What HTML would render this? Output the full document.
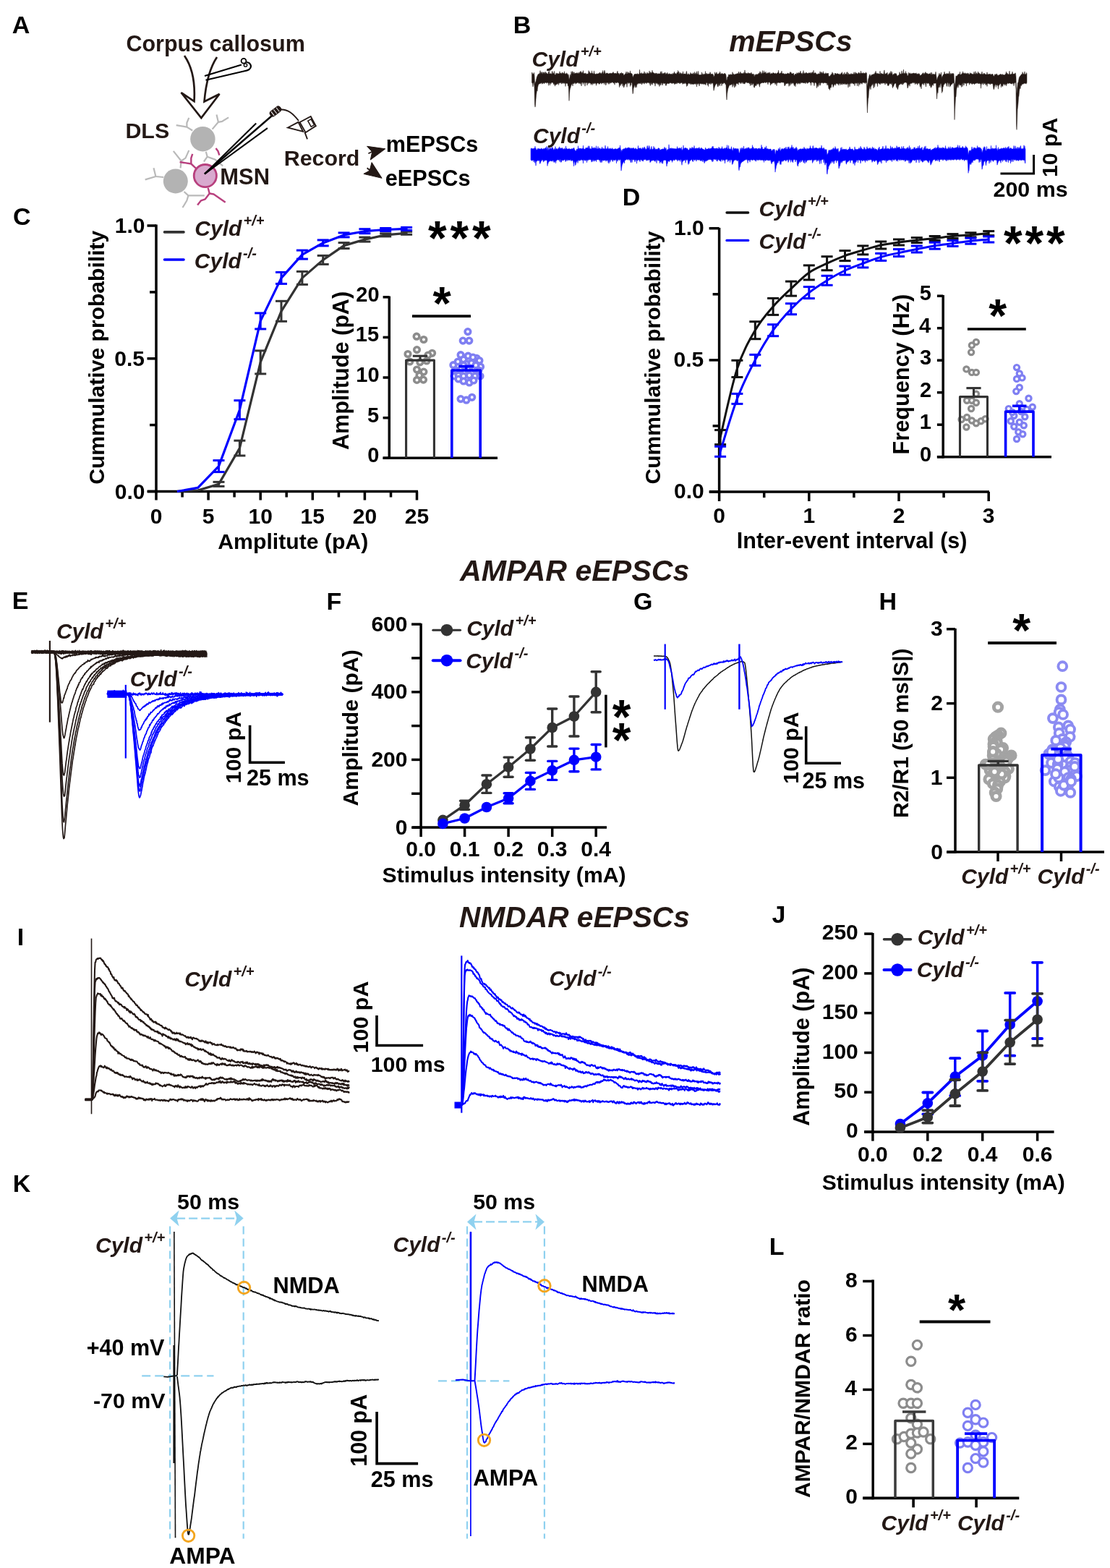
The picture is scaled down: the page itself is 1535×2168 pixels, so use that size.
<!DOCTYPE html>
<html><head><meta charset="utf-8"><title>Figure</title>
<style>html,body{margin:0;padding:0;background:#fff;}body{width:1535px;height:2168px;overflow:hidden;}svg{display:block;}</style>
</head><body>
<svg width="1535" height="2168" viewBox="0 0 1535 2168" font-family="'Liberation Sans', Arial, Helvetica, sans-serif">
<rect width="1535" height="2168" fill="#fff"/>
<text x="16.8" y="45.8" font-size="34" font-weight="bold" fill="#000" text-anchor="start">A</text>
<text x="174.4" y="70.8" font-size="30.5" font-weight="bold" fill="#231815" text-anchor="start">Corpus callosum</text>
<path d="M255,77 Q271,100 268.5,140 L250.5,128 L278.3,163 L303.5,130 L282.5,140.5 Q286,100 300,79" fill="#fff" stroke="#231815" stroke-width="2.7" stroke-linejoin="miter"/>
<path d="M283,105 L334,89.5" fill="none" stroke="#000" stroke-width="2.2"/>
<path d="M284.5,110.8 L337,98.5 Q347,97 347,91.5 Q346,86 340.5,86" fill="none" stroke="#000" stroke-width="2.2"/>
<circle cx="337" cy="84.3" r="3.4" fill="#fff" stroke="#000" stroke-width="1.8"/>
<circle cx="339.5" cy="90" r="2.2" fill="none" stroke="#000" stroke-width="1.3"/>
<polyline points="266.2,180.5 258.4,175.6 243.7,173.2" fill="none" stroke="#b9b9b9" stroke-width="2.2" stroke-linejoin="round"/>
<polyline points="258.4,175.6 258.4,169.8 261.3,162.9" fill="none" stroke="#b9b9b9" stroke-width="2.2" stroke-linejoin="round"/>
<polyline points="293.6,178.6 301.9,168.8 299.5,158.5" fill="none" stroke="#b9b9b9" stroke-width="2.2" stroke-linejoin="round"/>
<polyline points="301.9,168.8 307.3,167.8 316.1,162.4" fill="none" stroke="#b9b9b9" stroke-width="2.2" stroke-linejoin="round"/>
<polyline points="284.8,209.8 286.7,216.7 281.9,223.5" fill="none" stroke="#b9b9b9" stroke-width="2.2" stroke-linejoin="round"/>
<polyline points="286.7,216.7 297.5,220.6 308.2,229.4" fill="none" stroke="#b9b9b9" stroke-width="2.2" stroke-linejoin="round"/>
<polyline points="249.6,232.3 250.6,222.5 239.8,208.9" fill="none" stroke="#b9b9b9" stroke-width="2.2" stroke-linejoin="round"/>
<polyline points="250.6,222.5 256.5,218.6 261.3,207.9" fill="none" stroke="#b9b9b9" stroke-width="2.2" stroke-linejoin="round"/>
<polyline points="226.2,245 215.4,244 212.5,232.3" fill="none" stroke="#b9b9b9" stroke-width="2.2" stroke-linejoin="round"/>
<polyline points="215.4,244 200.7,248.4" fill="none" stroke="#b9b9b9" stroke-width="2.2" stroke-linejoin="round"/>
<polyline points="254.5,265 260.4,270.4 282.8,270.4" fill="none" stroke="#b9b9b9" stroke-width="2.2" stroke-linejoin="round"/>
<polyline points="260.4,270.4 258.4,277.3 252.5,287" fill="none" stroke="#b9b9b9" stroke-width="2.2" stroke-linejoin="round"/>
<circle cx="280.4" cy="192.2" r="17.2" fill="#b3b3b3" stroke="none" stroke-width="0"/>
<circle cx="242.8" cy="250.4" r="17" fill="#b3b3b3" stroke="none" stroke-width="0"/>
<polyline points="271.1,232.8 264.3,226.5 248.6,224" fill="none" stroke="#b8407e" stroke-width="2.4" stroke-linejoin="round"/>
<polyline points="264.3,226.5 264.3,218.6 266.2,212.8" fill="none" stroke="#b8407e" stroke-width="2.4" stroke-linejoin="round"/>
<polyline points="298.5,205 301.5,209 303.4,214.7" fill="none" stroke="#b8407e" stroke-width="2.4" stroke-linejoin="round"/>
<polyline points="287.7,259.7 289.7,267.5 283.8,275.3 278,277.3 273.1,283.6" fill="none" stroke="#b8407e" stroke-width="2.4" stroke-linejoin="round"/>
<polyline points="289.7,267.5 295.5,268.5 311.7,279.7" fill="none" stroke="#b8407e" stroke-width="2.4" stroke-linejoin="round"/>
<circle cx="283.8" cy="243.1" r="15.6" fill="#d8a9ce" stroke="#b8407e" stroke-width="2.8"/>
<line x1="283" y1="240.5" x2="354.2" y2="170.4" stroke="#000" stroke-width="2.1"/>
<line x1="283" y1="240.5" x2="369.9" y2="177.2" stroke="#000" stroke-width="2.1"/>
<line x1="283" y1="240.5" x2="375.5" y2="160.5" stroke="#000" stroke-width="2.4"/>
<g transform="rotate(-38 381 154)"><rect x="372" y="149.5" width="18" height="9" rx="4" fill="#231815"/><line x1="376" y1="150.5" x2="376" y2="157.5" stroke="#fff" stroke-width="1"/><line x1="380.5" y1="150.5" x2="380.5" y2="157.5" stroke="#fff" stroke-width="1"/><line x1="385" y1="150.5" x2="385" y2="157.5" stroke="#fff" stroke-width="1"/></g>
<path d="M388.5,151.5 C398,151 405,157 413,167" fill="none" stroke="#231815" stroke-width="1.9"/>
<path d="M414.5,169 L429.7,161 L436.8,174.1 L422.6,183.2 Z" fill="none" stroke="#231815" stroke-width="1.9" stroke-linejoin="miter"/>
<path d="M398,176.5 L412.5,168.8 L419,181.8 Z" fill="none" stroke="#231815" stroke-width="1.9" stroke-linejoin="miter"/>
<path d="M425.8,167.2 L430.2,164.8 L434.6,172.8 L430.2,175.2 Z" fill="none" stroke="#231815" stroke-width="1.5"/>
<path d="M421.5,183 L425,192.3" fill="none" stroke="#231815" stroke-width="1.9"/>
<text x="173.4" y="191.3" font-size="30.4" font-weight="bold" fill="#231815" text-anchor="start">DLS</text>
<text x="304.3" y="255.4" font-size="30.9" font-weight="bold" fill="#231815" text-anchor="start">MSN</text>
<text x="392.7" y="228.9" font-size="30.4" font-weight="bold" fill="#231815" text-anchor="start">Record</text>
<text x="533.8" y="210.3" font-size="30.6" font-weight="bold" fill="#000" text-anchor="start">mEPSCs</text>
<text x="532.8" y="256.8" font-size="30.7" font-weight="bold" fill="#000" text-anchor="start">eEPSCs</text>
<path d="M532.8,205.8 L507.6,202.3 L514.7,209.9 L512.3,221 Z" fill="#231815" stroke="#231815" stroke-width="1"/>
<path d="M528.1,246.3 L514.1,224.6 L511.1,236 L502.9,240.4 Z" fill="#231815" stroke="#231815" stroke-width="1"/>
<line x1="509.4" y1="212.2" x2="515" y2="209.5" stroke="#231815" stroke-width="1.8"/>
<line x1="507.6" y1="232.2" x2="511.5" y2="235.5" stroke="#231815" stroke-width="1.8"/>
<text x="709.7" y="45.8" font-size="34" font-weight="bold" fill="#000" text-anchor="start">B</text>
<text x="1008.2" y="70.6" font-size="40.9" font-weight="bold" fill="#231815" text-anchor="start" font-style="italic">mEPSCs</text>
<text x="735.5" y="92.1" font-size="30" font-weight="bold" font-style="italic" fill="#231815">Cyld<tspan font-size="20" dx="2.3" dy="-13.8">+/+</tspan></text>
<text x="737" y="197.8" font-size="30" font-weight="bold" font-style="italic" fill="#231815">Cyld<tspan font-size="20" dx="2.3" dy="-13.8">-/-</tspan></text>
<polygon points="735.5,100.5 736,100.2 736.5,102.2 737,102.8 737.5,102 738,101.8 738.5,100.3 739,103.9 739.5,114.7 740,115.7 740.5,113.3 741,113 741.5,110.1 742,108.3 742.5,105.8 743,105.7 743.5,103.8 744,103.1 744.5,102.4 745,102.3 745.5,102.6 746,101.2 746.5,101.7 747,97.5 747.5,102.7 748,99.4 748.5,100.8 749,102.3 749.5,100.6 750,99.4 750.5,102.1 751,102.4 751.5,99.8 752,100.6 752.5,101.5 753,99.5 753.5,101.5 754,102.5 754.5,99.3 755,101.8 755.5,100.6 756,101.3 756.5,101.7 757,102.1 757.5,102.2 758,102.3 758.5,98.9 759,102.4 759.5,98.2 760,101.7 760.5,102.2 761,101.7 761.5,101.4 762,102 762.5,102.4 763,101.9 763.5,98.7 764,98.6 764.5,102.2 765,101.6 765.5,101.2 766,101.5 766.5,98.4 767,102.7 767.5,103.9 768,102.8 768.5,103.4 769,100.8 769.5,102 770,102.6 770.5,101.6 771,101 771.5,102.7 772,101.7 772.5,102.1 773,101.8 773.5,102 774,98.7 774.5,101.7 775,101 775.5,101.9 776,100.8 776.5,102.3 777,101.9 777.5,100 778,102.6 778.5,100.6 779,101.8 779.5,101.3 780,102.4 780.5,98.7 781,101.7 781.5,101.8 782,102.4 782.5,102 783,102.4 783.5,100.7 784,101.9 784.5,101.8 785,103.3 785.5,104.6 786,102.6 786.5,105.5 787,110.6 787.5,108.3 788,107.1 788.5,102.9 789,105.2 789.5,103.9 790,98.8 790.5,102 791,102.1 791.5,98.5 792,102.4 792.5,99.5 793,102.2 793.5,101.9 794,99.6 794.5,102 795,101.7 795.5,101.3 796,101.3 796.5,101.1 797,101.6 797.5,100.5 798,101.5 798.5,101.5 799,102.1 799.5,100 800,101.8 800.5,102 801,101.1 801.5,100.1 802,99.4 802.5,98.7 803,101.1 803.5,98.4 804,102 804.5,100 805,101.4 805.5,101 806,99 806.5,97.6 807,101.6 807.5,101.8 808,101.4 808.5,101.3 809,102.3 809.5,101.4 810,100.8 810.5,102.4 811,102.5 811.5,102.2 812,101.9 812.5,102.2 813,102 813.5,102.2 814,97.6 814.5,98.7 815,101.7 815.5,99.5 816,100.9 816.5,102 817,101.2 817.5,100.9 818,102.1 818.5,97.8 819,102.2 819.5,100.9 820,102.1 820.5,102.6 821,101.4 821.5,97.9 822,101.4 822.5,102 823,102.5 823.5,102.4 824,102.7 824.5,102.6 825,101.6 825.5,102 826,102.2 826.5,102.3 827,101.8 827.5,101.7 828,101.6 828.5,101.6 829,101.5 829.5,99.8 830,100.7 830.5,101.4 831,101.8 831.5,101.4 832,102.4 832.5,99.9 833,102.5 833.5,97.5 834,99.6 834.5,101.7 835,102.3 835.5,98.5 836,97.2 836.5,99 837,101.2 837.5,102.2 838,101.9 838.5,101.1 839,101.1 839.5,101 840,100.9 840.5,101.6 841,101.9 841.5,102.2 842,101.5 842.5,101.4 843,101.8 843.5,101.5 844,102 844.5,101 845,101 845.5,101.9 846,101.6 846.5,101.3 847,100.8 847.5,100.6 848,99.4 848.5,100.9 849,101.3 849.5,101.8 850,101.2 850.5,101.6 851,101.3 851.5,101.3 852,101.5 852.5,101.9 853,101.5 853.5,99.5 854,98.2 854.5,101.8 855,101.6 855.5,101 856,102.2 856.5,103.9 857,102.1 857.5,101.1 858,102.4 858.5,101.2 859,101.5 859.5,100.2 860,101.7 860.5,101.5 861,102.1 861.5,101.2 862,102 862.5,104.2 863,103.7 863.5,103.4 864,103 864.5,102.1 865,101.5 865.5,101.3 866,99 866.5,102.2 867,102 867.5,101.9 868,99.2 868.5,101.1 869,101.5 869.5,100.5 870,101.7 870.5,100.8 871,101.4 871.5,97.9 872,102.2 872.5,101 873,101.3 873.5,101.9 874,101.8 874.5,103.6 875,106.6 875.5,107 876,104.4 876.5,104.5 877,102.8 877.5,102.7 878,102 878.5,102.5 879,103 879.5,102 880,102.3 880.5,102.5 881,102.7 881.5,101.5 882,103 882.5,102.4 883,102.6 883.5,102.4 884,102.6 884.5,96.3 885,101.7 885.5,101.9 886,100.9 886.5,102.2 887,101.9 887.5,100.4 888,102.2 888.5,102 889,102.1 889.5,101.4 890,102.3 890.5,101.5 891,98.8 891.5,101.9 892,101.9 892.5,100.6 893,101.9 893.5,102.4 894,102 894.5,101.3 895,100 895.5,101.8 896,102.2 896.5,101.3 897,101.5 897.5,102.2 898,97.9 898.5,100.9 899,101 899.5,99.5 900,101.9 900.5,101 901,100.1 901.5,100.7 902,97.2 902.5,100.6 903,99.8 903.5,100.5 904,101.5 904.5,101.1 905,101.3 905.5,102.4 906,101.3 906.5,102.1 907,100.8 907.5,102.4 908,102 908.5,101 909,102.8 909.5,102.6 910,101.8 910.5,101.7 911,102.1 911.5,102.2 912,101.8 912.5,101.7 913,102.2 913.5,98.9 914,101.3 914.5,102.6 915,98.6 915.5,102.6 916,101.1 916.5,102.8 917,102 917.5,101.7 918,101.1 918.5,102.6 919,100.3 919.5,102.1 920,100.3 920.5,103.1 921,102.5 921.5,101.6 922,102.4 922.5,101.4 923,100.3 923.5,102.5 924,102.4 924.5,102.8 925,102.2 925.5,101.5 926,102.3 926.5,102.4 927,102.7 927.5,102.2 928,102.5 928.5,102.2 929,102.2 929.5,103 930,102.9 930.5,101.1 931,102 931.5,102.6 932,101 932.5,99 933,101.6 933.5,101.5 934,101.6 934.5,101.9 935,102.2 935.5,102.5 936,100.7 936.5,100.1 937,101.2 937.5,97.4 938,102.2 938.5,98.8 939,99.4 939.5,102.7 940,101.8 940.5,101.6 941,100.2 941.5,102.8 942,101.4 942.5,102.7 943,101.4 943.5,102.8 944,101.6 944.5,98.8 945,102.7 945.5,102.5 946,102.3 946.5,101.8 947,102 947.5,103 948,102.1 948.5,102.6 949,99.6 949.5,98.4 950,102.7 950.5,103.1 951,103.3 951.5,101.9 952,101.6 952.5,103 953,103.2 953.5,103.3 954,102.7 954.5,101.6 955,100.3 955.5,103.1 956,102 956.5,101.7 957,102.5 957.5,102 958,102.9 958.5,100.6 959,101.3 959.5,102.2 960,102.9 960.5,99.4 961,102.2 961.5,102.4 962,100.7 962.5,103 963,101.9 963.5,98.7 964,102.1 964.5,103.2 965,102.1 965.5,98.3 966,102.4 966.5,103.5 967,103.3 967.5,103.8 968,103.5 968.5,103.2 969,103.8 969.5,103.2 970,103.8 970.5,99.8 971,103.2 971.5,103.5 972,101.7 972.5,103.4 973,102.7 973.5,103.6 974,102.1 974.5,102.5 975,103.1 975.5,98.5 976,103 976.5,102.5 977,101.1 977.5,102.3 978,102.2 978.5,102.6 979,102.9 979.5,101.7 980,102.6 980.5,102.3 981,101.8 981.5,102.1 982,99.6 982.5,101.1 983,102.9 983.5,102.7 984,102.1 984.5,102.7 985,101.8 985.5,102.9 986,102.7 986.5,103.8 987,106.8 987.5,105.1 988,105.5 988.5,99.7 989,102.6 989.5,101.7 990,102.6 990.5,100.7 991,99.7 991.5,102.3 992,102.4 992.5,101.9 993,102.4 993.5,102.1 994,102.3 994.5,101 995,102.8 995.5,99 996,100.5 996.5,102.1 997,102.7 997.5,102 998,101.9 998.5,101.1 999,102 999.5,102.3 1000,102.4 1000.5,102 1001,102.9 1001.5,101.5 1002,101.9 1002.5,101.3 1003,102 1003.5,102.5 1004,104 1004.5,110.1 1005,111.5 1005.5,109.4 1006,106.1 1006.5,106.6 1007,105.9 1007.5,102.9 1008,103.3 1008.5,104.1 1009,103 1009.5,103.4 1010,102.4 1010.5,103.3 1011,103.5 1011.5,103.3 1012,103.1 1012.5,102.5 1013,99.6 1013.5,103.3 1014,103.3 1014.5,101.8 1015,102.5 1015.5,103.8 1016,103.1 1016.5,102.7 1017,102.4 1017.5,102.2 1018,102.8 1018.5,101.9 1019,102 1019.5,101.8 1020,101.4 1020.5,102.3 1021,101.1 1021.5,99 1022,102.3 1022.5,101.8 1023,101.7 1023.5,100.1 1024,99.2 1024.5,102.1 1025,101.3 1025.5,101.7 1026,101.8 1026.5,101.3 1027,101.6 1027.5,102 1028,101.4 1028.5,100.2 1029,102 1029.5,101.2 1030,96.9 1030.5,102.1 1031,100.5 1031.5,101.9 1032,101.2 1032.5,101.5 1033,101.7 1033.5,101.7 1034,101.8 1034.5,100.3 1035,101.5 1035.5,101.3 1036,101.9 1036.5,101.2 1037,102 1037.5,100.9 1038,102.2 1038.5,102.3 1039,100.1 1039.5,101.6 1040,102.4 1040.5,102.5 1041,103.1 1041.5,102.7 1042,101.9 1042.5,103.3 1043,105.9 1043.5,105.3 1044,102.9 1044.5,104.3 1045,104.1 1045.5,102.4 1046,103.2 1046.5,103.2 1047,102.6 1047.5,103.3 1048,102.4 1048.5,102.9 1049,101.5 1049.5,100.8 1050,102.6 1050.5,101.2 1051,98.7 1051.5,102 1052,99.7 1052.5,102.1 1053,102.5 1053.5,101.4 1054,101.5 1054.5,97.6 1055,100.6 1055.5,100.9 1056,102 1056.5,97.8 1057,101 1057.5,100.6 1058,100.3 1058.5,101.4 1059,99.1 1059.5,102.1 1060,101.5 1060.5,101.5 1061,101.8 1061.5,101.3 1062,100.3 1062.5,100.9 1063,100.4 1063.5,101.7 1064,101.6 1064.5,99.7 1065,101.6 1065.5,102.7 1066,102.3 1066.5,101.3 1067,102 1067.5,101.8 1068,101.4 1068.5,101.8 1069,100.3 1069.5,100.9 1070,100.8 1070.5,101.6 1071,101.7 1071.5,101.7 1072,101.9 1072.5,100.8 1073,101.7 1073.5,102.2 1074,102.2 1074.5,101 1075,100.9 1075.5,100.8 1076,100.2 1076.5,97.2 1077,100.3 1077.5,101.6 1078,102 1078.5,101.9 1079,101.2 1079.5,100.8 1080,100.9 1080.5,100.6 1081,98 1081.5,101.4 1082,101.9 1082.5,101.7 1083,101.3 1083.5,101.9 1084,101.5 1084.5,102.7 1085,102.3 1085.5,102.2 1086,103 1086.5,101.7 1087,102.8 1087.5,102.3 1088,101.8 1088.5,102 1089,101.4 1089.5,101.1 1090,101.4 1090.5,102 1091,101.4 1091.5,102.4 1092,101.5 1092.5,100 1093,99.3 1093.5,101.1 1094,100.1 1094.5,101.7 1095,101.9 1095.5,102.1 1096,101.6 1096.5,101.9 1097,101.2 1097.5,101.3 1098,104 1098.5,104.2 1099,103.7 1099.5,102.3 1100,102.8 1100.5,102 1101,102.3 1101.5,102.9 1102,100.5 1102.5,101.8 1103,100.8 1103.5,102.5 1104,101.6 1104.5,100.1 1105,101.1 1105.5,101.4 1106,100.6 1106.5,100.3 1107,98.1 1107.5,101 1108,101.5 1108.5,101.4 1109,102.4 1109.5,102.4 1110,100.5 1110.5,101.4 1111,97.5 1111.5,101.9 1112,102 1112.5,101.5 1113,100.6 1113.5,101.2 1114,101.5 1114.5,101.2 1115,100.1 1115.5,100.5 1116,101.8 1116.5,101 1117,101.8 1117.5,101.7 1118,101.3 1118.5,100.5 1119,100.9 1119.5,101.1 1120,101.4 1120.5,100.3 1121,101.8 1121.5,101.9 1122,100.3 1122.5,102 1123,99.8 1123.5,99.7 1124,101.1 1124.5,101.9 1125,97.2 1125.5,101.3 1126,101.2 1126.5,101.2 1127,100.7 1127.5,100.6 1128,100.9 1128.5,101.5 1129,102.9 1129.5,102.4 1130,103 1130.5,102.8 1131,102.5 1131.5,101.6 1132,102.2 1132.5,102.2 1133,102.1 1133.5,101.9 1134,98.8 1134.5,99.5 1135,101.9 1135.5,101.5 1136,99.5 1136.5,100.1 1137,101.1 1137.5,102.1 1138,100.9 1138.5,98.7 1139,102.2 1139.5,101.4 1140,102.2 1140.5,102.2 1141,102.1 1141.5,101.3 1142,100.6 1142.5,102.3 1143,101.8 1143.5,101.3 1144,101.9 1144.5,101.3 1145,101.7 1145.5,101 1146,106.2 1146.5,105.3 1147,105.2 1147.5,105.8 1148,104.8 1148.5,103.7 1149,104.3 1149.5,102.4 1150,103.2 1150.5,101.8 1151,99.7 1151.5,102.2 1152,101.2 1152.5,103.3 1153,103.9 1153.5,103.9 1154,103.6 1154.5,101.1 1155,103.1 1155.5,101 1156,102.8 1156.5,102.6 1157,101.7 1157.5,101.7 1158,102.1 1158.5,101.8 1159,102 1159.5,102.9 1160,102.6 1160.5,101.8 1161,103.3 1161.5,103.3 1162,102.8 1162.5,101.9 1163,102.3 1163.5,100.8 1164,102.5 1164.5,99.6 1165,102.5 1165.5,103.2 1166,103.6 1166.5,101.7 1167,103.4 1167.5,103.1 1168,100 1168.5,103.4 1169,102.6 1169.5,102.1 1170,103.1 1170.5,102.8 1171,99.7 1171.5,103.2 1172,99.5 1172.5,103.4 1173,103.5 1173.5,101.2 1174,102.7 1174.5,102.8 1175,102.5 1175.5,102.9 1176,102.7 1176.5,102.2 1177,101.4 1177.5,102.7 1178,102.5 1178.5,102.8 1179,101.8 1179.5,102.7 1180,102.5 1180.5,102.5 1181,99.7 1181.5,102.2 1182,102.3 1182.5,102.5 1183,99.6 1183.5,102 1184,100.9 1184.5,101.1 1185,102.1 1185.5,102.3 1186,102.4 1186.5,101.2 1187,101.6 1187.5,99.9 1188,102.6 1188.5,100.7 1189,102.7 1189.5,101.3 1190,101.8 1190.5,98.1 1191,101.2 1191.5,101 1192,101.9 1192.5,101.2 1193,101.3 1193.5,101 1194,100.5 1194.5,101.7 1195,101.9 1195.5,101 1196,101.3 1196.5,101.5 1197,101 1197.5,99.7 1198,102.1 1198.5,101.2 1199,114.6 1199.5,120.2 1200,115.6 1200.5,111.4 1201,108.6 1201.5,107.5 1202,104.6 1202.5,103.7 1203,102.6 1203.5,104.7 1204,105.7 1204.5,104.4 1205,104.2 1205.5,103.1 1206,103.5 1206.5,103.3 1207,102.6 1207.5,103 1208,102.6 1208.5,102.2 1209,102.4 1209.5,102.3 1210,100.4 1210.5,101.6 1211,98.2 1211.5,100.9 1212,100.8 1212.5,102 1213,102.5 1213.5,101.5 1214,101.8 1214.5,101.4 1215,102.2 1215.5,102.6 1216,102.1 1216.5,102.6 1217,98.2 1217.5,102.7 1218,102.8 1218.5,101.3 1219,101.3 1219.5,102.2 1220,101.8 1220.5,102.1 1221,102.6 1221.5,102.9 1222,101.7 1222.5,98.7 1223,96.9 1223.5,102.7 1224,102.4 1224.5,102 1225,102 1225.5,102 1226,101 1226.5,101.8 1227,100.1 1227.5,104.1 1228,104.1 1228.5,103.3 1229,102.1 1229.5,101.7 1230,103 1230.5,100.4 1231,102.8 1231.5,100.4 1232,98.3 1232.5,101.7 1233,101.8 1233.5,99.4 1234,102.7 1234.5,104.9 1235,102.4 1235.5,102.7 1236,103 1236.5,102.6 1237,101.7 1237.5,101.1 1238,102 1238.5,102.3 1239,101.4 1239.5,102.1 1240,103.2 1240.5,104.9 1241,105.1 1241.5,105.4 1242,103.8 1242.5,104.1 1243,103.8 1243.5,103.2 1244,99.6 1244.5,102.1 1245,101.9 1245.5,102.7 1246,102.2 1246.5,102.3 1247,97.9 1247.5,101.3 1248,101.7 1248.5,102 1249,100.8 1249.5,96.1 1250,102.2 1250.5,102 1251,100.9 1251.5,101.9 1252,101.6 1252.5,98.5 1253,102.2 1253.5,101.8 1254,101.2 1254.5,103.7 1255,105 1255.5,105 1256,103.2 1256.5,100.2 1257,102.2 1257.5,101.5 1258,102.5 1258.5,100.7 1259,101.8 1259.5,102.4 1260,101.8 1260.5,102.3 1261,101.3 1261.5,102.4 1262,101.2 1262.5,101.7 1263,101.5 1263.5,101 1264,100.8 1264.5,101.9 1265,101.2 1265.5,102 1266,101.5 1266.5,101.5 1267,100.7 1267.5,102.5 1268,102.3 1268.5,102.3 1269,102.5 1269.5,102.4 1270,101.4 1270.5,102.3 1271,102.5 1271.5,101.8 1272,103.8 1272.5,104.8 1273,103.9 1273.5,104 1274,103.4 1274.5,103.2 1275,102.5 1275.5,101.6 1276,102.1 1276.5,100.5 1277,102.8 1277.5,102.4 1278,100.9 1278.5,102.6 1279,102 1279.5,100 1280,99.5 1280.5,101.9 1281,100.9 1281.5,102.6 1282,101.1 1282.5,101.8 1283,102.3 1283.5,102.7 1284,102.2 1284.5,101.9 1285,102.3 1285.5,102.1 1286,101.8 1286.5,102.8 1287,100.3 1287.5,102.8 1288,103.5 1288.5,100.2 1289,103.8 1289.5,102.5 1290,103.5 1290.5,102.6 1291,102 1291.5,103 1292,103.3 1292.5,102.9 1293,103 1293.5,101.9 1294,99.2 1294.5,103.2 1295,106.6 1295.5,111.2 1296,109.8 1296.5,107.4 1297,106.6 1297.5,105.2 1298,104.4 1298.5,102.6 1299,101.2 1299.5,103.7 1300,103.3 1300.5,102.6 1301,103.2 1301.5,100 1302,104.2 1302.5,108.7 1303,105.5 1303.5,105.8 1304,104.1 1304.5,103.1 1305,102.6 1305.5,103 1306,99.1 1306.5,101.4 1307,101.9 1307.5,102.7 1308,101.9 1308.5,102.7 1309,102.4 1309.5,101 1310,101.7 1310.5,102.5 1311,102.1 1311.5,101.5 1312,102.6 1312.5,102.4 1313,98.5 1313.5,103.4 1314,101.3 1314.5,103.9 1315,101.5 1315.5,103 1316,102.3 1316.5,101.3 1317,102.5 1317.5,101.5 1318,102.4 1318.5,101.4 1319,102.2 1319.5,110.8 1320,123.6 1320.5,116.9 1321,114.4 1321.5,109.3 1322,104.7 1322.5,106.1 1323,104.9 1323.5,105 1324,104.5 1324.5,103.2 1325,103.5 1325.5,102.3 1326,103.2 1326.5,102.4 1327,102.4 1327.5,99.2 1328,103.9 1328.5,103 1329,102.9 1329.5,103.1 1330,101.6 1330.5,101.8 1331,101.6 1331.5,98.8 1332,101.6 1332.5,100.8 1333,102.1 1333.5,101.8 1334,101.8 1334.5,100.6 1335,102.5 1335.5,101.8 1336,101.4 1336.5,102.2 1337,101.3 1337.5,102.2 1338,102.6 1338.5,100.9 1339,101.1 1339.5,102.6 1340,102.8 1340.5,103 1341,102.5 1341.5,100.5 1342,101.9 1342.5,101.5 1343,102.1 1343.5,101.5 1344,102.2 1344.5,102.8 1345,102.3 1345.5,102.4 1346,102.8 1346.5,102.3 1347,99.2 1347.5,102.8 1348,101.7 1348.5,102.8 1349,98.6 1349.5,102.8 1350,102.4 1350.5,100.7 1351,101.5 1351.5,102.8 1352,101.9 1352.5,98.9 1353,101.9 1353.5,100.8 1354,100.8 1354.5,102.8 1355,101.5 1355.5,102.7 1356,102.5 1356.5,102.7 1357,102.4 1357.5,101.4 1358,99.1 1358.5,103.1 1359,102.4 1359.5,102.7 1360,103 1360.5,101.1 1361,102.3 1361.5,101.5 1362,102.7 1362.5,102.4 1363,103.2 1363.5,103 1364,102.7 1364.5,102.9 1365,99.8 1365.5,102.4 1366,102.9 1366.5,102.8 1367,103.2 1367.5,102.5 1368,102 1368.5,102.9 1369,102.7 1369.5,101.9 1370,103.3 1370.5,103.2 1371,103.2 1371.5,102.4 1372,103 1372.5,102.1 1373,102.7 1373.5,104.5 1374,104.7 1374.5,105.7 1375,104.8 1375.5,102.7 1376,103.9 1376.5,102.6 1377,103.9 1377.5,103 1378,102 1378.5,102 1379,103.5 1379.5,103.8 1380,104.4 1380.5,103.9 1381,104.2 1381.5,103.8 1382,103.1 1382.5,103.4 1383,103.3 1383.5,102.1 1384,103.2 1384.5,103.1 1385,103 1385.5,104.5 1386,102.2 1386.5,104 1387,103.1 1387.5,103.6 1388,103.5 1388.5,103.7 1389,103.4 1389.5,103.6 1390,103.6 1390.5,102.1 1391,101.8 1391.5,99 1392,102.8 1392.5,101.1 1393,101.1 1393.5,102.4 1394,102.6 1394.5,102.7 1395,102.9 1395.5,102.5 1396,98.1 1396.5,103 1397,102.8 1397.5,102.9 1398,102.8 1398.5,102.3 1399,102.2 1399.5,102.1 1400,99.1 1400.5,101.7 1401,102.5 1401.5,102.6 1402,102.3 1402.5,102 1403,102.3 1403.5,102.3 1404,100.7 1404.5,101.6 1405,106.7 1405.5,124.3 1406,129.9 1406.5,123.5 1407,119.2 1407.5,114.5 1408,114.3 1408.5,112 1409,109.1 1409.5,106.7 1410,106.8 1410.5,105.3 1411,104.7 1411.5,104.3 1412,103.6 1412.5,102.8 1413,102.6 1413.5,103.3 1414,99.5 1414.5,101.8 1415,101.5 1415.5,102.8 1416,103 1416.5,102.1 1417,98.9 1417.5,102.8 1418,103.1 1418.5,102.6 1419,102.8 1419.5,100.5 1420,102 1420,114.7 1419.5,114.6 1419,116.2 1418.5,115 1418,115.4 1417.5,115.2 1417,115.3 1416.5,115.2 1416,115 1415.5,116.1 1415,115.8 1414.5,116.4 1414,115.9 1413.5,116.4 1413,116.9 1412.5,118.6 1412,118.2 1411.5,118.1 1411,122.7 1410.5,121.3 1410,123.2 1409.5,126.4 1409,132.6 1408.5,134.7 1408,142.5 1407.5,147.2 1407,151.7 1406.5,168.1 1406,179.4 1405.5,172.3 1405,123.7 1404.5,114.7 1404,114.1 1403.5,114.3 1403,114.8 1402.5,115.8 1402,118.7 1401.5,114.8 1401,115.6 1400.5,114.5 1400,115.3 1399.5,116.3 1399,115.9 1398.5,115.4 1398,115.9 1397.5,115.3 1397,115.5 1396.5,114.8 1396,115 1395.5,115 1395,115.2 1394.5,115.4 1394,115.6 1393.5,114.6 1393,114.9 1392.5,116.4 1392,116.1 1391.5,118.9 1391,115.5 1390.5,117 1390,115.6 1389.5,118.2 1389,116.6 1388.5,116.2 1388,115.8 1387.5,116.1 1387,118.4 1386.5,119.7 1386,118.5 1385.5,118.9 1385,115.9 1384.5,120.9 1384,116.2 1383.5,115.4 1383,116 1382.5,115.9 1382,117.7 1381.5,118.2 1381,117.1 1380.5,123.2 1380,119.1 1379.5,118.3 1379,116.2 1378.5,117.9 1378,116.3 1377.5,120.6 1377,116.3 1376.5,116.7 1376,117.9 1375.5,118.8 1375,121.5 1374.5,123.6 1374,123.5 1373.5,119.2 1373,116.3 1372.5,115.3 1372,116.1 1371.5,115.4 1371,115.7 1370.5,115.4 1370,116.5 1369.5,116.8 1369,114.7 1368.5,116.3 1368,114.7 1367.5,116.3 1367,114.8 1366.5,115.2 1366,115.8 1365.5,115.5 1365,119.5 1364.5,114.9 1364,116.5 1363.5,116.9 1363,117.6 1362.5,114.7 1362,115.1 1361.5,115.9 1361,114.6 1360.5,115.1 1360,117.3 1359.5,114.6 1359,115.2 1358.5,114.6 1358,116.6 1357.5,114.5 1357,116 1356.5,122.2 1356,115.2 1355.5,115.7 1355,116 1354.5,114.7 1354,115.3 1353.5,115.9 1353,114.6 1352.5,115.3 1352,115.5 1351.5,114.8 1351,114.6 1350.5,115.3 1350,114.8 1349.5,115.6 1349,115.2 1348.5,115.6 1348,115.5 1347.5,116.9 1347,116.2 1346.5,115 1346,115.8 1345.5,115.5 1345,115.7 1344.5,116.7 1344,114.3 1343.5,116.2 1343,115.7 1342.5,114.5 1342,114.7 1341.5,115.3 1341,115 1340.5,117.3 1340,114.4 1339.5,114.6 1339,114.1 1338.5,115.2 1338,114.7 1337.5,115.2 1337,114.4 1336.5,119.1 1336,114.4 1335.5,115.3 1335,115.4 1334.5,115.1 1334,114.8 1333.5,114 1333,118 1332.5,115.4 1332,114.2 1331.5,115.9 1331,119.8 1330.5,115.6 1330,116.2 1329.5,120.5 1329,118.1 1328.5,116.8 1328,118.1 1327.5,116.3 1327,118 1326.5,115.4 1326,116.2 1325.5,117.6 1325,121.3 1324.5,117.3 1324,119.1 1323.5,120.3 1323,122.1 1322.5,125.7 1322,133.9 1321.5,134.2 1321,143.2 1320.5,151.8 1320,165.6 1319.5,134.6 1319,115.6 1318.5,115.1 1318,114.3 1317.5,115 1317,115.7 1316.5,116.7 1316,116.2 1315.5,116.2 1315,117.9 1314.5,118.7 1314,119.1 1313.5,120.3 1313,115.5 1312.5,114.4 1312,116.3 1311.5,119.8 1311,114.7 1310.5,114.2 1310,114.4 1309.5,119.5 1309,118.9 1308.5,114.6 1308,115.4 1307.5,114.7 1307,114.7 1306.5,115.1 1306,116.9 1305.5,116.3 1305,117.4 1304.5,120 1304,119.9 1303.5,126.6 1303,124.6 1302.5,128.5 1302,119.7 1301.5,115.5 1301,115.4 1300.5,115.9 1300,121.1 1299.5,118.1 1299,117.4 1298.5,120.7 1298,121 1297.5,121.3 1297,128.6 1296.5,126 1296,130.5 1295.5,136.8 1295,125.3 1294.5,114.8 1294,115.2 1293.5,115.1 1293,115.1 1292.5,115.2 1292,115.5 1291.5,115 1291,115.2 1290.5,118.5 1290,117 1289.5,117 1289,117.2 1288.5,119.7 1288,119.4 1287.5,121.5 1287,120.2 1286.5,118.2 1286,115.6 1285.5,118.7 1285,116.3 1284.5,115.4 1284,114.4 1283.5,115 1283,115.3 1282.5,115.9 1282,114.4 1281.5,114.4 1281,115.2 1280.5,120.1 1280,117.8 1279.5,114.4 1279,114.5 1278.5,115 1278,115.4 1277.5,117.7 1277,114.7 1276.5,114.9 1276,116.5 1275.5,115.3 1275,115.9 1274.5,117.6 1274,122.9 1273.5,117.4 1273,119.3 1272.5,120.4 1272,117.9 1271.5,114.7 1271,114.4 1270.5,115.4 1270,115.1 1269.5,114.8 1269,116.2 1268.5,117.4 1268,115 1267.5,114.8 1267,115.9 1266.5,115.1 1266,114.6 1265.5,116.9 1265,114.1 1264.5,114.5 1264,113.5 1263.5,115.2 1263,114 1262.5,113.8 1262,114.5 1261.5,115.2 1261,114.3 1260.5,115.2 1260,115.7 1259.5,114.9 1259,115.7 1258.5,115.4 1258,119.3 1257.5,116.1 1257,117 1256.5,116.8 1256,119.2 1255.5,120.9 1255,122 1254.5,117.8 1254,113.9 1253.5,114.3 1253,114.5 1252.5,113.8 1252,114 1251.5,114 1251,113.7 1250.5,114.5 1250,114.7 1249.5,116.1 1249,113.8 1248.5,117.4 1248,114.7 1247.5,116.7 1247,114.5 1246.5,116.5 1246,115 1245.5,116.3 1245,115.2 1244.5,116.9 1244,116.8 1243.5,117.3 1243,117.9 1242.5,119 1242,121.3 1241.5,123.7 1241,123.1 1240.5,120.9 1240,117.7 1239.5,121.1 1239,114.7 1238.5,115.2 1238,115.3 1237.5,115.5 1237,116.1 1236.5,116.7 1236,118.4 1235.5,119.8 1235,119.1 1234.5,121.7 1234,120 1233.5,114.2 1233,114.8 1232.5,116.8 1232,115.3 1231.5,115.7 1231,115.8 1230.5,115 1230,115.8 1229.5,117 1229,118.1 1228.5,118.6 1228,118.7 1227.5,118.2 1227,115.9 1226.5,115 1226,114.9 1225.5,115.6 1225,114.3 1224.5,115.1 1224,117.3 1223.5,114.5 1223,115 1222.5,115.1 1222,114.8 1221.5,115 1221,114.6 1220.5,114.8 1220,115.5 1219.5,115.5 1219,115.2 1218.5,114.4 1218,114.7 1217.5,116.7 1217,115.3 1216.5,116.5 1216,114.9 1215.5,115.4 1215,114.8 1214.5,114.7 1214,114.9 1213.5,119.7 1213,116.3 1212.5,115.5 1212,114.3 1211.5,114.9 1211,115.4 1210.5,114.8 1210,116.8 1209.5,120.3 1209,114.6 1208.5,117.5 1208,121.9 1207.5,118 1207,115.2 1206.5,116.6 1206,117.6 1205.5,116.9 1205,119.4 1204.5,119.5 1204,123.8 1203.5,120.5 1203,118.8 1202.5,121.5 1202,123.3 1201.5,126.4 1201,134.8 1200.5,136.8 1200,144.4 1199.5,156 1199,144 1198.5,115.2 1198,114.3 1197.5,114 1197,114.3 1196.5,115.8 1196,114.1 1195.5,114.6 1195,113.9 1194.5,114.3 1194,114.4 1193.5,113.9 1193,114 1192.5,114.9 1192,116.4 1191.5,115.4 1191,114.7 1190.5,115.1 1190,114.6 1189.5,115.6 1189,117.1 1188.5,115 1188,114.3 1187.5,119.3 1187,114.5 1186.5,114.6 1186,114.6 1185.5,119 1185,114.3 1184.5,115.1 1184,115.3 1183.5,115.3 1183,114.4 1182.5,114.5 1182,118.7 1181.5,114.9 1181,115.6 1180.5,116.1 1180,116.3 1179.5,115.1 1179,115.4 1178.5,114.9 1178,114.6 1177.5,114.6 1177,116.1 1176.5,114.7 1176,114.8 1175.5,116.2 1175,119.9 1174.5,116.2 1174,115.7 1173.5,116.2 1173,121.1 1172.5,115.7 1172,115.5 1171.5,116.3 1171,115.6 1170.5,117.2 1170,115.9 1169.5,115.5 1169,117 1168.5,115 1168,115.1 1167.5,116.2 1167,116.5 1166.5,116 1166,115.7 1165.5,115.3 1165,117.3 1164.5,115.3 1164,115 1163.5,116.5 1163,116.1 1162.5,117.6 1162,115.1 1161.5,115.3 1161,115.4 1160.5,116.1 1160,118.2 1159.5,115.7 1159,115.7 1158.5,116.5 1158,115.7 1157.5,115.3 1157,115.6 1156.5,115.6 1156,116 1155.5,118.3 1155,116.1 1154.5,116.2 1154,116.8 1153.5,117.7 1153,118.6 1152.5,119.7 1152,120.7 1151.5,115.7 1151,116.8 1150.5,116 1150,116.8 1149.5,120.2 1149,121.4 1148.5,120.6 1148,121.8 1147.5,124.6 1147,121.2 1146.5,123 1146,123 1145.5,117.7 1145,117.6 1144.5,114 1144,118 1143.5,115.3 1143,115.1 1142.5,114.5 1142,115.2 1141.5,114.5 1141,114 1140.5,114.7 1140,114.3 1139.5,114.4 1139,114.5 1138.5,115.5 1138,114.4 1137.5,114.5 1137,114.1 1136.5,114.1 1136,115.1 1135.5,114.3 1135,114.9 1134.5,118.1 1134,114.2 1133.5,114.5 1133,118.3 1132.5,114.3 1132,115.2 1131.5,119.8 1131,116 1130.5,118.5 1130,120.1 1129.5,121.7 1129,115.8 1128.5,114.8 1128,114.4 1127.5,113.9 1127,114.3 1126.5,115.3 1126,118.7 1125.5,114.2 1125,114.7 1124.5,114.2 1124,113.6 1123.5,114.1 1123,113.7 1122.5,113.8 1122,113.7 1121.5,118.2 1121,114.3 1120.5,114.5 1120,114 1119.5,113.3 1119,113.3 1118.5,113.6 1118,114.4 1117.5,114.6 1117,114.5 1116.5,115.5 1116,114 1115.5,114.2 1115,113.4 1114.5,113.8 1114,115.8 1113.5,113.9 1113,114.7 1112.5,113.7 1112,115.2 1111.5,114.2 1111,114.7 1110.5,114.7 1110,113.8 1109.5,114.3 1109,114.3 1108.5,114.7 1108,113.8 1107.5,113.8 1107,115.3 1106.5,114.7 1106,116.4 1105.5,114.6 1105,115.1 1104.5,115.2 1104,114.3 1103.5,115.7 1103,116.5 1102.5,114.7 1102,114.5 1101.5,114.7 1101,115.6 1100.5,115.3 1100,119.8 1099.5,116.6 1099,117 1098.5,118.8 1098,117.3 1097.5,115.2 1097,115.3 1096.5,114.2 1096,114.6 1095.5,115.8 1095,115.1 1094.5,114 1094,116.7 1093.5,114.2 1093,114.3 1092.5,118.4 1092,115.8 1091.5,115 1091,119.4 1090.5,114.4 1090,115.8 1089.5,114 1089,115.5 1088.5,115.2 1088,114.9 1087.5,116.1 1087,115.2 1086.5,115.8 1086,117.8 1085.5,118.1 1085,118.9 1084.5,115.7 1084,113.7 1083.5,114 1083,114 1082.5,114.1 1082,113.6 1081.5,114.3 1081,113.5 1080.5,114.1 1080,113.1 1079.5,114.5 1079,114.6 1078.5,114.7 1078,114.1 1077.5,114.3 1077,114.5 1076.5,113.7 1076,114.5 1075.5,114.8 1075,113.7 1074.5,114.1 1074,118.6 1073.5,114.9 1073,115.2 1072.5,114.6 1072,116.9 1071.5,114 1071,115 1070.5,113.9 1070,113.7 1069.5,115 1069,114.7 1068.5,114.5 1068,114.7 1067.5,116.3 1067,115.1 1066.5,115.6 1066,116.7 1065.5,118.1 1065,115.1 1064.5,113.9 1064,113.5 1063.5,113.4 1063,113.8 1062.5,114.2 1062,116.8 1061.5,114.8 1061,113.6 1060.5,113.3 1060,113.7 1059.5,114.4 1059,113.6 1058.5,114.7 1058,113.6 1057.5,113.7 1057,113.6 1056.5,114.8 1056,114.2 1055.5,114.4 1055,114.7 1054.5,114.2 1054,114.1 1053.5,115.1 1053,114.5 1052.5,115.1 1052,114.9 1051.5,116.2 1051,114.7 1050.5,120.3 1050,118.4 1049.5,116.6 1049,116.3 1048.5,115.1 1048,115.8 1047.5,116.9 1047,115.4 1046.5,115.8 1046,118 1045.5,118.9 1045,117.1 1044.5,118.3 1044,118.5 1043.5,120.9 1043,121.2 1042.5,120.2 1042,114.8 1041.5,115.8 1041,115.3 1040.5,117.5 1040,115 1039.5,115.7 1039,117.9 1038.5,113.9 1038,115.2 1037.5,118.6 1037,114.5 1036.5,115.9 1036,114.2 1035.5,114 1035,115.1 1034.5,113.8 1034,114.8 1033.5,113.7 1033,114.7 1032.5,113.5 1032,113.3 1031.5,113.9 1031,114.4 1030.5,113.7 1030,116.1 1029.5,114.9 1029,116.2 1028.5,114.5 1028,115.8 1027.5,114.3 1027,113.5 1026.5,114.1 1026,115.5 1025.5,113.5 1025,113.8 1024.5,114.8 1024,115.8 1023.5,114.8 1023,114 1022.5,113.8 1022,113.9 1021.5,114.1 1021,117.3 1020.5,114 1020,116.1 1019.5,115.3 1019,115.4 1018.5,115.3 1018,116 1017.5,119.4 1017,116.6 1016.5,117.9 1016,121.1 1015.5,120.7 1015,116.1 1014.5,115 1014,118.5 1013.5,115.6 1013,120.5 1012.5,115.9 1012,116.2 1011.5,116.9 1011,116.7 1010.5,117.6 1010,117.9 1009.5,116.8 1009,117.5 1008.5,118.5 1008,119.3 1007.5,120.9 1007,121.8 1006.5,123.8 1006,127 1005.5,130 1005,138.1 1004.5,131.8 1004,118.2 1003.5,115.5 1003,116.6 1002.5,114.8 1002,114.9 1001.5,114.5 1001,114.6 1000.5,114.8 1000,116.2 999.5,116 999,115.1 998.5,115 998,118.8 997.5,115.1 997,114.5 996.5,115.8 996,114.9 995.5,119 995,114.9 994.5,117.7 994,114.5 993.5,119.2 993,119.6 992.5,120 992,117.7 991.5,115.3 991,115.4 990.5,116 990,116.5 989.5,117.2 989,118.2 988.5,119.5 988,121 987.5,123.3 987,125.3 986.5,118.7 986,115.3 985.5,114.9 985,114.3 984.5,115.5 984,115.1 983.5,114.6 983,116.8 982.5,115 982,114.4 981.5,116.2 981,115.2 980.5,115.3 980,114.5 979.5,119.6 979,115.7 978.5,117.9 978,114.6 977.5,114.4 977,114.6 976.5,114.7 976,117.8 975.5,116 975,116.8 974.5,115 974,116.4 973.5,116 973,116.7 972.5,115.6 972,115.4 971.5,116.2 971,116.1 970.5,115.6 970,116.5 969.5,115.4 969,115.6 968.5,115.3 968,116 967.5,116.4 967,119 966.5,115.2 966,115.3 965.5,115.7 965,116.6 964.5,116.1 964,115.1 963.5,120.1 963,116.1 962.5,116 962,114.8 961.5,116.7 961,115.6 960.5,115.9 960,116 959.5,115.7 959,116.9 958.5,116.3 958,116.8 957.5,115.9 957,116.1 956.5,116.3 956,115.1 955.5,117 955,115 954.5,114.9 954,116.4 953.5,115.2 953,115.1 952.5,114.8 952,115.2 951.5,116.2 951,116.9 950.5,118.9 950,115 949.5,119.6 949,114.7 948.5,116.1 948,114.6 947.5,114.6 947,114.8 946.5,115.9 946,114.6 945.5,115.7 945,114.6 944.5,115.6 944,116.5 943.5,114.7 943,114.4 942.5,114.3 942,114.3 941.5,115.1 941,114.2 940.5,115.2 940,116 939.5,114.5 939,114.6 938.5,115.1 938,114.5 937.5,114.4 937,114.4 936.5,114.2 936,116.2 935.5,114.3 935,114.8 934.5,115.7 934,115.9 933.5,114.6 933,116.9 932.5,115.5 932,115.2 931.5,114.8 931,115.3 930.5,114.2 930,115.3 929.5,115.7 929,114.8 928.5,115.1 928,114.8 927.5,114.7 927,114.6 926.5,114.5 926,114.6 925.5,115.5 925,114.9 924.5,115.8 924,115.7 923.5,114.8 923,115.4 922.5,116 922,115 921.5,118.3 921,114.8 920.5,118.4 920,115.6 919.5,114.9 919,115.2 918.5,115.5 918,115.7 917.5,114.6 917,114.8 916.5,116.5 916,118 915.5,115.3 915,114.8 914.5,114.1 914,116.9 913.5,118 913,115.6 912.5,115.2 912,119.6 911.5,118 911,117.1 910.5,116 910,114.8 909.5,116.7 909,115.2 908.5,115.1 908,114.2 907.5,115.7 907,114.1 906.5,114.9 906,119.2 905.5,114.7 905,114.8 904.5,115.5 904,114 903.5,114.5 903,114.7 902.5,114.9 902,117.4 901.5,114.7 901,116.4 900.5,114.4 900,113.8 899.5,118.4 899,118.1 898.5,113.9 898,115.5 897.5,114 897,114.3 896.5,114.6 896,114.1 895.5,114.3 895,114.2 894.5,114.4 894,115.7 893.5,114.4 893,114.6 892.5,114.4 892,114.1 891.5,114.9 891,116.3 890.5,114.7 890,114.6 889.5,113.9 889,115.5 888.5,114 888,115.6 887.5,117.2 887,114.2 886.5,114.3 886,115.8 885.5,114.5 885,115.9 884.5,114.7 884,115 883.5,115.1 883,115.4 882.5,114.9 882,116.6 881.5,115.2 881,116 880.5,118.9 880,121.1 879.5,118.8 879,118.4 878.5,121.2 878,117.6 877.5,117.6 877,119.5 876.5,120.8 876,122.6 875.5,128.4 875,129.7 874.5,120.5 874,114.2 873.5,114.4 873,113.7 872.5,118 872,114.1 871.5,119.6 871,113.8 870.5,114.2 870,115.1 869.5,113.9 869,115.8 868.5,114.1 868,114.2 867.5,114.4 867,120.5 866.5,115.6 866,115.8 865.5,115 865,116.3 864.5,115.7 864,117.5 863.5,118.3 863,120.7 862.5,120.9 862,116.4 861.5,115.4 861,119.3 860.5,115 860,115.2 859.5,115.9 859,116.6 858.5,115.3 858,118.6 857.5,117.3 857,118.6 856.5,120.7 856,115.3 855.5,114.2 855,114.7 854.5,114.1 854,113.6 853.5,114.1 853,114.5 852.5,115.1 852,114.2 851.5,114.3 851,113.9 850.5,113.4 850,117.3 849.5,114 849,115.3 848.5,114.2 848,114.8 847.5,114.1 847,113.4 846.5,113.4 846,114 845.5,114.8 845,113.5 844.5,114.6 844,113.9 843.5,115.5 843,114.2 842.5,113.8 842,116.6 841.5,113.8 841,115.7 840.5,113.9 840,113.9 839.5,114.4 839,114.2 838.5,114.5 838,117.8 837.5,117.4 837,114.1 836.5,114.2 836,114.2 835.5,116.7 835,114.3 834.5,114.2 834,115 833.5,114.4 833,114.7 832.5,114.8 832,116.3 831.5,114.2 831,115.1 830.5,114.4 830,114.3 829.5,115.9 829,114.9 828.5,116.6 828,115.7 827.5,115 827,114.7 826.5,114.7 826,115 825.5,115.2 825,116.1 824.5,118.3 824,115.1 823.5,115.4 823,114.6 822.5,114.6 822,115.6 821.5,116.2 821,115.3 820.5,115.2 820,114.2 819.5,117.6 819,114.7 818.5,115.9 818,115.2 817.5,117.5 817,115.8 816.5,115 816,114.9 815.5,114.5 815,114.2 814.5,114.5 814,115.7 813.5,114.7 813,114.2 812.5,114.9 812,118 811.5,114.2 811,114.1 810.5,114.4 810,114.3 809.5,115.1 809,119.2 808.5,114.3 808,113.9 807.5,114.4 807,114.7 806.5,116.7 806,113.5 805.5,114.3 805,113.7 804.5,115.1 804,119 803.5,114.8 803,114.2 802.5,116.3 802,115.2 801.5,114.1 801,115.5 800.5,115.4 800,114.1 799.5,114.6 799,114.1 798.5,113.9 798,114.9 797.5,115.2 797,115.6 796.5,114.3 796,115 795.5,116.3 795,114.3 794.5,114.3 794,114.4 793.5,116 793,115.2 792.5,114.9 792,119 791.5,115.3 791,116.3 790.5,116.2 790,118.3 789.5,118.6 789,121.3 788.5,121.9 788,124.7 787.5,130.2 787,139.4 786.5,124.2 786,117.7 785.5,119 785,116.3 784.5,115 784,115.1 783.5,115.1 783,115.5 782.5,114.4 782,119.5 781.5,114.5 781,115.4 780.5,114.1 780,115.5 779.5,114.9 779,114.3 778.5,114.8 778,115.6 777.5,114.7 777,114.3 776.5,116.2 776,114.3 775.5,113.9 775,114.8 774.5,114.9 774,114.6 773.5,114.6 773,114.8 772.5,117.6 772,114.6 771.5,115.6 771,116.2 770.5,116.6 770,115.1 769.5,116.8 769,116.9 768.5,116.9 768,117.5 767.5,119.2 767,117.4 766.5,116.5 766,114.5 765.5,116.7 765,114.3 764.5,114.6 764,114 763.5,113.9 763,114 762.5,114.6 762,115.8 761.5,114.4 761,114.8 760.5,118.1 760,115.6 759.5,114 759,115 758.5,118.3 758,114 757.5,114.6 757,113.9 756.5,114.1 756,114.8 755.5,115.2 755,114 754.5,114 754,114.4 753.5,114 753,114.9 752.5,115.9 752,114.9 751.5,114.5 751,114.2 750.5,115.7 750,114.3 749.5,116.3 749,114.8 748.5,114.2 748,114.9 747.5,115.3 747,115.9 746.5,115 746,115.8 745.5,116.2 745,116.5 744.5,116.9 744,119 743.5,121.1 743,126 742.5,124.2 742,128.2 741.5,131.7 741,137.7 740.5,145.7 740,148.1 739.5,144.6 739,119.2 738.5,114.6 738,114.3 737.5,115 737,120 736.5,115.7 736,114.8 735.5,114.3" fill="#231815" stroke="#231815" stroke-width="0.5" stroke-linejoin="round"/>
<polygon points="734,206.2 734.5,205 735,204.7 735.5,205.3 736,205.9 736.5,205.9 737,205 737.5,206.2 738,205.4 738.5,204.9 739,205 739.5,205.2 740,202.2 740.5,206.5 741,204.8 741.5,207.1 742,207.4 742.5,207.1 743,206.9 743.5,205.3 744,206.7 744.5,205.2 745,205.3 745.5,206.5 746,205.6 746.5,205.9 747,206.1 747.5,206.6 748,205.7 748.5,204.7 749,206.3 749.5,205.6 750,206.2 750.5,206.2 751,206.4 751.5,205.3 752,206 752.5,205.4 753,206.7 753.5,205.1 754,205 754.5,203.8 755,205.7 755.5,205.8 756,202.3 756.5,205.4 757,208.5 757.5,204.2 758,207.8 758.5,207.1 759,203.9 759.5,207.2 760,206.8 760.5,204.6 761,205.5 761.5,204.9 762,204.6 762.5,206.7 763,205.3 763.5,203.1 764,205.4 764.5,204.5 765,206.1 765.5,207.2 766,207.2 766.5,205.4 767,207.1 767.5,206.8 768,202.6 768.5,206.2 769,206.2 769.5,205.2 770,205.8 770.5,206.3 771,206.4 771.5,206.2 772,204.5 772.5,205.8 773,205.5 773.5,202.8 774,205.4 774.5,205.3 775,204.3 775.5,205.8 776,205.1 776.5,205 777,205.4 777.5,204 778,206.7 778.5,205.6 779,206.3 779.5,206.3 780,206.4 780.5,204.7 781,206.2 781.5,206.3 782,205.7 782.5,201.9 783,205.2 783.5,205.4 784,205.4 784.5,205.9 785,206.2 785.5,206 786,206.1 786.5,205.9 787,205.2 787.5,205.9 788,206.2 788.5,206.2 789,206 789.5,206.2 790,206 790.5,205.4 791,206.5 791.5,205.8 792,205.2 792.5,205.7 793,205.3 793.5,204.1 794,204.7 794.5,207.2 795,206.8 795.5,208.9 796,208.4 796.5,208.6 797,207.7 797.5,206 798,206.1 798.5,206.5 799,206.6 799.5,201.7 800,205.8 800.5,205.2 801,206.3 801.5,204.8 802,205.6 802.5,205 803,206.4 803.5,204.9 804,206.1 804.5,206.3 805,205.1 805.5,205.3 806,205.9 806.5,201.1 807,205.7 807.5,205.7 808,206 808.5,206.3 809,206.3 809.5,205.7 810,204.2 810.5,205.8 811,204.3 811.5,205.3 812,203.9 812.5,205.7 813,203.7 813.5,201.7 814,205.5 814.5,205.8 815,201.7 815.5,205.4 816,205.2 816.5,205.8 817,206 817.5,206.2 818,205.1 818.5,202.2 819,204.7 819.5,204.9 820,205.4 820.5,203.9 821,205.1 821.5,206.3 822,203.8 822.5,204.1 823,205.4 823.5,205.1 824,205.6 824.5,201.7 825,205.1 825.5,206.2 826,205.6 826.5,206.3 827,202.4 827.5,205.7 828,205.4 828.5,205.2 829,204.9 829.5,204.4 830,206.3 830.5,206.4 831,205.4 831.5,206.1 832,205.7 832.5,203 833,205 833.5,205.6 834,206.7 834.5,204.8 835,206.1 835.5,205.6 836,206.5 836.5,205.6 837,201 837.5,205.8 838,205.4 838.5,205.4 839,206.4 839.5,205.6 840,205 840.5,202.5 841,205.1 841.5,205.5 842,206.6 842.5,206.1 843,205.2 843.5,205.2 844,204.7 844.5,206.2 845,206 845.5,206 846,206.1 846.5,204.5 847,205.4 847.5,206.3 848,206.5 848.5,206.2 849,206 849.5,206.2 850,206.2 850.5,205.7 851,205.4 851.5,205.6 852,206.3 852.5,206.3 853,205.8 853.5,205.9 854,206.2 854.5,205.6 855,205.5 855.5,204.5 856,205 856.5,204.2 857,205.2 857.5,200.9 858,205.1 858.5,206.4 859,210.8 859.5,207.6 860,209.1 860.5,208.3 861,206 861.5,206.9 862,206.8 862.5,205.6 863,205.8 863.5,205.8 864,205.5 864.5,205.6 865,204.4 865.5,203.9 866,205.7 866.5,205.2 867,205.1 867.5,204.8 868,204.5 868.5,204.8 869,203.5 869.5,205.3 870,204.3 870.5,205.7 871,204.1 871.5,204.8 872,205.9 872.5,205.3 873,205.2 873.5,204.4 874,205.8 874.5,205 875,204.8 875.5,204.4 876,205.9 876.5,204.4 877,205.4 877.5,206.2 878,205.8 878.5,206 879,204.5 879.5,205.5 880,206.3 880.5,206.3 881,206.3 881.5,206.4 882,205.6 882.5,201.4 883,205.3 883.5,205.5 884,204.8 884.5,204.9 885,205.2 885.5,205.6 886,204.4 886.5,205.9 887,205.6 887.5,206.2 888,206.3 888.5,203.8 889,206.6 889.5,204.5 890,205.8 890.5,205.7 891,202.9 891.5,204 892,204.5 892.5,206.2 893,206.4 893.5,206 894,206.5 894.5,205 895,201.5 895.5,201.7 896,205.9 896.5,204.8 897,204.4 897.5,201.3 898,202.2 898.5,205.9 899,207.6 899.5,206.3 900,206.5 900.5,204 901,202.3 901.5,206.9 902,206.3 902.5,206.8 903,206 903.5,205 904,202.2 904.5,206.2 905,206 905.5,204 906,206.8 906.5,206.5 907,206.2 907.5,205.9 908,206.5 908.5,206.3 909,206.3 909.5,206.5 910,205.1 910.5,204.5 911,204.9 911.5,206.5 912,205 912.5,208.3 913,207 913.5,207 914,207.2 914.5,206.5 915,205.9 915.5,206.6 916,206.3 916.5,205.9 917,205.7 917.5,206.2 918,206.3 918.5,205.1 919,203.2 919.5,205.6 920,205.3 920.5,206.5 921,204.4 921.5,207.3 922,209.5 922.5,206.8 923,207.5 923.5,206.4 924,206.2 924.5,207.1 925,199.8 925.5,205.4 926,206.4 926.5,205.1 927,205.3 927.5,204.7 928,205.3 928.5,206.3 929,204.5 929.5,205.7 930,205.2 930.5,205.3 931,206.4 931.5,205 932,205.5 932.5,205.8 933,205.8 933.5,205.7 934,205.5 934.5,206.2 935,205.5 935.5,206.1 936,205.7 936.5,202.6 937,205.6 937.5,205.8 938,204.6 938.5,205.8 939,205.1 939.5,204.6 940,206 940.5,204.4 941,205.7 941.5,205.3 942,205.9 942.5,203.4 943,208.2 943.5,207.4 944,206.2 944.5,206.8 945,200.9 945.5,206.4 946,204.9 946.5,206.2 947,204.4 947.5,204.9 948,204.3 948.5,204.3 949,204.8 949.5,205.6 950,205.5 950.5,205.1 951,206.3 951.5,207.2 952,207.5 952.5,207.4 953,206.7 953.5,206.5 954,204.3 954.5,205.9 955,205.3 955.5,204.9 956,205.4 956.5,205.8 957,203.2 957.5,204.8 958,205.8 958.5,204.1 959,205.7 959.5,205.7 960,201.4 960.5,204.8 961,205.5 961.5,204.9 962,205.8 962.5,205.2 963,204.6 963.5,204.8 964,205.4 964.5,205.3 965,204.8 965.5,204.7 966,205.8 966.5,205.1 967,203.5 967.5,205.4 968,205.6 968.5,205.8 969,206.2 969.5,204.2 970,206.1 970.5,204.5 971,205.7 971.5,205.9 972,206 972.5,206.5 973,206.4 973.5,206.6 974,207.3 974.5,207.5 975,206.7 975.5,204.1 976,205.2 976.5,206.5 977,206.6 977.5,205.9 978,206.1 978.5,206.1 979,205.9 979.5,205.4 980,205.6 980.5,204.6 981,206.1 981.5,206 982,205.5 982.5,205.2 983,205 983.5,206 984,204.4 984.5,204.9 985,202.4 985.5,205 986,202 986.5,204.7 987,204.8 987.5,205.1 988,205.8 988.5,205 989,205.5 989.5,205 990,205.5 990.5,205.2 991,204.7 991.5,205.7 992,204.8 992.5,206 993,205.8 993.5,206.1 994,203.2 994.5,205.2 995,205.7 995.5,204.6 996,206.6 996.5,205.9 997,205.1 997.5,205.7 998,204.9 998.5,202.6 999,205 999.5,205.7 1000,206.2 1000.5,205.8 1001,205.9 1001.5,204.8 1002,204.6 1002.5,205.4 1003,206 1003.5,204.5 1004,205.5 1004.5,204.2 1005,204.6 1005.5,200.5 1006,205.7 1006.5,206.1 1007,205.3 1007.5,201.1 1008,206 1008.5,205.7 1009,206 1009.5,206.2 1010,206.3 1010.5,206.4 1011,204.8 1011.5,202.7 1012,206 1012.5,206.9 1013,208.4 1013.5,208 1014,204.4 1014.5,204 1015,206.4 1015.5,205.7 1016,205.6 1016.5,205.2 1017,205.5 1017.5,205.3 1018,206.1 1018.5,206.5 1019,205 1019.5,206.2 1020,206.3 1020.5,206.1 1021,205.4 1021.5,207.8 1022,211.4 1022.5,211.4 1023,210.3 1023.5,207.5 1024,204.6 1024.5,207.1 1025,206.8 1025.5,205.9 1026,204 1026.5,207.3 1027,204.6 1027.5,206.5 1028,206.3 1028.5,201.9 1029,206.6 1029.5,205.9 1030,205.9 1030.5,205.8 1031,205 1031.5,205.6 1032,205.7 1032.5,205.3 1033,204 1033.5,205.7 1034,206 1034.5,204 1035,205.5 1035.5,203.5 1036,205.7 1036.5,205.3 1037,205.4 1037.5,205.4 1038,206.7 1038.5,204.9 1039,205.7 1039.5,204.8 1040,205.5 1040.5,200.6 1041,206.4 1041.5,203 1042,204.6 1042.5,205.6 1043,205.2 1043.5,206.1 1044,205.2 1044.5,205.6 1045,204.7 1045.5,206.4 1046,205 1046.5,205 1047,205.9 1047.5,206.4 1048,205.6 1048.5,206.1 1049,205 1049.5,205.3 1050,204.6 1050.5,206.6 1051,205.5 1051.5,205.9 1052,205.6 1052.5,204.9 1053,200.2 1053.5,205.5 1054,203.1 1054.5,205.7 1055,206 1055.5,206.1 1056,206 1056.5,206 1057,205.9 1057.5,203.6 1058,206.2 1058.5,204 1059,206.1 1059.5,201.8 1060,205.3 1060.5,205.9 1061,205.6 1061.5,205.5 1062,206.2 1062.5,205.8 1063,206.4 1063.5,206.7 1064,205.9 1064.5,206.2 1065,206 1065.5,206.1 1066,206.1 1066.5,207.2 1067,209 1067.5,208.5 1068,208 1068.5,206.7 1069,207.2 1069.5,206.4 1070,206.9 1070.5,206.5 1071,206.2 1071.5,209.1 1072,213.4 1072.5,212.3 1073,208.5 1073.5,207.1 1074,208.3 1074.5,208.9 1075,208.7 1075.5,207.9 1076,207.3 1076.5,205.2 1077,206.9 1077.5,206.8 1078,205.9 1078.5,203.8 1079,209.3 1079.5,208.5 1080,206.9 1080.5,206.3 1081,206.5 1081.5,205 1082,206 1082.5,206.1 1083,206.4 1083.5,206.2 1084,205.3 1084.5,205.6 1085,204.6 1085.5,204.8 1086,206.2 1086.5,206.1 1087,203 1087.5,205.9 1088,206.3 1088.5,206.3 1089,205.5 1089.5,203 1090,206.1 1090.5,204.5 1091,202.8 1091.5,204.7 1092,205.9 1092.5,206 1093,205.3 1093.5,204.3 1094,203.5 1094.5,204.5 1095,200.4 1095.5,205.5 1096,204.8 1096.5,203.8 1097,203.3 1097.5,206 1098,206.1 1098.5,206.1 1099,205.3 1099.5,204.7 1100,205.2 1100.5,206.3 1101,203 1101.5,204.5 1102,205 1102.5,205.7 1103,209.4 1103.5,207.8 1104,207.1 1104.5,207 1105,206.4 1105.5,207.2 1106,205.7 1106.5,206 1107,206.1 1107.5,205.9 1108,205.6 1108.5,206.4 1109,206.3 1109.5,205.5 1110,206.1 1110.5,205.8 1111,205.9 1111.5,205.5 1112,203.2 1112.5,206 1113,205.4 1113.5,205.3 1114,205.6 1114.5,206.6 1115,206.8 1115.5,206.2 1116,204.6 1116.5,206.1 1117,205.8 1117.5,205.8 1118,206.1 1118.5,205.4 1119,205.4 1119.5,204.9 1120,205.1 1120.5,201.5 1121,205.6 1121.5,204.5 1122,205.2 1122.5,205.8 1123,205 1123.5,206.1 1124,201.8 1124.5,201.6 1125,205.8 1125.5,205.2 1126,204.6 1126.5,205.8 1127,204.6 1127.5,205.6 1128,204.1 1128.5,204.7 1129,204.5 1129.5,204.6 1130,205.1 1130.5,205 1131,205.7 1131.5,205.1 1132,206 1132.5,205.8 1133,204 1133.5,205.6 1134,204.9 1134.5,205.8 1135,204.3 1135.5,205.6 1136,200.9 1136.5,203.9 1137,205.3 1137.5,205.6 1138,205.2 1138.5,205.7 1139,204 1139.5,205 1140,206.2 1140.5,208.4 1141,205.9 1141.5,208.1 1142,206.9 1142.5,207.4 1143,206.4 1143.5,212.5 1144,214.5 1144.5,212.6 1145,212.2 1145.5,210.3 1146,207.6 1146.5,208.4 1147,207.2 1147.5,208.8 1148,207.4 1148.5,207.8 1149,207.8 1149.5,206.6 1150,207.3 1150.5,207 1151,206.7 1151.5,205.5 1152,207 1152.5,204.2 1153,206.8 1153.5,206.3 1154,205.1 1154.5,206.8 1155,202.5 1155.5,205.6 1156,204.9 1156.5,206.6 1157,206.5 1157.5,206.7 1158,205.6 1158.5,206.7 1159,205 1159.5,208.4 1160,211.3 1160.5,209.7 1161,209.4 1161.5,208.2 1162,208.5 1162.5,204.4 1163,207 1163.5,207.2 1164,203.4 1164.5,207 1165,207 1165.5,206.5 1166,207.1 1166.5,205.9 1167,206.3 1167.5,206.9 1168,206.1 1168.5,206.5 1169,205.9 1169.5,206.7 1170,207.7 1170.5,205.8 1171,208.1 1171.5,207 1172,207.6 1172.5,207.2 1173,206.4 1173.5,206.2 1174,205.9 1174.5,206.3 1175,202.9 1175.5,205 1176,206 1176.5,206.3 1177,206 1177.5,206.5 1178,206.3 1178.5,205.9 1179,205.7 1179.5,206.6 1180,208.1 1180.5,207.8 1181,208.1 1181.5,207.4 1182,202.9 1182.5,206.4 1183,205.9 1183.5,206.3 1184,206.9 1184.5,206.6 1185,206.5 1185.5,206.5 1186,206.4 1186.5,206.4 1187,206 1187.5,205.7 1188,204.3 1188.5,206.6 1189,205.6 1189.5,206.7 1190,202.2 1190.5,204.3 1191,205 1191.5,204.7 1192,206.5 1192.5,206.4 1193,205.9 1193.5,206 1194,206.7 1194.5,206.9 1195,203.2 1195.5,205.6 1196,204.7 1196.5,206.4 1197,206.6 1197.5,206.7 1198,206.2 1198.5,205.5 1199,202.7 1199.5,205.8 1200,205.2 1200.5,205.4 1201,205.7 1201.5,205.8 1202,204.9 1202.5,206 1203,204 1203.5,204.9 1204,206.1 1204.5,206 1205,206.4 1205.5,205.6 1206,204.5 1206.5,202.9 1207,206.1 1207.5,205.9 1208,204.7 1208.5,204 1209,205.9 1209.5,206.5 1210,206.7 1210.5,205.6 1211,205.8 1211.5,206.4 1212,206 1212.5,206.8 1213,207.6 1213.5,208.3 1214,207.3 1214.5,205.1 1215,207.6 1215.5,204.3 1216,203 1216.5,206.4 1217,206.4 1217.5,206.6 1218,206.3 1218.5,205.8 1219,206.3 1219.5,205.6 1220,205.7 1220.5,204.1 1221,202.1 1221.5,205.9 1222,206.6 1222.5,206.4 1223,204.8 1223.5,206.3 1224,206.1 1224.5,205.5 1225,201.2 1225.5,204.1 1226,206.1 1226.5,206.1 1227,206.3 1227.5,204.7 1228,205.4 1228.5,205.6 1229,205.4 1229.5,206.7 1230,205.7 1230.5,206.5 1231,205.8 1231.5,201.7 1232,204.3 1232.5,206 1233,205.3 1233.5,204.2 1234,202.9 1234.5,205.8 1235,205.3 1235.5,205 1236,205.2 1236.5,205.7 1237,205.3 1237.5,204 1238,205.3 1238.5,205.2 1239,205.2 1239.5,205.2 1240,201.6 1240.5,203.6 1241,204.7 1241.5,204.9 1242,203.2 1242.5,204.8 1243,203.4 1243.5,203.8 1244,203.1 1244.5,205.4 1245,205.6 1245.5,206 1246,205.8 1246.5,205.7 1247,202.4 1247.5,205.5 1248,206.1 1248.5,204.8 1249,205.6 1249.5,202.1 1250,205.6 1250.5,205.7 1251,205.8 1251.5,205 1252,205.8 1252.5,206.4 1253,206 1253.5,205.1 1254,204.5 1254.5,206.4 1255,203.6 1255.5,203.7 1256,205.5 1256.5,205.7 1257,205.2 1257.5,201.4 1258,205.3 1258.5,207.6 1259,203.8 1259.5,207.8 1260,206.4 1260.5,207 1261,206.8 1261.5,206.5 1262,205.5 1262.5,206.5 1263,206 1263.5,206.2 1264,203.7 1264.5,205.4 1265,203.5 1265.5,205.6 1266,205.9 1266.5,205.7 1267,205.2 1267.5,204.8 1268,205.1 1268.5,205 1269,205.7 1269.5,202.3 1270,204.6 1270.5,205.6 1271,204.8 1271.5,201 1272,205.5 1272.5,205.8 1273,204.9 1273.5,205.8 1274,204.5 1274.5,205.5 1275,203.2 1275.5,207 1276,207.8 1276.5,207.2 1277,206.6 1277.5,204.6 1278,206.2 1278.5,202.6 1279,206.1 1279.5,205.3 1280,201.8 1280.5,206.3 1281,206.1 1281.5,206.2 1282,205 1282.5,206.3 1283,205.4 1283.5,206.3 1284,206.2 1284.5,206.4 1285,206 1285.5,206.1 1286,206 1286.5,205.5 1287,207.3 1287.5,208 1288,207.4 1288.5,207.1 1289,206.8 1289.5,206.3 1290,206 1290.5,206.3 1291,205.6 1291.5,205.5 1292,204.6 1292.5,205.5 1293,204.8 1293.5,203.6 1294,205.8 1294.5,205.4 1295,205.2 1295.5,204.1 1296,204 1296.5,205 1297,200.4 1297.5,205.7 1298,203.2 1298.5,205.7 1299,204.8 1299.5,204.8 1300,204.6 1300.5,206 1301,204.3 1301.5,204.2 1302,205.3 1302.5,205.1 1303,205.6 1303.5,203.5 1304,204.6 1304.5,204.6 1305,204.3 1305.5,204.4 1306,205.6 1306.5,205.4 1307,205.6 1307.5,201.5 1308,205.4 1308.5,204.7 1309,206.2 1309.5,206 1310,205.7 1310.5,205.6 1311,205.2 1311.5,202.9 1312,206.2 1312.5,204.7 1313,206.1 1313.5,204.7 1314,202.7 1314.5,205.7 1315,205.3 1315.5,205.7 1316,204.8 1316.5,203.5 1317,203.8 1317.5,203.9 1318,205.2 1318.5,204.5 1319,205 1319.5,205.2 1320,204.3 1320.5,204.9 1321,204 1321.5,204.2 1322,204.9 1322.5,203.7 1323,204.6 1323.5,203.2 1324,205.3 1324.5,200.5 1325,202.8 1325.5,205.1 1326,204.5 1326.5,204.6 1327,201 1327.5,204.7 1328,204.2 1328.5,204.8 1329,204.2 1329.5,204.6 1330,204.3 1330.5,204.6 1331,202.2 1331.5,202.8 1332,204.7 1332.5,204.3 1333,205.7 1333.5,205.1 1334,203.9 1334.5,204.8 1335,205.1 1335.5,201.7 1336,204.7 1336.5,203.1 1337,205.3 1337.5,204.2 1338,205 1338.5,207.4 1339,214.2 1339.5,211.7 1340,210 1340.5,207.9 1341,208.6 1341.5,207.8 1342,208.2 1342.5,209.4 1343,207.3 1343.5,206.6 1344,202.9 1344.5,205 1345,206.4 1345.5,206.5 1346,206.1 1346.5,203.9 1347,205.6 1347.5,204 1348,204 1348.5,205.9 1349,204.5 1349.5,205.3 1350,205.5 1350.5,205.1 1351,205.3 1351.5,201.5 1352,203.4 1352.5,204.1 1353,205.1 1353.5,203.5 1354,203.9 1354.5,205.2 1355,203.5 1355.5,204.9 1356,204.8 1356.5,205.4 1357,205.6 1357.5,206.9 1358,211.1 1358.5,210.2 1359,207.9 1359.5,207.2 1360,204.2 1360.5,207.3 1361,202.6 1361.5,205.4 1362,202.9 1362.5,205.4 1363,207.8 1363.5,208.8 1364,208 1364.5,202.5 1365,206.5 1365.5,206.5 1366,206 1366.5,206.1 1367,206.2 1367.5,205.6 1368,205.7 1368.5,206.4 1369,206.6 1369.5,205.9 1370,206.4 1370.5,201.3 1371,205.9 1371.5,205.7 1372,206.4 1372.5,204.5 1373,206.3 1373.5,206.1 1374,205 1374.5,206.1 1375,206.2 1375.5,205.3 1376,206 1376.5,205.1 1377,206.3 1377.5,200.7 1378,206 1378.5,206.9 1379,205.4 1379.5,208.6 1380,207.8 1380.5,203.6 1381,206.7 1381.5,206.8 1382,205.7 1382.5,206.6 1383,205.8 1383.5,205.7 1384,206 1384.5,206 1385,204.6 1385.5,205.7 1386,204.9 1386.5,206.4 1387,205 1387.5,204.6 1388,205.8 1388.5,204.2 1389,205 1389.5,205.8 1390,205.1 1390.5,203.3 1391,205.8 1391.5,205.1 1392,205.9 1392.5,203.8 1393,205.4 1393.5,205.6 1394,202.9 1394.5,205.4 1395,202.3 1395.5,205.9 1396,205.6 1396.5,206.1 1397,204.6 1397.5,204.6 1398,205.5 1398.5,204.7 1399,205.9 1399.5,206 1400,205.9 1400.5,206 1401,205.5 1401.5,205.8 1402,201.4 1402.5,205.5 1403,206 1403.5,205.9 1404,201.7 1404.5,205 1405,205.5 1405.5,205.5 1406,206.3 1406.5,203.4 1407,205.6 1407.5,206.4 1408,203.4 1408.5,205.6 1409,205.8 1409.5,203.8 1410,206.1 1410.5,205.4 1411,202 1411.5,201.5 1412,205.2 1412.5,205.9 1413,205.4 1413.5,206.4 1414,205.3 1414.5,205.6 1415,206.2 1415.5,204.8 1416,200.7 1416.5,206.3 1417,201.8 1417.5,205.8 1418,205.6 1418,225.8 1417.5,225.5 1417,222.1 1416.5,220.9 1416,220.9 1415.5,222.1 1415,221 1414.5,220.9 1414,220.9 1413.5,220.8 1413,222.1 1412.5,221.1 1412,221.5 1411.5,221.8 1411,220.6 1410.5,221.4 1410,220.7 1409.5,220.9 1409,222 1408.5,222.4 1408,221.9 1407.5,220.8 1407,222.1 1406.5,220.6 1406,221.9 1405.5,222.3 1405,221.1 1404.5,220.5 1404,220.7 1403.5,222.1 1403,220.6 1402.5,221.1 1402,220.4 1401.5,221.1 1401,223.7 1400.5,220.8 1400,220.4 1399.5,221 1399,223.8 1398.5,220.6 1398,220.8 1397.5,226 1397,221 1396.5,221.6 1396,221.5 1395.5,221.6 1395,221.1 1394.5,224.8 1394,221.4 1393.5,220.4 1393,220.4 1392.5,221.7 1392,224.2 1391.5,221 1391,220.7 1390.5,223.4 1390,221.5 1389.5,220.7 1389,220.9 1388.5,220.8 1388,222 1387.5,220.5 1387,220.3 1386.5,223.6 1386,221.6 1385.5,220.8 1385,221.8 1384.5,221 1384,225.4 1383.5,222 1383,223.1 1382.5,221.3 1382,221.5 1381.5,222.2 1381,223 1380.5,223.6 1380,225.1 1379.5,226.5 1379,228.2 1378.5,222.8 1378,221.1 1377.5,221.5 1377,221.5 1376.5,221.3 1376,221.1 1375.5,221.1 1375,221.8 1374.5,221.3 1374,222.4 1373.5,223.7 1373,221.8 1372.5,221.5 1372,222.4 1371.5,220.8 1371,221.2 1370.5,220.7 1370,224.7 1369.5,221.8 1369,221.7 1368.5,222.4 1368,226.2 1367.5,223.1 1367,222.1 1366.5,221.4 1366,222 1365.5,222 1365,222.6 1364.5,223.5 1364,224.8 1363.5,228.9 1363,226.3 1362.5,221.6 1362,222.5 1361.5,223.1 1361,223.5 1360.5,224.1 1360,228.1 1359.5,229 1359,229 1358.5,232.3 1358,234.2 1357.5,225.1 1357,220.2 1356.5,220.3 1356,221.3 1355.5,224.1 1355,221 1354.5,221.3 1354,224.8 1353.5,220.6 1353,219.8 1352.5,220.5 1352,220 1351.5,220 1351,220 1350.5,219.8 1350,220.5 1349.5,220.6 1349,220.5 1348.5,220.6 1348,222.3 1347.5,221.6 1347,221.2 1346.5,222.1 1346,221.4 1345.5,222.3 1345,225.1 1344.5,223 1344,223.5 1343.5,225.2 1343,226.2 1342.5,227.8 1342,226.5 1341.5,225.7 1341,227.3 1340.5,229.3 1340,236.3 1339.5,235.4 1339,239.4 1338.5,227.1 1338,221.4 1337.5,221.1 1337,220.2 1336.5,221.5 1336,220.6 1335.5,220.9 1335,220.9 1334.5,221.1 1334,220.7 1333.5,222.7 1333,220.3 1332.5,220.7 1332,220.8 1331.5,220.7 1331,221.1 1330.5,221.3 1330,219.9 1329.5,219.6 1329,219.8 1328.5,219.8 1328,221.2 1327.5,219.7 1327,221.6 1326.5,219.9 1326,220.2 1325.5,219.9 1325,221.1 1324.5,220.1 1324,219.7 1323.5,220.9 1323,220 1322.5,221.7 1322,220.8 1321.5,220.2 1321,219.4 1320.5,220.7 1320,220.6 1319.5,219.5 1319,221.4 1318.5,220.7 1318,221.3 1317.5,220.9 1317,220.6 1316.5,220.2 1316,220.9 1315.5,220 1315,222 1314.5,220.2 1314,220.9 1313.5,220.6 1313,220.3 1312.5,221.1 1312,221.6 1311.5,220.4 1311,220.6 1310.5,220.4 1310,222.2 1309.5,220.6 1309,220.5 1308.5,222.8 1308,220.3 1307.5,221.2 1307,220.9 1306.5,220.8 1306,220.5 1305.5,220.2 1305,220.5 1304.5,221.1 1304,222.2 1303.5,220.8 1303,220.6 1302.5,220.3 1302,220.8 1301.5,220.7 1301,220.5 1300.5,220.4 1300,220.6 1299.5,221.6 1299,224 1298.5,220.9 1298,222 1297.5,220.1 1297,220 1296.5,220.9 1296,222.7 1295.5,219.8 1295,222.1 1294.5,221.2 1294,220.8 1293.5,223 1293,220 1292.5,220.8 1292,220.7 1291.5,220.2 1291,221.3 1290.5,221 1290,222.1 1289.5,222.3 1289,224.6 1288.5,223.6 1288,226.8 1287.5,226.6 1287,228.3 1286.5,225.3 1286,222.2 1285.5,221.1 1285,222.2 1284.5,222.8 1284,225.3 1283.5,223.9 1283,223.4 1282.5,222.2 1282,222.4 1281.5,221.5 1281,221.4 1280.5,221.7 1280,220.8 1279.5,221.7 1279,221.4 1278.5,222.6 1278,221.3 1277.5,221.6 1277,222.9 1276.5,223.9 1276,224.3 1275.5,224.2 1275,222.4 1274.5,221.5 1274,222.3 1273.5,223.2 1273,220 1272.5,220.4 1272,221.1 1271.5,220.3 1271,225.2 1270.5,220.3 1270,220.6 1269.5,221.4 1269,220.4 1268.5,220.8 1268,220.7 1267.5,221.2 1267,225 1266.5,220.6 1266,221.3 1265.5,220.9 1265,221.5 1264.5,222.2 1264,221.9 1263.5,221.1 1263,221 1262.5,221 1262,221 1261.5,222.3 1261,222.7 1260.5,224.6 1260,223.6 1259.5,224.2 1259,226 1258.5,225.3 1258,221.2 1257.5,221.3 1257,225.7 1256.5,221.3 1256,221.8 1255.5,220.4 1255,222.4 1254.5,220.7 1254,221.5 1253.5,221.3 1253,220.5 1252.5,222.9 1252,220.7 1251.5,223.5 1251,221.3 1250.5,221.2 1250,220.6 1249.5,221.8 1249,221 1248.5,221 1248,221.2 1247.5,220.7 1247,221.5 1246.5,221.5 1246,220.6 1245.5,220.6 1245,220.8 1244.5,222.3 1244,220.2 1243.5,220.8 1243,221.2 1242.5,220 1242,220.7 1241.5,223.3 1241,220.6 1240.5,221.8 1240,221.2 1239.5,222.9 1239,220.3 1238.5,220.3 1238,220.7 1237.5,220.2 1237,220.4 1236.5,222 1236,220.8 1235.5,220.5 1235,221.6 1234.5,219.9 1234,220.2 1233.5,223.8 1233,221.6 1232.5,220.6 1232,222 1231.5,221.7 1231,220.9 1230.5,220.7 1230,221.1 1229.5,221.7 1229,220.8 1228.5,220.8 1228,222 1227.5,222.4 1227,222 1226.5,222.5 1226,220.6 1225.5,225 1225,221 1224.5,220.8 1224,222.5 1223.5,221.3 1223,221.7 1222.5,221.7 1222,221.1 1221.5,221.1 1221,221.9 1220.5,221.5 1220,221.6 1219.5,221.3 1219,226.1 1218.5,221.4 1218,221.9 1217.5,224.3 1217,222.6 1216.5,221.8 1216,223.2 1215.5,224.2 1215,223.1 1214.5,225.6 1214,226.8 1213.5,227.7 1213,223.7 1212.5,222.5 1212,221.4 1211.5,221.3 1211,220.9 1210.5,222.7 1210,221.8 1209.5,223.9 1209,222.3 1208.5,221.1 1208,222.9 1207.5,220.5 1207,222.5 1206.5,223 1206,224.5 1205.5,221.8 1205,220.9 1204.5,220.8 1204,220.8 1203.5,221.3 1203,220.6 1202.5,220.9 1202,220.7 1201.5,221.8 1201,221.7 1200.5,220.6 1200,220.8 1199.5,222.4 1199,222.9 1198.5,221.6 1198,221.3 1197.5,221.4 1197,222.2 1196.5,224.6 1196,221 1195.5,222.4 1195,221.2 1194.5,221.5 1194,221.2 1193.5,222.7 1193,220.8 1192.5,223.1 1192,220.8 1191.5,221.4 1191,221.2 1190.5,222.9 1190,226 1189.5,221.2 1189,221 1188.5,221.7 1188,221.6 1187.5,221 1187,220.8 1186.5,225 1186,221 1185.5,221.5 1185,221.5 1184.5,221.8 1184,224.1 1183.5,221.9 1183,225.3 1182.5,222.9 1182,228.8 1181.5,223.6 1181,224.2 1180.5,225.2 1180,226.7 1179.5,222.9 1179,221.2 1178.5,221.7 1178,221.8 1177.5,221.7 1177,221.8 1176.5,221.7 1176,225.3 1175.5,221.1 1175,222.1 1174.5,221.3 1174,222 1173.5,223.3 1173,222.2 1172.5,223.7 1172,223.5 1171.5,224.4 1171,225.1 1170.5,227.2 1170,225.9 1169.5,221.4 1169,221.3 1168.5,221.7 1168,222.4 1167.5,222 1167,222.3 1166.5,221.7 1166,222.7 1165.5,222.1 1165,223.2 1164.5,224.1 1164,225.3 1163.5,222.8 1163,223.2 1162.5,224.9 1162,226.4 1161.5,229.3 1161,229 1160.5,231.8 1160,233.1 1159.5,227.6 1159,221.1 1158.5,222 1158,222.5 1157.5,221.9 1157,221.9 1156.5,225.2 1156,221.1 1155.5,221.2 1155,222.3 1154.5,222.5 1154,221.3 1153.5,225.7 1153,226.5 1152.5,221.8 1152,223.6 1151.5,221.9 1151,224.9 1150.5,222.4 1150,222.7 1149.5,223.4 1149,226.3 1148.5,223.8 1148,225.8 1147.5,228 1147,227.3 1146.5,229.9 1146,228.9 1145.5,233.6 1145,233.5 1144.5,236.3 1144,240.9 1143.5,239 1143,225.3 1142.5,224.9 1142,225.1 1141.5,226.6 1141,228.3 1140.5,225.9 1140,220.7 1139.5,220.6 1139,225.1 1138.5,220.2 1138,220.1 1137.5,220.6 1137,220.9 1136.5,221 1136,220.3 1135.5,226.3 1135,221.3 1134.5,221.5 1134,220.5 1133.5,226.8 1133,223.4 1132.5,220.5 1132,220.6 1131.5,222.3 1131,221.3 1130.5,221.1 1130,222.9 1129.5,223.4 1129,220.5 1128.5,221.2 1128,220.6 1127.5,221.2 1127,221.3 1126.5,221.5 1126,220.2 1125.5,221.6 1125,221.4 1124.5,223.6 1124,224.3 1123.5,225.5 1123,220.6 1122.5,220.7 1122,220.8 1121.5,221.5 1121,221.1 1120.5,221.4 1120,220.8 1119.5,221.5 1119,220.8 1118.5,221.2 1118,221.3 1117.5,221.6 1117,221.7 1116.5,221.5 1116,221.5 1115.5,223.4 1115,224.6 1114.5,224.1 1114,221.2 1113.5,220.9 1113,226.2 1112.5,221.4 1112,222.2 1111.5,224.9 1111,224.7 1110.5,221.8 1110,221 1109.5,221 1109,222.3 1108.5,223.3 1108,224.2 1107.5,221.2 1107,221.5 1106.5,225 1106,222.7 1105.5,222.9 1105,224.2 1104.5,226.4 1104,225.9 1103.5,230.1 1103,229.3 1102.5,227.9 1102,220.9 1101.5,220.9 1101,221.5 1100.5,220.8 1100,224 1099.5,221.1 1099,220.4 1098.5,220.9 1098,220.6 1097.5,220.5 1097,222.1 1096.5,224.9 1096,223 1095.5,223.6 1095,221.1 1094.5,221.1 1094,220.8 1093.5,224.4 1093,220.4 1092.5,220.2 1092,221.7 1091.5,220.1 1091,220.2 1090.5,223.5 1090,224.5 1089.5,221.4 1089,220.6 1088.5,221.2 1088,221.2 1087.5,221 1087,223.1 1086.5,222.4 1086,221.5 1085.5,221.1 1085,221.2 1084.5,221.6 1084,221.6 1083.5,222.4 1083,222.3 1082.5,223.5 1082,221.8 1081.5,222.5 1081,223.7 1080.5,223.4 1080,227.6 1079.5,225.6 1079,227.5 1078.5,225.7 1078,221.7 1077.5,222.3 1077,222.4 1076.5,222.8 1076,225.6 1075.5,223.8 1075,225.1 1074.5,225.9 1074,228.5 1073.5,229 1073,232.7 1072.5,234.5 1072,238.1 1071.5,227.3 1071,224.5 1070.5,222 1070,222.7 1069.5,223 1069,223.7 1068.5,223.5 1068,224.1 1067.5,225.6 1067,226.7 1066.5,225.1 1066,223 1065.5,221.5 1065,220.8 1064.5,220.9 1064,222.3 1063.5,220.9 1063,222.2 1062.5,221.4 1062,221.4 1061.5,221.8 1061,221.3 1060.5,220.6 1060,221.7 1059.5,221.1 1059,222.1 1058.5,222.2 1058,222.2 1057.5,221.1 1057,220.8 1056.5,224.5 1056,221 1055.5,221.6 1055,222.2 1054.5,221.3 1054,220.7 1053.5,221 1053,221.2 1052.5,222 1052,220.8 1051.5,220.7 1051,221.6 1050.5,220.7 1050,220.8 1049.5,221 1049,221.5 1048.5,221.6 1048,220.5 1047.5,221.5 1047,220.9 1046.5,220.7 1046,221.1 1045.5,223.1 1045,223.1 1044.5,221.4 1044,220.7 1043.5,221.4 1043,221.4 1042.5,220.8 1042,220.5 1041.5,221.1 1041,221.7 1040.5,221.6 1040,221.6 1039.5,220.6 1039,221.3 1038.5,220.7 1038,220.9 1037.5,221.8 1037,224.2 1036.5,221.3 1036,221.5 1035.5,221.2 1035,221.7 1034.5,220.9 1034,225.5 1033.5,220.3 1033,221.4 1032.5,220 1032,220.1 1031.5,221.2 1031,220.4 1030.5,221.2 1030,221.4 1029.5,221.8 1029,221.6 1028.5,222.7 1028,222 1027.5,223 1027,223.9 1026.5,223.7 1026,223 1025.5,224.9 1025,225.3 1024.5,225.8 1024,227.5 1023.5,230.8 1023,230.2 1022.5,232.8 1022,235.8 1021.5,233 1021,220.4 1020.5,221.9 1020,222.1 1019.5,222.7 1019,222.5 1018.5,220.6 1018,221.4 1017.5,221 1017,221.3 1016.5,220.8 1016,221.7 1015.5,221.6 1015,221.9 1014.5,223.3 1014,223.9 1013.5,226.2 1013,226.8 1012.5,227.5 1012,221.2 1011.5,221 1011,220.7 1010.5,220.8 1010,222.1 1009.5,224.7 1009,220.7 1008.5,221 1008,221.4 1007.5,222.4 1007,221.2 1006.5,224 1006,220.1 1005.5,220.6 1005,220.1 1004.5,220.5 1004,220.5 1003.5,220.8 1003,221.5 1002.5,226 1002,221.6 1001.5,221.7 1001,221 1000.5,220.7 1000,221 999.5,222.7 999,221.2 998.5,220.5 998,220.4 997.5,220.5 997,223.6 996.5,221.7 996,222.6 995.5,222.4 995,221.3 994.5,221.8 994,220.9 993.5,220.5 993,220.3 992.5,221.8 992,223.2 991.5,220.1 991,222.7 990.5,220 990,219.9 989.5,220.3 989,221.1 988.5,220.2 988,220.4 987.5,219.8 987,219.9 986.5,221.2 986,223.3 985.5,220.2 985,224 984.5,221.2 984,221.9 983.5,220.8 983,220.7 982.5,220.3 982,220.9 981.5,220.8 981,220.2 980.5,220.5 980,220.7 979.5,220.9 979,221.6 978.5,221.4 978,221.8 977.5,222.3 977,222.5 976.5,221.6 976,223.4 975.5,222 975,222.6 974.5,224.7 974,225.7 973.5,222.2 973,221.6 972.5,221 972,223.9 971.5,221.6 971,220.4 970.5,222.9 970,221 969.5,221.4 969,222.4 968.5,222.5 968,221.4 967.5,221.2 967,220.5 966.5,220.9 966,221.1 965.5,221.4 965,221.1 964.5,220.7 964,221 963.5,220.6 963,223.1 962.5,221.6 962,220.5 961.5,220.4 961,221.3 960.5,221.9 960,220.8 959.5,220.8 959,220 958.5,223.7 958,222.5 957.5,223.1 957,220.9 956.5,220.3 956,221.1 955.5,220.9 955,221.6 954.5,222.5 954,222.4 953.5,222.5 953,226.2 952.5,224.3 952,227.5 951.5,225.8 951,220.8 950.5,220.2 950,221.7 949.5,220.4 949,220.7 948.5,221.9 948,225.3 947.5,220.6 947,220.5 946.5,221.9 946,221.4 945.5,222 945,222 944.5,223.3 944,223.1 943.5,224 943,228.3 942.5,224.8 942,221.3 941.5,220.5 941,220.5 940.5,223.4 940,221.3 939.5,220.9 939,221.7 938.5,220.5 938,221.5 937.5,220.6 937,223.1 936.5,220.8 936,221.3 935.5,220.8 935,220.4 934.5,220.4 934,220.4 933.5,220.3 933,222 932.5,222 932,221 931.5,220.5 931,221.4 930.5,222.4 930,221.7 929.5,224.5 929,221.1 928.5,222.2 928,221.1 927.5,221.2 927,220.8 926.5,222 926,221.7 925.5,223.9 925,223 924.5,222.7 924,222.3 923.5,223.4 923,226.4 922.5,226.1 922,230.1 921.5,226.2 921,221.3 920.5,221.8 920,221 919.5,221.7 919,221.1 918.5,221.3 918,222.1 917.5,221.6 917,223.1 916.5,226.3 916,226.1 915.5,221.4 915,225.7 914.5,221.9 914,223.8 913.5,223.5 913,223.9 912.5,225.8 912,222.8 911.5,221.9 911,221.9 910.5,221.6 910,222.4 909.5,221.5 909,220.8 908.5,220.7 908,225.7 907.5,221.5 907,221.5 906.5,221.5 906,223.6 905.5,222.2 905,222.7 904.5,221.2 904,222.1 903.5,221.3 903,221.7 902.5,222.1 902,221.8 901.5,222 901,222.3 900.5,222.2 900,223.7 899.5,223.8 899,224.8 898.5,221.3 898,221.3 897.5,221 897,220.5 896.5,221.7 896,221.8 895.5,221.5 895,220.5 894.5,221.7 894,222.4 893.5,221.2 893,220.6 892.5,220.6 892,220.5 891.5,220.8 891,220.9 890.5,221 890,220.4 889.5,223.2 889,220.7 888.5,222.4 888,222.5 887.5,221.9 887,221.2 886.5,220.5 886,220.7 885.5,221.8 885,223.8 884.5,221.7 884,221.8 883.5,220.7 883,220.9 882.5,221.3 882,221.2 881.5,222.1 881,221.8 880.5,226.2 880,221 879.5,220.8 879,221.6 878.5,222 878,224 877.5,220.9 877,220.5 876.5,221.4 876,220.8 875.5,220.6 875,221.3 874.5,221.6 874,224.7 873.5,220 873,220.6 872.5,224.6 872,224.7 871.5,220.2 871,221.3 870.5,221.5 870,220.3 869.5,220 869,220.1 868.5,221.5 868,220.6 867.5,220.6 867,219.9 866.5,220.4 866,220.2 865.5,221.5 865,220.9 864.5,221.3 864,221.9 863.5,226 863,224.7 862.5,222.7 862,224 861.5,225 861,226.7 860.5,227 860,229.6 859.5,233 859,236.2 858.5,226.3 858,220 857.5,220.8 857,220 856.5,222.2 856,220 855.5,220.9 855,220.7 854.5,221 854,223.2 853.5,221.2 853,221.2 852.5,225.9 852,220.3 851.5,220.8 851,220.9 850.5,221.6 850,222.2 849.5,221.6 849,220.7 848.5,221.1 848,221.5 847.5,223.4 847,223.2 846.5,220.5 846,220.9 845.5,221.3 845,220.6 844.5,220.9 844,223.3 843.5,224.4 843,220.9 842.5,220.9 842,226.2 841.5,223 841,224.8 840.5,221 840,221 839.5,222.3 839,222 838.5,220.7 838,223.3 837.5,220.8 837,221.4 836.5,221.9 836,221.6 835.5,221.4 835,222.1 834.5,221.9 834,222.2 833.5,221.2 833,221.2 832.5,224.4 832,222.1 831.5,221.2 831,225 830.5,220.5 830,224.3 829.5,221.6 829,220.8 828.5,221.7 828,220.8 827.5,220.5 827,220.8 826.5,220.8 826,221 825.5,220.7 825,221.2 824.5,223.8 824,220.8 823.5,222.2 823,221.5 822.5,221.6 822,221.9 821.5,223.4 821,222.5 820.5,221.3 820,220.4 819.5,222.3 819,223.7 818.5,221.9 818,224.2 817.5,220.8 817,221.2 816.5,220.8 816,220.4 815.5,220.9 815,220.6 814.5,221 814,221 813.5,220.4 813,222.3 812.5,220.7 812,221.4 811.5,224.8 811,220.8 810.5,221.1 810,222.2 809.5,222.2 809,220.4 808.5,222.2 808,220.5 807.5,221.3 807,220.8 806.5,226 806,221 805.5,221.4 805,220.8 804.5,221.5 804,220.4 803.5,220.5 803,221.7 802.5,221.5 802,222.3 801.5,221.5 801,222.5 800.5,221.1 800,221.2 799.5,222.7 799,225.6 798.5,221.8 798,222.3 797.5,223.5 797,224.4 796.5,226 796,228.4 795.5,228.3 795,223 794.5,223.6 794,225.1 793.5,229.9 793,225.1 792.5,222.5 792,221.8 791.5,221.7 791,221.9 790.5,221.2 790,223 789.5,220.6 789,221.6 788.5,220.4 788,221.1 787.5,222.1 787,220.7 786.5,221.2 786,220.9 785.5,221 785,222.5 784.5,220.5 784,221.1 783.5,220.8 783,222.7 782.5,221.3 782,223.7 781.5,221 781,220.4 780.5,221 780,221.2 779.5,221.5 779,222.3 778.5,221.9 778,221 777.5,221.4 777,221.7 776.5,224.2 776,220.4 775.5,224.5 775,220.1 774.5,220.8 774,223.7 773.5,221 773,220.8 772.5,221.6 772,221.2 771.5,220.6 771,221 770.5,221.6 770,221.4 769.5,221.8 769,223 768.5,225.8 768,222.8 767.5,222.5 767,224 766.5,224.5 766,224.6 765.5,222.5 765,222.1 764.5,220.9 764,223.4 763.5,222.2 763,221.8 762.5,223.1 762,221.8 761.5,222.8 761,221.3 760.5,222.6 760,222.8 759.5,223.3 759,224 758.5,223.5 758,226.3 757.5,226 757,229.5 756.5,222.3 756,221.8 755.5,221.6 755,221 754.5,221.5 754,222.4 753.5,221.3 753,221.1 752.5,223.1 752,221.7 751.5,224.2 751,221.6 750.5,220.7 750,221.4 749.5,220.8 749,222.8 748.5,220.6 748,223.4 747.5,224.8 747,226.3 746.5,226.2 746,222 745.5,221.7 745,221.9 744.5,222.6 744,221.2 743.5,222 743,222.1 742.5,223.1 742,222.8 741.5,224.1 741,229.2 740.5,223.2 740,221.9 739.5,225.3 739,221.9 738.5,221.4 738,223.9 737.5,221.3 737,221.3 736.5,221.6 736,222.3 735.5,222.3 735,221.3 734.5,221.4 734,221.1" fill="#0000ff" stroke="#0000ff" stroke-width="0.5" stroke-linejoin="round"/>
<path d="M1385,240 L1429.6,240 L1429.6,215.5" fill="none" stroke="#000" stroke-width="3" stroke-linecap="square"/>
<text x="1462" y="245" font-size="30.3" font-weight="bold" fill="#000" text-anchor="start" transform="rotate(-90 1462 245)">10 pA</text>
<text x="1373.5" y="271.5" font-size="30.4" font-weight="bold" fill="#000" text-anchor="start">200 ms</text>
<text x="18" y="310.7" font-size="34" font-weight="bold" fill="#000" text-anchor="start">C</text>
<line x1="216" y1="681.2" x2="216" y2="310.5" stroke="#000" stroke-width="3.5" stroke-linecap="butt"/>
<line x1="203.5" y1="679.5" x2="216" y2="679.5" stroke="#000" stroke-width="3.5"/>
<text x="200.5" y="689.5" font-size="30" font-weight="bold" fill="#000" text-anchor="end">0.0</text>
<line x1="203.5" y1="495.8" x2="216" y2="495.8" stroke="#000" stroke-width="3.5"/>
<text x="200" y="505.8" font-size="30" font-weight="bold" fill="#000" text-anchor="end">0.5</text>
<line x1="203.5" y1="312" x2="216" y2="312" stroke="#000" stroke-width="3.5"/>
<text x="200.5" y="322" font-size="30" font-weight="bold" fill="#000" text-anchor="end">1.0</text>
<line x1="207" y1="587.6" x2="216" y2="587.6" stroke="#000" stroke-width="3.5"/>
<line x1="207" y1="403.9" x2="216" y2="403.9" stroke="#000" stroke-width="3.5"/>
<line x1="204" y1="679.5" x2="578" y2="679.5" stroke="#000" stroke-width="3.5"/>
<line x1="216" y1="679.5" x2="216" y2="691.5" stroke="#000" stroke-width="3.5"/>
<text x="216" y="724" font-size="30" font-weight="bold" fill="#000" text-anchor="middle">0</text>
<line x1="288.1" y1="679.5" x2="288.1" y2="691.5" stroke="#000" stroke-width="3.5"/>
<text x="288.1" y="724" font-size="30" font-weight="bold" fill="#000" text-anchor="middle">5</text>
<line x1="360.2" y1="679.5" x2="360.2" y2="691.5" stroke="#000" stroke-width="3.5"/>
<text x="360.2" y="724" font-size="30" font-weight="bold" fill="#000" text-anchor="middle">10</text>
<line x1="432.3" y1="679.5" x2="432.3" y2="691.5" stroke="#000" stroke-width="3.5"/>
<text x="432.3" y="724" font-size="30" font-weight="bold" fill="#000" text-anchor="middle">15</text>
<line x1="504.4" y1="679.5" x2="504.4" y2="691.5" stroke="#000" stroke-width="3.5"/>
<text x="504.4" y="724" font-size="30" font-weight="bold" fill="#000" text-anchor="middle">20</text>
<line x1="576.5" y1="679.5" x2="576.5" y2="691.5" stroke="#000" stroke-width="3.5"/>
<text x="576.5" y="724" font-size="30" font-weight="bold" fill="#000" text-anchor="middle">25</text>
<line x1="252.1" y1="679.5" x2="252.1" y2="687.5" stroke="#000" stroke-width="3.5"/>
<line x1="324.1" y1="679.5" x2="324.1" y2="687.5" stroke="#000" stroke-width="3.5"/>
<line x1="396.2" y1="679.5" x2="396.2" y2="687.5" stroke="#000" stroke-width="3.5"/>
<line x1="468.4" y1="679.5" x2="468.4" y2="687.5" stroke="#000" stroke-width="3.5"/>
<line x1="540.5" y1="679.5" x2="540.5" y2="687.5" stroke="#000" stroke-width="3.5"/>
<text x="144.2" y="669.8" font-size="30.1" font-weight="bold" fill="#000" text-anchor="start" transform="rotate(-90 144.2 669.8)">Cummulative probability</text>
<text x="301.3" y="759.3" font-size="30.2" font-weight="bold" fill="#000" text-anchor="start">Amplitute (pA)</text>
<polyline points="244.8,679.5 273.7,678 302.5,669.4 331.4,619.6 360.2,500.9 389,430.3 417.9,384.4 446.7,359.4 475.6,339.6 504.4,331.1 533.2,324.9 562.1,322.3" fill="none" stroke="#333333" stroke-width="3.2" stroke-linejoin="round"/>
<line x1="302.5" y1="666.4" x2="302.5" y2="672.4" stroke="#333333" stroke-width="3"/>
<line x1="294.5" y1="666.4" x2="310.5" y2="666.4" stroke="#333333" stroke-width="3"/>
<line x1="294.5" y1="672.4" x2="310.5" y2="672.4" stroke="#333333" stroke-width="3"/>
<line x1="331.4" y1="609.2" x2="331.4" y2="630" stroke="#333333" stroke-width="3"/>
<line x1="323.4" y1="609.2" x2="339.4" y2="609.2" stroke="#333333" stroke-width="3"/>
<line x1="323.4" y1="630" x2="339.4" y2="630" stroke="#333333" stroke-width="3"/>
<line x1="360.2" y1="484.9" x2="360.2" y2="516.9" stroke="#333333" stroke-width="3"/>
<line x1="352.2" y1="484.9" x2="368.2" y2="484.9" stroke="#333333" stroke-width="3"/>
<line x1="352.2" y1="516.9" x2="368.2" y2="516.9" stroke="#333333" stroke-width="3"/>
<line x1="389" y1="416.3" x2="389" y2="444.3" stroke="#333333" stroke-width="3"/>
<line x1="381" y1="416.3" x2="397" y2="416.3" stroke="#333333" stroke-width="3"/>
<line x1="381" y1="444.3" x2="397" y2="444.3" stroke="#333333" stroke-width="3"/>
<line x1="417.9" y1="375.4" x2="417.9" y2="393.4" stroke="#333333" stroke-width="3"/>
<line x1="409.9" y1="375.4" x2="425.9" y2="375.4" stroke="#333333" stroke-width="3"/>
<line x1="409.9" y1="393.4" x2="425.9" y2="393.4" stroke="#333333" stroke-width="3"/>
<line x1="446.7" y1="353.4" x2="446.7" y2="365.4" stroke="#333333" stroke-width="3"/>
<line x1="438.7" y1="353.4" x2="454.7" y2="353.4" stroke="#333333" stroke-width="3"/>
<line x1="438.7" y1="365.4" x2="454.7" y2="365.4" stroke="#333333" stroke-width="3"/>
<line x1="475.6" y1="335.6" x2="475.6" y2="343.6" stroke="#333333" stroke-width="3"/>
<line x1="467.6" y1="335.6" x2="483.6" y2="335.6" stroke="#333333" stroke-width="3"/>
<line x1="467.6" y1="343.6" x2="483.6" y2="343.6" stroke="#333333" stroke-width="3"/>
<line x1="504.4" y1="328.1" x2="504.4" y2="334.1" stroke="#333333" stroke-width="3"/>
<line x1="496.4" y1="328.1" x2="512.4" y2="328.1" stroke="#333333" stroke-width="3"/>
<line x1="496.4" y1="334.1" x2="512.4" y2="334.1" stroke="#333333" stroke-width="3"/>
<line x1="533.2" y1="322.9" x2="533.2" y2="326.9" stroke="#333333" stroke-width="3"/>
<line x1="525.2" y1="322.9" x2="541.2" y2="322.9" stroke="#333333" stroke-width="3"/>
<line x1="525.2" y1="326.9" x2="541.2" y2="326.9" stroke="#333333" stroke-width="3"/>
<line x1="562.1" y1="320.3" x2="562.1" y2="324.3" stroke="#333333" stroke-width="3"/>
<line x1="554.1" y1="320.3" x2="570.1" y2="320.3" stroke="#333333" stroke-width="3"/>
<line x1="554.1" y1="324.3" x2="570.1" y2="324.3" stroke="#333333" stroke-width="3"/>
<polyline points="244.8,679.5 273.7,674.4 302.5,644.6 331.4,566.7 360.2,443.9 389,384.4 417.9,352.1 446.7,335.9 475.6,324.9 504.4,319.7 533.2,317.5 562.1,316.4" fill="none" stroke="#0000ff" stroke-width="3.2" stroke-linejoin="round"/>
<line x1="302.5" y1="636.6" x2="302.5" y2="652.6" stroke="#0000ff" stroke-width="3"/>
<line x1="294.5" y1="636.6" x2="310.5" y2="636.6" stroke="#0000ff" stroke-width="3"/>
<line x1="294.5" y1="652.6" x2="310.5" y2="652.6" stroke="#0000ff" stroke-width="3"/>
<line x1="331.4" y1="553.7" x2="331.4" y2="579.7" stroke="#0000ff" stroke-width="3"/>
<line x1="323.4" y1="553.7" x2="339.4" y2="553.7" stroke="#0000ff" stroke-width="3"/>
<line x1="323.4" y1="579.7" x2="339.4" y2="579.7" stroke="#0000ff" stroke-width="3"/>
<line x1="360.2" y1="432.9" x2="360.2" y2="454.9" stroke="#0000ff" stroke-width="3"/>
<line x1="352.2" y1="432.9" x2="368.2" y2="432.9" stroke="#0000ff" stroke-width="3"/>
<line x1="352.2" y1="454.9" x2="368.2" y2="454.9" stroke="#0000ff" stroke-width="3"/>
<line x1="389" y1="376.4" x2="389" y2="392.4" stroke="#0000ff" stroke-width="3"/>
<line x1="381" y1="376.4" x2="397" y2="376.4" stroke="#0000ff" stroke-width="3"/>
<line x1="381" y1="392.4" x2="397" y2="392.4" stroke="#0000ff" stroke-width="3"/>
<line x1="417.9" y1="346.1" x2="417.9" y2="358.1" stroke="#0000ff" stroke-width="3"/>
<line x1="409.9" y1="346.1" x2="425.9" y2="346.1" stroke="#0000ff" stroke-width="3"/>
<line x1="409.9" y1="358.1" x2="425.9" y2="358.1" stroke="#0000ff" stroke-width="3"/>
<line x1="446.7" y1="331.9" x2="446.7" y2="339.9" stroke="#0000ff" stroke-width="3"/>
<line x1="438.7" y1="331.9" x2="454.7" y2="331.9" stroke="#0000ff" stroke-width="3"/>
<line x1="438.7" y1="339.9" x2="454.7" y2="339.9" stroke="#0000ff" stroke-width="3"/>
<line x1="475.6" y1="321.9" x2="475.6" y2="327.9" stroke="#0000ff" stroke-width="3"/>
<line x1="467.6" y1="321.9" x2="483.6" y2="321.9" stroke="#0000ff" stroke-width="3"/>
<line x1="467.6" y1="327.9" x2="483.6" y2="327.9" stroke="#0000ff" stroke-width="3"/>
<line x1="504.4" y1="316.7" x2="504.4" y2="322.7" stroke="#0000ff" stroke-width="3"/>
<line x1="496.4" y1="316.7" x2="512.4" y2="316.7" stroke="#0000ff" stroke-width="3"/>
<line x1="496.4" y1="322.7" x2="512.4" y2="322.7" stroke="#0000ff" stroke-width="3"/>
<line x1="533.2" y1="315.5" x2="533.2" y2="319.5" stroke="#0000ff" stroke-width="3"/>
<line x1="525.2" y1="315.5" x2="541.2" y2="315.5" stroke="#0000ff" stroke-width="3"/>
<line x1="525.2" y1="319.5" x2="541.2" y2="319.5" stroke="#0000ff" stroke-width="3"/>
<line x1="562.1" y1="314.4" x2="562.1" y2="318.4" stroke="#0000ff" stroke-width="3"/>
<line x1="554.1" y1="314.4" x2="570.1" y2="314.4" stroke="#0000ff" stroke-width="3"/>
<line x1="554.1" y1="318.4" x2="570.1" y2="318.4" stroke="#0000ff" stroke-width="3"/>
<line x1="227.5" y1="320.9" x2="254" y2="320.9" stroke="#333333" stroke-width="3.6" stroke-linecap="round"/>
<text x="269.3" y="325.8" font-size="30" font-weight="bold" font-style="italic" fill="#231815">Cyld<tspan font-size="20" dx="2.3" dy="-13.8">+/+</tspan></text>
<line x1="227.5" y1="359" x2="254" y2="359" stroke="#0000ff" stroke-width="3.6" stroke-linecap="round"/>
<text x="268.8" y="370.7" font-size="30" font-weight="bold" font-style="italic" fill="#231815">Cyld<tspan font-size="20" dx="2.3" dy="-13.8">-/-</tspan></text>
<text x="591.9" y="352" font-size="66" font-weight="bold" fill="#000" text-anchor="start">*</text>
<text x="622.4" y="352" font-size="66" font-weight="bold" fill="#000" text-anchor="start">*</text>
<text x="652.9" y="352" font-size="66" font-weight="bold" fill="#000" text-anchor="start">*</text>
<line x1="538.3" y1="635" x2="538.3" y2="409.5" stroke="#000" stroke-width="3.5" stroke-linecap="butt"/>
<line x1="529.6" y1="633.3" x2="538.3" y2="633.3" stroke="#000" stroke-width="3.5"/>
<text x="524.5" y="639.1" font-size="29" font-weight="bold" fill="#000" text-anchor="end">0</text>
<line x1="529.6" y1="577.7" x2="538.3" y2="577.7" stroke="#000" stroke-width="3.5"/>
<text x="524.1" y="583.5" font-size="29" font-weight="bold" fill="#000" text-anchor="end">5</text>
<line x1="529.6" y1="522" x2="538.3" y2="522" stroke="#000" stroke-width="3.5"/>
<text x="524.6" y="527.8" font-size="29" font-weight="bold" fill="#000" text-anchor="end">10</text>
<line x1="529.6" y1="466.4" x2="538.3" y2="466.4" stroke="#000" stroke-width="3.5"/>
<text x="524.1" y="472.2" font-size="29" font-weight="bold" fill="#000" text-anchor="end">15</text>
<line x1="529.6" y1="410.8" x2="538.3" y2="410.8" stroke="#000" stroke-width="3.5"/>
<text x="524.6" y="416.6" font-size="29" font-weight="bold" fill="#000" text-anchor="end">20</text>
<line x1="529.6" y1="633.3" x2="688" y2="633.3" stroke="#000" stroke-width="3.5"/>
<text x="481.7" y="622.1" font-size="30.6" font-weight="bold" fill="#000" text-anchor="start" transform="rotate(-90 481.7 622.1)">Amplitude (pA)</text>
<circle cx="576.1" cy="465.2" r="3.8" fill="#fff" stroke="#8c8c8c" stroke-width="3.6"/>
<circle cx="585.9" cy="469.5" r="3.8" fill="#fff" stroke="#8c8c8c" stroke-width="3.6"/>
<circle cx="576.5" cy="483.6" r="3.8" fill="#fff" stroke="#8c8c8c" stroke-width="3.6"/>
<circle cx="564" cy="489.5" r="3.8" fill="#fff" stroke="#8c8c8c" stroke-width="3.6"/>
<circle cx="597.6" cy="488.3" r="3.8" fill="#fff" stroke="#8c8c8c" stroke-width="3.6"/>
<circle cx="592" cy="491" r="3.8" fill="#fff" stroke="#8c8c8c" stroke-width="3.6"/>
<circle cx="566.7" cy="500" r="3.8" fill="#fff" stroke="#8c8c8c" stroke-width="3.6"/>
<circle cx="580.8" cy="500.8" r="3.8" fill="#fff" stroke="#8c8c8c" stroke-width="3.6"/>
<circle cx="590" cy="499" r="3.8" fill="#fff" stroke="#8c8c8c" stroke-width="3.6"/>
<circle cx="576.5" cy="511" r="3.8" fill="#fff" stroke="#8c8c8c" stroke-width="3.6"/>
<circle cx="585.9" cy="514.1" r="3.8" fill="#fff" stroke="#8c8c8c" stroke-width="3.6"/>
<circle cx="580" cy="519" r="3.8" fill="#fff" stroke="#8c8c8c" stroke-width="3.6"/>
<circle cx="576.5" cy="525.4" r="3.8" fill="#fff" stroke="#8c8c8c" stroke-width="3.6"/>
<circle cx="585.5" cy="525.1" r="3.8" fill="#fff" stroke="#8c8c8c" stroke-width="3.6"/>
<circle cx="646.9" cy="458.6" r="3.8" fill="#fff" stroke="#7f7ff2" stroke-width="3.6"/>
<circle cx="640.2" cy="471.1" r="3.8" fill="#fff" stroke="#7f7ff2" stroke-width="3.6"/>
<circle cx="648.8" cy="471.1" r="3.8" fill="#fff" stroke="#7f7ff2" stroke-width="3.6"/>
<circle cx="637.1" cy="490.7" r="3.8" fill="#fff" stroke="#7f7ff2" stroke-width="3.6"/>
<circle cx="647.3" cy="492.2" r="3.8" fill="#fff" stroke="#7f7ff2" stroke-width="3.6"/>
<circle cx="659" cy="495.3" r="3.8" fill="#fff" stroke="#7f7ff2" stroke-width="3.6"/>
<circle cx="662.9" cy="498.5" r="3.8" fill="#fff" stroke="#7f7ff2" stroke-width="3.6"/>
<circle cx="626.9" cy="504.7" r="3.8" fill="#fff" stroke="#7f7ff2" stroke-width="3.6"/>
<circle cx="633.2" cy="500" r="3.8" fill="#fff" stroke="#7f7ff2" stroke-width="3.6"/>
<circle cx="664.5" cy="507" r="3.8" fill="#fff" stroke="#7f7ff2" stroke-width="3.6"/>
<circle cx="641" cy="497" r="3.8" fill="#fff" stroke="#7f7ff2" stroke-width="3.6"/>
<circle cx="654" cy="494" r="3.8" fill="#fff" stroke="#7f7ff2" stroke-width="3.6"/>
<circle cx="628" cy="520" r="3.8" fill="#fff" stroke="#7f7ff2" stroke-width="3.6"/>
<circle cx="634" cy="519" r="3.8" fill="#fff" stroke="#7f7ff2" stroke-width="3.6"/>
<circle cx="641" cy="520" r="3.8" fill="#fff" stroke="#7f7ff2" stroke-width="3.6"/>
<circle cx="649" cy="519" r="3.8" fill="#fff" stroke="#7f7ff2" stroke-width="3.6"/>
<circle cx="657" cy="520" r="3.8" fill="#fff" stroke="#7f7ff2" stroke-width="3.6"/>
<circle cx="664" cy="520" r="3.8" fill="#fff" stroke="#7f7ff2" stroke-width="3.6"/>
<circle cx="630" cy="512" r="3.8" fill="#fff" stroke="#7f7ff2" stroke-width="3.6"/>
<circle cx="662" cy="512" r="3.8" fill="#fff" stroke="#7f7ff2" stroke-width="3.6"/>
<circle cx="641" cy="527" r="3.8" fill="#fff" stroke="#7f7ff2" stroke-width="3.6"/>
<circle cx="649" cy="529" r="3.8" fill="#fff" stroke="#7f7ff2" stroke-width="3.6"/>
<circle cx="637.1" cy="551.6" r="3.8" fill="#fff" stroke="#7f7ff2" stroke-width="3.6"/>
<circle cx="644.9" cy="553.2" r="3.8" fill="#fff" stroke="#7f7ff2" stroke-width="3.6"/>
<circle cx="652.7" cy="549.3" r="3.8" fill="#fff" stroke="#7f7ff2" stroke-width="3.6"/>
<circle cx="645" cy="503" r="3.8" fill="#fff" stroke="#7f7ff2" stroke-width="3.6"/>
<circle cx="652" cy="502" r="3.8" fill="#fff" stroke="#7f7ff2" stroke-width="3.6"/>
<circle cx="638" cy="510" r="3.8" fill="#fff" stroke="#7f7ff2" stroke-width="3.6"/>
<circle cx="656" cy="510" r="3.8" fill="#fff" stroke="#7f7ff2" stroke-width="3.6"/>
<circle cx="647" cy="511" r="3.8" fill="#fff" stroke="#7f7ff2" stroke-width="3.6"/>
<circle cx="641" cy="505" r="3.8" fill="#fff" stroke="#7f7ff2" stroke-width="3.6"/>
<circle cx="658" cy="505" r="3.8" fill="#fff" stroke="#7f7ff2" stroke-width="3.6"/>
<circle cx="634" cy="524" r="3.8" fill="#fff" stroke="#7f7ff2" stroke-width="3.6"/>
<circle cx="655" cy="526" r="3.8" fill="#fff" stroke="#7f7ff2" stroke-width="3.6"/>
<path d="M561.6,633.3 L561.6,498.1 L600.4,498.1 L600.4,633.3" fill="none" stroke="#333333" stroke-width="3.1" stroke-linejoin="round"/>
<path d="M624.8,633.3 L624.8,512 L664.2,512 L664.2,633.3" fill="none" stroke="#0000ff" stroke-width="3.6" stroke-linejoin="round"/>
<line x1="581" y1="498" x2="581" y2="492.2" stroke="#333333" stroke-width="3.1"/>
<line x1="570.8" y1="492.2" x2="591.2" y2="492.2" stroke="#333333" stroke-width="3.1"/>
<line x1="644.7" y1="512" x2="644.7" y2="506.5" stroke="#0000ff" stroke-width="3.6"/>
<line x1="634.4" y1="506.5" x2="655" y2="506.5" stroke="#0000ff" stroke-width="3.6"/>
<line x1="570" y1="437.2" x2="651" y2="437.2" stroke="#000" stroke-width="3.7"/>
<text x="598.6" y="441.9" font-size="65" font-weight="bold" fill="#000" text-anchor="start">*</text>
<text x="860.7" y="284.3" font-size="34" font-weight="bold" fill="#000" text-anchor="start">D</text>
<line x1="994.6" y1="681.8" x2="994.6" y2="315" stroke="#000" stroke-width="3.5" stroke-linecap="butt"/>
<line x1="980.6" y1="680" x2="994.6" y2="680" stroke="#000" stroke-width="3.5"/>
<text x="973.7" y="689.3" font-size="30" font-weight="bold" fill="#000" text-anchor="end">0.0</text>
<line x1="980.6" y1="497.9" x2="994.6" y2="497.9" stroke="#000" stroke-width="3.5"/>
<text x="973.2" y="507.2" font-size="30" font-weight="bold" fill="#000" text-anchor="end">0.5</text>
<line x1="980.6" y1="315.7" x2="994.6" y2="315.7" stroke="#000" stroke-width="3.5"/>
<text x="973.7" y="325" font-size="30" font-weight="bold" fill="#000" text-anchor="end">1.0</text>
<line x1="985.6" y1="588.9" x2="994.6" y2="588.9" stroke="#000" stroke-width="3.5"/>
<line x1="985.6" y1="406.8" x2="994.6" y2="406.8" stroke="#000" stroke-width="3.5"/>
<line x1="981" y1="680" x2="1368" y2="680" stroke="#000" stroke-width="3.5"/>
<line x1="994.6" y1="680" x2="994.6" y2="693" stroke="#000" stroke-width="3.5"/>
<text x="994.6" y="723" font-size="30" font-weight="bold" fill="#000" text-anchor="middle">0</text>
<line x1="1118.8" y1="680" x2="1118.8" y2="693" stroke="#000" stroke-width="3.5"/>
<text x="1118.8" y="723" font-size="30" font-weight="bold" fill="#000" text-anchor="middle">1</text>
<line x1="1243" y1="680" x2="1243" y2="693" stroke="#000" stroke-width="3.5"/>
<text x="1243" y="723" font-size="30" font-weight="bold" fill="#000" text-anchor="middle">2</text>
<line x1="1367.2" y1="680" x2="1367.2" y2="693" stroke="#000" stroke-width="3.5"/>
<text x="1367.2" y="723" font-size="30" font-weight="bold" fill="#000" text-anchor="middle">3</text>
<line x1="1056.7" y1="680" x2="1056.7" y2="688" stroke="#000" stroke-width="3.5"/>
<line x1="1180.9" y1="680" x2="1180.9" y2="688" stroke="#000" stroke-width="3.5"/>
<line x1="1305.1" y1="680" x2="1305.1" y2="688" stroke="#000" stroke-width="3.5"/>
<text x="913.2" y="669.5" font-size="30" font-weight="bold" fill="#000" text-anchor="start" transform="rotate(-90 913.2 669.5)">Cummulative probability</text>
<text x="1018.8" y="758" font-size="30.5" font-weight="bold" fill="#000" text-anchor="start">Inter-event interval (s)</text>
<path d="M996.1,604.6 C1000,588.8 1011.4,534.5 1019.4,509.9 C1027.5,485.2 1036,471 1044.3,456.7 C1052.6,442.4 1060.8,433.5 1069.1,423.9 C1077.4,414.3 1085.7,407 1094,399.1 C1102.2,391.3 1110.5,382.7 1118.8,376.9 C1127.1,371.1 1135.4,368 1143.6,364.2 C1151.9,360.3 1160.2,356.6 1168.5,353.6 C1176.8,350.6 1185,348.4 1193.3,345.9 C1201.6,343.5 1209.9,340.8 1218.2,339 C1226.4,337.2 1234.7,336.2 1243,335 C1251.3,333.9 1259.6,333 1267.8,332.1 C1276.1,331.2 1284.4,330.5 1292.7,329.5 C1301,328.6 1309.2,327.4 1317.5,326.6 C1325.8,325.8 1334.1,325.5 1342.4,324.8 C1350.6,324.1 1363.1,323 1367.2,322.6" fill="none" stroke="#111111" stroke-width="3"/>
<line x1="996.1" y1="594.6" x2="996.1" y2="614.6" stroke="#111111" stroke-width="3"/>
<line x1="988.1" y1="594.6" x2="1004.1" y2="594.6" stroke="#111111" stroke-width="3"/>
<line x1="988.1" y1="614.6" x2="1004.1" y2="614.6" stroke="#111111" stroke-width="3"/>
<line x1="1019.4" y1="498.3" x2="1019.4" y2="521.5" stroke="#111111" stroke-width="3"/>
<line x1="1011.4" y1="498.3" x2="1027.4" y2="498.3" stroke="#111111" stroke-width="3"/>
<line x1="1011.4" y1="521.5" x2="1027.4" y2="521.5" stroke="#111111" stroke-width="3"/>
<line x1="1044.3" y1="444.7" x2="1044.3" y2="468.7" stroke="#111111" stroke-width="3"/>
<line x1="1036.3" y1="444.7" x2="1052.3" y2="444.7" stroke="#111111" stroke-width="3"/>
<line x1="1036.3" y1="468.7" x2="1052.3" y2="468.7" stroke="#111111" stroke-width="3"/>
<line x1="1069.1" y1="412.4" x2="1069.1" y2="435.4" stroke="#111111" stroke-width="3"/>
<line x1="1061.1" y1="412.4" x2="1077.1" y2="412.4" stroke="#111111" stroke-width="3"/>
<line x1="1061.1" y1="435.4" x2="1077.1" y2="435.4" stroke="#111111" stroke-width="3"/>
<line x1="1094" y1="389.1" x2="1094" y2="409.1" stroke="#111111" stroke-width="3"/>
<line x1="1086" y1="389.1" x2="1102" y2="389.1" stroke="#111111" stroke-width="3"/>
<line x1="1086" y1="409.1" x2="1102" y2="409.1" stroke="#111111" stroke-width="3"/>
<line x1="1118.8" y1="366.9" x2="1118.8" y2="386.9" stroke="#111111" stroke-width="3"/>
<line x1="1110.8" y1="366.9" x2="1126.8" y2="366.9" stroke="#111111" stroke-width="3"/>
<line x1="1110.8" y1="386.9" x2="1126.8" y2="386.9" stroke="#111111" stroke-width="3"/>
<line x1="1143.6" y1="354.7" x2="1143.6" y2="373.7" stroke="#111111" stroke-width="3"/>
<line x1="1135.6" y1="354.7" x2="1151.6" y2="354.7" stroke="#111111" stroke-width="3"/>
<line x1="1135.6" y1="373.7" x2="1151.6" y2="373.7" stroke="#111111" stroke-width="3"/>
<line x1="1168.5" y1="346.6" x2="1168.5" y2="360.6" stroke="#111111" stroke-width="3"/>
<line x1="1160.5" y1="346.6" x2="1176.5" y2="346.6" stroke="#111111" stroke-width="3"/>
<line x1="1160.5" y1="360.6" x2="1176.5" y2="360.6" stroke="#111111" stroke-width="3"/>
<line x1="1193.3" y1="339.9" x2="1193.3" y2="351.9" stroke="#111111" stroke-width="3"/>
<line x1="1185.3" y1="339.9" x2="1201.3" y2="339.9" stroke="#111111" stroke-width="3"/>
<line x1="1185.3" y1="351.9" x2="1201.3" y2="351.9" stroke="#111111" stroke-width="3"/>
<line x1="1218.2" y1="334" x2="1218.2" y2="344" stroke="#111111" stroke-width="3"/>
<line x1="1210.2" y1="334" x2="1226.2" y2="334" stroke="#111111" stroke-width="3"/>
<line x1="1210.2" y1="344" x2="1226.2" y2="344" stroke="#111111" stroke-width="3"/>
<line x1="1243" y1="331" x2="1243" y2="339" stroke="#111111" stroke-width="3"/>
<line x1="1235" y1="331" x2="1251" y2="331" stroke="#111111" stroke-width="3"/>
<line x1="1235" y1="339" x2="1251" y2="339" stroke="#111111" stroke-width="3"/>
<line x1="1267.8" y1="328.6" x2="1267.8" y2="335.6" stroke="#111111" stroke-width="3"/>
<line x1="1259.8" y1="328.6" x2="1275.8" y2="328.6" stroke="#111111" stroke-width="3"/>
<line x1="1259.8" y1="335.6" x2="1275.8" y2="335.6" stroke="#111111" stroke-width="3"/>
<line x1="1292.7" y1="326.5" x2="1292.7" y2="332.5" stroke="#111111" stroke-width="3"/>
<line x1="1284.7" y1="326.5" x2="1300.7" y2="326.5" stroke="#111111" stroke-width="3"/>
<line x1="1284.7" y1="332.5" x2="1300.7" y2="332.5" stroke="#111111" stroke-width="3"/>
<line x1="1317.5" y1="323.6" x2="1317.5" y2="329.6" stroke="#111111" stroke-width="3"/>
<line x1="1309.5" y1="323.6" x2="1325.5" y2="323.6" stroke="#111111" stroke-width="3"/>
<line x1="1309.5" y1="329.6" x2="1325.5" y2="329.6" stroke="#111111" stroke-width="3"/>
<line x1="1342.4" y1="321.8" x2="1342.4" y2="327.8" stroke="#111111" stroke-width="3"/>
<line x1="1334.4" y1="321.8" x2="1350.4" y2="321.8" stroke="#111111" stroke-width="3"/>
<line x1="1334.4" y1="327.8" x2="1350.4" y2="327.8" stroke="#111111" stroke-width="3"/>
<line x1="1367.2" y1="319.6" x2="1367.2" y2="325.6" stroke="#111111" stroke-width="3"/>
<line x1="1359.2" y1="319.6" x2="1375.2" y2="319.6" stroke="#111111" stroke-width="3"/>
<line x1="1359.2" y1="325.6" x2="1375.2" y2="325.6" stroke="#111111" stroke-width="3"/>
<path d="M996.1,624.3 C1000,612.1 1011.4,572.5 1019.4,551.4 C1027.5,530.3 1036,513.6 1044.3,497.9 C1052.6,482.1 1060.8,468.5 1069.1,456.7 C1077.4,444.9 1085.7,435.9 1094,427.2 C1102.2,418.5 1110.5,411.1 1118.8,404.6 C1127.1,398 1135.4,392.9 1143.6,387.8 C1151.9,382.7 1160.2,377.9 1168.5,374 C1176.8,370 1185,367.2 1193.3,364.2 C1201.6,361.1 1209.9,357.8 1218.2,355.4 C1226.4,353 1234.7,351.4 1243,349.6 C1251.3,347.8 1259.6,346.1 1267.8,344.5 C1276.1,342.8 1284.4,341.1 1292.7,339.7 C1301,338.4 1309.2,337.6 1317.5,336.5 C1325.8,335.4 1334.1,334.1 1342.4,333.2 C1350.6,332.3 1363.1,331.4 1367.2,331" fill="none" stroke="#0000ff" stroke-width="3"/>
<line x1="996.1" y1="617.3" x2="996.1" y2="631.3" stroke="#0000ff" stroke-width="3"/>
<line x1="988.1" y1="617.3" x2="1004.1" y2="617.3" stroke="#0000ff" stroke-width="3"/>
<line x1="988.1" y1="631.3" x2="1004.1" y2="631.3" stroke="#0000ff" stroke-width="3"/>
<line x1="1019.4" y1="544.4" x2="1019.4" y2="558.4" stroke="#0000ff" stroke-width="3"/>
<line x1="1011.4" y1="544.4" x2="1027.4" y2="544.4" stroke="#0000ff" stroke-width="3"/>
<line x1="1011.4" y1="558.4" x2="1027.4" y2="558.4" stroke="#0000ff" stroke-width="3"/>
<line x1="1044.3" y1="490.4" x2="1044.3" y2="505.4" stroke="#0000ff" stroke-width="3"/>
<line x1="1036.3" y1="490.4" x2="1052.3" y2="490.4" stroke="#0000ff" stroke-width="3"/>
<line x1="1036.3" y1="505.4" x2="1052.3" y2="505.4" stroke="#0000ff" stroke-width="3"/>
<line x1="1069.1" y1="448.7" x2="1069.1" y2="464.7" stroke="#0000ff" stroke-width="3"/>
<line x1="1061.1" y1="448.7" x2="1077.1" y2="448.7" stroke="#0000ff" stroke-width="3"/>
<line x1="1061.1" y1="464.7" x2="1077.1" y2="464.7" stroke="#0000ff" stroke-width="3"/>
<line x1="1094" y1="419.7" x2="1094" y2="434.7" stroke="#0000ff" stroke-width="3"/>
<line x1="1086" y1="419.7" x2="1102" y2="419.7" stroke="#0000ff" stroke-width="3"/>
<line x1="1086" y1="434.7" x2="1102" y2="434.7" stroke="#0000ff" stroke-width="3"/>
<line x1="1118.8" y1="396.6" x2="1118.8" y2="412.6" stroke="#0000ff" stroke-width="3"/>
<line x1="1110.8" y1="396.6" x2="1126.8" y2="396.6" stroke="#0000ff" stroke-width="3"/>
<line x1="1110.8" y1="412.6" x2="1126.8" y2="412.6" stroke="#0000ff" stroke-width="3"/>
<line x1="1143.6" y1="381.3" x2="1143.6" y2="394.3" stroke="#0000ff" stroke-width="3"/>
<line x1="1135.6" y1="381.3" x2="1151.6" y2="381.3" stroke="#0000ff" stroke-width="3"/>
<line x1="1135.6" y1="394.3" x2="1151.6" y2="394.3" stroke="#0000ff" stroke-width="3"/>
<line x1="1168.5" y1="368" x2="1168.5" y2="380" stroke="#0000ff" stroke-width="3"/>
<line x1="1160.5" y1="368" x2="1176.5" y2="368" stroke="#0000ff" stroke-width="3"/>
<line x1="1160.5" y1="380" x2="1176.5" y2="380" stroke="#0000ff" stroke-width="3"/>
<line x1="1193.3" y1="358.5" x2="1193.3" y2="369.9" stroke="#0000ff" stroke-width="3"/>
<line x1="1185.3" y1="358.5" x2="1201.3" y2="358.5" stroke="#0000ff" stroke-width="3"/>
<line x1="1185.3" y1="369.9" x2="1201.3" y2="369.9" stroke="#0000ff" stroke-width="3"/>
<line x1="1218.2" y1="350.4" x2="1218.2" y2="360.4" stroke="#0000ff" stroke-width="3"/>
<line x1="1210.2" y1="350.4" x2="1226.2" y2="350.4" stroke="#0000ff" stroke-width="3"/>
<line x1="1210.2" y1="360.4" x2="1226.2" y2="360.4" stroke="#0000ff" stroke-width="3"/>
<line x1="1243" y1="344.6" x2="1243" y2="354.6" stroke="#0000ff" stroke-width="3"/>
<line x1="1235" y1="344.6" x2="1251" y2="344.6" stroke="#0000ff" stroke-width="3"/>
<line x1="1235" y1="354.6" x2="1251" y2="354.6" stroke="#0000ff" stroke-width="3"/>
<line x1="1267.8" y1="340" x2="1267.8" y2="349" stroke="#0000ff" stroke-width="3"/>
<line x1="1259.8" y1="340" x2="1275.8" y2="340" stroke="#0000ff" stroke-width="3"/>
<line x1="1259.8" y1="349" x2="1275.8" y2="349" stroke="#0000ff" stroke-width="3"/>
<line x1="1292.7" y1="335.2" x2="1292.7" y2="344.2" stroke="#0000ff" stroke-width="3"/>
<line x1="1284.7" y1="335.2" x2="1300.7" y2="335.2" stroke="#0000ff" stroke-width="3"/>
<line x1="1284.7" y1="344.2" x2="1300.7" y2="344.2" stroke="#0000ff" stroke-width="3"/>
<line x1="1317.5" y1="332.5" x2="1317.5" y2="340.5" stroke="#0000ff" stroke-width="3"/>
<line x1="1309.5" y1="332.5" x2="1325.5" y2="332.5" stroke="#0000ff" stroke-width="3"/>
<line x1="1309.5" y1="340.5" x2="1325.5" y2="340.5" stroke="#0000ff" stroke-width="3"/>
<line x1="1342.4" y1="329.2" x2="1342.4" y2="337.2" stroke="#0000ff" stroke-width="3"/>
<line x1="1334.4" y1="329.2" x2="1350.4" y2="329.2" stroke="#0000ff" stroke-width="3"/>
<line x1="1334.4" y1="337.2" x2="1350.4" y2="337.2" stroke="#0000ff" stroke-width="3"/>
<line x1="1367.2" y1="327" x2="1367.2" y2="335" stroke="#0000ff" stroke-width="3"/>
<line x1="1359.2" y1="327" x2="1375.2" y2="327" stroke="#0000ff" stroke-width="3"/>
<line x1="1359.2" y1="335" x2="1375.2" y2="335" stroke="#0000ff" stroke-width="3"/>
<line x1="1005" y1="294" x2="1034.7" y2="294" stroke="#111" stroke-width="3.3" stroke-linecap="round"/>
<text x="1049.5" y="298.5" font-size="30" font-weight="bold" font-style="italic" fill="#231815">Cyld<tspan font-size="20" dx="2.3" dy="-13.8">+/+</tspan></text>
<line x1="1005" y1="332.4" x2="1034.7" y2="332.4" stroke="#0000ff" stroke-width="3.3" stroke-linecap="round"/>
<text x="1049.5" y="343.8" font-size="30" font-weight="bold" font-style="italic" fill="#231815">Cyld<tspan font-size="20" dx="2.3" dy="-13.8">-/-</tspan></text>
<text x="1388.1" y="359.3" font-size="66" font-weight="bold" fill="#000" text-anchor="start">*</text>
<text x="1417.6" y="359.3" font-size="66" font-weight="bold" fill="#000" text-anchor="start">*</text>
<text x="1447.1" y="359.3" font-size="66" font-weight="bold" fill="#000" text-anchor="start">*</text>
<line x1="1304.2" y1="633.5" x2="1304.2" y2="408" stroke="#000" stroke-width="3.5" stroke-linecap="butt"/>
<line x1="1295.9" y1="631.7" x2="1304.2" y2="631.7" stroke="#000" stroke-width="3.5"/>
<text x="1288.2" y="637.7" font-size="29" font-weight="bold" fill="#000" text-anchor="end">0</text>
<line x1="1295.9" y1="587.2" x2="1304.2" y2="587.2" stroke="#000" stroke-width="3.5"/>
<text x="1287.8" y="593.2" font-size="29" font-weight="bold" fill="#000" text-anchor="end">1</text>
<line x1="1295.9" y1="542.7" x2="1304.2" y2="542.7" stroke="#000" stroke-width="3.5"/>
<text x="1288.2" y="548.7" font-size="29" font-weight="bold" fill="#000" text-anchor="end">2</text>
<line x1="1295.9" y1="498.2" x2="1304.2" y2="498.2" stroke="#000" stroke-width="3.5"/>
<text x="1288.1" y="504.2" font-size="29" font-weight="bold" fill="#000" text-anchor="end">3</text>
<line x1="1295.9" y1="453.7" x2="1304.2" y2="453.7" stroke="#000" stroke-width="3.5"/>
<text x="1287.2" y="459.7" font-size="29" font-weight="bold" fill="#000" text-anchor="end">4</text>
<line x1="1295.9" y1="409.2" x2="1304.2" y2="409.2" stroke="#000" stroke-width="3.5"/>
<text x="1287.8" y="415.2" font-size="29" font-weight="bold" fill="#000" text-anchor="end">5</text>
<line x1="1295.9" y1="631.7" x2="1454" y2="631.7" stroke="#000" stroke-width="3.5"/>
<text x="1257" y="628.5" font-size="30.7" font-weight="bold" fill="#000" text-anchor="start" transform="rotate(-90 1257 628.5)">Frequency (Hz)</text>
<circle cx="1349.9" cy="472.9" r="3.6" fill="#fff" stroke="#8c8c8c" stroke-width="3.2"/>
<circle cx="1343.9" cy="477.4" r="3.6" fill="#fff" stroke="#8c8c8c" stroke-width="3.2"/>
<circle cx="1343.1" cy="487.1" r="3.6" fill="#fff" stroke="#8c8c8c" stroke-width="3.2"/>
<circle cx="1336.4" cy="510.4" r="3.6" fill="#fff" stroke="#8c8c8c" stroke-width="3.2"/>
<circle cx="1343.9" cy="514.9" r="3.6" fill="#fff" stroke="#8c8c8c" stroke-width="3.2"/>
<circle cx="1349.9" cy="514.9" r="3.6" fill="#fff" stroke="#8c8c8c" stroke-width="3.2"/>
<circle cx="1349.9" cy="544.8" r="3.6" fill="#fff" stroke="#8c8c8c" stroke-width="3.2"/>
<circle cx="1337.1" cy="553.8" r="3.6" fill="#fff" stroke="#8c8c8c" stroke-width="3.2"/>
<circle cx="1343.9" cy="553.8" r="3.6" fill="#fff" stroke="#8c8c8c" stroke-width="3.2"/>
<circle cx="1349.9" cy="556.8" r="3.6" fill="#fff" stroke="#8c8c8c" stroke-width="3.2"/>
<circle cx="1343.1" cy="565" r="3.6" fill="#fff" stroke="#8c8c8c" stroke-width="3.2"/>
<circle cx="1329.6" cy="580" r="3.6" fill="#fff" stroke="#8c8c8c" stroke-width="3.2"/>
<circle cx="1337.1" cy="577" r="3.6" fill="#fff" stroke="#8c8c8c" stroke-width="3.2"/>
<circle cx="1343.9" cy="581.5" r="3.6" fill="#fff" stroke="#8c8c8c" stroke-width="3.2"/>
<circle cx="1349.9" cy="585.3" r="3.6" fill="#fff" stroke="#8c8c8c" stroke-width="3.2"/>
<circle cx="1356.6" cy="582.3" r="3.6" fill="#fff" stroke="#8c8c8c" stroke-width="3.2"/>
<circle cx="1362.6" cy="579.3" r="3.6" fill="#fff" stroke="#8c8c8c" stroke-width="3.2"/>
<circle cx="1336.4" cy="590.5" r="3.6" fill="#fff" stroke="#8c8c8c" stroke-width="3.2"/>
<circle cx="1406" cy="508.1" r="3.6" fill="#fff" stroke="#7f7ff2" stroke-width="3.2"/>
<circle cx="1409.8" cy="516.4" r="3.6" fill="#fff" stroke="#7f7ff2" stroke-width="3.2"/>
<circle cx="1406" cy="523.9" r="3.6" fill="#fff" stroke="#7f7ff2" stroke-width="3.2"/>
<circle cx="1413.5" cy="522.4" r="3.6" fill="#fff" stroke="#7f7ff2" stroke-width="3.2"/>
<circle cx="1409.8" cy="535.8" r="3.6" fill="#fff" stroke="#7f7ff2" stroke-width="3.2"/>
<circle cx="1405.3" cy="541.1" r="3.6" fill="#fff" stroke="#7f7ff2" stroke-width="3.2"/>
<circle cx="1422.5" cy="550.8" r="3.6" fill="#fff" stroke="#7f7ff2" stroke-width="3.2"/>
<circle cx="1409.8" cy="558.3" r="3.6" fill="#fff" stroke="#7f7ff2" stroke-width="3.2"/>
<circle cx="1394.8" cy="565.1" r="3.6" fill="#fff" stroke="#7f7ff2" stroke-width="3.2"/>
<circle cx="1427.8" cy="562.8" r="3.6" fill="#fff" stroke="#7f7ff2" stroke-width="3.2"/>
<circle cx="1402.3" cy="574.8" r="3.6" fill="#fff" stroke="#7f7ff2" stroke-width="3.2"/>
<circle cx="1417.3" cy="576.3" r="3.6" fill="#fff" stroke="#7f7ff2" stroke-width="3.2"/>
<circle cx="1397.8" cy="582.3" r="3.6" fill="#fff" stroke="#7f7ff2" stroke-width="3.2"/>
<circle cx="1409.8" cy="583.8" r="3.6" fill="#fff" stroke="#7f7ff2" stroke-width="3.2"/>
<circle cx="1415.8" cy="588.3" r="3.6" fill="#fff" stroke="#7f7ff2" stroke-width="3.2"/>
<circle cx="1402.3" cy="589.8" r="3.6" fill="#fff" stroke="#7f7ff2" stroke-width="3.2"/>
<circle cx="1408.3" cy="597.3" r="3.6" fill="#fff" stroke="#7f7ff2" stroke-width="3.2"/>
<circle cx="1414.3" cy="600.3" r="3.6" fill="#fff" stroke="#7f7ff2" stroke-width="3.2"/>
<circle cx="1406" cy="607" r="3.6" fill="#fff" stroke="#7f7ff2" stroke-width="3.2"/>
<circle cx="1400" cy="570" r="3.6" fill="#fff" stroke="#7f7ff2" stroke-width="3.2"/>
<circle cx="1412" cy="569" r="3.6" fill="#fff" stroke="#7f7ff2" stroke-width="3.2"/>
<circle cx="1420" cy="566" r="3.6" fill="#fff" stroke="#7f7ff2" stroke-width="3.2"/>
<path d="M1327.5,631.7 L1327.5,548.6 L1365.5,548.6 L1365.5,631.7" fill="none" stroke="#333333" stroke-width="3.1" stroke-linejoin="round"/>
<path d="M1390.6,631.7 L1390.6,569.1 L1429,569.1 L1429,631.7" fill="none" stroke="#0000ff" stroke-width="3.6" stroke-linejoin="round"/>
<line x1="1346.5" y1="548.5" x2="1346.5" y2="536.6" stroke="#333333" stroke-width="3.1"/>
<line x1="1336.4" y1="536.6" x2="1356.6" y2="536.6" stroke="#333333" stroke-width="3.1"/>
<line x1="1409.8" y1="568.5" x2="1409.8" y2="561.3" stroke="#0000ff" stroke-width="3.6"/>
<line x1="1400" y1="561.3" x2="1419.5" y2="561.3" stroke="#0000ff" stroke-width="3.6"/>
<line x1="1337.9" y1="455" x2="1418.8" y2="455" stroke="#000" stroke-width="3.7"/>
<text x="1367.3" y="458.7" font-size="64" font-weight="bold" fill="#000" text-anchor="start">*</text>
<text x="16.8" y="842.4" font-size="34" font-weight="bold" fill="#000" text-anchor="start">E</text>
<text x="77.9" y="882.6" font-size="30" font-weight="bold" font-style="italic" fill="#231815">Cyld<tspan font-size="20" dx="2.3" dy="-13.8">+/+</tspan></text>
<text x="179.8" y="948.8" font-size="30" font-weight="bold" font-style="italic" fill="#231815">Cyld<tspan font-size="20" dx="2.3" dy="-13.8">-/-</tspan></text>
<polyline points="43.5,900.5 44,901.2 44.5,901.1 45,900.3 45.5,900.4 46,900.3 46.5,900.8 47,900.5 47.5,900.9 48,899.6 48.5,901.4 49,900.5 49.5,900.9 50,900.5 50.5,900.4 51,900.8 51.5,901 52,900.5 52.5,900.5 53,901 53.5,900.2 54,899.9 54.5,900.8 55,900.3 55.5,899.7 56,900.2 56.5,900.4 57,900.1 57.5,899.9 58,900.7 58.5,901.1 59,900.6 59.5,900.3 60,900.9 60.5,901.1 61,900.6 61.5,901 62,901.2 62.5,900.6 63,900.3 63.5,900.9 64,900.9 64.5,901.3 65,900.1 65.5,900.4 66,900.3 66.5,899.9 67,900.8 67.5,901 68,900.4 68.5,901.5 69,901.2 69.5,901.1 70,901 70.5,901.3 71,900.1 71.5,901.1 72,901.1 72.5,899.9 73,901 73.5,900.7 74,901.3 74.5,900.7 75,901 75.5,901.2 76,900.7 76.5,901.6 77,901.4 77.5,901.8 78,901.5 78.5,902.5 79,902.4 79.5,902.2 80,902.8 80.5,903.3 81,903.7 81.5,902.2 82,903.6 82.5,903.5 83,903.3 83.5,902.9 84,904.1 84.5,902.8 85,903.7 85.5,904 86,902.5 86.5,903.1 87,902.5 87.5,903.2 88,903.8 88.5,904 89,902.1 89.5,902.6 90,903.2 90.5,903.6 91,903 91.5,902.4 92,902.8 92.5,902.6 93,902.5 93.5,902.2 94,902.7 94.5,902.7 95,902.4 95.5,902.3 96,901.8 96.5,902.1 97,903 97.5,902.2 98,901.6 98.5,902.9 99,902.5 99.5,903.3 100,902.2 100.5,902 101,901.4 101.5,902.8 102,903.4 102.5,901.7 103,901.8 103.5,902.4 104,901.6 104.5,901.9 105,901.8 105.5,902.1 106,902.5 106.5,902 107,902.4 107.5,901.7 108,902.1 108.5,900.9 109,901.2 109.5,902.3 110,901.6 110.5,902.2 111,902.1 111.5,902.5 112,902.3 112.5,902.3 113,901.8 113.5,901.5 114,901.4 114.5,901.6 115,901.2 115.5,901.5 116,901.7 116.5,901.9 117,901.6 117.5,900.8 118,901.7 118.5,901.9 119,902.3 119.5,902 120,901.4 120.5,901.4 121,902.7 121.5,902.1 122,902.6 122.5,902.8 123,901.3 123.5,901.9 124,901.9 124.5,902 125,902 125.5,901.8 126,901.8 126.5,901 127,901.6 127.5,901.3 128,901.8 128.5,901.5 129,902 129.5,902.1 130,901.9 130.5,901.9 131,901.7 131.5,901.5 132,901.6 132.5,901.5 133,901.9 133.5,901.7 134,902 134.5,901 135,902.1 135.5,901.3 136,901.3 136.5,901.6 137,901.4 137.5,901.8 138,901.4 138.5,901.2 139,901.3 139.5,902.4 140,901.7 140.5,901.1 141,901.7 141.5,900.9 142,902.6 142.5,901 143,902 143.5,902 144,901 144.5,901.9 145,902.2 145.5,902 146,901.9 146.5,902.2 147,901.8 147.5,901.9 148,901.7 148.5,902.1 149,901.3 149.5,902.1 150,901.5 150.5,901.2 151,901.9 151.5,902.6 152,902.2 152.5,901.5 153,902.1 153.5,901.5 154,901.7 154.5,901.8 155,900.6 155.5,901.9 156,901.3 156.5,901.4 157,901.1 157.5,901 158,901.3 158.5,902.2 159,902.6 159.5,901.8 160,902.4 160.5,901.7 161,900.9 161.5,901.9 162,902.1 162.5,901.6 163,902 163.5,902.1 164,901.4 164.5,901.1 165,901.7 165.5,901.8 166,901.7 166.5,902.4 167,902.7 167.5,901.7 168,902.2 168.5,902.4 169,902.2 169.5,902.4 170,901.7 170.5,902.3 171,902.9 171.5,902.3 172,901.6 172.5,902.2 173,902.6 173.5,902.1 174,901.6 174.5,902.7 175,901.3 175.5,902.2 176,901.9 176.5,901.4 177,902.6 177.5,902.1 178,901.4 178.5,902.3 179,901.8 179.5,901 180,901.6 180.5,902.1 181,902.3 181.5,902.1 182,902 182.5,902.2 183,901.9 183.5,902.6 184,902.1 184.5,902.2 185,902.3 185.5,901.5 186,901.7 186.5,902.8 187,902.2 187.5,901.9 188,902.2 188.5,901.8 189,902.2 189.5,901.7 190,902.2 190.5,901.3 191,902.7 191.5,901.8 192,901.3 192.5,902 193,901.9 193.5,902.2 194,901.5 194.5,902.3 195,903.9 195.5,901.5 196,902.3 196.5,902 197,902.2 197.5,901.2 198,901.6 198.5,902.4 199,902.1 199.5,903 200,901.8 200.5,902.3 201,903.6 201.5,901.8 202,901.7 202.5,902.2 203,902.2 203.5,902.6 204,902.3 204.5,901.8 205,902.3 205.5,903.5 206,902.9 206.5,900.8 207,902.2 207.5,901.8 208,902.6 208.5,902.2 209,903.2 209.5,902.7 210,902.7 210.5,902.4 211,902.2 211.5,902.4 212,902.9 212.5,902.5 213,902.1 213.5,902.9 214,902.4 214.5,902.3 215,901.9 215.5,902 216,902 216.5,900.9 217,902.8 217.5,902.6 218,902.2 218.5,902.9 219,902.6 219.5,902.5 220,901.1 220.5,902.2 221,902.6 221.5,903.2 222,903.3 222.5,903.1 223,901.8 223.5,901.3 224,902.7 224.5,902.4 225,902.9 225.5,902.3 226,902.5 226.5,901.7 227,902.6 227.5,902.2 228,902.6 228.5,902.7 229,902.4 229.5,902.6 230,902.4 230.5,902.8 231,902.7 231.5,902.2 232,902.2 232.5,903.4 233,902.4 233.5,903 234,902.7 234.5,902.2 235,902.1 235.5,902.6 236,902.6 236.5,902.8 237,901.9 237.5,902.2 238,902.5 238.5,903.3 239,901.4 239.5,902.8 240,902.3 240.5,902.8 241,902.3 241.5,902.8 242,903.4 242.5,902.8 243,902.8 243.5,902.8 244,902.2 244.5,902.9 245,902.5 245.5,902.2 246,902.6 246.5,902.5 247,903 247.5,902.6 248,902.4 248.5,903.4 249,903.1 249.5,903.3 250,903 250.5,902.6 251,902.5 251.5,902.5 252,903.1 252.5,902.7 253,901.9 253.5,902.7 254,902 254.5,902.8 255,902.1 255.5,902.1 256,902.8 256.5,902.7 257,901.9 257.5,903.1 258,903.8 258.5,902 259,903.7 259.5,902.4 260,902.5 260.5,902.7 261,902 261.5,903.4 262,903 262.5,902.4 263,902.6 263.5,902 264,902.6 264.5,903.3 265,902 265.5,902.6 266,902.9 266.5,903.3 267,903.5 267.5,902.6 268,902.5 268.5,903.1 269,902.7 269.5,902.7 270,903.4 270.5,903.7 271,903 271.5,902.8 272,903.2 272.5,901.9 273,902.9 273.5,902.4 274,904.1 274.5,903.3 275,903 275.5,902.8 276,901.7 276.5,903.3 277,903.7 277.5,902.6 278,903.3 278.5,903.3 279,902.2 279.5,903.4 280,903.6 280.5,903.1 281,902.9 281.5,903.4 282,902.2 282.5,903 283,903.5 283.5,902.4 284,903.5 284.5,902.8 285,902 285.5,903" fill="none" stroke="#231815" stroke-width="1.7" stroke-linejoin="round"/>
<polyline points="43.5,901.5 44,900.8 44.5,901.9 45,901 45.5,901.6 46,901.1 46.5,901.2 47,902 47.5,901.5 48,901.2 48.5,900.8 49,902 49.5,901.8 50,901.3 50.5,901.6 51,900.9 51.5,900.9 52,901 52.5,901.6 53,901.6 53.5,901.1 54,901.9 54.5,901.9 55,901.6 55.5,902 56,901.4 56.5,901.5 57,901.7 57.5,901.5 58,901.9 58.5,900.9 59,902.2 59.5,901.1 60,901.5 60.5,900.9 61,901.9 61.5,902.2 62,902.1 62.5,902 63,900.8 63.5,901.2 64,901.4 64.5,901.1 65,902.2 65.5,901.7 66,901.6 66.5,901.9 67,901.1 67.5,901.2 68,901.2 68.5,901.9 69,901.8 69.5,901.9 70,902.2 70.5,901 71,901.4 71.5,901.7 72,901 72.5,901.4 73,902.2 73.5,902.3 74,902.3 74.5,901.9 75,902 75.5,902.9 76,902.4 76.5,903.1 77,904 77.5,903.6 78,903.9 78.5,904.7 79,905.5 79.5,906 80,906.4 80.5,907.1 81,906.6 81.5,907.6 82,908.6 82.5,908.6 83,908.8 83.5,909.2 84,909.6 84.5,910.1 85,909.7 85.5,910.3 86,910.9 86.5,909.7 87,910.3 87.5,909.6 88,908.7 88.5,908.9 89,908.3 89.5,909 90,907.9 90.5,909 91,908.4 91.5,907 92,908.2 92.5,908.5 93,907.2 93.5,907.9 94,906.4 94.5,907.3 95,906.2 95.5,907.1 96,905.9 96.5,905.3 97,906.7 97.5,907.6 98,906 98.5,906.6 99,906.2 99.5,905.8 100,906.2 100.5,906.6 101,905.1 101.5,905.9 102,905.7 102.5,904.8 103,906.2 103.5,906.3 104,904.8 104.5,906 105,905.1 105.5,905 106,905.7 106.5,905 107,905 107.5,905.5 108,905.4 108.5,905.1 109,903.9 109.5,903.8 110,905.1 110.5,904 111,904.5 111.5,903.8 112,904.2 112.5,903.6 113,905 113.5,903.7 114,904.1 114.5,904 115,904.7 115.5,903.3 116,904 116.5,903.8 117,904.2 117.5,904.1 118,903.6 118.5,903.9 119,903.6 119.5,904 120,903.7 120.5,903.4 121,903.7 121.5,903.8 122,904.7 122.5,903.3 123,903.7 123.5,904.3 124,902.5 124.5,902.6 125,902.9 125.5,903.4 126,904.7 126.5,903.6 127,904 127.5,903.3 128,902.1 128.5,902.2 129,903.8 129.5,903.4 130,902.6 130.5,903.8 131,902.5 131.5,903.8 132,904 132.5,902.8 133,902.7 133.5,903.6 134,902.6 134.5,903.6 135,902.6 135.5,903.6 136,903.2 136.5,902.9 137,902.7 137.5,903.2 138,902.2 138.5,903 139,902.9 139.5,903.4 140,902.4 140.5,903.9 141,902.9 141.5,902.5 142,903.7 142.5,903.9 143,902.9 143.5,902.6 144,903 144.5,902.7 145,902.8 145.5,903.8 146,903.2 146.5,903.1 147,903.2 147.5,902.9 148,903.4 148.5,903.4 149,902.8 149.5,903 150,904.2 150.5,903.2 151,902.9 151.5,904 152,903 152.5,902.4 153,903.3 153.5,902.5 154,902.7 154.5,903.1 155,902.9 155.5,902.6 156,902.7 156.5,902.6 157,903.5 157.5,902.6 158,902.6 158.5,903.9 159,902.6 159.5,903.7 160,903.6 160.5,902.8 161,902.2 161.5,903.1 162,903.3 162.5,903.4 163,903 163.5,903.5 164,903.6 164.5,902.4 165,903.6 165.5,903 166,902.6 166.5,902.8 167,903.9 167.5,903.4 168,902 168.5,903 169,902.9 169.5,902.8 170,902.7 170.5,902.2 171,903.4 171.5,902.5 172,902.8 172.5,902.6 173,902.6 173.5,903.3 174,903.1 174.5,902.6 175,902.5 175.5,902.7 176,903.4 176.5,903 177,903.1 177.5,902.8 178,902.8 178.5,903.1 179,902 179.5,903.8 180,902.6 180.5,902.7 181,903.6 181.5,903.1 182,903 182.5,902.7 183,902.2 183.5,903.1 184,903.6 184.5,902.5 185,903.7 185.5,902.4 186,902.6 186.5,903.3 187,903 187.5,903.4 188,902.6 188.5,902.5 189,902.1 189.5,902.4 190,902.5 190.5,902.3 191,903.2 191.5,902.7 192,902 192.5,904.3 193,902.6 193.5,902.4 194,903.7 194.5,903.6 195,902.5 195.5,902.3 196,902.6 196.5,903.6 197,902.9 197.5,902.7 198,903.1 198.5,903.7 199,902.4 199.5,902.9 200,902.4 200.5,904.2 201,904 201.5,903.6 202,903 202.5,903.4 203,902.1 203.5,903.3 204,902.5 204.5,902.5 205,902.8 205.5,903 206,903.4 206.5,903.5 207,903.3 207.5,902.7 208,903.5 208.5,903.1 209,903.7 209.5,902.7 210,901.8 210.5,902.9 211,904.3 211.5,903.4 212,903.1 212.5,903.6 213,903.4 213.5,903.4 214,902.9 214.5,903.2 215,903.3 215.5,902.9 216,902.7 216.5,903.3 217,903.7 217.5,903.6 218,903.5 218.5,903.5 219,904.5 219.5,903.4 220,903.8 220.5,904.2 221,903.3 221.5,903.4 222,903.8 222.5,904.1 223,903.4 223.5,903.5 224,903.3 224.5,902.7 225,903.9 225.5,903.2 226,902.4 226.5,903.2 227,902.4 227.5,902.8 228,903.3 228.5,902.9 229,903.9 229.5,902.6 230,903.5 230.5,903.6 231,904.1 231.5,903.8 232,903.5 232.5,903.4 233,903.3 233.5,903.9 234,903.1 234.5,903.6 235,903.3 235.5,903.5 236,903.3 236.5,904.5 237,903.1 237.5,903.5 238,903.6 238.5,903.7 239,903.7 239.5,903.6 240,903.9 240.5,902.7 241,903.5 241.5,902.8 242,903.6 242.5,902.9 243,903 243.5,903.4 244,904.2 244.5,903.8 245,903.6 245.5,904.2 246,903 246.5,902.5 247,903.3 247.5,903.4 248,904.1 248.5,904.6 249,902.9 249.5,904.8 250,904.3 250.5,904 251,903.7 251.5,904.8 252,903.6 252.5,903.3 253,903.6 253.5,902.9 254,903.8 254.5,903.5 255,903.7 255.5,903.8 256,903.1 256.5,904.3 257,903.1 257.5,904.1 258,902.8 258.5,903.8 259,903.2 259.5,903.6 260,903.3 260.5,902.5 261,903.1 261.5,903.7 262,904 262.5,902.9 263,902.6 263.5,903.2 264,903.6 264.5,903.4 265,903.3 265.5,904.1 266,904.2 266.5,904.1 267,903.2 267.5,903.7 268,903.6 268.5,903 269,904.2 269.5,903.8 270,903.5 270.5,904.4 271,904.1 271.5,904.2 272,904.4 272.5,904.1 273,903.1 273.5,903.6 274,904.3 274.5,903.4 275,903.8 275.5,904 276,904.5 276.5,904.4 277,904.2 277.5,903.7 278,904.3 278.5,904.1 279,903.7 279.5,904.5 280,904.1 280.5,903.5 281,904.5 281.5,903.7 282,904.1 282.5,903.1 283,903.8 283.5,903.4 284,903.4 284.5,902.9 285,905 285.5,903.8" fill="none" stroke="#231815" stroke-width="1.7" stroke-linejoin="round"/>
<polyline points="43.5,900.9 44,900.3 44.5,900.7 45,899.7 45.5,900.5 46,900.2 46.5,900.7 47,900.5 47.5,899.7 48,899.5 48.5,899.9 49,900.8 49.5,900.7 50,900.7 50.5,899.5 51,899.1 51.5,900.2 52,900.3 52.5,900.2 53,900.7 53.5,900.4 54,899.9 54.5,900.1 55,900.6 55.5,900.6 56,900.5 56.5,901.7 57,900.4 57.5,900.6 58,900 58.5,900.4 59,900.8 59.5,900.8 60,900.5 60.5,900.8 61,900.6 61.5,899.6 62,898.9 62.5,901.7 63,901 63.5,900.6 64,899.7 64.5,900 65,901.3 65.5,899.2 66,900.5 66.5,901.1 67,900.7 67.5,901 68,900.6 68.5,901.8 69,900.1 69.5,900 70,900.8 70.5,901.4 71,900.6 71.5,901.2 72,900.4 72.5,900.1 73,901.4 73.5,901.5 74,901.5 74.5,900.5 75,900.4 75.5,901.1 76,902.8 76.5,904.8 77,906.9 77.5,908.5 78,912.5 78.5,916.1 79,920.4 79.5,924.9 80,929.5 80.5,934.8 81,939.6 81.5,944.8 82,949.6 82.5,955.5 83,960 83.5,963 84,967.4 84.5,969.4 85,971.6 85.5,971.8 86,971.8 86.5,971.1 87,969.4 87.5,967.4 88,964.9 88.5,965.1 89,961.7 89.5,960.7 90,959.7 90.5,958.1 91,956.7 91.5,955.4 92,954.2 92.5,952.4 93,952.4 93.5,949.2 94,948.6 94.5,947.1 95,945.8 95.5,945.1 96,944.6 96.5,942.5 97,941.4 97.5,941.1 98,940.1 98.5,939.8 99,938.4 99.5,937.1 100,936 100.5,935.4 101,934.4 101.5,933 102,932.9 102.5,932 103,931.2 103.5,930.4 104,930.8 104.5,929.6 105,929.1 105.5,927.6 106,926.8 106.5,926.6 107,926.2 107.5,925.3 108,924.9 108.5,924.9 109,924 109.5,922.9 110,922.6 110.5,922 111,922 111.5,920.8 112,920.9 112.5,920.9 113,920.1 113.5,919.2 114,918.9 114.5,918.9 115,918.7 115.5,918.5 116,917.6 116.5,916.7 117,917.7 117.5,916.8 118,916.5 118.5,916.2 119,915.2 119.5,915.2 120,915.2 120.5,915.3 121,914.5 121.5,912.7 122,913.8 122.5,913.9 123,914.1 123.5,913.5 124,914.2 124.5,913.4 125,913.2 125.5,912.7 126,911.3 126.5,912.2 127,911.9 127.5,911.1 128,911.5 128.5,911.2 129,910.6 129.5,910.6 130,910.3 130.5,910.4 131,909.9 131.5,910.2 132,908.8 132.5,909.5 133,908.6 133.5,909.1 134,909.4 134.5,909 135,908.8 135.5,908.7 136,909.4 136.5,907.9 137,908.8 137.5,907.4 138,907.8 138.5,908 139,907.4 139.5,907.8 140,908 140.5,906.9 141,907.3 141.5,907.1 142,906.2 142.5,907 143,906.6 143.5,907.5 144,906.3 144.5,907.5 145,906.3 145.5,907.5 146,906.7 146.5,906.6 147,906.7 147.5,906.6 148,906.8 148.5,906.9 149,905.8 149.5,905.3 150,904.5 150.5,905.5 151,906 151.5,905.8 152,905.6 152.5,905.3 153,905.1 153.5,905.2 154,905.5 154.5,904.3 155,905.5 155.5,904.4 156,905 156.5,904.7 157,904.8 157.5,904.4 158,904.3 158.5,904.7 159,904.2 159.5,905.9 160,904.4 160.5,904.3 161,904.3 161.5,904 162,903.3 162.5,904.3 163,904.6 163.5,903.6 164,904.3 164.5,903.7 165,904.2 165.5,904.4 166,904.4 166.5,904.3 167,903.7 167.5,904.5 168,903.8 168.5,904.2 169,904.3 169.5,903.8 170,903.3 170.5,904.2 171,903.3 171.5,903.4 172,903.2 172.5,904.2 173,903.7 173.5,902.6 174,904 174.5,904.7 175,904.5 175.5,903.3 176,903.6 176.5,903.8 177,904 177.5,903.5 178,902.9 178.5,903.8 179,903.8 179.5,902.8 180,903.2 180.5,903.5 181,903.4 181.5,903.6 182,903.7 182.5,903.6 183,903.2 183.5,902.6 184,903.6 184.5,903.9 185,904.2 185.5,903.2 186,903.2 186.5,903.9 187,903.9 187.5,903.3 188,903.5 188.5,902.7 189,903.4 189.5,902.7 190,903 190.5,903 191,902.8 191.5,902 192,902.6 192.5,903.2 193,903 193.5,902.8 194,903.2 194.5,903.3 195,903.4 195.5,902.6 196,903 196.5,902.8 197,902.5 197.5,902.2 198,902.9 198.5,902.5 199,904 199.5,902.8 200,902.8 200.5,902.7 201,903.8 201.5,902.4 202,902.8 202.5,902.5 203,902.8 203.5,902.8 204,903.4 204.5,902.1 205,902.8 205.5,903.6 206,902.5 206.5,902.7 207,902.3 207.5,901.5 208,902.7 208.5,903.4 209,902.5 209.5,901.8 210,902.9 210.5,902.8 211,903.3 211.5,903.2 212,902.6 212.5,902.9 213,901.8 213.5,903.3 214,902.8 214.5,903.3 215,903.3 215.5,902.6 216,902.6 216.5,902.3 217,901.7 217.5,902.6 218,902.8 218.5,902.2 219,903.1 219.5,902.8 220,902.9 220.5,902.3 221,901.8 221.5,903.1 222,903 222.5,902.6 223,902.5 223.5,902.6 224,902.6 224.5,902.4 225,901.7 225.5,903.1 226,901.9 226.5,902.5 227,902.5 227.5,902.8 228,901.9 228.5,903.3 229,903 229.5,903.1 230,903.3 230.5,902.3 231,901.1 231.5,902.8 232,903.3 232.5,903.3 233,902.4 233.5,902.6 234,902.8 234.5,901.8 235,902.4 235.5,902.4 236,903.5 236.5,902.4 237,903.5 237.5,902.7 238,901.9 238.5,903.8 239,902.2 239.5,903 240,903.6 240.5,902.4 241,902.1 241.5,903.2 242,902.7 242.5,902.1 243,902.2 243.5,902.5 244,903.2 244.5,902.6 245,903 245.5,903.5 246,903.4 246.5,903.4 247,903.3 247.5,901.9 248,903.3 248.5,902.9 249,902.7 249.5,902.2 250,901.9 250.5,902.2 251,902.7 251.5,902.2 252,902.3 252.5,902.4 253,903.1 253.5,902.6 254,902.7 254.5,903.4 255,902.6 255.5,903.1 256,902.2 256.5,902.9 257,902.8 257.5,902.9 258,902.5 258.5,902.3 259,902.6 259.5,902.5 260,903.3 260.5,903.2 261,902.2 261.5,903.1 262,902.6 262.5,903 263,902.6 263.5,902.1 264,903.3 264.5,903 265,902.2 265.5,901.9 266,902.6 266.5,902.2 267,902.6 267.5,903.1 268,903.6 268.5,902.7 269,903.5 269.5,903.4 270,902.6 270.5,902 271,903.3 271.5,903.2 272,904 272.5,903.6 273,903.3 273.5,903.7 274,902.4 274.5,903 275,902.7 275.5,903.8 276,903.2 276.5,901.4 277,903.6 277.5,902.5 278,903.3 278.5,902.7 279,903 279.5,903.2 280,903 280.5,902.5 281,903.6 281.5,903.1 282,902.9 282.5,903.3 283,902.7 283.5,903.9 284,903.1 284.5,903.1 285,903.1 285.5,902.5" fill="none" stroke="#231815" stroke-width="1.7" stroke-linejoin="round"/>
<polyline points="43.5,900.6 44,900.7 44.5,901.2 45,900.8 45.5,900 46,900.8 46.5,901 47,901.1 47.5,900.7 48,900 48.5,901.1 49,900.2 49.5,900.9 50,899.8 50.5,901 51,900.2 51.5,901.1 52,901.5 52.5,901.2 53,900 53.5,900.1 54,900.2 54.5,901 55,900.8 55.5,900.7 56,900.8 56.5,900.9 57,901 57.5,901.5 58,900.6 58.5,900.8 59,899.7 59.5,900 60,900.3 60.5,900.1 61,900.8 61.5,901.2 62,900.5 62.5,900.5 63,900.5 63.5,900.8 64,900.5 64.5,900.9 65,900.9 65.5,900.9 66,901.1 66.5,900.8 67,900.8 67.5,901.6 68,900.7 68.5,901.2 69,900.8 69.5,900.5 70,900.6 70.5,900.4 71,900.8 71.5,900.5 72,900.6 72.5,901.4 73,900.7 73.5,901.4 74,901 74.5,901.3 75,900.9 75.5,902.1 76,904.6 76.5,905.5 77,908 77.5,910.6 78,914.6 78.5,917.8 79,922.8 79.5,928.6 80,934.2 80.5,939.1 81,945 81.5,950.7 82,956.8 82.5,962.4 83,968.5 83.5,975.5 84,981.1 84.5,987.9 85,994.7 85.5,1001.1 86,1007.6 86.5,1012 87,1015.8 87.5,1017.9 88,1019.6 88.5,1020.6 89,1019.9 89.5,1017.8 90,1015.4 90.5,1012.4 91,1009.5 91.5,1007.5 92,1003.8 92.5,1001.6 93,999.1 93.5,996.3 94,993.4 94.5,992 95,989.5 95.5,987.2 96,985 96.5,982.9 97,980.5 97.5,979.1 98,976.1 98.5,975.1 99,972.6 99.5,971.4 100,970.2 100.5,968 101,966.3 101.5,965.2 102,963.3 102.5,961.7 103,960.2 103.5,959.8 104,958 104.5,956.5 105,954.4 105.5,954 106,951.8 106.5,951.5 107,949.5 107.5,949.9 108,947 108.5,947.3 109,946.1 109.5,943.8 110,943.5 110.5,943.4 111,942.3 111.5,940 112,939.6 112.5,938.4 113,937.6 113.5,937 114,937.4 114.5,935.8 115,934.8 115.5,934 116,933.8 116.5,933.1 117,931.6 117.5,932.1 118,930.2 118.5,930 119,929.7 119.5,929.7 120,928.1 120.5,927.8 121,927.8 121.5,926.9 122,926.6 122.5,926 123,925.1 123.5,924.8 124,924.5 124.5,923.5 125,923.9 125.5,921.6 126,921.7 126.5,922.5 127,921.5 127.5,920.6 128,920.7 128.5,920.7 129,919.5 129.5,919.8 130,919 130.5,918.6 131,918.3 131.5,918.5 132,917.1 132.5,917.2 133,917.4 133.5,916.1 134,915.6 134.5,916.4 135,915.9 135.5,915.5 136,915.4 136.5,914.5 137,916.2 137.5,914 138,914.1 138.5,913.3 139,913.6 139.5,914.3 140,913.4 140.5,913.4 141,912.7 141.5,913.6 142,912.6 142.5,911.7 143,912.5 143.5,911.7 144,912 144.5,911.6 145,911.5 145.5,911.2 146,910.5 146.5,910.1 147,911.2 147.5,910.4 148,910.5 148.5,910 149,909 149.5,909.3 150,910.4 150.5,909.2 151,909.3 151.5,908.6 152,908.9 152.5,908.9 153,908.8 153.5,908.8 154,908.4 154.5,908.3 155,908.5 155.5,908.5 156,908.2 156.5,909 157,908.1 157.5,908 158,907.5 158.5,908.2 159,907.1 159.5,906.7 160,906.9 160.5,907.6 161,906.7 161.5,907.8 162,907.1 162.5,906.2 163,906.8 163.5,907.7 164,906.3 164.5,906 165,906.8 165.5,907.2 166,906.9 166.5,906.2 167,906.4 167.5,906.4 168,906.7 168.5,907.2 169,906 169.5,906.6 170,905.7 170.5,906.1 171,905.3 171.5,905.3 172,905.9 172.5,905.2 173,906 173.5,905.2 174,905.5 174.5,905.3 175,905.2 175.5,905.4 176,905.8 176.5,906.7 177,904.5 177.5,905.2 178,905 178.5,904.5 179,905.1 179.5,904.5 180,904.8 180.5,905.5 181,903.8 181.5,904.9 182,904.9 182.5,904.2 183,904.9 183.5,904.8 184,904.4 184.5,905.1 185,903.8 185.5,904.8 186,904.3 186.5,903.9 187,904.3 187.5,904.2 188,904.7 188.5,903.5 189,904.1 189.5,904 190,905 190.5,903.6 191,904.7 191.5,903.2 192,904.2 192.5,904 193,904.2 193.5,903.6 194,903 194.5,903.2 195,904.6 195.5,904 196,903.4 196.5,904.3 197,903.5 197.5,903.4 198,903.2 198.5,904.4 199,904.7 199.5,903.2 200,903.9 200.5,904.2 201,904.7 201.5,902.5 202,903.7 202.5,903.9 203,902.9 203.5,903.8 204,903.7 204.5,903.9 205,903.2 205.5,903.7 206,903.2 206.5,903.8 207,903.6 207.5,903.3 208,902.7 208.5,904.3 209,904 209.5,903.8 210,903.1 210.5,903.2 211,904.2 211.5,903.7 212,902.9 212.5,903.4 213,903.4 213.5,903.2 214,902.8 214.5,903.9 215,903.6 215.5,903.2 216,902.5 216.5,903 217,903.2 217.5,903.7 218,903 218.5,903.8 219,903.3 219.5,902.8 220,901.8 220.5,902.6 221,902.4 221.5,903.1 222,903.3 222.5,903.9 223,903.1 223.5,902.6 224,904.3 224.5,903.3 225,903 225.5,903 226,902.4 226.5,903.4 227,903.3 227.5,903.9 228,903.6 228.5,903.5 229,903.7 229.5,902.9 230,902.9 230.5,903 231,902.4 231.5,903 232,902.9 232.5,903.4 233,903 233.5,902.1 234,903.1 234.5,903.8 235,902.1 235.5,902.7 236,903 236.5,902.4 237,902.8 237.5,903.1 238,902.4 238.5,903.2 239,903.2 239.5,902.4 240,903 240.5,903.6 241,902.9 241.5,903.2 242,903.3 242.5,902.9 243,903.5 243.5,903.2 244,902.5 244.5,903.3 245,903.4 245.5,903.4 246,902.7 246.5,903.2 247,903.7 247.5,903.1 248,903.6 248.5,903.7 249,903 249.5,903.3 250,902.9 250.5,903.5 251,903 251.5,902.7 252,903 252.5,903 253,903.2 253.5,903.2 254,902.4 254.5,902.7 255,903.2 255.5,903.3 256,903.1 256.5,904.3 257,903.6 257.5,903 258,903.4 258.5,903.7 259,903.2 259.5,902.2 260,903.1 260.5,903.1 261,904.1 261.5,902.1 262,903.8 262.5,903 263,903.5 263.5,902.9 264,903.1 264.5,903.6 265,903.1 265.5,903.6 266,903 266.5,902.8 267,902.9 267.5,902.8 268,903 268.5,903.7 269,902.5 269.5,902.2 270,903.1 270.5,903.9 271,903.6 271.5,903.7 272,903.7 272.5,902.7 273,903.1 273.5,901.8 274,902.8 274.5,903.4 275,902.3 275.5,902.1 276,902.5 276.5,903.2 277,903.7 277.5,904.4 278,903.8 278.5,902.4 279,902 279.5,903.2 280,903.7 280.5,902.3 281,902.9 281.5,902.9 282,903.2 282.5,903.1 283,903.4 283.5,903.7 284,903.2 284.5,903.5 285,904.2 285.5,902.7" fill="none" stroke="#231815" stroke-width="1.7" stroke-linejoin="round"/>
<polyline points="43.5,902.2 44,902.8 44.5,902 45,902.5 45.5,901.8 46,902.4 46.5,901.6 47,902.3 47.5,902.1 48,902.2 48.5,902.6 49,902.5 49.5,901.7 50,902.4 50.5,901.1 51,902.5 51.5,903.4 52,902.3 52.5,902.3 53,902 53.5,902.4 54,901.8 54.5,902.4 55,901.9 55.5,901.8 56,902.1 56.5,902 57,901.2 57.5,903.1 58,902.1 58.5,901.2 59,902.6 59.5,902.1 60,902.2 60.5,902.5 61,901.7 61.5,900.6 62,902.1 62.5,902.2 63,902.6 63.5,901.8 64,902 64.5,902.3 65,902 65.5,902 66,902.3 66.5,901.7 67,903 67.5,901.7 68,902.2 68.5,902 69,901.8 69.5,902.5 70,902.7 70.5,902.9 71,902.5 71.5,902 72,902.7 72.5,901.5 73,902.3 73.5,902.5 74,902.5 74.5,901.7 75,902 75.5,904.7 76,905.5 76.5,907.6 77,911.3 77.5,916.2 78,922 78.5,927.4 79,935 79.5,942 80,949.9 80.5,958.1 81,965.7 81.5,974.4 82,982.7 82.5,991.4 83,1000.9 83.5,1009.3 84,1018.9 84.5,1027.8 85,1037.7 85.5,1047 86,1055.9 86.5,1061.9 87,1066.8 87.5,1071.1 88,1070.7 88.5,1072 89,1070.1 89.5,1068.8 90,1064.8 90.5,1060.8 91,1056.7 91.5,1052.3 92,1049.8 92.5,1045.4 93,1041.6 93.5,1037.7 94,1035.1 94.5,1031.4 95,1028.3 95.5,1025.5 96,1022.5 96.5,1019 97,1017.2 97.5,1013.3 98,1010.6 98.5,1008.6 99,1006 99.5,1003.5 100,1000.8 100.5,998.7 101,996.1 101.5,993.3 102,992.3 102.5,989.3 103,987.6 103.5,986.1 104,983.8 104.5,983.2 105,979.3 105.5,977.8 106,976.5 106.5,975.4 107,972.9 107.5,970.7 108,970.4 108.5,967.8 109,966.7 109.5,965.8 110,963.5 110.5,962.3 111,961.4 111.5,959.7 112,958.7 112.5,956.8 113,956 113.5,954.3 114,952.9 114.5,953.4 115,951.7 115.5,950.8 116,948.8 116.5,948.3 117,947.2 117.5,945.6 118,945.7 118.5,944.1 119,943.5 119.5,941.9 120,942.3 120.5,941.4 121,940.4 121.5,938.9 122,938.3 122.5,938.4 123,937 123.5,936.5 124,935.7 124.5,934.4 125,935.1 125.5,932.7 126,933.1 126.5,932.4 127,931 127.5,931.4 128,930.9 128.5,930.1 129,929.1 129.5,929.2 130,929 130.5,928 131,928.3 131.5,927.4 132,926.8 132.5,926.7 133,925.2 133.5,924.8 134,924.9 134.5,924.5 135,924.6 135.5,924 136,923.1 136.5,922.7 137,922.1 137.5,921.7 138,921.3 138.5,921.6 139,920.6 139.5,920.3 140,920.2 140.5,919.6 141,919.4 141.5,918.1 142,919.1 142.5,918.4 143,918.4 143.5,918.2 144,916.8 144.5,918.7 145,917.3 145.5,917 146,915.8 146.5,916.8 147,916.4 147.5,915.8 148,915.9 148.5,916.2 149,915.2 149.5,914.7 150,915.6 150.5,914.8 151,914.4 151.5,915.5 152,914.2 152.5,913.8 153,913.9 153.5,913.3 154,913.5 154.5,913.3 155,912.7 155.5,912.7 156,912.8 156.5,912.7 157,912.7 157.5,912.6 158,912.2 158.5,912.2 159,911.6 159.5,911.5 160,912 160.5,910.3 161,911.4 161.5,912.6 162,910 162.5,911.6 163,909.8 163.5,910.7 164,911.2 164.5,911.1 165,909.7 165.5,909.4 166,909.3 166.5,910.2 167,909.6 167.5,909.7 168,909.7 168.5,909.7 169,909.6 169.5,909.3 170,908.4 170.5,909.8 171,907.6 171.5,909.5 172,908.5 172.5,908.6 173,908.4 173.5,908.4 174,908.5 174.5,908.2 175,907.8 175.5,908.7 176,907.9 176.5,908.8 177,907.9 177.5,907.6 178,908.1 178.5,908.3 179,907.3 179.5,907.5 180,908.3 180.5,907.1 181,907.1 181.5,907.5 182,906.8 182.5,906.1 183,906.4 183.5,907.4 184,907.5 184.5,907.4 185,907.2 185.5,906.4 186,907.3 186.5,907.5 187,906.5 187.5,907.3 188,906.6 188.5,906.8 189,906.8 189.5,905.9 190,907.3 190.5,906.1 191,906.4 191.5,906.2 192,906.6 192.5,906.6 193,906.3 193.5,907 194,906.4 194.5,906 195,904.7 195.5,906 196,906 196.5,905.6 197,905.6 197.5,906.3 198,906.5 198.5,906.9 199,906.5 199.5,905.5 200,906 200.5,905.1 201,906.1 201.5,905.9 202,905.4 202.5,905.6 203,905.5 203.5,905.3 204,906.3 204.5,907.1 205,906 205.5,906.1 206,905.6 206.5,905.3 207,906.6 207.5,905.3 208,905.6 208.5,905.3 209,905.7 209.5,905.3 210,905.6 210.5,904.7 211,905.3 211.5,906 212,904.7 212.5,904.9 213,905.9 213.5,905.4 214,905.7 214.5,904.1 215,905.2 215.5,904.5 216,904.4 216.5,905.3 217,905.7 217.5,904.3 218,904.5 218.5,904.8 219,905 219.5,904.4 220,906.1 220.5,905.3 221,904.8 221.5,904.7 222,906.1 222.5,906.1 223,904.7 223.5,905.1 224,905.5 224.5,904.3 225,904.6 225.5,905.5 226,904.5 226.5,904.6 227,904.2 227.5,904.4 228,905.2 228.5,904.4 229,904.1 229.5,904.5 230,905.7 230.5,904.9 231,904.5 231.5,904.8 232,905 232.5,904.8 233,903.8 233.5,904.9 234,904.6 234.5,905.1 235,904 235.5,905.2 236,904.4 236.5,903.8 237,905.3 237.5,904.4 238,904.8 238.5,904.6 239,905.2 239.5,905.2 240,905.2 240.5,905 241,903.8 241.5,903.8 242,904.7 242.5,904.1 243,904.8 243.5,904.7 244,903.9 244.5,904.1 245,904 245.5,904.1 246,904.5 246.5,904.9 247,905.2 247.5,904.1 248,904.3 248.5,905.3 249,905 249.5,904.7 250,903.4 250.5,904 251,904.6 251.5,904.2 252,905.5 252.5,904.6 253,904.7 253.5,904 254,904 254.5,904.2 255,904.2 255.5,904.4 256,904.7 256.5,904.6 257,905 257.5,903.8 258,904.6 258.5,904.6 259,905.3 259.5,904.4 260,904.7 260.5,904.1 261,904.7 261.5,904.7 262,904.2 262.5,904.3 263,904.5 263.5,904.8 264,903.9 264.5,905 265,904.3 265.5,905.5 266,905.3 266.5,904.3 267,904.2 267.5,905.8 268,904.8 268.5,904.8 269,904.3 269.5,904.5 270,904.9 270.5,904.8 271,904.1 271.5,905.1 272,904.7 272.5,904 273,905 273.5,904.4 274,904.9 274.5,904.2 275,904.7 275.5,903.7 276,904.7 276.5,903.8 277,904.6 277.5,903.3 278,904.5 278.5,904.9 279,904.8 279.5,905.1 280,904 280.5,905.3 281,905.4 281.5,903.9 282,904.1 282.5,904.3 283,904.5 283.5,904.7 284,903.3 284.5,904.9 285,904.4 285.5,904.1" fill="none" stroke="#231815" stroke-width="1.7" stroke-linejoin="round"/>
<polyline points="43.5,901.9 44,902.7 44.5,902.4 45,902 45.5,902.7 46,902.5 46.5,901.9 47,901.3 47.5,901.9 48,902.5 48.5,902 49,903.1 49.5,902.3 50,902.3 50.5,902.4 51,901.7 51.5,902.1 52,901.9 52.5,901 53,901.3 53.5,902.6 54,902 54.5,902.2 55,901.5 55.5,901.9 56,902.6 56.5,902.3 57,902 57.5,903 58,902.2 58.5,902.1 59,902.8 59.5,901.4 60,902.6 60.5,901.7 61,901.9 61.5,901.9 62,902.4 62.5,902.4 63,902.5 63.5,902.4 64,903 64.5,903.2 65,902.7 65.5,902.7 66,902.1 66.5,901.8 67,902.6 67.5,902.4 68,902.8 68.5,901.4 69,903.7 69.5,901.7 70,902.4 70.5,902.9 71,901.7 71.5,902.1 72,901.4 72.5,901.7 73,901.4 73.5,902.5 74,902.6 74.5,902.3 75,903.6 75.5,905 76,906.4 76.5,909.3 77,913.2 77.5,918 78,924.7 78.5,931.1 79,938.7 79.5,947.2 80,956.3 80.5,964.9 81,974.6 81.5,983.9 82,994.4 82.5,1004.2 83,1013 83.5,1023.9 84,1034.8 84.5,1044.8 85,1056.1 85.5,1066.7 86,1077.1 86.5,1085.2 87,1092.1 87.5,1097.2 88,1099.4 88.5,1101.1 89,1100.8 89.5,1100.1 90,1095.7 90.5,1090.9 91,1086.2 91.5,1081.4 92,1076.9 92.5,1073.4 93,1068.6 93.5,1065.5 94,1060.9 94.5,1057 95,1053.1 95.5,1049.6 96,1046.1 96.5,1043.4 97,1040.4 97.5,1035.4 98,1032.9 98.5,1030.1 99,1026.2 99.5,1023.4 100,1020.6 100.5,1016.9 101,1015.7 101.5,1012.7 102,1010.1 102.5,1007.7 103,1005.3 103.5,1003.9 104,1000.6 104.5,998.6 105,995.7 105.5,994 106,991.6 106.5,989.6 107,987.3 107.5,985.4 108,984.1 108.5,982.4 109,980.5 109.5,978.2 110,976.9 110.5,973.9 111,974 111.5,971.9 112,970.5 112.5,969.5 113,967.2 113.5,966.5 114,964.4 114.5,963.5 115,961.7 115.5,960.8 116,960.1 116.5,957.8 117,956.6 117.5,955.6 118,954.8 118.5,954.9 119,952.1 119.5,950.3 120,950 120.5,948.5 121,948.1 121.5,947.4 122,946 122.5,945.2 123,943.7 123.5,943.9 124,942.5 124.5,942.6 125,941.8 125.5,940 126,939.5 126.5,939 127,938.6 127.5,936.7 128,936.8 128.5,937 129,935.4 129.5,934.9 130,934.2 130.5,932.9 131,933.4 131.5,932.5 132,931.8 132.5,931.5 133,931 133.5,929.1 134,929.8 134.5,928.7 135,928.6 135.5,927.7 136,927.1 136.5,927.6 137,926.6 137.5,926 138,925.6 138.5,925.3 139,924.9 139.5,923.3 140,923.6 140.5,923.5 141,923.6 141.5,923.6 142,922.1 142.5,923.1 143,921.9 143.5,921.7 144,920.9 144.5,920.5 145,921.2 145.5,920.1 146,919.8 146.5,920.1 147,920.1 147.5,918.2 148,918.6 148.5,918.4 149,919.1 149.5,919.1 150,917.6 150.5,917.6 151,917.6 151.5,917.5 152,916.5 152.5,916.8 153,915.8 153.5,914.6 154,915 154.5,915.6 155,915.7 155.5,914 156,914 156.5,914.7 157,912.8 157.5,914.6 158,914.7 158.5,912.5 159,914.2 159.5,913.5 160,914.1 160.5,913.4 161,913 161.5,913 162,913.3 162.5,912.7 163,912.5 163.5,911.6 164,912.4 164.5,912.1 165,912.8 165.5,911.8 166,911.6 166.5,911.2 167,911.7 167.5,911.1 168,910.8 168.5,911.8 169,911.8 169.5,910.5 170,910.1 170.5,911.1 171,910 171.5,911.7 172,910.1 172.5,910.6 173,909.4 173.5,909.9 174,910.4 174.5,909.9 175,909.4 175.5,910.8 176,909.8 176.5,909.2 177,909 177.5,909 178,909.8 178.5,908.6 179,908.9 179.5,908.4 180,909.4 180.5,908.6 181,909.1 181.5,908.8 182,908.2 182.5,908.8 183,908.8 183.5,907.7 184,908.5 184.5,909.9 185,907.9 185.5,908.3 186,907.3 186.5,908.1 187,907.5 187.5,908.1 188,907.7 188.5,907 189,908.1 189.5,907.4 190,907 190.5,907.5 191,906.9 191.5,907.5 192,907.2 192.5,907 193,907.5 193.5,906.5 194,907.6 194.5,906 195,907.8 195.5,907 196,906.8 196.5,906.5 197,907.1 197.5,906.7 198,906.6 198.5,907.2 199,906.4 199.5,906.5 200,906.8 200.5,907.1 201,906.4 201.5,906.6 202,906.5 202.5,906.8 203,907.1 203.5,905.9 204,906.2 204.5,906.3 205,906.5 205.5,907 206,906.2 206.5,906.3 207,906.7 207.5,905.5 208,905.7 208.5,905.8 209,906 209.5,906.1 210,905.7 210.5,906.8 211,905.6 211.5,905.8 212,906.4 212.5,906.2 213,905.8 213.5,906 214,906.2 214.5,905.7 215,906.1 215.5,905.2 216,905.7 216.5,904.8 217,905.2 217.5,905.1 218,906.2 218.5,905.4 219,905.7 219.5,905.1 220,905.4 220.5,905.4 221,905.1 221.5,905.9 222,904.6 222.5,905.8 223,906.8 223.5,905 224,905.4 224.5,904.6 225,905.4 225.5,904.5 226,905.7 226.5,905.1 227,904.4 227.5,904.6 228,904.5 228.5,905.1 229,905.7 229.5,905 230,904.6 230.5,904.8 231,905.3 231.5,904 232,905.5 232.5,905.4 233,903.9 233.5,905.7 234,904.3 234.5,905 235,905.7 235.5,904.3 236,904.1 236.5,904.5 237,904.5 237.5,905 238,904.8 238.5,904.8 239,904.8 239.5,904.9 240,904.6 240.5,905.2 241,905 241.5,904.5 242,905.9 242.5,904.3 243,905.4 243.5,904.6 244,905.2 244.5,905.2 245,905.4 245.5,905.7 246,904.5 246.5,906.4 247,905.1 247.5,904.5 248,904.2 248.5,906.1 249,905.8 249.5,904.9 250,905.3 250.5,905.6 251,905 251.5,904.7 252,904.9 252.5,905.3 253,904.9 253.5,904.3 254,905.3 254.5,904 255,904.5 255.5,905.5 256,905 256.5,905 257,904.9 257.5,905.4 258,904.9 258.5,903.9 259,905 259.5,903.3 260,903.8 260.5,905.7 261,905.4 261.5,904.6 262,904.8 262.5,904.9 263,905.4 263.5,904.5 264,904.4 264.5,904.5 265,904.9 265.5,905 266,904.7 266.5,905.2 267,904.3 267.5,904.8 268,904.5 268.5,904.3 269,905.5 269.5,904.7 270,904.3 270.5,904.9 271,904.3 271.5,905.2 272,905.3 272.5,905.4 273,904.3 273.5,904.8 274,905.8 274.5,904.7 275,905.5 275.5,905.6 276,904.1 276.5,905.5 277,905.2 277.5,905.3 278,905.7 278.5,905.1 279,904.9 279.5,905.2 280,904.7 280.5,905.1 281,903.8 281.5,905.8 282,904.6 282.5,905.1 283,905 283.5,904.9 284,904.9 284.5,904.9 285,904 285.5,904.6" fill="none" stroke="#231815" stroke-width="1.7" stroke-linejoin="round"/>
<polyline points="43.5,900.7 44,900.6 44.5,902.3 45,901.8 45.5,902 46,901.2 46.5,901.3 47,901.6 47.5,901.5 48,901.2 48.5,900.5 49,900.9 49.5,900.5 50,902 50.5,901 51,901.2 51.5,901.4 52,901.3 52.5,901.5 53,901 53.5,900.5 54,902.2 54.5,900.9 55,901 55.5,900.9 56,901 56.5,901.3 57,901.7 57.5,900.8 58,901.5 58.5,901 59,901.9 59.5,900.7 60,901.4 60.5,901.7 61,900.7 61.5,901.4 62,901.4 62.5,901 63,901.3 63.5,901.9 64,901.5 64.5,901.2 65,901.3 65.5,901.6 66,902 66.5,901.8 67,901.8 67.5,902.2 68,900.6 68.5,900.7 69,900.3 69.5,901.8 70,900.3 70.5,901.4 71,901.8 71.5,900.7 72,901.1 72.5,901.3 73,901.8 73.5,900.7 74,901.6 74.5,901.8 75,902.2 75.5,903.8 76,907 76.5,910.1 77,914.7 77.5,920.5 78,928.1 78.5,936 79,946.1 79.5,956 80,967.2 80.5,977.2 81,989 81.5,1000.7 82,1012.6 82.5,1025 83,1036.9 83.5,1049.7 84,1062.9 84.5,1075.2 85,1087.2 85.5,1100.2 86,1112.3 86.5,1120.8 87,1128.1 87.5,1132.7 88,1136.2 88.5,1136.8 89,1134.2 89.5,1131.5 90,1125.6 90.5,1119.7 91,1115.4 91.5,1109.9 92,1105.2 92.5,1101.3 93,1096 93.5,1091.2 94,1086 94.5,1081.2 95,1078.1 95.5,1073.2 96,1069.3 96.5,1065.1 97,1061.5 97.5,1058.9 98,1053.9 98.5,1050.3 99,1047.1 99.5,1043.7 100,1039.7 100.5,1036.2 101,1033.6 101.5,1030.8 102,1027.5 102.5,1024.5 103,1021.7 103.5,1019.2 104,1016.7 104.5,1013.3 105,1011.3 105.5,1009.2 106,1006.5 106.5,1003.6 107,1001.7 107.5,999.7 108,997.9 108.5,994.5 109,993.6 109.5,991 110,989.3 110.5,987.6 111,984.9 111.5,983.1 112,981.7 112.5,980.3 113,978 113.5,975.9 114,974.6 114.5,973.6 115,972.4 115.5,970.1 116,968.7 116.5,967.3 117,965.9 117.5,964.1 118,963 118.5,962.1 119,960.7 119.5,959.4 120,957.7 120.5,956.8 121,955.5 121.5,955.3 122,954.4 122.5,952.7 123,952.3 123.5,950.3 124,949.3 124.5,947.8 125,947.7 125.5,946.4 126,945.7 126.5,945 127,943.8 127.5,942.5 128,942.2 128.5,941.4 129,940.7 129.5,940.2 130,939 130.5,938.2 131,938.5 131.5,937.5 132,936.2 132.5,935.1 133,934.7 133.5,934.5 134,934.1 134.5,934.2 135,932.3 135.5,931.9 136,931.1 136.5,930.7 137,930 137.5,929.1 138,929.6 138.5,928.6 139,928.7 139.5,927.3 140,927.2 140.5,927 141,925.2 141.5,925.1 142,925.6 142.5,924.9 143,923.5 143.5,923.6 144,923.1 144.5,923 145,923.6 145.5,922.2 146,923.1 146.5,921.6 147,921 147.5,921.8 148,921.1 148.5,921 149,921 149.5,920.2 150,920 150.5,918.2 151,918.4 151.5,918.7 152,918.3 152.5,918.3 153,917.4 153.5,917.9 154,918.1 154.5,917.2 155,917 155.5,916.6 156,916.6 156.5,916 157,915.4 157.5,915.5 158,915.3 158.5,914.2 159,914.9 159.5,914.6 160,914.5 160.5,913.9 161,914.2 161.5,914.1 162,913.2 162.5,913.6 163,913.6 163.5,913.4 164,912.4 164.5,912.2 165,912.5 165.5,911.8 166,913.4 166.5,911.6 167,911.5 167.5,912 168,911.3 168.5,910.2 169,911.2 169.5,910.6 170,910.7 170.5,910 171,910.3 171.5,910.5 172,910.4 172.5,909.8 173,909.8 173.5,909.6 174,910 174.5,909.7 175,909.1 175.5,909.9 176,909.1 176.5,909.6 177,908.8 177.5,909.3 178,909 178.5,909 179,909.1 179.5,909 180,908.7 180.5,908.7 181,907.9 181.5,908.4 182,907.2 182.5,907.1 183,908 183.5,907.9 184,908.7 184.5,908.2 185,908.4 185.5,907.6 186,907.9 186.5,908.2 187,907.8 187.5,907.6 188,907.4 188.5,906.9 189,906.8 189.5,906.5 190,907.3 190.5,906.9 191,906.7 191.5,907.1 192,906.6 192.5,907.3 193,907.7 193.5,906.9 194,906.3 194.5,905.8 195,907.5 195.5,906.7 196,905.8 196.5,906.9 197,905.5 197.5,906.1 198,906.1 198.5,906 199,905.6 199.5,907.3 200,905.8 200.5,906.2 201,906 201.5,905.1 202,905.6 202.5,905.9 203,906.2 203.5,905.6 204,905.9 204.5,905.5 205,905.9 205.5,904.4 206,905.9 206.5,905.2 207,905.2 207.5,904 208,904.9 208.5,905.7 209,906.5 209.5,905 210,905 210.5,905.5 211,905.4 211.5,904.9 212,905.1 212.5,905 213,905.4 213.5,905.5 214,905.9 214.5,905.5 215,905.3 215.5,905.1 216,905.4 216.5,904.4 217,906 217.5,905 218,905.6 218.5,904.4 219,905.3 219.5,905 220,904.7 220.5,904.4 221,904.3 221.5,905.6 222,905.3 222.5,904.7 223,904.8 223.5,904.3 224,903.7 224.5,903.7 225,904.3 225.5,904.5 226,904 226.5,904.9 227,904.8 227.5,904.6 228,903.6 228.5,904.4 229,904.4 229.5,903.8 230,903.3 230.5,905.4 231,904.7 231.5,904.2 232,905.2 232.5,904.9 233,904.6 233.5,904.4 234,904.7 234.5,905 235,904.3 235.5,904.2 236,904.6 236.5,902.9 237,904.3 237.5,904 238,904.2 238.5,904.1 239,904.4 239.5,904.2 240,904.2 240.5,904.1 241,904.4 241.5,903.9 242,904.6 242.5,903.3 243,904.2 243.5,904.4 244,903.5 244.5,903.9 245,904.8 245.5,904 246,903.6 246.5,902.6 247,904.2 247.5,904.1 248,904.4 248.5,905.1 249,904 249.5,904.1 250,903.7 250.5,904 251,904 251.5,904.4 252,904.3 252.5,903.6 253,903.8 253.5,904.7 254,903.5 254.5,904.4 255,904.8 255.5,904.3 256,904.1 256.5,904.7 257,904.1 257.5,904 258,903.9 258.5,904.5 259,904.3 259.5,904.7 260,903.8 260.5,903.8 261,903.7 261.5,904.1 262,903.6 262.5,904.4 263,904.1 263.5,903.4 264,902.5 264.5,903 265,904.6 265.5,903.9 266,904 266.5,903.7 267,904.1 267.5,903 268,902.9 268.5,903.1 269,903.9 269.5,904.3 270,904.2 270.5,903.8 271,903.3 271.5,904.3 272,903.8 272.5,903.9 273,903.9 273.5,903.7 274,903.5 274.5,903.6 275,903.3 275.5,904 276,903.8 276.5,904.4 277,903 277.5,904.5 278,903.9 278.5,903.8 279,903.5 279.5,903.5 280,903.2 280.5,904.4 281,903.8 281.5,904.3 282,904.3 282.5,903.7 283,903.8 283.5,903.7 284,904.4 284.5,904 285,904 285.5,904.3" fill="none" stroke="#231815" stroke-width="1.7" stroke-linejoin="round"/>
<polyline points="43.5,902.5 44,901 44.5,902.1 45,902.2 45.5,900.9 46,901.9 46.5,901.6 47,901.9 47.5,900.9 48,901.6 48.5,901 49,901.3 49.5,902.2 50,901.5 50.5,900.4 51,900.8 51.5,901 52,902.1 52.5,901.2 53,900.8 53.5,902.1 54,901.7 54.5,901.7 55,901.2 55.5,902.3 56,901.5 56.5,900.6 57,901 57.5,901.2 58,901.5 58.5,902 59,901.3 59.5,901.3 60,902.7 60.5,901.7 61,901.4 61.5,901.7 62,901 62.5,901.9 63,902.1 63.5,901.4 64,902.2 64.5,901.5 65,901.8 65.5,901.3 66,901.3 66.5,900.9 67,901.8 67.5,901.6 68,901.6 68.5,901.1 69,901.1 69.5,901.4 70,902 70.5,901.9 71,901.4 71.5,901.9 72,902.6 72.5,901.8 73,902.8 73.5,902 74,902.4 74.5,901.5 75,903.1 75.5,903.8 76,907.4 76.5,911.2 77,915.7 77.5,922.7 78,932 78.5,941.1 79,952.3 79.5,963.3 80,973.8 80.5,987.7 81,1000.1 81.5,1013.2 82,1026.6 82.5,1040 83,1053.8 83.5,1068.9 84,1082.8 84.5,1096.7 85,1111.5 85.5,1126.1 86,1137.3 86.5,1146.5 87,1152.7 87.5,1157.7 88,1159.6 88.5,1159.2 89,1158.3 89.5,1153.1 90,1147.1 90.5,1141 91,1136.2 91.5,1131.3 92,1125.2 92.5,1120.1 93,1113.9 93.5,1109.6 94,1104.8 94.5,1100.7 95,1095.3 95.5,1090.3 96,1086.4 96.5,1081.9 97,1078.7 97.5,1074.2 98,1070.1 98.5,1066.1 99,1062.7 99.5,1058.4 100,1054.6 100.5,1050.6 101,1048.7 101.5,1045 102,1041.9 102.5,1038.4 103,1036.1 103.5,1031.8 104,1030 104.5,1026.1 105,1023.5 105.5,1020.4 106,1018.4 106.5,1015.6 107,1013.4 107.5,1010.4 108,1007.6 108.5,1006.3 109,1004.3 109.5,1001.8 110,999.2 110.5,997.4 111,994.2 111.5,992.9 112,991.6 112.5,989.4 113,986.8 113.5,985.8 114,983.6 114.5,982.2 115,979.5 115.5,978.2 116,977 116.5,975.4 117,974 117.5,972.2 118,970.6 118.5,969.5 119,968.3 119.5,965.7 120,965 120.5,963.7 121,962.6 121.5,961.8 122,959.4 122.5,959.1 123,956.8 123.5,956.2 124,955.2 124.5,954.2 125,953 125.5,952 126,951.1 126.5,950.1 127,948.3 127.5,947.6 128,947.2 128.5,946.8 129,946.1 129.5,946.2 130,943.9 130.5,942.7 131,942.3 131.5,941.8 132,940.8 132.5,939.4 133,939.2 133.5,938.5 134,937.1 134.5,936.5 135,937 135.5,934.7 136,935.2 136.5,934.4 137,934.6 137.5,933.6 138,932.2 138.5,932.7 139,931.3 139.5,932 140,931.3 140.5,929.9 141,929.8 141.5,929 142,928 142.5,928.4 143,927.7 143.5,927.4 144,927.1 144.5,926.8 145,926.2 145.5,925.2 146,924.9 146.5,924.6 147,923.9 147.5,923.5 148,924.2 148.5,923.1 149,923.4 149.5,921.8 150,921.8 150.5,921.2 151,920.9 151.5,920.6 152,920.4 152.5,919.9 153,920.7 153.5,919.9 154,918.9 154.5,918.7 155,919 155.5,918.6 156,917.8 156.5,918.3 157,916.9 157.5,917.1 158,917.9 158.5,915.5 159,916.5 159.5,916.8 160,916 160.5,915.5 161,915.2 161.5,914.4 162,914.6 162.5,915 163,914.5 163.5,914.6 164,914.3 164.5,914.3 165,913.2 165.5,913.7 166,913.5 166.5,913.3 167,912.8 167.5,912 168,913.3 168.5,913.2 169,913.8 169.5,912.8 170,913.1 170.5,912.4 171,911.8 171.5,912.1 172,911.1 172.5,911.7 173,911.4 173.5,910.8 174,911.8 174.5,911.6 175,911.1 175.5,911.2 176,911.4 176.5,910.4 177,909.7 177.5,909.8 178,910.5 178.5,910.2 179,909.2 179.5,910.5 180,909.8 180.5,910.4 181,910.1 181.5,909.2 182,909.4 182.5,908.9 183,908.7 183.5,908.9 184,909.2 184.5,909.5 185,908.3 185.5,909 186,908.6 186.5,908.4 187,909 187.5,908.2 188,908.9 188.5,908 189,907.7 189.5,908.4 190,907.2 190.5,907.3 191,907.7 191.5,907.8 192,907.5 192.5,906.6 193,906.9 193.5,907.7 194,907.7 194.5,906.9 195,907.4 195.5,907.3 196,907.7 196.5,906.8 197,907.8 197.5,906.9 198,907.7 198.5,907.4 199,906.3 199.5,906.6 200,906.9 200.5,907.2 201,906 201.5,906.3 202,906.9 202.5,906.7 203,905.9 203.5,906 204,906.6 204.5,905.8 205,906.4 205.5,906.7 206,906.2 206.5,904.8 207,906.7 207.5,906.6 208,906.7 208.5,906.4 209,905.1 209.5,906.6 210,906.1 210.5,906.3 211,905.7 211.5,905.7 212,905.6 212.5,906.5 213,905.8 213.5,905.6 214,905 214.5,905.8 215,905.6 215.5,905.6 216,906 216.5,905.8 217,905.5 217.5,905.5 218,905.4 218.5,905.7 219,905.7 219.5,905.4 220,904.9 220.5,905.7 221,905.7 221.5,904.7 222,905.4 222.5,905 223,904.1 223.5,905.1 224,905.6 224.5,904.7 225,904.7 225.5,905.6 226,904.5 226.5,904.5 227,904.8 227.5,905.3 228,905.3 228.5,904.7 229,904.8 229.5,905 230,904.7 230.5,904.4 231,904.3 231.5,905.2 232,904.7 232.5,906.2 233,905.1 233.5,904.4 234,904.8 234.5,904.9 235,904.9 235.5,904.9 236,904.9 236.5,904.6 237,905 237.5,905.8 238,904.4 238.5,904.5 239,905 239.5,905.2 240,905 240.5,905.2 241,904.6 241.5,904.5 242,904.9 242.5,904.9 243,905.4 243.5,905.3 244,903.6 244.5,904.9 245,904.2 245.5,903.5 246,904.7 246.5,904.4 247,904.3 247.5,903.8 248,904 248.5,904.4 249,903.7 249.5,904.4 250,904.5 250.5,904.4 251,904.6 251.5,904.4 252,903.8 252.5,903.9 253,904.5 253.5,904.9 254,904.5 254.5,904.1 255,904.5 255.5,903.5 256,903.9 256.5,904.2 257,904.3 257.5,904.2 258,904.2 258.5,903.7 259,904 259.5,904.5 260,903.4 260.5,903.7 261,904.1 261.5,905.1 262,904.6 262.5,905.1 263,905 263.5,904.1 264,904.3 264.5,903.7 265,904.9 265.5,904.7 266,904.6 266.5,904.6 267,904.5 267.5,904.4 268,904.4 268.5,904.9 269,903.9 269.5,903.8 270,904.3 270.5,904.8 271,904.4 271.5,904.2 272,904.7 272.5,904.3 273,903.3 273.5,903.8 274,903.2 274.5,904.2 275,904 275.5,904.5 276,905.3 276.5,904 277,904.3 277.5,904.1 278,902.9 278.5,903.9 279,903.9 279.5,904.4 280,903.8 280.5,903.6 281,904.6 281.5,904.2 282,903.8 282.5,903.9 283,904.1 283.5,904.7 284,905 284.5,903.6 285,904.8 285.5,904.3" fill="none" stroke="#231815" stroke-width="1.7" stroke-linejoin="round"/>
<polyline points="43.5,901.9 43.9,900.7 44.3,901.8 44.7,900.5 45.1,901 45.5,900.8 45.9,902.3 46.3,902.3 46.7,901.8 47.1,901.6 47.5,901 47.9,902.4 48.3,902.2 48.7,901.9 49.1,901.3 49.5,901.1 49.9,901.3 50.3,902.2 50.7,900.8 51.1,901.4 51.5,902.4 51.9,901.9 52.3,902.5 52.7,901.6 53.1,901.6 53.5,902.2 53.9,901.8 54.3,901.6 54.7,901 55.1,900.4 55.5,902.3 55.9,901.1 56.3,900.9 56.7,901.9 57.1,900.8 57.5,900.5 57.9,901 58.3,901.4 58.7,901.6 59.1,901.7 59.5,902 59.9,901.3 60.3,901.7 60.7,901.3 61.1,901 61.5,901.7 61.9,901.7 62.3,902.7 62.7,901.8 63.1,901 63.5,901.8 63.9,901.3 64.3,902.5 64.7,900.3 65.1,901 65.5,901 65.9,901.5 66.3,901.4 66.7,900.4 67.1,900.2 67.5,901.6 67.9,902.5 68.3,902.5 68.7,901.2 69.1,901.8 69.5,900.9 69.9,900.5 70.3,902.3 70.7,901.9 71.1,901.2 71.5,901.2 71.9,902.1 72.3,901.7 72.7,901.2 73.1,901.7 73.5,901.5 73.9,901.2 74.3,901 74.7,902.1 75.1,901.2 75.5,900.7 75.9,902.8 76.3,902.4 76.7,901.9 77.1,901.5 77.5,901.6 77.9,900.5 78.3,901.5 78.7,901.7 79.1,901.4 79.5,901.8 79.9,901 80.3,901.7 80.7,900.4 81.1,901.5 81.5,901.1 81.9,900.6 82.3,901.2 82.7,901.5 83.1,901.1 83.5,902.2 83.9,901 84.3,902.2 84.7,902.1 85.1,901.1 85.5,902.6 85.9,900.5 86.3,901.9 86.7,901.6 87.1,902.1 87.5,900.4 87.9,900.7 88.3,900.9 88.7,901.6 89.1,901.6 89.5,901.6 89.9,901.4 90.3,901 90.7,900.5 91.1,901.2 91.5,902 91.9,902.3 92.3,901.2 92.7,902.4 93.1,900.5 93.5,902.2 93.9,900.7 94.3,901.8 94.7,900.8 95.1,900.8 95.5,901.1 95.9,902.7 96.3,901.1 96.7,902.1 97.1,901.7 97.5,901.8 97.9,901.8 98.3,902.1 98.7,900.6 99.1,901.6 99.5,901.9 99.9,901.1 100.3,901.9 100.7,900.8 101.1,902.2 101.5,901 101.9,901.4 102.3,902.2 102.7,902.5 103.1,901.1 103.5,901.1 103.9,902.4 104.3,899.3 104.7,902.7 105.1,902.7 105.5,900.8 105.9,902.6 106.3,901.9 106.7,902 107.1,899.7 107.5,901.2 107.9,901.5 108.3,901.3 108.7,901.3 109.1,901.4 109.5,899.3 109.9,901.5 110.3,901.1 110.7,901.6 111.1,901.2 111.5,901.6 111.9,901.9 112.3,903.1 112.7,901 113.1,903.1 113.5,901.4 113.9,900.9 114.3,900.4 114.7,902.4 115.1,900.4 115.5,902.4 115.9,902 116.3,901.2 116.7,901.1 117.1,902.1 117.5,901.8 117.9,902.3 118.3,901.7 118.7,901.2 119.1,902.1 119.5,900.6 119.9,902.4 120.3,901.7 120.7,900.7 121.1,900.8 121.5,901.4 121.9,900.1 122.3,902.9 122.7,902.5 123.1,900.7 123.5,901.6 123.9,903.2 124.3,902.1 124.7,900.8 125.1,899.8 125.5,900.2 125.9,902.8 126.3,902 126.7,900.5 127.1,902.3 127.5,901.4 127.9,901.1 128.3,901.2 128.7,901.3 129.1,903.2 129.5,900.9 129.9,901.4 130.3,902.9 130.7,903.1 131.1,900.8 131.5,903.6 131.9,902.7 132.3,900.4 132.7,903.4 133.1,900.4 133.5,902.4 133.9,900.7 134.3,900.1 134.7,902.5 135.1,902.1 135.5,901.7 135.9,901.9 136.3,901.7 136.7,901.5 137.1,900.8 137.5,902.3 137.9,901.8 138.3,901.5 138.7,901.2 139.1,901.5 139.5,900.3 139.9,901.5 140.3,900.8 140.7,903 141.1,900.9 141.5,901.4 141.9,901.8 142.3,902.6 142.7,902.2 143.1,901.8 143.5,903.9 143.9,901.8 144.3,902.1 144.7,904.4 145.1,900.9 145.5,902.7 145.9,902.2 146.3,900.5 146.7,901.2 147.1,902.6 147.5,900.4 147.9,901.6 148.3,902.7 148.7,901.6 149.1,902.1 149.5,901.2 149.9,901.2 150.3,901.2 150.7,901.5 151.1,902.5 151.5,901.9 151.9,903.8 152.3,902.4 152.7,902.1 153.1,904.1 153.5,901.7 153.9,901 154.3,902 154.7,900.8 155.1,902.4 155.5,903.2 155.9,902.5 156.3,901.4 156.7,901.7 157.1,902.4 157.5,903.1 157.9,901.5 158.3,901.4 158.7,903 159.1,902.1 159.5,902.2 159.9,902.4 160.3,901.1 160.7,901.7 161.1,903 161.5,901.7 161.9,901.7 162.3,902.2 162.7,902.3 163.1,904.5 163.5,901.1 163.9,902 164.3,904 164.7,901.9 165.1,902.3 165.5,900.4 165.9,902.9 166.3,902.8 166.7,902.8 167.1,901.7 167.5,902.3 167.9,901.9 168.3,902.8 168.7,901.9 169.1,902.8 169.5,900.5 169.9,901.6 170.3,898.9 170.7,901.8 171.1,902.8 171.5,901.7 171.9,904.5 172.3,900.9 172.7,901.6 173.1,901 173.5,901.4 173.9,901.4 174.3,900.4 174.7,900.9 175.1,904.2 175.5,901.7 175.9,903 176.3,900.6 176.7,901.8 177.1,902.6 177.5,901.8 177.9,901.4 178.3,901.8 178.7,902 179.1,902.9 179.5,903.3 179.9,900.5 180.3,899.7 180.7,901.8 181.1,902 181.5,902.8 181.9,903.2 182.3,901.3 182.7,904.3 183.1,902.3 183.5,900 183.9,903.1 184.3,902.3 184.7,902.3 185.1,900.2 185.5,901.7 185.9,902.2 186.3,901.8 186.7,902.8 187.1,903.4 187.5,903.7 187.9,903.4 188.3,901.9 188.7,904 189.1,902.3 189.5,903 189.9,901.8 190.3,900.4 190.7,899.4 191.1,902.2 191.5,901.3 191.9,902 192.3,903.1 192.7,900.3 193.1,900 193.5,902.3 193.9,902.5 194.3,901.7 194.7,901.4 195.1,900.2 195.5,902 195.9,901.2 196.3,902.6 196.7,903.2 197.1,901.4 197.5,902.6 197.9,902.3 198.3,902.9 198.7,903.9 199.1,902.8 199.5,902.9 199.9,903 200.3,901.6 200.7,902.1 201.1,902.5 201.5,903.5 201.9,903.6 202.3,904.8 202.7,900.8 203.1,902 203.5,900 203.9,901.5 204.3,900.1 204.7,903.5 205.1,903 205.5,900.8 205.9,902.5 206.3,903 206.7,904.2 207.1,903.1 207.5,902.3 207.9,902 208.3,902.9 208.7,902.5 209.1,901.5 209.5,900.7 209.9,903.4 210.3,901.3 210.7,901.8 211.1,903.1 211.5,902.1 211.9,903.5 212.3,900.8 212.7,903.1 213.1,900.5 213.5,900.3 213.9,900.9 214.3,902.3 214.7,901.3 215.1,900.5 215.5,903.6 215.9,901 216.3,902 216.7,902.5 217.1,901.6 217.5,902.6 217.9,902.9 218.3,902 218.7,903.5 219.1,901.4 219.5,900.9 219.9,902.4 220.3,901 220.7,902.7 221.1,902.1 221.5,901.6 221.9,902.9 222.3,902.9 222.7,898.5 223.1,901.8 223.5,902.4 223.9,902.8 224.3,901.5 224.7,900.7 225.1,902.4 225.5,903.1 225.9,899.6 226.3,900.3 226.7,901.5 227.1,898.9 227.5,901.4 227.9,903.3 228.3,900.9 228.7,902.4 229.1,901.1 229.5,902.8 229.9,903.1 230.3,903.9 230.7,902.3 231.1,903.6 231.5,902.7 231.9,901.6 232.3,904.1 232.7,901.5 233.1,902.5 233.5,905.4 233.9,903.4 234.3,901.2 234.7,902.6 235.1,901.5 235.5,902.1 235.9,900.3 236.3,902.5 236.7,900.2 237.1,902.7 237.5,902.7 237.9,903.4 238.3,905.2 238.7,900.1 239.1,900.7 239.5,900.9 239.9,901.5 240.3,903.4 240.7,901.8 241.1,901.5 241.5,900.8 241.9,901.4 242.3,901.7 242.7,902.1 243.1,900.4 243.5,902.2 243.9,903 244.3,902.8 244.7,900.6 245.1,903.4 245.5,903.4 245.9,902.7 246.3,900.6 246.7,900.3 247.1,902.4 247.5,900.9 247.9,900.5 248.3,903.5 248.7,903.6 249.1,903.2 249.5,904.1 249.9,903.5 250.3,900.7 250.7,903.9 251.1,902.5 251.5,902.9 251.9,904.5 252.3,902.9 252.7,904.5 253.1,902.4 253.5,901.8 253.9,901.4 254.3,902.2 254.7,900 255.1,902.3 255.5,902.2 255.9,901.6 256.3,899.3 256.7,899.4 257.1,903.3 257.5,901 257.9,904.3 258.3,901.4 258.7,902.9 259.1,900.3 259.5,901.5 259.9,902.1 260.3,903.2 260.7,904.7 261.1,903.7 261.5,900.3 261.9,902.4 262.3,902.1 262.7,901.5 263.1,903.2 263.5,904.6 263.9,901.7 264.3,904 264.7,904.4 265.1,900.9 265.5,904.9 265.9,904.8 266.3,902.8 266.7,904.8 267.1,902.8 267.5,904.1 267.9,903.3 268.3,901.2 268.7,902.8 269.1,902.2 269.5,901.7 269.9,900.8 270.3,901.3 270.7,900.6 271.1,904.1 271.5,899.6 271.9,902.5 272.3,901.5 272.7,900.6 273.1,903.5 273.5,901.3 273.9,904.2 274.3,902.2 274.7,902.9 275.1,902.3 275.5,903.4 275.9,903.8 276.3,901.8 276.7,902.4 277.1,905 277.5,901.6 277.9,905.1 278.3,901.9 278.7,901.6 279.1,900 279.5,901.2 279.9,899.9 280.3,901.6 280.7,903.5 281.1,902.4 281.5,901.6 281.9,901 282.3,901.5 282.7,900.3 283.1,900.6 283.5,905.4 283.9,902.8 284.3,901.1 284.7,903.5 285.1,904.7 285.5,901.5 285.9,902.3" fill="none" stroke="#231815" stroke-width="1.5" stroke-linejoin="round"/>
<polyline points="43.5,900.5 43.9,900.3 44.3,902.1 44.7,903.4 45.1,900.9 45.5,900.3 45.9,902.2 46.3,902 46.7,901.6 47.1,902.2 47.5,901.1 47.9,901.5 48.3,901.8 48.7,901.2 49.1,901.7 49.5,901.2 49.9,901.6 50.3,901.5 50.7,900.1 51.1,901.4 51.5,900.5 51.9,900.8 52.3,900.3 52.7,901.9 53.1,901.2 53.5,901.2 53.9,902.2 54.3,901.9 54.7,901.3 55.1,900.1 55.5,901.8 55.9,901.3 56.3,901.2 56.7,901.9 57.1,901 57.5,901.4 57.9,902 58.3,901.8 58.7,901.1 59.1,902.4 59.5,902.2 59.9,902.7 60.3,901.4 60.7,901.6 61.1,902.2 61.5,901.8 61.9,901.6 62.3,901.4 62.7,901.3 63.1,901.1 63.5,901.1 63.9,901.8 64.3,901.3 64.7,900.6 65.1,901.6 65.5,902.7 65.9,902.5 66.3,900.2 66.7,901 67.1,902.1 67.5,901.6 67.9,901.6 68.3,901.5 68.7,901.6 69.1,900.9 69.5,902.4 69.9,900.8 70.3,901.5 70.7,902.7 71.1,902.3 71.5,901.6 71.9,901.6 72.3,901.2 72.7,901.3 73.1,901.4 73.5,902.6 73.9,901.3 74.3,902 74.7,901.9 75.1,901.9 75.5,901.4 75.9,902.2 76.3,901.8 76.7,901.7 77.1,901.3 77.5,900.1 77.9,902.2 78.3,902.2 78.7,901.3 79.1,901.6 79.5,901.9 79.9,901 80.3,902.2 80.7,902.2 81.1,902.3 81.5,902.4 81.9,900.3 82.3,902.1 82.7,901.4 83.1,902.6 83.5,902.5 83.9,902.3 84.3,901.7 84.7,903.8 85.1,901.7 85.5,901 85.9,902.5 86.3,900.7 86.7,903.2 87.1,902.5 87.5,902.8 87.9,902.6 88.3,902.1 88.7,900.8 89.1,901.3 89.5,902.2 89.9,901.7 90.3,902.1 90.7,901.3 91.1,901.2 91.5,902.1 91.9,902.4 92.3,901.8 92.7,901.1 93.1,900.6 93.5,903.4 93.9,901 94.3,901.2 94.7,901.3 95.1,902.6 95.5,901.3 95.9,902.3 96.3,902.1 96.7,901 97.1,902 97.5,900.9 97.9,901.8 98.3,902.5 98.7,901.7 99.1,901.2 99.5,901.6 99.9,901.8 100.3,902.2 100.7,900.1 101.1,900.4 101.5,902.3 101.9,901.8 102.3,901.9 102.7,902.1 103.1,901.8 103.5,901.6 103.9,902 104.3,902.5 104.7,902.2 105.1,901.9 105.5,901.1 105.9,902.1 106.3,901 106.7,901.4 107.1,902.1 107.5,902.1 107.9,902.9 108.3,902.7 108.7,902.4 109.1,901.7 109.5,902 109.9,901.8 110.3,903.4 110.7,902.4 111.1,901.4 111.5,901.3 111.9,903 112.3,901.3 112.7,902.3 113.1,902.2 113.5,902.9 113.9,901.3 114.3,902.4 114.7,902.2 115.1,902.7 115.5,903.2 115.9,902.1 116.3,901.9 116.7,902.8 117.1,900.8 117.5,902.2 117.9,901.2 118.3,901 118.7,900.7 119.1,900.6 119.5,902.8 119.9,902.9 120.3,902.2 120.7,903 121.1,902.1 121.5,901.7 121.9,901.2 122.3,902.8 122.7,902.8 123.1,903.2 123.5,901.4 123.9,901.9 124.3,900.9 124.7,903.2 125.1,902.8 125.5,902.6 125.9,902.1 126.3,902 126.7,901.8 127.1,903.2 127.5,901.6 127.9,903 128.3,902.4 128.7,901.3 129.1,900.9 129.5,901.5 129.9,902.2 130.3,901 130.7,902.8 131.1,903.3 131.5,902.7 131.9,900.7 132.3,900.1 132.7,903 133.1,903.6 133.5,901.9 133.9,902.7 134.3,902 134.7,901.7 135.1,903.2 135.5,901.8 135.9,903.1 136.3,903.9 136.7,902.2 137.1,904 137.5,901.1 137.9,903.2 138.3,902.3 138.7,904.7 139.1,902.3 139.5,901.6 139.9,903.9 140.3,900.9 140.7,902.7 141.1,901.6 141.5,903.7 141.9,902.2 142.3,903.2 142.7,902.3 143.1,901.3 143.5,900.3 143.9,904.1 144.3,902.6 144.7,901.2 145.1,902.1 145.5,903.3 145.9,900.9 146.3,904.6 146.7,902.1 147.1,902 147.5,903.6 147.9,902.6 148.3,901.4 148.7,903.3 149.1,902.8 149.5,903.5 149.9,901.5 150.3,901.3 150.7,903 151.1,902 151.5,900.3 151.9,901.8 152.3,903.1 152.7,901.7 153.1,903.7 153.5,901.9 153.9,902.3 154.3,900.8 154.7,901.6 155.1,902.3 155.5,903 155.9,902.7 156.3,903.5 156.7,900.3 157.1,902.5 157.5,902.3 157.9,901.4 158.3,902.4 158.7,901.7 159.1,902.9 159.5,902.1 159.9,903 160.3,901.6 160.7,903.8 161.1,902.9 161.5,904.4 161.9,902.4 162.3,902 162.7,902.7 163.1,902 163.5,901.5 163.9,902.6 164.3,902.5 164.7,901.9 165.1,902.1 165.5,901.5 165.9,902.7 166.3,901.1 166.7,904.4 167.1,902.6 167.5,903.6 167.9,901.3 168.3,903 168.7,902.4 169.1,903.6 169.5,903.5 169.9,900.8 170.3,903.8 170.7,901 171.1,904.1 171.5,902.6 171.9,901.3 172.3,903.4 172.7,902.7 173.1,901.6 173.5,901.8 173.9,903.2 174.3,901.2 174.7,901.7 175.1,904.7 175.5,901.8 175.9,903.1 176.3,903.2 176.7,903.7 177.1,903.6 177.5,899.9 177.9,902.2 178.3,904 178.7,901.8 179.1,904.7 179.5,903 179.9,901.4 180.3,903.3 180.7,904.9 181.1,902 181.5,903.3 181.9,901.7 182.3,902.1 182.7,902.9 183.1,903.3 183.5,903.1 183.9,903 184.3,905.5 184.7,901.5 185.1,900.7 185.5,903.4 185.9,903 186.3,901.1 186.7,904.7 187.1,902 187.5,901.2 187.9,903.3 188.3,903.5 188.7,905.5 189.1,901 189.5,901.3 189.9,902.5 190.3,902.3 190.7,902.7 191.1,902 191.5,901 191.9,902.3 192.3,903.7 192.7,903.8 193.1,902.1 193.5,903.5 193.9,903.3 194.3,902.3 194.7,902.5 195.1,902.9 195.5,906.2 195.9,903.1 196.3,901.8 196.7,902.7 197.1,902.2 197.5,904.2 197.9,900.3 198.3,901.6 198.7,903.9 199.1,903.4 199.5,903 199.9,903.8 200.3,901.3 200.7,903.4 201.1,901.6 201.5,901.4 201.9,903.5 202.3,902 202.7,902.5 203.1,903.7 203.5,901.7 203.9,903.7 204.3,905.7 204.7,902.7 205.1,904.1 205.5,903.9 205.9,901.4 206.3,901.3 206.7,903 207.1,900.4 207.5,903.1 207.9,903.3 208.3,903.6 208.7,903.6 209.1,904.7 209.5,902.6 209.9,904.7 210.3,903.7 210.7,903.7 211.1,902.9 211.5,904.2 211.9,902.1 212.3,904 212.7,904.5 213.1,902.2 213.5,901.9 213.9,902.1 214.3,903 214.7,903.5 215.1,904.2 215.5,905.5 215.9,905.1 216.3,903.5 216.7,902.6 217.1,901.6 217.5,904.2 217.9,903.8 218.3,902.8 218.7,902.9 219.1,903 219.5,899.9 219.9,903.1 220.3,903.6 220.7,903 221.1,901.8 221.5,903.2 221.9,903.8 222.3,905.5 222.7,904.5 223.1,903.9 223.5,903.1 223.9,901.5 224.3,902.6 224.7,901.4 225.1,903.1 225.5,904.6 225.9,904.6 226.3,904.4 226.7,903.2 227.1,904.5 227.5,902.9 227.9,900.7 228.3,903.4 228.7,903.3 229.1,901 229.5,902.6 229.9,900.1 230.3,902.6 230.7,904.8 231.1,902.4 231.5,905 231.9,903.6 232.3,902.3 232.7,900.9 233.1,904.3 233.5,904.2 233.9,901.3 234.3,902.7 234.7,904.8 235.1,902.3 235.5,903.8 235.9,900.7 236.3,902.1 236.7,904.3 237.1,901.7 237.5,901.4 237.9,901.5 238.3,902.8 238.7,901.2 239.1,903.2 239.5,904.1 239.9,905.4 240.3,902.8 240.7,905.5 241.1,904.1 241.5,903.1 241.9,904.1 242.3,905.4 242.7,905.4 243.1,904.4 243.5,903.3 243.9,904.5 244.3,903.7 244.7,903.6 245.1,903.8 245.5,905.9 245.9,901.8 246.3,903.3 246.7,901.9 247.1,904.6 247.5,905 247.9,905.3 248.3,903 248.7,903.5 249.1,904.5 249.5,903.7 249.9,903.9 250.3,903.7 250.7,903.8 251.1,903.3 251.5,904.1 251.9,901.5 252.3,902.9 252.7,901.6 253.1,903.4 253.5,902.5 253.9,904.3 254.3,905.3 254.7,901.8 255.1,902.4 255.5,904 255.9,905.6 256.3,904.6 256.7,904.2 257.1,903.5 257.5,902.9 257.9,904.1 258.3,904.3 258.7,903.8 259.1,902.7 259.5,901.3 259.9,902.4 260.3,903 260.7,901.9 261.1,904 261.5,901.6 261.9,903.2 262.3,904.1 262.7,904.8 263.1,904 263.5,905.3 263.9,902.8 264.3,902.5 264.7,905.2 265.1,902.4 265.5,903.4 265.9,901.1 266.3,905.3 266.7,904.7 267.1,902.6 267.5,901.1 267.9,904 268.3,904 268.7,905.3 269.1,906.4 269.5,904 269.9,903.4 270.3,903.3 270.7,903.2 271.1,901.7 271.5,902.4 271.9,903.6 272.3,901.3 272.7,901.8 273.1,905.5 273.5,902.7 273.9,904.9 274.3,905.3 274.7,903.7 275.1,904.9 275.5,903.5 275.9,902.4 276.3,903.6 276.7,903.8 277.1,903.9 277.5,903.9 277.9,903.2 278.3,905.3 278.7,903.5 279.1,903.2 279.5,905.2 279.9,902.3 280.3,903.8 280.7,906 281.1,903.9 281.5,905.9 281.9,903.4 282.3,903 282.7,903.6 283.1,903 283.5,903.3 283.9,903.2 284.3,905 284.7,904.4 285.1,903.5 285.5,902.7 285.9,908.7" fill="none" stroke="#231815" stroke-width="1.5" stroke-linejoin="round"/>
<polyline points="43.5,901.2 43.9,902.2 44.3,900.6 44.7,900.9 45.1,902.1 45.5,900.7 45.9,900.7 46.3,901.3 46.7,900.9 47.1,901.2 47.5,901.5 47.9,901.9 48.3,901.5 48.7,901.6 49.1,902.2 49.5,902.3 49.9,901.2 50.3,900.3 50.7,900.8 51.1,902.1 51.5,901.1 51.9,901 52.3,901.2 52.7,902.5 53.1,901.5 53.5,901.2 53.9,901 54.3,900.8 54.7,903.3 55.1,901.5 55.5,901.6 55.9,901.3 56.3,902.2 56.7,900.9 57.1,900.3 57.5,901.2 57.9,901.8 58.3,903 58.7,901.5 59.1,901 59.5,901.4 59.9,901.1 60.3,901.1 60.7,901.7 61.1,901.8 61.5,901.2 61.9,902.4 62.3,901.6 62.7,901.7 63.1,901.3 63.5,901.9 63.9,901.9 64.3,902.1 64.7,901.1 65.1,902.1 65.5,901.3 65.9,901.8 66.3,902.2 66.7,902.7 67.1,901.4 67.5,900.9 67.9,901.8 68.3,902.6 68.7,901.5 69.1,903.4 69.5,900.4 69.9,902.8 70.3,902.6 70.7,902.5 71.1,901.2 71.5,902.7 71.9,902.6 72.3,902.7 72.7,901.6 73.1,901.6 73.5,902.7 73.9,902.1 74.3,901.6 74.7,901.2 75.1,902 75.5,900.9 75.9,902.3 76.3,902 76.7,900.7 77.1,902.2 77.5,902.8 77.9,902.1 78.3,900.9 78.7,901.4 79.1,902.5 79.5,900.9 79.9,901.6 80.3,902.8 80.7,901.7 81.1,901.5 81.5,902.5 81.9,903.1 82.3,902.2 82.7,901 83.1,900.7 83.5,901.8 83.9,900.6 84.3,901.9 84.7,902.7 85.1,900 85.5,901.9 85.9,902.3 86.3,901.6 86.7,902.3 87.1,902.4 87.5,902.8 87.9,904.1 88.3,902.3 88.7,901.4 89.1,901.3 89.5,901.1 89.9,902.6 90.3,902.3 90.7,902.4 91.1,902.2 91.5,903.3 91.9,903 92.3,902.9 92.7,901.6 93.1,901.9 93.5,901.1 93.9,901.6 94.3,902.2 94.7,901.2 95.1,901.6 95.5,903.8 95.9,902 96.3,901 96.7,901.2 97.1,902.1 97.5,902.9 97.9,902.1 98.3,902.9 98.7,902.5 99.1,901.3 99.5,903.1 99.9,901.9 100.3,903.8 100.7,901.8 101.1,902.1 101.5,901.8 101.9,902 102.3,902.6 102.7,902.1 103.1,903.3 103.5,902.6 103.9,903.6 104.3,902.4 104.7,903.4 105.1,903.3 105.5,902.2 105.9,904.5 106.3,903.6 106.7,902.8 107.1,902.2 107.5,902.3 107.9,902.2 108.3,902.6 108.7,901.4 109.1,902.4 109.5,901.9 109.9,903.8 110.3,903.1 110.7,903.8 111.1,904.5 111.5,902.8 111.9,904.2 112.3,902.8 112.7,903 113.1,901.6 113.5,902.5 113.9,903.7 114.3,902.9 114.7,902.2 115.1,902.5 115.5,901.9 115.9,901.9 116.3,901.2 116.7,903.5 117.1,903.5 117.5,902.4 117.9,901.4 118.3,902.3 118.7,904.3 119.1,901.4 119.5,902.1 119.9,902.1 120.3,903.3 120.7,901.4 121.1,902.8 121.5,901.9 121.9,902.3 122.3,901.5 122.7,903.1 123.1,902.2 123.5,902.1 123.9,903.6 124.3,903 124.7,904.8 125.1,903 125.5,902.7 125.9,902.8 126.3,905.2 126.7,903.8 127.1,902.4 127.5,903 127.9,902.2 128.3,903.3 128.7,902.3 129.1,902.2 129.5,903.1 129.9,904 130.3,903.5 130.7,903.4 131.1,902.8 131.5,900.5 131.9,902.6 132.3,902.6 132.7,903.3 133.1,904.4 133.5,903.5 133.9,901.2 134.3,902.8 134.7,902.6 135.1,903.5 135.5,902.8 135.9,901 136.3,902 136.7,902.5 137.1,900.9 137.5,902.7 137.9,902.6 138.3,903.9 138.7,902.7 139.1,902.3 139.5,902.7 139.9,902.9 140.3,903.8 140.7,902 141.1,900.7 141.5,905.6 141.9,903.6 142.3,902.9 142.7,905.3 143.1,901.8 143.5,902.1 143.9,902.5 144.3,903.4 144.7,902.5 145.1,903.7 145.5,902.6 145.9,904.2 146.3,903.4 146.7,901.3 147.1,902.9 147.5,901.8 147.9,902.8 148.3,903 148.7,905.2 149.1,902.8 149.5,901.4 149.9,903.1 150.3,901.8 150.7,904.9 151.1,903.7 151.5,904.6 151.9,902.6 152.3,902 152.7,903.3 153.1,901.6 153.5,902.1 153.9,902.3 154.3,902.9 154.7,901.5 155.1,901 155.5,904.6 155.9,902.5 156.3,902.9 156.7,903.7 157.1,903.6 157.5,902.4 157.9,902.7 158.3,904.8 158.7,904.5 159.1,903.9 159.5,904.9 159.9,901.2 160.3,903.3 160.7,902.9 161.1,901.2 161.5,903.6 161.9,903.9 162.3,903.5 162.7,901.3 163.1,903 163.5,903.5 163.9,903 164.3,903.5 164.7,903.8 165.1,904.8 165.5,903.5 165.9,906.1 166.3,903.5 166.7,903.6 167.1,904.1 167.5,903.2 167.9,903 168.3,904.7 168.7,901 169.1,901.4 169.5,905.6 169.9,904.2 170.3,904 170.7,903.7 171.1,903.7 171.5,902.3 171.9,903.1 172.3,902.3 172.7,904.7 173.1,904.1 173.5,903.7 173.9,903.9 174.3,903.3 174.7,902.2 175.1,905.3 175.5,904.2 175.9,903.3 176.3,904.1 176.7,904.9 177.1,904.8 177.5,904.2 177.9,904.4 178.3,903.2 178.7,905 179.1,904.6 179.5,904.6 179.9,902.1 180.3,904.3 180.7,904.3 181.1,904.5 181.5,900.6 181.9,901.4 182.3,903.9 182.7,902.5 183.1,904 183.5,903.5 183.9,904.6 184.3,902.9 184.7,902.4 185.1,904.2 185.5,903.3 185.9,902.2 186.3,901.3 186.7,907.2 187.1,903.2 187.5,903.3 187.9,901.3 188.3,902.4 188.7,903.4 189.1,904 189.5,904.6 189.9,902.8 190.3,904.2 190.7,905 191.1,903.1 191.5,903.6 191.9,901.5 192.3,902.7 192.7,902.1 193.1,904.5 193.5,903.5 193.9,905.6 194.3,903.9 194.7,904.7 195.1,904.3 195.5,904 195.9,902.5 196.3,905.7 196.7,903.6 197.1,901.5 197.5,903.1 197.9,902.4 198.3,905.2 198.7,905.1 199.1,905.6 199.5,906.5 199.9,903 200.3,901.5 200.7,902.7 201.1,904.3 201.5,900.5 201.9,903.1 202.3,904.9 202.7,902.8 203.1,903.7 203.5,902.7 203.9,906 204.3,906.3 204.7,902.6 205.1,902.8 205.5,904.1 205.9,904.8 206.3,904.5 206.7,904.8 207.1,905.2 207.5,905.5 207.9,906.4 208.3,904.3 208.7,903.5 209.1,904 209.5,906.9 209.9,905.2 210.3,905 210.7,905.8 211.1,905.7 211.5,907.1 211.9,903.1 212.3,904.4 212.7,905.1 213.1,905.2 213.5,903.7 213.9,902.1 214.3,903.8 214.7,903.3 215.1,904 215.5,905.6 215.9,905.1 216.3,902.7 216.7,903.2 217.1,904.5 217.5,905.7 217.9,904.1 218.3,904.5 218.7,902.2 219.1,903.6 219.5,903.2 219.9,904.5 220.3,903.9 220.7,903.1 221.1,902.8 221.5,904.5 221.9,903.4 222.3,905.7 222.7,904.4 223.1,903.9 223.5,905.4 223.9,902.6 224.3,905.4 224.7,903.3 225.1,905.2 225.5,903.3 225.9,903 226.3,901.8 226.7,904.3 227.1,904.9 227.5,902.4 227.9,906.6 228.3,904.2 228.7,902.8 229.1,906.9 229.5,903.7 229.9,906.2 230.3,900.5 230.7,907.2 231.1,904.5 231.5,904.3 231.9,904.7 232.3,902.8 232.7,905.6 233.1,904.9 233.5,904.8 233.9,903.6 234.3,902.8 234.7,904.8 235.1,905.5 235.5,904.5 235.9,904.1 236.3,903.7 236.7,905.3 237.1,906.4 237.5,904.2 237.9,903.2 238.3,907.8 238.7,902.3 239.1,904.8 239.5,904.3 239.9,906.2 240.3,904.2 240.7,902.1 241.1,902.9 241.5,904.6 241.9,904.4 242.3,903.5 242.7,903.7 243.1,902.3 243.5,902.4 243.9,903.6 244.3,903.5 244.7,904.3 245.1,902.9 245.5,906.7 245.9,902.1 246.3,905.7 246.7,905.3 247.1,906.8 247.5,906.5 247.9,902.7 248.3,905.1 248.7,905.7 249.1,905.9 249.5,905.3 249.9,903.8 250.3,906.4 250.7,904.5 251.1,903.9 251.5,904.9 251.9,904 252.3,903.7 252.7,904.8 253.1,908.4 253.5,905.1 253.9,904.8 254.3,904.1 254.7,905.2 255.1,903 255.5,905.4 255.9,905.1 256.3,904.9 256.7,905.4 257.1,904.5 257.5,905.7 257.9,905.5 258.3,905.6 258.7,904.8 259.1,906 259.5,904.5 259.9,906.6 260.3,904.6 260.7,906.6 261.1,905.2 261.5,904.8 261.9,903.4 262.3,905.7 262.7,905.4 263.1,904.9 263.5,905.4 263.9,905.1 264.3,903.5 264.7,903.2 265.1,905.8 265.5,905.2 265.9,907.1 266.3,907.8 266.7,906.1 267.1,905.9 267.5,905.8 267.9,905.1 268.3,904 268.7,901.1 269.1,906.1 269.5,905.8 269.9,905 270.3,905.2 270.7,906.4 271.1,906.3 271.5,905.3 271.9,904.6 272.3,905.9 272.7,906.2 273.1,908.3 273.5,903.7 273.9,905.8 274.3,903.7 274.7,904.4 275.1,908.6 275.5,904.4 275.9,904.9 276.3,904.2 276.7,906.4 277.1,904.4 277.5,902.6 277.9,905.3 278.3,906.3 278.7,905.1 279.1,905.3 279.5,904 279.9,903.7 280.3,905.1 280.7,903.4 281.1,904.5 281.5,903.6 281.9,904.8 282.3,906.3 282.7,905.1 283.1,906.9 283.5,905.7 283.9,905 284.3,903.8 284.7,905.3 285.1,903.4 285.5,906.3 285.9,903.1" fill="none" stroke="#231815" stroke-width="1.5" stroke-linejoin="round"/>
<polygon points="43.5,899.7 44.5,899.4 45.5,900.5 46.5,899 47.5,899.8 48.5,899.5 49.5,899.5 50.5,900 51.5,899 52.5,899.3 53.5,899.2 54.5,899.8 55.5,899.6 56.5,899.9 57.5,898.5 58.5,899.2 59.5,899.9 60.5,899 61.5,899.6 62.5,899.5 63.5,898.4 64.5,899.2 65.5,899.6 66.5,899.1 67.5,899 68.5,899.6 69.5,899.4 70.5,899.5 71.5,899.2 72.5,900.1 73.5,900.2 74.5,899.1 75.5,899.3 76.5,899.9 77.5,899.4 78.5,899.7 79.5,899.3 80.5,899.8 81.5,899.9 82.5,898.6 83.5,900 84.5,899.6 85.5,899.3 86.5,899 87.5,899.1 88.5,899.6 89.5,899.5 90.5,899.2 91.5,899.2 92.5,899.8 93.5,899.6 94.5,899.7 95.5,899.4 96.5,899.5 97.5,900.2 98.5,899.6 99.5,899.5 100.5,899.3 101.5,899.7 102.5,899.7 103.5,899.3 104.5,899.6 105.5,899.6 106.5,900.9 107.5,899.4 108.5,900 109.5,899.7 110.5,899.6 111.5,899.7 112.5,899.7 113.5,899.6 114.5,899.5 115.5,899.5 116.5,899.5 117.5,899.7 118.5,899.6 119.5,899.9 120.5,899.7 121.5,899.6 122.5,899.5 123.5,899.7 124.5,899.6 125.5,899.3 126.5,899.1 127.5,899.6 128.5,900.1 129.5,899.5 130.5,899.2 131.5,899.3 132.5,899.5 133.5,899.5 134.5,899.8 135.5,898.9 136.5,899.7 137.5,898.8 138.5,900 139.5,899.2 140.5,899.5 141.5,899.9 142.5,899.6 143.5,900 144.5,900.5 145.5,899.4 146.5,899.3 147.5,899.2 148.5,898.7 149.5,899.5 150.5,899 151.5,898.7 152.5,899.4 153.5,900.2 154.5,899.7 155.5,899.1 156.5,899.3 157.5,899.9 158.5,899.7 159.5,899.5 160.5,900 161.5,899.7 162.5,899.5 163.5,899.6 164.5,899.7 165.5,900 166.5,899.2 167.5,899.2 168.5,899.5 169.5,898.9 170.5,899.4 171.5,899 172.5,899.6 173.5,899.5 174.5,899.7 175.5,899.7 176.5,899 177.5,899.6 178.5,899.8 179.5,899.9 180.5,899.6 181.5,899.4 182.5,899.7 183.5,900.1 184.5,899.7 185.5,899 186.5,899.8 187.5,899.2 188.5,899.6 189.5,899.4 190.5,899.6 191.5,899.2 192.5,898.7 193.5,899.9 194.5,899.1 195.5,899.5 196.5,899.1 197.5,900.1 198.5,900 199.5,900.1 200.5,899.5 201.5,899.1 202.5,899.5 203.5,900 204.5,900 205.5,899.3 206.5,899.6 207.5,898.7 208.5,899.6 209.5,899.6 210.5,899.7 211.5,898.9 212.5,899.1 213.5,898.8 214.5,899.2 215.5,898.9 216.5,899.7 217.5,899.2 218.5,898.9 219.5,900.3 220.5,899.7 221.5,899.4 222.5,899.8 223.5,899.8 224.5,900 225.5,898.9 226.5,899.7 227.5,899.2 228.5,899.6 229.5,899.4 230.5,899.5 231.5,899.8 232.5,899 233.5,899.3 234.5,899.5 235.5,899.9 236.5,899.3 237.5,899.9 238.5,899.5 239.5,899.4 240.5,899.7 241.5,900.1 242.5,899.4 243.5,899.5 244.5,898.9 245.5,899.6 246.5,899.9 247.5,899.6 248.5,899.5 249.5,899.5 250.5,899.2 251.5,899.5 252.5,898.6 253.5,899.3 254.5,899.4 255.5,899.4 256.5,899.2 257.5,899.6 258.5,899.3 259.5,899.9 260.5,899.9 261.5,899.1 262.5,899.6 263.5,900.1 264.5,899.7 265.5,899.3 266.5,898.9 267.5,900.1 268.5,898.7 269.5,898.9 270.5,900 271.5,899.8 272.5,899.6 273.5,899.7 274.5,899.6 275.5,899.8 276.5,899.6 277.5,899.3 278.5,899.6 279.5,899.8 280.5,898.9 281.5,899.6 282.5,899 283.5,899.4 284.5,899.6 285.5,899.5 285.5,908.5 284.5,908.5 283.5,909.2 282.5,908.6 281.5,908.5 280.5,909 279.5,908.8 278.5,908.4 277.5,908.7 276.5,909.5 275.5,908.8 274.5,908.6 273.5,908.9 272.5,908.5 271.5,908.5 270.5,908.5 269.5,908.5 268.5,908.7 267.5,909.2 266.5,908.7 265.5,908.8 264.5,908.9 263.5,908.4 262.5,908.8 261.5,908.8 260.5,908.9 259.5,908.7 258.5,908.7 257.5,909.2 256.5,908.5 255.5,908.6 254.5,908.3 253.5,908.7 252.5,908.9 251.5,908.5 250.5,908.6 249.5,908.7 248.5,908.8 247.5,908.7 246.5,908.6 245.5,907.9 244.5,908.2 243.5,908.2 242.5,907.7 241.5,908.1 240.5,909.1 239.5,907.8 238.5,907.9 237.5,908.3 236.5,907.8 235.5,908.2 234.5,907.8 233.5,907.5 232.5,907.4 231.5,907.9 230.5,908.3 229.5,908.1 228.5,907.6 227.5,907.3 226.5,907.3 225.5,907.2 224.5,907.2 223.5,907.2 222.5,907 221.5,907.8 220.5,907.5 219.5,906.9 218.5,907 217.5,907.1 216.5,907 215.5,906.9 214.5,906.8 213.5,906.9 212.5,906.8 211.5,906.6 210.5,906.9 209.5,907.1 208.5,906.7 207.5,906.6 206.5,907.2 205.5,906.5 204.5,906.4 203.5,906.4 202.5,906.4 201.5,906.4 200.5,906.4 199.5,906.2 198.5,906.5 197.5,906.7 196.5,906.5 195.5,906.3 194.5,906.5 193.5,906.9 192.5,906.4 191.5,906 190.5,906.7 189.5,906.6 188.5,905.7 187.5,905.6 186.5,906 185.5,906.1 184.5,905.6 183.5,906.4 182.5,905.8 181.5,905.7 180.5,905.6 179.5,905.7 178.5,905.5 177.5,905.2 176.5,905.3 175.5,905.8 174.5,905.2 173.5,905.5 172.5,905.7 171.5,905.3 170.5,905.3 169.5,905.1 168.5,904.9 167.5,904.8 166.5,905.8 165.5,905.3 164.5,904.7 163.5,904.9 162.5,904.7 161.5,905 160.5,904.8 159.5,904.6 158.5,904.9 157.5,904.5 156.5,904.4 155.5,904.9 154.5,904.9 153.5,905.2 152.5,904.7 151.5,904.2 150.5,904.7 149.5,905.1 148.5,904.4 147.5,904.8 146.5,904.6 145.5,904.8 144.5,904.4 143.5,904.6 142.5,904 141.5,904 140.5,904.7 139.5,904.2 138.5,903.9 137.5,904.2 136.5,903.8 135.5,904.5 134.5,904.1 133.5,903.7 132.5,903.8 131.5,903.7 130.5,903.7 129.5,904 128.5,903.4 127.5,903.4 126.5,903.4 125.5,903.5 124.5,903.3 123.5,903.3 122.5,903.7 121.5,904 120.5,903.2 119.5,903.3 118.5,903.1 117.5,903.3 116.5,903.2 115.5,903.3 114.5,903.4 113.5,903.1 112.5,902.8 111.5,903.6 110.5,903 109.5,903.8 108.5,902.9 107.5,902.8 106.5,902.7 105.5,902.9 104.5,902.9 103.5,902.7 102.5,902.7 101.5,902.8 100.5,903.1 99.5,902.8 98.5,902.7 97.5,902.7 96.5,902.7 95.5,902.6 94.5,902.7 93.5,903 92.5,903.3 91.5,902.6 90.5,903 89.5,903.1 88.5,903.2 87.5,902.7 86.5,902.9 85.5,903.3 84.5,902.9 83.5,903.5 82.5,903.2 81.5,903 80.5,903.1 79.5,903.2 78.5,903.2 77.5,902.8 76.5,903.1 75.5,902.7 74.5,903.2 73.5,903.2 72.5,903.2 71.5,903.2 70.5,903.2 69.5,903.2 68.5,903.2 67.5,903.2 66.5,903.2 65.5,903.2 64.5,903.2 63.5,903.2 62.5,903.2 61.5,903.2 60.5,903.2 59.5,903.2 58.5,903.2 57.5,903.2 56.5,903.2 55.5,903.2 54.5,903.2 53.5,903.2 52.5,903.2 51.5,903.2 50.5,903.2 49.5,903.2 48.5,903.2 47.5,903.2 46.5,903.2 45.5,903.2 44.5,903.2 43.5,903.2" fill="#231815"/>
<line x1="68.9" y1="885.9" x2="68.9" y2="998.6" stroke="#231815" stroke-width="2.2"/>
<line x1="43.5" y1="901.3" x2="75" y2="901.3" stroke="#231815" stroke-width="4"/>
<polyline points="148.4,958.8 148.9,959.1 149.4,958.6 149.9,959.7 150.4,959.2 150.9,959.3 151.4,960 151.9,958.3 152.4,959.5 152.9,959.8 153.4,960.3 153.9,959.7 154.4,959.2 154.9,960.2 155.4,960.2 155.9,961 156.4,961 156.9,959.5 157.4,960.5 157.9,959.8 158.4,959 158.9,960.1 159.4,960.4 159.9,958.2 160.4,960.4 160.9,959.1 161.4,960.6 161.9,959.8 162.4,959.7 162.9,960.5 163.4,959.4 163.9,960.9 164.4,959 164.9,959.3 165.4,959 165.9,960 166.4,959.6 166.9,960.1 167.4,960.3 167.9,960.1 168.4,960.3 168.9,960.3 169.4,959.6 169.9,959.2 170.4,959 170.9,960.1 171.4,959.3 171.9,959 172.4,959.1 172.9,959.5 173.4,959.8 173.9,959.5 174.4,959 174.9,959.9 175.4,958.2 175.9,959.4 176.4,960.2 176.9,959.8 177.4,960.5 177.9,960 178.4,960.5 178.9,960.5 179.4,960.6 179.9,961.6 180.4,962.5 180.9,961.3 181.4,962.8 181.9,962.7 182.4,964.2 182.9,964.8 183.4,966.1 183.9,967 184.4,968.6 184.9,969.7 185.4,969.3 185.9,970.4 186.4,971.9 186.9,972.1 187.4,973.1 187.9,973.2 188.4,975.7 188.9,976.4 189.4,976.6 189.9,977.3 190.4,978.5 190.9,980.2 191.4,980.3 191.9,980.3 192.4,981.2 192.9,982.1 193.4,982.3 193.9,982.2 194.4,981.1 194.9,980.7 195.4,980.3 195.9,980 196.4,979.5 196.9,978.1 197.4,977.8 197.9,977.6 198.4,977.9 198.9,976.7 199.4,976.2 199.9,976.9 200.4,976.8 200.9,974.9 201.4,975.1 201.9,975.5 202.4,974.2 202.9,974.7 203.4,972.9 203.9,973.4 204.4,973.6 204.9,973.8 205.4,973.2 205.9,971.3 206.4,971.1 206.9,971.2 207.4,972 207.9,971.7 208.4,971.7 208.9,971.2 209.4,970.2 209.9,970 210.4,969.5 210.9,970.3 211.4,968.8 211.9,969.4 212.4,969.3 212.9,969.7 213.4,968.3 213.9,968.8 214.4,967.8 214.9,968.9 215.4,967.8 215.9,967.7 216.4,967.1 216.9,967.2 217.4,967 217.9,966.8 218.4,967.8 218.9,966.3 219.4,966.9 219.9,967.1 220.4,965.8 220.9,965 221.4,966.5 221.9,965.1 222.4,965.5 222.9,965.8 223.4,965.9 223.9,965.4 224.4,965 224.9,966 225.4,965.4 225.9,966.3 226.4,964.5 226.9,964.9 227.4,964.8 227.9,965 228.4,964.8 228.9,964.5 229.4,965.6 229.9,964.2 230.4,964.5 230.9,964.3 231.4,963.7 231.9,964.5 232.4,962.8 232.9,964.5 233.4,962.8 233.9,963.5 234.4,963.7 234.9,963.2 235.4,963.2 235.9,964.1 236.4,964.8 236.9,963.9 237.4,963.3 237.9,962.8 238.4,962.6 238.9,963.8 239.4,963.5 239.9,963.7 240.4,963.5 240.9,963.6 241.4,962.4 241.9,962.2 242.4,962 242.9,962.6 243.4,962.4 243.9,962.5 244.4,961.7 244.9,962.5 245.4,962.8 245.9,962.3 246.4,960.6 246.9,962.2 247.4,961.9 247.9,962.7 248.4,962 248.9,962.4 249.4,961.8 249.9,962.1 250.4,962.5 250.9,961.7 251.4,962 251.9,961.9 252.4,962.1 252.9,961.7 253.4,962 253.9,960.6 254.4,961.5 254.9,962.1 255.4,962 255.9,961 256.4,961 256.9,961.7 257.4,961.7 257.9,961.7 258.4,961.4 258.9,961.4 259.4,962 259.9,960.7 260.4,960.4 260.9,961.9 261.4,960.8 261.9,961.6 262.4,960.8 262.9,960.5 263.4,962.1 263.9,961.1 264.4,960.2 264.9,960.9 265.4,960.9 265.9,960.9 266.4,961.1 266.9,960.3 267.4,960.8 267.9,961.2 268.4,961.3 268.9,961 269.4,960.4 269.9,959.7 270.4,961.7 270.9,960.2 271.4,960.5 271.9,960.8 272.4,961 272.9,960.7 273.4,960.2 273.9,960.7 274.4,962 274.9,962.2 275.4,960.5 275.9,961.1 276.4,959.6 276.9,960.8 277.4,961.1 277.9,960.4 278.4,961.7 278.9,961.1 279.4,960.9 279.9,959 280.4,960.2 280.9,961 281.4,960.2 281.9,959.4 282.4,960.1 282.9,961.4 283.4,960.9 283.9,961 284.4,960.6 284.9,961.4 285.4,958.7 285.9,959.7 286.4,961.6 286.9,961 287.4,960.5 287.9,960.2 288.4,959.3 288.9,960.1 289.4,960.3 289.9,959.8 290.4,961.2 290.9,960.9 291.4,960.1 291.9,960.8 292.4,960.3 292.9,960.4 293.4,960 293.9,961.8 294.4,959.4 294.9,960.2 295.4,960.9 295.9,960.8 296.4,959.2 296.9,959.6 297.4,960.1 297.9,959.7 298.4,959.8 298.9,960 299.4,960.1 299.9,960.8 300.4,959.1 300.9,960.8 301.4,960 301.9,960.5 302.4,959.9 302.9,961.5 303.4,959 303.9,960.8 304.4,959.8 304.9,960 305.4,961 305.9,960 306.4,960.6 306.9,961 307.4,959.7 307.9,961.3 308.4,960.8 308.9,959.9 309.4,960.2 309.9,959.6 310.4,960.2 310.9,960.6 311.4,960.6 311.9,960.2 312.4,959.7 312.9,959.6 313.4,959.4 313.9,959.8 314.4,960.4 314.9,959.7 315.4,959.6 315.9,959.4 316.4,960.3 316.9,959.8 317.4,959 317.9,960.6 318.4,960.6 318.9,960 319.4,959.7 319.9,959.9 320.4,959.4 320.9,960.6 321.4,960.8 321.9,960.6 322.4,960.1 322.9,960.1 323.4,960.2 323.9,961 324.4,959.4 324.9,959.9 325.4,959.5 325.9,959.2 326.4,960.1 326.9,960.6 327.4,959.3 327.9,960.5 328.4,960.3 328.9,960.2 329.4,960.7 329.9,959.5 330.4,960.8 330.9,959.7 331.4,960.2 331.9,958.9 332.4,960.4 332.9,959.9 333.4,959.5 333.9,959.2 334.4,960 334.9,960.6 335.4,960.2 335.9,959.6 336.4,959.4 336.9,959.2 337.4,959.6 337.9,958.9 338.4,959.6 338.9,960.5 339.4,959.8 339.9,959.7 340.4,959.5 340.9,960.2 341.4,960.2 341.9,960.7 342.4,959.4 342.9,959.1 343.4,959.4 343.9,959.1 344.4,959.8 344.9,959.5 345.4,959.3 345.9,959.7 346.4,960.4 346.9,960.2 347.4,959.4 347.9,959.8 348.4,960 348.9,960.2 349.4,959.6 349.9,959 350.4,960 350.9,959.2 351.4,959.5 351.9,959.6 352.4,960.3 352.9,959.5 353.4,959.8 353.9,959.6 354.4,959.4 354.9,960.3 355.4,959.5 355.9,960 356.4,959.9 356.9,958.6 357.4,958.7 357.9,957.8 358.4,959.9 358.9,959.9 359.4,959.4 359.9,959.4 360.4,959.5 360.9,959.3 361.4,959.7 361.9,959.7 362.4,959.2 362.9,960.6 363.4,960.3 363.9,959.5 364.4,961 364.9,961.2 365.4,960.4 365.9,960.4 366.4,959.4 366.9,959.5 367.4,958.8 367.9,959.5 368.4,960.3 368.9,959.5 369.4,958.7 369.9,960.7 370.4,960.9 370.9,960.6 371.4,958.8 371.9,960.2 372.4,959.2 372.9,959.6 373.4,960.1 373.9,960.6 374.4,959.3 374.9,959.5 375.4,958.9 375.9,959.7 376.4,959.1 376.9,959.4 377.4,960.1 377.9,959.7 378.4,959.8 378.9,959.8 379.4,960.2 379.9,960.5 380.4,959 380.9,958.7 381.4,960 381.9,960.1 382.4,960.5 382.9,960.1 383.4,960.7 383.9,960 384.4,959.3 384.9,960.3 385.4,959.1 385.9,959.3 386.4,959.9 386.9,959.5 387.4,960.2 387.9,959.4 388.4,960.8 388.9,959 389.4,960.1 389.9,959.4 390.4,960.5 390.9,959.3" fill="none" stroke="#0000ff" stroke-width="1.7" stroke-linejoin="round"/>
<polyline points="148.4,960.1 148.9,957.7 149.4,959.1 149.9,960.6 150.4,959.7 150.9,959.6 151.4,960.1 151.9,961 152.4,958.9 152.9,959.5 153.4,959.3 153.9,960 154.4,959.2 154.9,958.7 155.4,958.7 155.9,960 156.4,959.7 156.9,960.1 157.4,958.6 157.9,959.1 158.4,959.3 158.9,960.1 159.4,959.9 159.9,959.5 160.4,959 160.9,959.7 161.4,959.3 161.9,960.1 162.4,960.7 162.9,959.7 163.4,958.9 163.9,961 164.4,960 164.9,959.9 165.4,959.7 165.9,959.7 166.4,959.7 166.9,959.8 167.4,958.7 167.9,959.2 168.4,959.5 168.9,959.7 169.4,959.7 169.9,959.9 170.4,958.5 170.9,959 171.4,959.2 171.9,959.7 172.4,959.5 172.9,960.8 173.4,959.4 173.9,959.5 174.4,958.7 174.9,960.7 175.4,959.7 175.9,959.5 176.4,959.2 176.9,959.7 177.4,959.7 177.9,961 178.4,960.3 178.9,961.3 179.4,962.1 179.9,963.9 180.4,965.1 180.9,966.9 181.4,968.3 181.9,970 182.4,971.4 182.9,973.7 183.4,975.3 183.9,977.1 184.4,977.9 184.9,980.5 185.4,982.4 185.9,983.7 186.4,987.6 186.9,989.8 187.4,991.7 187.9,993.5 188.4,996.2 188.9,996.4 189.4,1000.4 189.9,1000.6 190.4,1004.2 190.9,1006 191.4,1007.7 191.9,1008.9 192.4,1009.7 192.9,1009.2 193.4,1009.2 193.9,1008.7 194.4,1008.6 194.9,1007.2 195.4,1005.4 195.9,1005.8 196.4,1003.5 196.9,1002.9 197.4,1001.8 197.9,1000.9 198.4,1000.7 198.9,999.1 199.4,997.7 199.9,997.3 200.4,996.3 200.9,995.1 201.4,995.8 201.9,995.2 202.4,992.9 202.9,993.9 203.4,993.4 203.9,990.7 204.4,991.1 204.9,990 205.4,990 205.9,987.1 206.4,988.6 206.9,987.4 207.4,987.3 207.9,987 208.4,984.5 208.9,985.3 209.4,984.8 209.9,984.6 210.4,984.4 210.9,983.7 211.4,982.3 211.9,982.7 212.4,981.4 212.9,981.8 213.4,980.8 213.9,980.4 214.4,980.1 214.9,978.7 215.4,979 215.9,978.1 216.4,979 216.9,978.8 217.4,976.8 217.9,976 218.4,977.1 218.9,976.3 219.4,975.7 219.9,977.3 220.4,975.4 220.9,974.7 221.4,974.8 221.9,974.9 222.4,975.4 222.9,974.3 223.4,973.1 223.9,973.3 224.4,974.4 224.9,972 225.4,972.7 225.9,973.2 226.4,972.4 226.9,971.9 227.4,971.3 227.9,971.7 228.4,971.7 228.9,971.3 229.4,971.5 229.9,970.8 230.4,971.3 230.9,970.4 231.4,970.7 231.9,969.7 232.4,970.8 232.9,970.3 233.4,969.8 233.9,968.6 234.4,969.1 234.9,967.1 235.4,968.5 235.9,968.6 236.4,967.8 236.9,968.3 237.4,968.5 237.9,969 238.4,967.8 238.9,966.7 239.4,966.1 239.9,967.2 240.4,967.8 240.9,967.8 241.4,967 241.9,966.4 242.4,966.3 242.9,966.5 243.4,966.5 243.9,966.7 244.4,966.3 244.9,967.3 245.4,966.1 245.9,966.2 246.4,966.4 246.9,966.3 247.4,965.2 247.9,964.5 248.4,964.6 248.9,965.5 249.4,965.6 249.9,965.3 250.4,965.5 250.9,965.7 251.4,964.4 251.9,966.3 252.4,966.3 252.9,965.1 253.4,964.4 253.9,964.6 254.4,963.6 254.9,964.3 255.4,963.8 255.9,964.1 256.4,963.9 256.9,965.3 257.4,963.5 257.9,964.1 258.4,963.6 258.9,964.7 259.4,964.4 259.9,962.7 260.4,963 260.9,963.7 261.4,963.1 261.9,963.7 262.4,963.4 262.9,962.7 263.4,963.1 263.9,963.5 264.4,963.1 264.9,963.2 265.4,963.3 265.9,962.9 266.4,963.8 266.9,962.1 267.4,963.1 267.9,962.5 268.4,963 268.9,963.2 269.4,963 269.9,963 270.4,963 270.9,962.9 271.4,962.4 271.9,962.9 272.4,963 272.9,962.9 273.4,962.5 273.9,962.5 274.4,961.1 274.9,961.7 275.4,962.1 275.9,962.8 276.4,962.8 276.9,962.2 277.4,961.4 277.9,962.3 278.4,962.6 278.9,962.4 279.4,961.5 279.9,961.2 280.4,961.3 280.9,961.2 281.4,962.4 281.9,962 282.4,963 282.9,962.7 283.4,962.3 283.9,961.2 284.4,962 284.9,961.9 285.4,960.7 285.9,960.8 286.4,961.1 286.9,962.3 287.4,961.2 287.9,960.6 288.4,961.5 288.9,961.8 289.4,960.6 289.9,962.5 290.4,960.9 290.9,961.9 291.4,961.7 291.9,960.8 292.4,961.2 292.9,961.2 293.4,961 293.9,961.6 294.4,961.2 294.9,960.1 295.4,961.2 295.9,960.4 296.4,960.9 296.9,961.2 297.4,961 297.9,961.6 298.4,961 298.9,960.7 299.4,962 299.9,961.4 300.4,960.9 300.9,960.9 301.4,960.7 301.9,960.9 302.4,960.3 302.9,961.9 303.4,961.6 303.9,959.5 304.4,960.2 304.9,960.8 305.4,960.4 305.9,959.5 306.4,961.2 306.9,960 307.4,961.1 307.9,961 308.4,961.6 308.9,960.1 309.4,961.8 309.9,959.9 310.4,961.5 310.9,961.3 311.4,960.9 311.9,959.9 312.4,961.6 312.9,961.1 313.4,959.6 313.9,959 314.4,960.1 314.9,960 315.4,961 315.9,960.6 316.4,960.7 316.9,960.2 317.4,961.1 317.9,960.1 318.4,959.5 318.9,959 319.4,960.8 319.9,960.1 320.4,959.4 320.9,959.9 321.4,960.2 321.9,960.8 322.4,959.1 322.9,960.1 323.4,960.8 323.9,960.6 324.4,960.8 324.9,961.5 325.4,959.8 325.9,960 326.4,961 326.9,961.3 327.4,960.5 327.9,960.1 328.4,959.6 328.9,960.7 329.4,960.5 329.9,959.6 330.4,960 330.9,959.7 331.4,960.6 331.9,960.2 332.4,961 332.9,961.1 333.4,960.4 333.9,960.9 334.4,960.9 334.9,961.1 335.4,959.9 335.9,960.6 336.4,961.3 336.9,960.6 337.4,959.9 337.9,960.3 338.4,961.6 338.9,959.9 339.4,959.8 339.9,960.7 340.4,959.9 340.9,959.2 341.4,959.2 341.9,960.2 342.4,959.8 342.9,961 343.4,959.8 343.9,959.3 344.4,959.7 344.9,959.4 345.4,960.8 345.9,959.6 346.4,961 346.9,960.4 347.4,961.3 347.9,960 348.4,960.6 348.9,958.8 349.4,959.8 349.9,959.6 350.4,960.8 350.9,960 351.4,960.5 351.9,959.6 352.4,959.3 352.9,960 353.4,960.8 353.9,960 354.4,961 354.9,959.8 355.4,959.8 355.9,959.8 356.4,959.9 356.9,959.6 357.4,959.9 357.9,959.5 358.4,959.4 358.9,960.9 359.4,960.5 359.9,959.8 360.4,959.6 360.9,959 361.4,960.3 361.9,959.6 362.4,961.1 362.9,958.9 363.4,960.2 363.9,960.7 364.4,959.6 364.9,961.2 365.4,960.6 365.9,960.6 366.4,959.4 366.9,960.6 367.4,960.6 367.9,960 368.4,961 368.9,960.1 369.4,958.6 369.9,960.1 370.4,961 370.9,959.6 371.4,960.4 371.9,959.5 372.4,959.9 372.9,958.3 373.4,958.8 373.9,959.7 374.4,959.6 374.9,958.8 375.4,960.3 375.9,960.1 376.4,959.4 376.9,958.6 377.4,960.2 377.9,959.6 378.4,960.3 378.9,960.6 379.4,959.7 379.9,959.7 380.4,960.3 380.9,959.7 381.4,958.6 381.9,960.2 382.4,960 382.9,959.5 383.4,960.1 383.9,959.6 384.4,959.6 384.9,960.3 385.4,959 385.9,958.8 386.4,959.7 386.9,959 387.4,960.3 387.9,959.3 388.4,958.7 388.9,959.5 389.4,958.4 389.9,960.6 390.4,959.8 390.9,960.2" fill="none" stroke="#0000ff" stroke-width="1.7" stroke-linejoin="round"/>
<polyline points="148.4,959.9 148.9,959.7 149.4,959 149.9,960.1 150.4,959.4 150.9,959.1 151.4,958.4 151.9,960.4 152.4,959.5 152.9,959.4 153.4,958.4 153.9,960.2 154.4,959.5 154.9,960.2 155.4,959.6 155.9,959.1 156.4,960 156.9,958.7 157.4,958.7 157.9,959.6 158.4,960.1 158.9,960.3 159.4,959.6 159.9,959.5 160.4,959.7 160.9,959.5 161.4,959.3 161.9,959.9 162.4,959.3 162.9,959.5 163.4,960.3 163.9,959.7 164.4,959.3 164.9,960 165.4,959.5 165.9,960 166.4,959.1 166.9,959.1 167.4,958.7 167.9,960.3 168.4,960.5 168.9,960.3 169.4,959.8 169.9,959.7 170.4,959.5 170.9,960 171.4,959.5 171.9,959 172.4,960.2 172.9,960.1 173.4,959.9 173.9,959.6 174.4,959.4 174.9,959.7 175.4,959.7 175.9,958.9 176.4,959.3 176.9,959.1 177.4,960.7 177.9,959.8 178.4,960.8 178.9,962.1 179.4,964.1 179.9,965.1 180.4,968.7 180.9,970.4 181.4,971 181.9,975.2 182.4,978 182.9,979.8 183.4,983.3 183.9,986.3 184.4,988.8 184.9,992.2 185.4,995.5 185.9,998.1 186.4,1001.5 186.9,1004 187.4,1008.3 187.9,1010.8 188.4,1015.3 188.9,1019.1 189.4,1022.2 189.9,1024.4 190.4,1028.3 190.9,1030.8 191.4,1033.5 191.9,1034.4 192.4,1035.5 192.9,1036.6 193.4,1036.2 193.9,1036.9 194.4,1035.5 194.9,1033.6 195.4,1031.7 195.9,1030.1 196.4,1029.2 196.9,1027.2 197.4,1025.6 197.9,1025.3 198.4,1022.9 198.9,1021.3 199.4,1019.9 199.9,1019.5 200.4,1017.2 200.9,1016 201.4,1015.7 201.9,1014.5 202.4,1013.5 202.9,1011 203.4,1010.7 203.9,1009 204.4,1008.6 204.9,1006.3 205.4,1006.2 205.9,1005.9 206.4,1004.5 206.9,1001.9 207.4,1003.1 207.9,1001.8 208.4,1000.6 208.9,999.9 209.4,998.8 209.9,998.9 210.4,997.4 210.9,995.7 211.4,995.4 211.9,996.1 212.4,995.1 212.9,994.2 213.4,992.6 213.9,992.7 214.4,992.3 214.9,991.1 215.4,990.9 215.9,990.5 216.4,989.8 216.9,988.9 217.4,988.3 217.9,986.7 218.4,986.8 218.9,986.9 219.4,986.9 219.9,985.5 220.4,985.5 220.9,984.4 221.4,983.3 221.9,983.7 222.4,983.2 222.9,982 223.4,981.5 223.9,981.7 224.4,980.9 224.9,981.1 225.4,979.6 225.9,980.5 226.4,979.3 226.9,979.5 227.4,978 227.9,979.1 228.4,978.3 228.9,979.1 229.4,976.5 229.9,976.1 230.4,977.3 230.9,977.1 231.4,975.1 231.9,976.2 232.4,976.2 232.9,976.2 233.4,975.1 233.9,973.8 234.4,973.3 234.9,975.5 235.4,974.2 235.9,974.3 236.4,973.3 236.9,973.1 237.4,972.9 237.9,972.2 238.4,972.4 238.9,971.6 239.4,971.8 239.9,972.5 240.4,971.7 240.9,971 241.4,972.3 241.9,971.8 242.4,970.9 242.9,969.6 243.4,971.3 243.9,971.1 244.4,969.8 244.9,970.8 245.4,969.3 245.9,969.4 246.4,969.2 246.9,969.4 247.4,969 247.9,969.8 248.4,968.6 248.9,968.9 249.4,968.5 249.9,968.5 250.4,967.7 250.9,968.1 251.4,968.8 251.9,968.3 252.4,967 252.9,967.3 253.4,966.8 253.9,966.9 254.4,966.8 254.9,966.3 255.4,967.2 255.9,967.4 256.4,966.8 256.9,966.3 257.4,966.6 257.9,965.9 258.4,966.9 258.9,967.6 259.4,964.5 259.9,966.2 260.4,965.9 260.9,965.9 261.4,965.5 261.9,964.7 262.4,965.5 262.9,965.2 263.4,965.3 263.9,965.2 264.4,964.9 264.9,966.5 265.4,964.3 265.9,964.7 266.4,964.1 266.9,964.7 267.4,965.6 267.9,964.6 268.4,964 268.9,963.7 269.4,964.7 269.9,963.9 270.4,964.7 270.9,963.8 271.4,963.8 271.9,964 272.4,963 272.9,964.7 273.4,963.2 273.9,963.9 274.4,964 274.9,965.1 275.4,963.9 275.9,964.1 276.4,963.2 276.9,963.4 277.4,963.4 277.9,964 278.4,962.7 278.9,963.5 279.4,964.9 279.9,962.6 280.4,962 280.9,962.8 281.4,963 281.9,964 282.4,963.2 282.9,963.6 283.4,962.4 283.9,962.8 284.4,962.9 284.9,962.2 285.4,962.9 285.9,962.5 286.4,962.7 286.9,961.7 287.4,961.3 287.9,963.3 288.4,962.5 288.9,962.4 289.4,963.9 289.9,963 290.4,962.6 290.9,961.9 291.4,962.5 291.9,962.4 292.4,962 292.9,963 293.4,962.6 293.9,962.4 294.4,961.6 294.9,961.6 295.4,962.7 295.9,962.1 296.4,961.6 296.9,962.1 297.4,961.9 297.9,961.6 298.4,961.7 298.9,962.3 299.4,962 299.9,961.2 300.4,961.3 300.9,961.9 301.4,961 301.9,961.7 302.4,961.5 302.9,960.8 303.4,960.1 303.9,961 304.4,961.5 304.9,961.5 305.4,962.2 305.9,961.4 306.4,961.4 306.9,961.6 307.4,961.1 307.9,962.4 308.4,961 308.9,960.8 309.4,961 309.9,962 310.4,960.9 310.9,960.8 311.4,961.6 311.9,961.9 312.4,960.9 312.9,961.6 313.4,960.7 313.9,961.9 314.4,960.4 314.9,960.9 315.4,960.8 315.9,960.5 316.4,961 316.9,961.4 317.4,960.5 317.9,962.1 318.4,961.1 318.9,961.1 319.4,960.4 319.9,960.9 320.4,961.4 320.9,960.3 321.4,960.4 321.9,960.3 322.4,960 322.9,961.2 323.4,960.3 323.9,961.8 324.4,960 324.9,960.5 325.4,960.8 325.9,960.1 326.4,959.4 326.9,960.3 327.4,960.7 327.9,960.1 328.4,960.8 328.9,959.5 329.4,960.8 329.9,961.9 330.4,961.2 330.9,961.2 331.4,960.4 331.9,960.3 332.4,961.2 332.9,960.3 333.4,960.9 333.9,959.9 334.4,960.7 334.9,960.6 335.4,959.2 335.9,960.4 336.4,960.8 336.9,960.8 337.4,960.7 337.9,961.2 338.4,960.4 338.9,960 339.4,961 339.9,961.7 340.4,960.2 340.9,961.3 341.4,960.3 341.9,959.5 342.4,959.8 342.9,959.8 343.4,961 343.9,960.4 344.4,960 344.9,960.4 345.4,961.2 345.9,960.3 346.4,959.9 346.9,960.5 347.4,959.8 347.9,960.6 348.4,960.9 348.9,960.4 349.4,960 349.9,960.3 350.4,959.4 350.9,961.2 351.4,961.6 351.9,960.2 352.4,959 352.9,959.8 353.4,959.3 353.9,959.1 354.4,960.1 354.9,960.1 355.4,959.8 355.9,960.8 356.4,960.2 356.9,959.6 357.4,960.4 357.9,959.4 358.4,959.9 358.9,959.6 359.4,960.3 359.9,959.9 360.4,959.8 360.9,960.3 361.4,960.4 361.9,960.2 362.4,960.8 362.9,959.4 363.4,960.3 363.9,961.1 364.4,960.1 364.9,958.7 365.4,960.6 365.9,959.9 366.4,960.4 366.9,960.2 367.4,960.4 367.9,960.8 368.4,960.1 368.9,960.5 369.4,959.2 369.9,959.5 370.4,959.9 370.9,960.9 371.4,959.5 371.9,959.8 372.4,960.4 372.9,959.7 373.4,959.2 373.9,958.8 374.4,960.4 374.9,959.3 375.4,960.2 375.9,960.3 376.4,959.3 376.9,960.2 377.4,958.7 377.9,959.9 378.4,959.3 378.9,960.1 379.4,960 379.9,960 380.4,960.3 380.9,959.5 381.4,959 381.9,959.2 382.4,960.5 382.9,959.3 383.4,959.7 383.9,960.1 384.4,959.8 384.9,959.3 385.4,958.6 385.9,960.4 386.4,959.5 386.9,958.9 387.4,959.5 387.9,959.9 388.4,958.7 388.9,959.9 389.4,959.9 389.9,960.1 390.4,959.9 390.9,959.3" fill="none" stroke="#0000ff" stroke-width="1.7" stroke-linejoin="round"/>
<polyline points="148.4,958.6 148.9,959.5 149.4,959.3 149.9,960.5 150.4,959.4 150.9,959.8 151.4,959.6 151.9,958.5 152.4,960 152.9,959.3 153.4,958.7 153.9,959.8 154.4,960.3 154.9,959.5 155.4,959.4 155.9,959.2 156.4,959.3 156.9,960.3 157.4,959.6 157.9,959.8 158.4,959.9 158.9,957.8 159.4,959.7 159.9,959.9 160.4,959.7 160.9,958.7 161.4,959.1 161.9,960 162.4,959.8 162.9,959.9 163.4,958.9 163.9,959.7 164.4,960.5 164.9,959.6 165.4,960.4 165.9,960.1 166.4,960.1 166.9,959.2 167.4,959.2 167.9,959.2 168.4,960.3 168.9,960.3 169.4,959 169.9,958.8 170.4,959.7 170.9,960.4 171.4,959.7 171.9,960 172.4,959.9 172.9,959.9 173.4,959.5 173.9,959.9 174.4,960 174.9,959.5 175.4,960.6 175.9,958.9 176.4,959.4 176.9,959.3 177.4,960.9 177.9,961.6 178.4,961.7 178.9,963.7 179.4,965.2 179.9,966.9 180.4,969.9 180.9,973.7 181.4,977.2 181.9,979.9 182.4,983.9 182.9,988.1 183.4,992.2 183.9,995.5 184.4,998.8 184.9,1002.3 185.4,1007.4 185.9,1011.3 186.4,1015.4 186.9,1019.6 187.4,1024 187.9,1028.8 188.4,1033.5 188.9,1037.1 189.4,1043.2 189.9,1047.5 190.4,1051.1 190.9,1055.2 191.4,1059 191.9,1059.9 192.4,1061.6 192.9,1062.5 193.4,1062.3 193.9,1062.6 194.4,1060.6 194.9,1058.6 195.4,1056.5 195.9,1054.2 196.4,1053.2 196.9,1050.2 197.4,1047.9 197.9,1045.7 198.4,1044.2 198.9,1043 199.4,1041.2 199.9,1039.5 200.4,1037.4 200.9,1036.3 201.4,1034.7 201.9,1032.1 202.4,1031.5 202.9,1030 203.4,1028.2 203.9,1027.6 204.4,1025.5 204.9,1023.7 205.4,1023.4 205.9,1022.5 206.4,1019.5 206.9,1018.9 207.4,1018.3 207.9,1016.9 208.4,1016 208.9,1015 209.4,1012.1 209.9,1012.5 210.4,1010 210.9,1009.4 211.4,1008.3 211.9,1008.2 212.4,1006 212.9,1006.1 213.4,1004.2 213.9,1005.4 214.4,1003 214.9,1002.5 215.4,1000.9 215.9,1000.4 216.4,1000.8 216.9,999.3 217.4,997.7 217.9,997.4 218.4,996.8 218.9,997.2 219.4,995.4 219.9,995 220.4,994.7 220.9,994.9 221.4,993.2 221.9,991.5 222.4,991 222.9,992 223.4,990.6 223.9,988.6 224.4,988.9 224.9,988.4 225.4,987.9 225.9,987.9 226.4,987.4 226.9,987.3 227.4,984.9 227.9,985.7 228.4,984.9 228.9,984 229.4,984.6 229.9,982.9 230.4,982.4 230.9,983.8 231.4,982.6 231.9,982.5 232.4,982.4 232.9,980.4 233.4,981.6 233.9,980.5 234.4,980.4 234.9,980.2 235.4,979.7 235.9,978.8 236.4,978.6 236.9,978.4 237.4,978.6 237.9,976.3 238.4,978.2 238.9,976.5 239.4,978.1 239.9,976.7 240.4,977.2 240.9,975.7 241.4,976.6 241.9,975.6 242.4,975.3 242.9,975.1 243.4,973 243.9,973.4 244.4,973.1 244.9,973.9 245.4,973.4 245.9,973.8 246.4,973.3 246.9,973.6 247.4,972.2 247.9,972.7 248.4,971.9 248.9,971.3 249.4,970.8 249.9,971.6 250.4,970.9 250.9,970.9 251.4,970.5 251.9,970.2 252.4,972.4 252.9,970.5 253.4,969.5 253.9,970 254.4,970 254.9,968.9 255.4,970.3 255.9,968.9 256.4,969.7 256.9,968.9 257.4,968.6 257.9,970.8 258.4,968.4 258.9,967.7 259.4,968.2 259.9,967.7 260.4,968.9 260.9,968.3 261.4,967.2 261.9,968.9 262.4,967.5 262.9,966.8 263.4,968.1 263.9,967.7 264.4,966.6 264.9,966.4 265.4,966.9 265.9,966.5 266.4,967.1 266.9,966.8 267.4,965.8 267.9,965.8 268.4,966.2 268.9,967 269.4,965.8 269.9,966.4 270.4,965.6 270.9,966.1 271.4,965.4 271.9,965.9 272.4,965.1 272.9,965.1 273.4,966.6 273.9,965.9 274.4,964.5 274.9,965.9 275.4,965 275.9,965.8 276.4,964.1 276.9,964.8 277.4,964.5 277.9,964.3 278.4,963.9 278.9,965.8 279.4,964.5 279.9,964.2 280.4,963.4 280.9,965 281.4,964.9 281.9,964.1 282.4,963.3 282.9,964.4 283.4,964 283.9,963.1 284.4,965.1 284.9,964.3 285.4,963.2 285.9,963.2 286.4,964.1 286.9,964.3 287.4,963.9 287.9,963.8 288.4,963.2 288.9,964.7 289.4,963.2 289.9,963.4 290.4,963.5 290.9,963 291.4,963.6 291.9,964.1 292.4,961.7 292.9,962.9 293.4,963.8 293.9,963.8 294.4,962.6 294.9,963.3 295.4,962.9 295.9,962.9 296.4,962.4 296.9,963.3 297.4,963.4 297.9,963.6 298.4,962.7 298.9,962.6 299.4,963.2 299.9,964.5 300.4,962.3 300.9,962.4 301.4,963.4 301.9,961.6 302.4,960.8 302.9,962.9 303.4,963.1 303.9,963 304.4,962.8 304.9,962.8 305.4,961.7 305.9,962.7 306.4,961.4 306.9,961.1 307.4,961.9 307.9,961.2 308.4,961.3 308.9,961.5 309.4,961.6 309.9,961.9 310.4,961.2 310.9,961.4 311.4,961.7 311.9,961.8 312.4,962 312.9,962.1 313.4,961.8 313.9,961.9 314.4,962 314.9,961.6 315.4,961.7 315.9,961 316.4,961.6 316.9,962.1 317.4,961.1 317.9,962.2 318.4,961.1 318.9,962 319.4,962.4 319.9,961.5 320.4,961.1 320.9,961.6 321.4,961 321.9,960.7 322.4,961.9 322.9,960.1 323.4,961.8 323.9,960.7 324.4,961.7 324.9,960.8 325.4,962.2 325.9,960.8 326.4,959.7 326.9,962.9 327.4,961.1 327.9,961 328.4,961 328.9,960.8 329.4,961.2 329.9,960.5 330.4,962.3 330.9,960.5 331.4,961.3 331.9,961.7 332.4,960.8 332.9,961.4 333.4,960.5 333.9,960.2 334.4,960.3 334.9,961.5 335.4,961.4 335.9,960.2 336.4,961.4 336.9,960.2 337.4,960.9 337.9,961.2 338.4,959.5 338.9,961.1 339.4,960.5 339.9,959.8 340.4,961.1 340.9,960.8 341.4,960.9 341.9,960.5 342.4,960.2 342.9,959.8 343.4,960.5 343.9,959.9 344.4,960.3 344.9,960.8 345.4,961 345.9,960.8 346.4,960.7 346.9,960.3 347.4,961.1 347.9,961.2 348.4,960.2 348.9,960.2 349.4,959.9 349.9,960.3 350.4,960.2 350.9,961.6 351.4,961.2 351.9,959.6 352.4,960.9 352.9,960.2 353.4,959.3 353.9,960.5 354.4,959.9 354.9,960.5 355.4,960.7 355.9,959.9 356.4,961.2 356.9,960.4 357.4,959.8 357.9,959.3 358.4,961.6 358.9,959.8 359.4,960.3 359.9,960.4 360.4,960.8 360.9,959.4 361.4,958.8 361.9,960.3 362.4,959.3 362.9,960 363.4,961.5 363.9,959.8 364.4,960.6 364.9,959.5 365.4,962 365.9,959.9 366.4,960.4 366.9,960.1 367.4,959.8 367.9,960.8 368.4,960 368.9,959.6 369.4,959.8 369.9,959.9 370.4,960.2 370.9,960.2 371.4,959.6 371.9,959.8 372.4,961.3 372.9,959.9 373.4,960.9 373.9,959.8 374.4,960.3 374.9,959.7 375.4,958.8 375.9,959.7 376.4,960.5 376.9,960.8 377.4,960.7 377.9,959.7 378.4,959.8 378.9,959.3 379.4,960.1 379.9,960.5 380.4,960.1 380.9,959.5 381.4,960.2 381.9,960 382.4,960.2 382.9,959.8 383.4,960.1 383.9,959.5 384.4,959.4 384.9,958.4 385.4,960 385.9,960 386.4,959.3 386.9,960.8 387.4,960.7 387.9,961 388.4,959.8 388.9,959.7 389.4,960.1 389.9,960.5 390.4,960.8 390.9,959.3" fill="none" stroke="#0000ff" stroke-width="1.7" stroke-linejoin="round"/>
<polyline points="148.4,959.5 148.9,958.3 149.4,959.4 149.9,960.1 150.4,960 150.9,961 151.4,960 151.9,959.3 152.4,959.1 152.9,959.7 153.4,960.6 153.9,958.8 154.4,959 154.9,959.6 155.4,959.4 155.9,960.1 156.4,959.3 156.9,959.6 157.4,959.6 157.9,959.7 158.4,960.4 158.9,958.8 159.4,958.5 159.9,958.7 160.4,959.4 160.9,959.6 161.4,959.9 161.9,959.8 162.4,959.6 162.9,958.5 163.4,959.2 163.9,959.8 164.4,958.8 164.9,959.3 165.4,959.3 165.9,959.9 166.4,959 166.9,958.5 167.4,959.3 167.9,959.4 168.4,960.1 168.9,959.2 169.4,959.4 169.9,959.2 170.4,959.3 170.9,960.8 171.4,958 171.9,959.9 172.4,959.1 172.9,959.6 173.4,958.6 173.9,959.7 174.4,959.1 174.9,959.9 175.4,960.4 175.9,958.8 176.4,958.6 176.9,960.5 177.4,961.5 177.9,961.1 178.4,961.1 178.9,963.1 179.4,966.7 179.9,969.7 180.4,971.5 180.9,974.2 181.4,979.5 181.9,981.8 182.4,986.2 182.9,990.4 183.4,994.6 183.9,999.7 184.4,1003.1 184.9,1008.3 185.4,1013.5 185.9,1018.1 186.4,1022.9 186.9,1026.6 187.4,1030.6 187.9,1036.7 188.4,1041.6 188.9,1046.6 189.4,1051.2 189.9,1056.8 190.4,1061 190.9,1066.4 191.4,1070.4 191.9,1072 192.4,1073.8 192.9,1075.1 193.4,1075.1 193.9,1074.4 194.4,1072.6 194.9,1069.9 195.4,1068.7 195.9,1064.8 196.4,1063.9 196.9,1060.6 197.4,1059.2 197.9,1056.3 198.4,1053.9 198.9,1052.2 199.4,1050.3 199.9,1049.8 200.4,1046.8 200.9,1044.9 201.4,1043 201.9,1041.8 202.4,1040.1 202.9,1038.8 203.4,1036.5 203.9,1034.6 204.4,1033.7 204.9,1032.8 205.4,1031.2 205.9,1028.7 206.4,1027.6 206.9,1026.7 207.4,1024.8 207.9,1023 208.4,1022.7 208.9,1021.1 209.4,1020.3 209.9,1019.4 210.4,1017.4 210.9,1015.8 211.4,1014.9 211.9,1014.8 212.4,1013.3 212.9,1012.6 213.4,1010.9 213.9,1010.6 214.4,1008.8 214.9,1007.8 215.4,1007.2 215.9,1006.2 216.4,1005.2 216.9,1004.5 217.4,1004.2 217.9,1002.4 218.4,1000.9 218.9,1001.4 219.4,1001.5 219.9,1000.2 220.4,998.1 220.9,998.4 221.4,998 221.9,997.2 222.4,997 222.9,995.8 223.4,992.9 223.9,994.3 224.4,992.8 224.9,992.1 225.4,991 225.9,990.7 226.4,990.6 226.9,991 227.4,990.4 227.9,989.6 228.4,989.4 228.9,987.9 229.4,987.1 229.9,988.2 230.4,986.9 230.9,985.9 231.4,986.1 231.9,984.7 232.4,985.7 232.9,983.4 233.4,983.5 233.9,983.3 234.4,982.8 234.9,981.8 235.4,982.7 235.9,982.1 236.4,981.4 236.9,981.3 237.4,980.3 237.9,980.8 238.4,979.5 238.9,978.9 239.4,979.1 239.9,978.7 240.4,978.7 240.9,978.6 241.4,978.9 241.9,976.8 242.4,976.3 242.9,977.1 243.4,977.5 243.9,977 244.4,976.1 244.9,975.7 245.4,975.4 245.9,976.4 246.4,974.9 246.9,975 247.4,973.8 247.9,974.9 248.4,974 248.9,973.7 249.4,973.4 249.9,973.3 250.4,974.8 250.9,973.3 251.4,973.1 251.9,972 252.4,971.4 252.9,970.8 253.4,971.5 253.9,971.8 254.4,971.7 254.9,970.4 255.4,971.5 255.9,970.6 256.4,971.5 256.9,970.5 257.4,970.5 257.9,969.8 258.4,969.7 258.9,970 259.4,970.1 259.9,970.1 260.4,969 260.9,968.6 261.4,969.4 261.9,969.8 262.4,968.6 262.9,968.5 263.4,968.3 263.9,968.7 264.4,968.9 264.9,967.6 265.4,968.3 265.9,968.8 266.4,968.2 266.9,967.2 267.4,966.7 267.9,967.5 268.4,968.2 268.9,967.7 269.4,968 269.9,966.8 270.4,967 270.9,966.3 271.4,967 271.9,966.5 272.4,966 272.9,966.2 273.4,966.7 273.9,966.8 274.4,966.6 274.9,967.4 275.4,966.4 275.9,965.3 276.4,966.4 276.9,965.2 277.4,964.9 277.9,966 278.4,965.1 278.9,965.4 279.4,965 279.9,965.1 280.4,964.1 280.9,965.6 281.4,965.7 281.9,964.8 282.4,965.6 282.9,965.3 283.4,965.4 283.9,965.5 284.4,963.8 284.9,965 285.4,964.3 285.9,964.8 286.4,964.1 286.9,965.5 287.4,965.2 287.9,964.1 288.4,964.3 288.9,964.1 289.4,964.1 289.9,964.4 290.4,963.2 290.9,962.9 291.4,964.4 291.9,963.9 292.4,963.3 292.9,963.2 293.4,962.6 293.9,963.3 294.4,962.4 294.9,963.4 295.4,963.5 295.9,962.9 296.4,963.8 296.9,963.6 297.4,963.2 297.9,962.6 298.4,962.6 298.9,962.4 299.4,961.8 299.9,962.9 300.4,963.3 300.9,961.9 301.4,963 301.9,962.6 302.4,962.7 302.9,963.1 303.4,963.1 303.9,962.1 304.4,963 304.9,962.2 305.4,960.9 305.9,963.6 306.4,962.4 306.9,962.1 307.4,963.1 307.9,962.5 308.4,961.9 308.9,962.3 309.4,962.4 309.9,962 310.4,960.7 310.9,962.2 311.4,961.5 311.9,961.4 312.4,962 312.9,963.2 313.4,961.2 313.9,962.1 314.4,961 314.9,960.9 315.4,961.6 315.9,962.3 316.4,961.9 316.9,961.9 317.4,962.4 317.9,962 318.4,961.3 318.9,961 319.4,961.4 319.9,961.8 320.4,961.3 320.9,961.4 321.4,961.2 321.9,961 322.4,960.7 322.9,960.9 323.4,962.5 323.9,962 324.4,962.2 324.9,961.4 325.4,961.2 325.9,961.8 326.4,961.1 326.9,962 327.4,961.3 327.9,961.7 328.4,960.7 328.9,962.3 329.4,961.3 329.9,961.6 330.4,960.7 330.9,960.7 331.4,961.5 331.9,960.1 332.4,961.8 332.9,960.7 333.4,961.6 333.9,960.6 334.4,961 334.9,961 335.4,961.5 335.9,960.4 336.4,961.3 336.9,961.1 337.4,961.4 337.9,960.4 338.4,960.9 338.9,960.4 339.4,960.6 339.9,961.5 340.4,961.5 340.9,960.2 341.4,960.7 341.9,960.7 342.4,960.2 342.9,960.5 343.4,960.1 343.9,961 344.4,960.1 344.9,961.5 345.4,959.5 345.9,961 346.4,961 346.9,960.2 347.4,959.6 347.9,960.7 348.4,959.9 348.9,961.2 349.4,960.6 349.9,960.6 350.4,960.6 350.9,961 351.4,960.5 351.9,960.8 352.4,960.7 352.9,960.2 353.4,961.1 353.9,961.4 354.4,961.1 354.9,960.5 355.4,960.8 355.9,959.8 356.4,959.9 356.9,959.9 357.4,960.1 357.9,960.9 358.4,959.9 358.9,960 359.4,959.5 359.9,959.9 360.4,959.3 360.9,960.9 361.4,960.2 361.9,960.9 362.4,961.1 362.9,960.6 363.4,960.5 363.9,960.4 364.4,960 364.9,959 365.4,960.4 365.9,959.8 366.4,959.7 366.9,959.9 367.4,960.2 367.9,960.6 368.4,959.6 368.9,959.5 369.4,960.8 369.9,960.5 370.4,960.7 370.9,960 371.4,959.3 371.9,961 372.4,960.9 372.9,959.8 373.4,960.4 373.9,960.8 374.4,961.6 374.9,960.9 375.4,960.5 375.9,960 376.4,959.8 376.9,960.1 377.4,959.7 377.9,960.5 378.4,960.2 378.9,960 379.4,959.5 379.9,960.2 380.4,959.9 380.9,960.3 381.4,959.5 381.9,960.5 382.4,960 382.9,961.2 383.4,959.6 383.9,961.2 384.4,961.8 384.9,960 385.4,961.3 385.9,960.7 386.4,959.3 386.9,959.7 387.4,960.6 387.9,960.2 388.4,960.6 388.9,960.3 389.4,960.9 389.9,959.9 390.4,959.4 390.9,959.6" fill="none" stroke="#0000ff" stroke-width="1.7" stroke-linejoin="round"/>
<polyline points="148.4,959.6 148.9,959.1 149.4,959.6 149.9,959.5 150.4,959.5 150.9,959.6 151.4,959.4 151.9,960.2 152.4,959.7 152.9,960.1 153.4,958.8 153.9,959.7 154.4,959.4 154.9,958.5 155.4,960.9 155.9,958.9 156.4,960.1 156.9,960.1 157.4,960.3 157.9,959.4 158.4,958.1 158.9,960 159.4,959.6 159.9,960 160.4,959.6 160.9,960.4 161.4,960 161.9,959.4 162.4,961.1 162.9,959.3 163.4,958.3 163.9,959.7 164.4,959.9 164.9,960 165.4,959.3 165.9,959.6 166.4,959.2 166.9,959.4 167.4,960.1 167.9,959.3 168.4,960.1 168.9,959.5 169.4,959.7 169.9,959.5 170.4,960.3 170.9,959.7 171.4,959.2 171.9,959.7 172.4,960.4 172.9,959.8 173.4,959 173.9,959.2 174.4,959 174.9,960.5 175.4,959.8 175.9,960.2 176.4,960.1 176.9,959.7 177.4,961.1 177.9,961.3 178.4,962.9 178.9,963.3 179.4,966.8 179.9,969.3 180.4,972.4 180.9,976.7 181.4,979.9 181.9,984.7 182.4,987.7 182.9,993.6 183.4,998 183.9,1004.2 184.4,1008.1 184.9,1013.2 185.4,1016.1 185.9,1022.7 186.4,1027.4 186.9,1034 187.4,1039.1 187.9,1043.9 188.4,1049.3 188.9,1054.7 189.4,1060.1 189.9,1066.1 190.4,1071.7 190.9,1075.9 191.4,1079.3 191.9,1083.6 192.4,1084.3 192.9,1085.2 193.4,1087.2 193.9,1085.1 194.4,1083.3 194.9,1080 195.4,1077.7 195.9,1076.7 196.4,1073.3 196.9,1071.8 197.4,1068.2 197.9,1067.1 198.4,1064.5 198.9,1062 199.4,1059.1 199.9,1059 200.4,1056.2 200.9,1054.2 201.4,1052.8 201.9,1049.8 202.4,1049.4 202.9,1047.3 203.4,1045.4 203.9,1043.7 204.4,1041.3 204.9,1039.9 205.4,1038.7 205.9,1036.6 206.4,1036.1 206.9,1034.3 207.4,1033.2 207.9,1030 208.4,1030.4 208.9,1027.8 209.4,1026.3 209.9,1025.3 210.4,1025 210.9,1023.2 211.4,1021.9 211.9,1021.1 212.4,1019.9 212.9,1018.8 213.4,1017.6 213.9,1016.1 214.4,1015.1 214.9,1012.9 215.4,1012.6 215.9,1010.4 216.4,1010.7 216.9,1009.8 217.4,1008.3 217.9,1007.5 218.4,1007.6 218.9,1005.8 219.4,1005.2 219.9,1005.4 220.4,1003.7 220.9,1003.2 221.4,1002.1 221.9,1001.4 222.4,1001 222.9,999.4 223.4,999.2 223.9,997.8 224.4,997.1 224.9,997 225.4,995.6 225.9,993.8 226.4,994.5 226.9,994.8 227.4,992.8 227.9,993.1 228.4,992 228.9,990.7 229.4,990.8 229.9,989.1 230.4,990.6 230.9,989.1 231.4,989 231.9,988.3 232.4,986.9 232.9,987 233.4,987.5 233.9,986.8 234.4,985.6 234.9,984.9 235.4,984.9 235.9,983.7 236.4,984.2 236.9,982.7 237.4,982.8 237.9,983.3 238.4,982.4 238.9,981.6 239.4,981.7 239.9,981.1 240.4,981 240.9,981.2 241.4,980.1 241.9,978.8 242.4,979.7 242.9,978.7 243.4,979.5 243.9,979.1 244.4,978.2 244.9,978.1 245.4,976.7 245.9,976.2 246.4,976.8 246.9,976.9 247.4,977.2 247.9,975.7 248.4,975.3 248.9,975.1 249.4,974.9 249.9,975.2 250.4,974 250.9,975 251.4,973.6 251.9,975.4 252.4,973.8 252.9,973.7 253.4,972.4 253.9,973.4 254.4,971.9 254.9,973.3 255.4,972.2 255.9,972.5 256.4,972.5 256.9,972.5 257.4,972.6 257.9,972.2 258.4,971.8 258.9,970.8 259.4,970.4 259.9,971.3 260.4,970.9 260.9,970.2 261.4,970.3 261.9,970.7 262.4,970.6 262.9,969.5 263.4,968.9 263.9,968.4 264.4,969.1 264.9,969.1 265.4,968.3 265.9,969.6 266.4,969.9 266.9,968.2 267.4,969 267.9,968.4 268.4,968.6 268.9,968.3 269.4,968 269.9,968.5 270.4,968.2 270.9,967.4 271.4,967.8 271.9,967.1 272.4,967.3 272.9,967.6 273.4,967.4 273.9,966.1 274.4,967.2 274.9,966.1 275.4,966.8 275.9,967 276.4,965.6 276.9,965.8 277.4,966.8 277.9,966.4 278.4,964.9 278.9,966.6 279.4,965.6 279.9,965.1 280.4,965.9 280.9,965.3 281.4,965.6 281.9,965.6 282.4,966.8 282.9,965.9 283.4,965.4 283.9,965.2 284.4,965.3 284.9,965.3 285.4,964.6 285.9,965.2 286.4,964.4 286.9,964.4 287.4,964.6 287.9,965.2 288.4,965 288.9,962.7 289.4,965.1 289.9,964.4 290.4,964.3 290.9,965.1 291.4,963.7 291.9,963.5 292.4,962.8 292.9,963.3 293.4,964.4 293.9,963.4 294.4,963.2 294.9,964 295.4,963.1 295.9,963.2 296.4,963.1 296.9,963.7 297.4,963 297.9,963.1 298.4,963.2 298.9,962.2 299.4,963.1 299.9,962.1 300.4,962.4 300.9,962.8 301.4,963.1 301.9,962.9 302.4,963.6 302.9,963 303.4,963.2 303.9,962.6 304.4,962.4 304.9,963.7 305.4,961.7 305.9,963.4 306.4,962.2 306.9,963 307.4,961.8 307.9,962.8 308.4,962.7 308.9,961.2 309.4,962 309.9,962.8 310.4,962.9 310.9,962.5 311.4,961.9 311.9,962.2 312.4,961.4 312.9,961.6 313.4,962.3 313.9,962.1 314.4,962.5 314.9,962.1 315.4,962.4 315.9,961.9 316.4,962.3 316.9,963.4 317.4,961.3 317.9,962 318.4,961.6 318.9,962.1 319.4,962.1 319.9,961.3 320.4,961.8 320.9,961.8 321.4,961.6 321.9,961.9 322.4,962.5 322.9,962 323.4,961.4 323.9,961.7 324.4,962.7 324.9,961.2 325.4,962.2 325.9,961.1 326.4,960.5 326.9,961 327.4,961.6 327.9,961.3 328.4,961 328.9,960.9 329.4,960.8 329.9,960.7 330.4,960.9 330.9,959.8 331.4,961.5 331.9,961.4 332.4,961.3 332.9,961.7 333.4,960.8 333.9,961.1 334.4,959.6 334.9,961.2 335.4,960.9 335.9,961.4 336.4,961.6 336.9,960.9 337.4,960.3 337.9,961.2 338.4,961.5 338.9,961.5 339.4,960.6 339.9,960.4 340.4,960.8 340.9,960.3 341.4,959.6 341.9,961.1 342.4,961.1 342.9,961.2 343.4,960.3 343.9,960.8 344.4,960.1 344.9,959.9 345.4,961 345.9,959.7 346.4,960.5 346.9,962.1 347.4,961.4 347.9,961.1 348.4,961 348.9,960.5 349.4,960.3 349.9,961.8 350.4,960.5 350.9,960.3 351.4,961 351.9,960.6 352.4,961.4 352.9,960.2 353.4,960.1 353.9,960.3 354.4,961.5 354.9,961.1 355.4,960.7 355.9,960.6 356.4,960.7 356.9,959.9 357.4,960.8 357.9,960.2 358.4,960.6 358.9,960.5 359.4,960.6 359.9,960.2 360.4,961 360.9,960.6 361.4,960 361.9,960.7 362.4,960.2 362.9,960.6 363.4,960.9 363.9,960.1 364.4,960.3 364.9,960.4 365.4,960.4 365.9,961.5 366.4,960.5 366.9,959.6 367.4,960.4 367.9,960 368.4,961.7 368.9,959.9 369.4,959.6 369.9,960.7 370.4,960 370.9,960 371.4,960.1 371.9,959.8 372.4,960 372.9,958.9 373.4,960.2 373.9,960.6 374.4,961.3 374.9,960.2 375.4,960.7 375.9,959.8 376.4,961.1 376.9,961.5 377.4,960.4 377.9,960 378.4,960.2 378.9,961.1 379.4,959.4 379.9,960.9 380.4,959.6 380.9,959.7 381.4,960.3 381.9,960.5 382.4,960.7 382.9,961 383.4,959.4 383.9,960.2 384.4,960.6 384.9,960.3 385.4,960.8 385.9,960.1 386.4,959.9 386.9,958.8 387.4,959 387.9,960.5 388.4,959.4 388.9,960.2 389.4,960.4 389.9,960 390.4,960.6 390.9,959.7" fill="none" stroke="#0000ff" stroke-width="1.7" stroke-linejoin="round"/>
<polyline points="148.4,960 148.9,959.5 149.4,958.7 149.9,958.4 150.4,959.5 150.9,960.6 151.4,960.3 151.9,959.9 152.4,960.1 152.9,960.2 153.4,959.5 153.9,960.4 154.4,959.8 154.9,959.3 155.4,961.9 155.9,960 156.4,959.6 156.9,960.1 157.4,958.9 157.9,958.9 158.4,960.8 158.9,960 159.4,959 159.9,958.7 160.4,959.6 160.9,959 161.4,960.4 161.9,958.5 162.4,960.3 162.9,959 163.4,958.9 163.9,959.6 164.4,958.9 164.9,959.3 165.4,959.3 165.9,958.2 166.4,958.9 166.9,959.8 167.4,958.4 167.9,958.8 168.4,959 168.9,960.1 169.4,960.1 169.9,960.5 170.4,959 170.9,960.1 171.4,959.7 171.9,958.8 172.4,959.9 172.9,959.6 173.4,959.2 173.9,958.9 174.4,958.6 174.9,959.9 175.4,959.9 175.9,959.4 176.4,959.4 176.9,959.5 177.4,960.9 177.9,961.5 178.4,961.8 178.9,964.8 179.4,967.5 179.9,969.8 180.4,973.3 180.9,977.2 181.4,982.2 181.9,986.1 182.4,991 182.9,995.8 183.4,1001.6 183.9,1004.8 184.4,1012.2 184.9,1015.3 185.4,1021.2 185.9,1026.2 186.4,1032.2 186.9,1037.9 187.4,1044.6 187.9,1049.5 188.4,1054.1 188.9,1060.4 189.4,1066.2 189.9,1071.6 190.4,1078.3 190.9,1083.1 191.4,1086.6 191.9,1089.5 192.4,1092.5 192.9,1093.1 193.4,1094.1 193.9,1093.2 194.4,1090.2 194.9,1087 195.4,1085.7 195.9,1082.7 196.4,1080 196.9,1077.7 197.4,1076.6 197.9,1073.3 198.4,1072.3 198.9,1069.4 199.4,1065.7 199.9,1064.9 200.4,1063.4 200.9,1059.4 201.4,1057.7 201.9,1056.4 202.4,1054.2 202.9,1053.7 203.4,1050.3 203.9,1050.1 204.4,1046.4 204.9,1045.1 205.4,1044.1 205.9,1042.5 206.4,1040.7 206.9,1040 207.4,1038.6 207.9,1037.2 208.4,1034.4 208.9,1033.6 209.4,1031.5 209.9,1031.1 210.4,1027.5 210.9,1027.2 211.4,1026.1 211.9,1024.7 212.4,1024.7 212.9,1021.7 213.4,1020.8 213.9,1019.4 214.4,1018.9 214.9,1017.3 215.4,1017.3 215.9,1016.2 216.4,1013.3 216.9,1012.3 217.4,1013.1 217.9,1011.8 218.4,1009.6 218.9,1009.6 219.4,1008 219.9,1008.3 220.4,1006.1 220.9,1005.7 221.4,1005.5 221.9,1004.4 222.4,1004.2 222.9,1003 223.4,1001 223.9,1001.3 224.4,999.7 224.9,1000.5 225.4,999.9 225.9,998.9 226.4,998.8 226.9,997.3 227.4,997.1 227.9,996.1 228.4,995.4 228.9,994.8 229.4,993.8 229.9,994.1 230.4,991.8 230.9,990.9 231.4,990.8 231.9,991.7 232.4,990 232.9,989.1 233.4,988.6 233.9,988.9 234.4,988.1 234.9,988.3 235.4,986.9 235.9,987.2 236.4,985.6 236.9,986 237.4,987.1 237.9,984.7 238.4,984.3 238.9,984.5 239.4,983 239.9,982.9 240.4,982.4 240.9,982.5 241.4,981.1 241.9,982.5 242.4,981.3 242.9,981 243.4,980.4 243.9,980.1 244.4,978.4 244.9,980.2 245.4,978.6 245.9,979.3 246.4,978.4 246.9,978.1 247.4,978.2 247.9,978.6 248.4,977.2 248.9,976.7 249.4,977 249.9,975 250.4,975.7 250.9,975.3 251.4,975.4 251.9,974.6 252.4,975.6 252.9,974.7 253.4,974.7 253.9,974.4 254.4,974 254.9,973.5 255.4,974.5 255.9,974 256.4,974.2 256.9,973 257.4,973 257.9,972.9 258.4,972.2 258.9,972.2 259.4,971.1 259.9,971.1 260.4,971.1 260.9,970.8 261.4,971.6 261.9,971.3 262.4,971.2 262.9,970.6 263.4,971.2 263.9,971 264.4,970.6 264.9,969.9 265.4,970.9 265.9,969.1 266.4,968.7 266.9,968.7 267.4,970.1 267.9,969.3 268.4,968.7 268.9,967.5 269.4,968.6 269.9,968 270.4,967.2 270.9,969 271.4,968.3 271.9,969 272.4,968 272.9,968.2 273.4,967.3 273.9,968 274.4,967.3 274.9,967.8 275.4,967.4 275.9,966.5 276.4,967.1 276.9,967.1 277.4,966.4 277.9,966.7 278.4,967.2 278.9,967.3 279.4,966.5 279.9,965 280.4,966.7 280.9,967.3 281.4,965.9 281.9,965.5 282.4,966.1 282.9,965.9 283.4,966.3 283.9,965.3 284.4,966.6 284.9,966 285.4,964.8 285.9,965.9 286.4,965.2 286.9,965.6 287.4,965.3 287.9,965 288.4,965.1 288.9,964.6 289.4,964.4 289.9,964.6 290.4,964.5 290.9,964.8 291.4,964.6 291.9,963.5 292.4,964.9 292.9,964.3 293.4,964.8 293.9,964.6 294.4,964.3 294.9,964.4 295.4,963.2 295.9,964.9 296.4,965.1 296.9,964.2 297.4,963.5 297.9,964.2 298.4,963.5 298.9,964.6 299.4,963.3 299.9,962.8 300.4,963 300.9,963 301.4,963.8 301.9,963.3 302.4,963.4 302.9,963 303.4,964 303.9,963.1 304.4,963.2 304.9,964 305.4,963.2 305.9,962.6 306.4,962.8 306.9,963.6 307.4,963.1 307.9,962.3 308.4,963.5 308.9,961.8 309.4,961.4 309.9,962 310.4,961.5 310.9,962.4 311.4,962.5 311.9,962.3 312.4,962.1 312.9,961.8 313.4,962.9 313.9,961.2 314.4,962.7 314.9,962.4 315.4,962.2 315.9,962.5 316.4,961.2 316.9,962.7 317.4,962.4 317.9,962.7 318.4,960.8 318.9,962.2 319.4,961.9 319.9,960.6 320.4,961.7 320.9,961.9 321.4,961.4 321.9,962.1 322.4,962.2 322.9,961.5 323.4,961.6 323.9,962.2 324.4,961.1 324.9,962 325.4,962.5 325.9,961.6 326.4,961.8 326.9,961.6 327.4,962.1 327.9,960.6 328.4,960.5 328.9,961 329.4,961.1 329.9,962 330.4,962.2 330.9,961.7 331.4,962.1 331.9,961.1 332.4,961 332.9,960.4 333.4,962 333.9,961.6 334.4,961.2 334.9,960.4 335.4,960.6 335.9,961.5 336.4,961.2 336.9,961.8 337.4,961.2 337.9,960.7 338.4,960.4 338.9,961.1 339.4,962 339.9,962.2 340.4,960.6 340.9,961.3 341.4,960.6 341.9,961.1 342.4,959.3 342.9,960.6 343.4,959.8 343.9,961.8 344.4,960.7 344.9,961.2 345.4,960.9 345.9,960 346.4,961.2 346.9,961.5 347.4,960.9 347.9,961.1 348.4,961.4 348.9,961.1 349.4,960.7 349.9,959.8 350.4,960.2 350.9,960.3 351.4,961.2 351.9,961.5 352.4,960.7 352.9,961.3 353.4,959.2 353.9,960.8 354.4,959.9 354.9,961.2 355.4,961.4 355.9,961.3 356.4,961.1 356.9,961.3 357.4,961.7 357.9,960.3 358.4,961.5 358.9,960.4 359.4,959.7 359.9,960.9 360.4,961 360.9,960.7 361.4,960.1 361.9,960.9 362.4,960.4 362.9,962 363.4,960.7 363.9,960.7 364.4,960.1 364.9,960.8 365.4,961.4 365.9,960 366.4,960.2 366.9,959.3 367.4,960.4 367.9,961.4 368.4,959.7 368.9,960.1 369.4,959.9 369.9,960.2 370.4,959.9 370.9,960.1 371.4,959.6 371.9,960.4 372.4,960.9 372.9,960.7 373.4,959.2 373.9,961.1 374.4,960.7 374.9,960.9 375.4,959.7 375.9,959.9 376.4,960.6 376.9,961.3 377.4,959.7 377.9,960.4 378.4,960.5 378.9,960 379.4,960.4 379.9,959.9 380.4,961 380.9,959.2 381.4,960.4 381.9,959.9 382.4,960.1 382.9,959.6 383.4,958.4 383.9,961 384.4,960.6 384.9,960.4 385.4,960.1 385.9,960.3 386.4,959.9 386.9,960.2 387.4,960.9 387.9,959.7 388.4,959.6 388.9,961.2 389.4,959.8 389.9,960.2 390.4,960 390.9,960.4" fill="none" stroke="#0000ff" stroke-width="1.7" stroke-linejoin="round"/>
<polyline points="148.4,960 148.9,959.7 149.4,959.1 149.9,959.1 150.4,959.7 150.9,960.7 151.4,958.6 151.9,959.6 152.4,959.9 152.9,959.3 153.4,959.8 153.9,959.6 154.4,960.1 154.9,960.6 155.4,959.4 155.9,959.8 156.4,959.9 156.9,959.7 157.4,959.6 157.9,958.4 158.4,959.7 158.9,959 159.4,959.4 159.9,959.9 160.4,960 160.9,959.4 161.4,959.3 161.9,959.5 162.4,959 162.9,960.5 163.4,960.7 163.9,959.5 164.4,960.6 164.9,960.1 165.4,959 165.9,960.2 166.4,960 166.9,959.7 167.4,958.7 167.9,959.3 168.4,958.2 168.9,959.6 169.4,959.4 169.9,958.9 170.4,958.9 170.9,960.4 171.4,958.7 171.9,960 172.4,959.7 172.9,960.3 173.4,958.6 173.9,959.7 174.4,960.4 174.9,959.5 175.4,958.8 175.9,958.4 176.4,959.2 176.9,960.5 177.4,961.4 177.9,961.6 178.4,963.6 178.9,965.8 179.4,968.1 179.9,970.4 180.4,975 180.9,978.2 181.4,983.5 181.9,988.7 182.4,993.8 182.9,998.2 183.4,1004.2 183.9,1009.8 184.4,1014.9 184.9,1019.9 185.4,1025.7 185.9,1031.3 186.4,1037.1 186.9,1043.4 187.4,1049.6 187.9,1055 188.4,1061.5 188.9,1067.4 189.4,1073.5 189.9,1079.1 190.4,1086.3 190.9,1091.3 191.4,1095.9 191.9,1099.6 192.4,1101.7 192.9,1102.9 193.4,1102.4 193.9,1101 194.4,1099.9 194.9,1097.4 195.4,1094.8 195.9,1092.8 196.4,1089.5 196.9,1087.6 197.4,1084 197.9,1081.2 198.4,1079.9 198.9,1076.4 199.4,1073.8 199.9,1072.1 200.4,1070.5 200.9,1068.8 201.4,1066 201.9,1064.4 202.4,1061.9 202.9,1058.9 203.4,1057.3 203.9,1055.1 204.4,1054.1 204.9,1051.1 205.4,1049.7 205.9,1048.3 206.4,1047.6 206.9,1045.7 207.4,1043.5 207.9,1042.3 208.4,1040.4 208.9,1040.7 209.4,1036.5 209.9,1034.8 210.4,1033.5 210.9,1032.3 211.4,1031.6 211.9,1031 212.4,1028.9 212.9,1027.6 213.4,1026.4 213.9,1025.3 214.4,1023.5 214.9,1023.2 215.4,1021.6 215.9,1020.6 216.4,1019.7 216.9,1018.6 217.4,1017.6 217.9,1015.6 218.4,1015.3 218.9,1013.1 219.4,1011.8 219.9,1011.8 220.4,1011.3 220.9,1010.4 221.4,1009.4 221.9,1008.8 222.4,1006.4 222.9,1006.2 223.4,1005.6 223.9,1004.4 224.4,1004.2 224.9,1003.6 225.4,1002.7 225.9,1001.8 226.4,1002.3 226.9,1000.3 227.4,999.5 227.9,999.5 228.4,999.2 228.9,996.9 229.4,996.2 229.9,996.9 230.4,996.1 230.9,995.3 231.4,994.1 231.9,994 232.4,992.2 232.9,991.8 233.4,992.8 233.9,990.6 234.4,990.7 234.9,990.6 235.4,989.9 235.9,988.5 236.4,988.3 236.9,988.5 237.4,987.4 237.9,988.2 238.4,986.6 238.9,987.3 239.4,985.8 239.9,986.1 240.4,985.2 240.9,984.5 241.4,983.3 241.9,984 242.4,983.3 242.9,983.1 243.4,982.2 243.9,981.6 244.4,981.2 244.9,981.3 245.4,981.5 245.9,980.4 246.4,979.6 246.9,979.5 247.4,978.9 247.9,978.3 248.4,978.7 248.9,978.3 249.4,978.1 249.9,979.1 250.4,978.3 250.9,978.3 251.4,977.2 251.9,977 252.4,976.1 252.9,975.3 253.4,975.1 253.9,975.6 254.4,975.8 254.9,976.6 255.4,975 255.9,973.9 256.4,974.3 256.9,974.6 257.4,973.4 257.9,973.6 258.4,973.9 258.9,973.5 259.4,973.5 259.9,973 260.4,972.8 260.9,973.4 261.4,972.9 261.9,972.4 262.4,972.3 262.9,971.8 263.4,971.6 263.9,971.7 264.4,971.4 264.9,972.6 265.4,971.1 265.9,971 266.4,971.8 266.9,969.9 267.4,970.3 267.9,970.9 268.4,970.1 268.9,969.8 269.4,969.2 269.9,969.5 270.4,969 270.9,969.8 271.4,969.4 271.9,968.8 272.4,969.5 272.9,968.1 273.4,968 273.9,968.8 274.4,968.4 274.9,967.5 275.4,967.6 275.9,967.8 276.4,967.4 276.9,967.8 277.4,967.5 277.9,967.7 278.4,967.3 278.9,967.4 279.4,966.9 279.9,967.2 280.4,967.1 280.9,967.2 281.4,966.9 281.9,966.4 282.4,966.5 282.9,967.2 283.4,966.1 283.9,966.2 284.4,967 284.9,966.4 285.4,966.3 285.9,965.3 286.4,965.2 286.9,965.8 287.4,966.8 287.9,964.5 288.4,964.4 288.9,965.7 289.4,965.4 289.9,964.6 290.4,965.6 290.9,965.1 291.4,964.7 291.9,964.8 292.4,964.5 292.9,964.9 293.4,964.3 293.9,963.9 294.4,964.1 294.9,964.7 295.4,965.1 295.9,964 296.4,963.7 296.9,964.4 297.4,964.8 297.9,963.9 298.4,964.9 298.9,963.5 299.4,964.7 299.9,964.3 300.4,962.8 300.9,964 301.4,963.6 301.9,963.5 302.4,963.2 302.9,963.5 303.4,963.1 303.9,963.5 304.4,964 304.9,964.1 305.4,963.9 305.9,963.7 306.4,963.4 306.9,963 307.4,962.4 307.9,963.6 308.4,962.7 308.9,963.1 309.4,962.1 309.9,963.1 310.4,963.6 310.9,962.7 311.4,963.3 311.9,962.6 312.4,962.8 312.9,962.4 313.4,961 313.9,962.8 314.4,962.8 314.9,962.8 315.4,963.4 315.9,962.9 316.4,962.6 316.9,962 317.4,964 317.9,961.5 318.4,962 318.9,961.9 319.4,962.8 319.9,962.3 320.4,962.4 320.9,961.1 321.4,961.7 321.9,962.6 322.4,961.7 322.9,961.2 323.4,962 323.9,961.6 324.4,961.9 324.9,962.1 325.4,961.2 325.9,961.8 326.4,962.5 326.9,961.6 327.4,961.6 327.9,961.4 328.4,961.9 328.9,961.9 329.4,961.1 329.9,961.7 330.4,962.5 330.9,960.6 331.4,962.1 331.9,962 332.4,960.6 332.9,960.5 333.4,961.1 333.9,962.2 334.4,961 334.9,961.4 335.4,961.4 335.9,961.3 336.4,962.5 336.9,961.4 337.4,960.6 337.9,961.4 338.4,961.6 338.9,960.6 339.4,961.3 339.9,960.8 340.4,960.4 340.9,960.6 341.4,961.6 341.9,961 342.4,960.1 342.9,961.5 343.4,960.8 343.9,959.3 344.4,960.4 344.9,959.6 345.4,960.6 345.9,962.6 346.4,962.1 346.9,961.1 347.4,960.4 347.9,960.2 348.4,960.4 348.9,961 349.4,961.6 349.9,960.9 350.4,961.5 350.9,960.7 351.4,959.6 351.9,961 352.4,961.4 352.9,961.1 353.4,961.4 353.9,960.2 354.4,960.5 354.9,960.7 355.4,960.9 355.9,961 356.4,961.2 356.9,960.4 357.4,960 357.9,960.4 358.4,960.5 358.9,960.3 359.4,960 359.9,961.1 360.4,961.1 360.9,961.1 361.4,961 361.9,960.8 362.4,960.3 362.9,960.3 363.4,960.7 363.9,959.4 364.4,960.6 364.9,959.3 365.4,961.5 365.9,960.8 366.4,960.1 366.9,960.4 367.4,960.1 367.9,961.3 368.4,961.1 368.9,960.5 369.4,960.1 369.9,960.7 370.4,960.5 370.9,960.3 371.4,960.1 371.9,959.4 372.4,959.5 372.9,959.9 373.4,959.4 373.9,959.8 374.4,961.4 374.9,960.3 375.4,960.7 375.9,959.9 376.4,961.1 376.9,960.3 377.4,960.7 377.9,960.9 378.4,960.5 378.9,961.4 379.4,959.7 379.9,960 380.4,960.5 380.9,960.2 381.4,960.5 381.9,961.5 382.4,960 382.9,960.3 383.4,959.9 383.9,959.7 384.4,959 384.9,960.4 385.4,961 385.9,960.2 386.4,960.9 386.9,959.4 387.4,960 387.9,960 388.4,960.5 388.9,960.1 389.4,960.4 389.9,961 390.4,959.4 390.9,960" fill="none" stroke="#0000ff" stroke-width="1.7" stroke-linejoin="round"/>
<polyline points="148.4,960.4 148.8,958.3 149.2,960.4 149.6,956.1 150,957.6 150.4,959.1 150.8,955.9 151.2,964 151.6,963.4 152,962.2 152.4,961.3 152.8,961.5 153.2,959.1 153.6,959.2 154,955.5 154.4,961.5 154.8,959.2 155.2,955.6 155.6,957.9 156,960.6 156.4,956.3 156.8,958.5 157.2,955.2 157.6,958.6 158,959.4 158.4,954.7 158.8,958 159.2,960.5 159.6,958.8 160,962.6 160.4,961.3 160.8,961.9 161.2,957 161.6,957.6 162,960.2 162.4,960.6 162.8,958.5 163.2,959.1 163.6,957.6 164,958.6 164.4,960.4 164.8,962.5 165.2,960.7 165.6,961.4 166,959.7 166.4,960.6 166.8,961.6 167.2,957.7 167.6,961.6 168,960.8 168.4,961.7 168.8,960.5 169.2,958.2 169.6,958.7 170,959.7 170.4,954.4 170.8,957.9 171.2,958.3 171.6,958.5 172,957.5 172.4,957.4 172.8,959 173.2,958.3 173.6,962.2 174,959.5 174.4,959.4 174.8,961.2 175.2,959.4 175.6,959.5 176,960.8 176.4,960.6 176.8,959.4 177.2,958.2 177.6,959 178,960.1 178.4,957.9 178.8,959.3 179.2,959.5 179.6,958.1 180,960.8 180.4,959.3 180.8,958 181.2,958.6 181.6,960 182,961 182.4,959.9 182.8,959.8 183.2,959.4 183.6,961.2 184,960.9 184.4,958 184.8,959.6 185.2,960.2 185.6,959.4 186,960 186.4,960.3 186.8,958.7 187.2,960.9 187.6,959.7 188,960.7 188.4,959.9 188.8,959.5 189.2,961 189.6,960 190,961.2 190.4,960.2 190.8,961.8 191.2,958.8 191.6,959.7 192,958.8 192.4,958.5 192.8,959.8 193.2,958.1 193.6,959.5 194,960.9 194.4,960.1 194.8,959.1 195.2,959.3 195.6,960.3 196,961.2 196.4,959.3 196.8,959.7 197.2,960.1 197.6,959.4 198,960 198.4,959.9 198.8,960.9 199.2,959 199.6,959.7 200,959.9 200.4,958.9 200.8,959.3 201.2,959.6 201.6,958.1 202,959.1 202.4,958.5 202.8,959.1 203.2,958.9 203.6,959.1 204,960.3 204.4,960.8 204.8,960.4 205.2,958.8 205.6,959.9 206,958.3 206.4,960.2 206.8,960.3 207.2,959.2 207.6,959.6 208,960.4 208.4,960.3 208.8,959 209.2,958.8 209.6,957.9 210,959.2 210.4,959 210.8,959.6 211.2,960.1 211.6,958.2 212,958.8 212.4,959.2 212.8,958 213.2,959.4 213.6,959.1 214,959.9 214.4,960.2 214.8,960.3 215.2,959.3 215.6,959.8 216,959.8 216.4,960.6 216.8,957.7 217.2,959.3 217.6,958.8 218,959.7 218.4,960.6 218.8,959.8 219.2,959.7 219.6,958.9 220,959.9 220.4,959.8 220.8,958.6 221.2,960.2 221.6,959.1 222,957.4 222.4,959.4 222.8,960.1 223.2,960 223.6,959.7 224,959.5 224.4,960.2 224.8,960.1 225.2,957.7 225.6,958.8 226,959.6 226.4,959.5 226.8,960.4 227.2,960.6 227.6,959.7 228,959.2 228.4,961.3 228.8,958.7 229.2,959.5 229.6,961.6 230,960.2 230.4,960.2 230.8,959.6 231.2,960.8 231.6,962.5 232,959.9 232.4,959.3 232.8,960.7 233.2,961.5 233.6,959.9 234,958.8 234.4,959.9 234.8,958.8 235.2,960.5 235.6,959.4 236,960.1 236.4,959.7 236.8,960.4 237.2,957.6 237.6,959.9 238,959.8 238.4,959.9 238.8,958.1 239.2,960.9 239.6,958.9 240,960 240.4,959.1 240.8,959.4 241.2,959.1 241.6,958 242,958.9 242.4,960.9 242.8,958.4 243.2,959.7 243.6,957.8 244,960.7 244.4,958.2 244.8,958.4 245.2,959.4 245.6,960.1 246,958.3 246.4,959.5 246.8,960.1 247.2,959.6 247.6,958.8 248,960 248.4,960.7 248.8,961.9 249.2,960.9 249.6,957.9 250,960.9 250.4,960.6 250.8,959.9 251.2,960.3 251.6,960.7 252,959.3 252.4,958.4 252.8,959.3 253.2,960.3 253.6,959 254,959 254.4,958.3 254.8,960.1 255.2,958.5 255.6,959.4 256,958.9 256.4,960.9 256.8,960.6 257.2,961.9 257.6,958.9 258,958.6 258.4,959.9 258.8,958.2 259.2,959.1 259.6,960.3 260,959.7 260.4,960.5 260.8,958.9 261.2,959.1 261.6,959.5 262,960.5 262.4,960.7 262.8,960.8 263.2,959.7 263.6,958.9 264,959.2 264.4,959.6 264.8,958.1 265.2,958.7 265.6,957.9 266,959.9 266.4,959.8 266.8,958.7 267.2,960.6 267.6,959.7 268,959.5 268.4,960.3 268.8,960 269.2,958.5 269.6,958.9 270,958.2 270.4,960.2 270.8,959.5 271.2,960.5 271.6,958.9 272,958.4 272.4,960.7 272.8,960.5 273.2,958.1 273.6,960.7 274,958.9 274.4,961.1 274.8,960.1 275.2,959 275.6,959.4 276,959.4 276.4,956.6 276.8,960.3 277.2,959.3 277.6,960.4 278,956.8 278.4,960.3 278.8,959.6 279.2,958.5 279.6,961.6 280,960.4 280.4,958.7 280.8,958.8 281.2,960.2 281.6,961.4 282,960.1 282.4,959.2 282.8,961.4 283.2,959 283.6,961 284,960.3 284.4,959.5 284.8,959 285.2,959 285.6,959.6 286,961 286.4,959.6 286.8,958.7 287.2,961 287.6,960.7 288,959.7 288.4,960.9 288.8,959.8 289.2,961.5 289.6,959.5 290,958.9 290.4,959.2 290.8,959.8 291.2,959.8 291.6,959.1 292,959.1 292.4,958.3 292.8,959.1 293.2,961.3 293.6,959.4 294,958.6 294.4,958.9 294.8,958.8 295.2,959.5 295.6,958.8 296,960.8 296.4,958.8 296.8,959.3 297.2,961.1 297.6,959.6 298,960.9 298.4,959.4 298.8,960.4 299.2,961.8 299.6,958.7 300,960.1 300.4,958.5 300.8,959.6 301.2,958.9 301.6,959.7 302,958.4 302.4,957.5 302.8,960.2 303.2,959.7 303.6,960.9 304,959.8 304.4,959.7 304.8,958.7 305.2,958.2 305.6,959.7 306,958.4 306.4,961 306.8,961 307.2,960.1 307.6,960.8 308,959.5 308.4,959.1 308.8,962.1 309.2,959.4 309.6,960.9 310,958.8 310.4,960 310.8,960.5 311.2,957.9 311.6,958.1 312,958.9 312.4,959.2 312.8,959.7 313.2,958.8 313.6,958.8 314,958.5 314.4,958.5 314.8,960 315.2,959.1 315.6,958.5 316,958.4 316.4,958.8 316.8,957.9 317.2,959.8 317.6,960 318,958.2 318.4,959 318.8,959.2 319.2,960.4 319.6,958.8 320,959.2 320.4,958.5 320.8,958.6 321.2,958.9 321.6,962.9 322,960.7 322.4,960 322.8,959.9 323.2,958 323.6,958.6 324,960.4 324.4,959.6 324.8,960.7 325.2,959.6 325.6,960.2 326,959.7 326.4,960.1 326.8,960 327.2,960.7 327.6,959.1 328,959.4 328.4,958.9 328.8,959.6 329.2,960.1 329.6,959.7 330,957.6 330.4,958.9 330.8,959 331.2,959.3 331.6,958.9 332,959.2 332.4,960.5 332.8,960.2 333.2,961.1 333.6,957.9 334,958.5 334.4,958.3 334.8,960.6 335.2,960.3 335.6,959 336,959 336.4,959.9 336.8,960.9 337.2,961.2 337.6,958.9 338,960.5 338.4,959.4 338.8,961.2 339.2,962.3 339.6,960.2 340,960.2 340.4,957 340.8,960.2 341.2,957.8 341.6,959 342,960.5 342.4,958 342.8,962 343.2,959 343.6,960.4 344,959 344.4,960.3 344.8,959 345.2,959.5 345.6,957.2 346,960.6 346.4,960.3 346.8,959.2 347.2,959.3 347.6,958.5 348,958.8 348.4,959.8 348.8,959.9 349.2,960.4 349.6,960.8 350,960.6 350.4,960 350.8,960 351.2,959.4 351.6,960.9 352,958.8 352.4,958.8 352.8,960 353.2,958.1 353.6,959.3 354,958 354.4,958.7 354.8,963.2 355.2,957.9 355.6,960.6 356,959 356.4,958.4 356.8,958.1 357.2,960.2 357.6,959.2 358,959.6 358.4,961.3 358.8,958.2 359.2,957.4 359.6,959.7 360,961 360.4,959.8 360.8,961 361.2,960.8 361.6,960 362,958.8 362.4,959.8 362.8,960.8 363.2,960.1 363.6,959.6 364,960 364.4,959.6 364.8,960.5 365.2,959.4 365.6,961.3 366,960 366.4,959.8 366.8,957.8 367.2,957.4 367.6,959.4 368,959.2 368.4,961.6 368.8,958.9 369.2,958.6 369.6,960.4 370,957.5 370.4,959.7 370.8,958.3 371.2,956.7 371.6,957.7 372,959.4 372.4,959.6 372.8,959.3 373.2,958.6 373.6,959.6 374,959.9 374.4,959.6 374.8,961.3 375.2,960.6 375.6,958.6 376,958.9 376.4,958.6 376.8,959.7 377.2,960.6 377.6,961.2 378,959.7 378.4,958.9 378.8,958.5 379.2,957.9 379.6,961.4 380,959.2 380.4,959 380.8,961.5 381.2,958.9 381.6,959.5 382,960 382.4,957.7 382.8,958.2 383.2,962.9 383.6,960 384,957.6 384.4,959 384.8,959.5 385.2,960.2 385.6,959.5 386,958.4 386.4,959.6 386.8,960.7 387.2,959 387.6,958.4 388,958.5 388.4,957.2 388.8,960.9 389.2,959.9 389.6,959.5 390,959.8 390.4,960.9 390.8,959.2" fill="none" stroke="#0000ff" stroke-width="1.6" stroke-linejoin="round"/>
<rect x="148.4" y="954.6" width="27" height="10.2" fill="#0000ff" stroke="none" stroke-width="0"/>
<line x1="173.8" y1="946.9" x2="173.8" y2="1048.5" stroke="#0000ff" stroke-width="2.2"/>
<path d="M345.6,1002.8 L345.6,1054.3 L393.9,1054.3" fill="none" stroke="#000" stroke-width="3.6" stroke-linejoin="miter"/>
<text x="333.3" y="1083.2" font-size="30.3" font-weight="bold" fill="#000" text-anchor="start" transform="rotate(-90 333.3 1083.2)">100 pA</text>
<text x="340.9" y="1086.3" font-size="30.6" font-weight="bold" fill="#000" text-anchor="start">25 ms</text>
<text x="451.5" y="842.5" font-size="34" font-weight="bold" fill="#000" text-anchor="start">F</text>
<text x="636" y="803" font-size="41.2" font-weight="bold" fill="#231815" text-anchor="start" font-style="italic">AMPAR eEPSCs</text>
<line x1="582.1" y1="1145.8" x2="582.1" y2="862" stroke="#000" stroke-width="3.5" stroke-linecap="butt"/>
<line x1="569.1" y1="1144.1" x2="582.1" y2="1144.1" stroke="#000" stroke-width="3.5"/>
<text x="563.4" y="1153.7" font-size="30" font-weight="bold" fill="#000" text-anchor="end">0</text>
<line x1="569.1" y1="1050.4" x2="582.1" y2="1050.4" stroke="#000" stroke-width="3.5"/>
<text x="563.5" y="1060" font-size="30" font-weight="bold" fill="#000" text-anchor="end">200</text>
<line x1="569.1" y1="956.8" x2="582.1" y2="956.8" stroke="#000" stroke-width="3.5"/>
<text x="563.5" y="966.4" font-size="30" font-weight="bold" fill="#000" text-anchor="end">400</text>
<line x1="569.1" y1="863.1" x2="582.1" y2="863.1" stroke="#000" stroke-width="3.5"/>
<text x="563.5" y="872.7" font-size="30" font-weight="bold" fill="#000" text-anchor="end">600</text>
<line x1="569.1" y1="1097.3" x2="582.1" y2="1097.3" stroke="#000" stroke-width="3.5"/>
<line x1="569.1" y1="1003.6" x2="582.1" y2="1003.6" stroke="#000" stroke-width="3.5"/>
<line x1="569.1" y1="909.9" x2="582.1" y2="909.9" stroke="#000" stroke-width="3.5"/>
<line x1="570.4" y1="1144.1" x2="839" y2="1144.1" stroke="#000" stroke-width="3.5"/>
<line x1="582.1" y1="1144.1" x2="582.1" y2="1157.1" stroke="#000" stroke-width="3.5"/>
<text x="582.1" y="1183.9" font-size="30" font-weight="bold" fill="#000" text-anchor="middle">0.0</text>
<line x1="642.6" y1="1144.1" x2="642.6" y2="1157.1" stroke="#000" stroke-width="3.5"/>
<text x="642.6" y="1183.9" font-size="30" font-weight="bold" fill="#000" text-anchor="middle">0.1</text>
<line x1="703.1" y1="1144.1" x2="703.1" y2="1157.1" stroke="#000" stroke-width="3.5"/>
<text x="703.1" y="1183.9" font-size="30" font-weight="bold" fill="#000" text-anchor="middle">0.2</text>
<line x1="763.7" y1="1144.1" x2="763.7" y2="1157.1" stroke="#000" stroke-width="3.5"/>
<text x="763.7" y="1183.9" font-size="30" font-weight="bold" fill="#000" text-anchor="middle">0.3</text>
<line x1="824.2" y1="1144.1" x2="824.2" y2="1157.1" stroke="#000" stroke-width="3.5"/>
<text x="824.2" y="1183.9" font-size="30" font-weight="bold" fill="#000" text-anchor="middle">0.4</text>
<text x="494.5" y="1114.5" font-size="30.2" font-weight="bold" fill="#000" text-anchor="start" transform="rotate(-90 494.5 1114.5)">Amplitude (pA)</text>
<text x="528.5" y="1220.3" font-size="30.2" font-weight="bold" fill="#000" text-anchor="start">Stimulus intensity (mA)</text>
<polyline points="612.4,1133.8 642.6,1113.2 672.9,1084.2 703.1,1060.7 733.4,1035.5 763.7,1006 793.9,990.5 824.2,956.8" fill="none" stroke="#333" stroke-width="3.3" stroke-linejoin="round"/>
<circle cx="612.4" cy="1133.8" r="7.3" fill="#333" stroke="none" stroke-width="0"/>
<line x1="642.6" y1="1107.2" x2="642.6" y2="1119.2" stroke="#333" stroke-width="3.4"/>
<line x1="636.6" y1="1107.2" x2="648.6" y2="1107.2" stroke="#333" stroke-width="3.4" stroke-linecap="round"/>
<line x1="636.6" y1="1119.2" x2="648.6" y2="1119.2" stroke="#333" stroke-width="3.4" stroke-linecap="round"/>
<circle cx="642.6" cy="1113.2" r="7.3" fill="#333" stroke="none" stroke-width="0"/>
<line x1="672.9" y1="1072" x2="672.9" y2="1096.4" stroke="#333" stroke-width="3.4"/>
<line x1="666.9" y1="1072" x2="678.9" y2="1072" stroke="#333" stroke-width="3.4" stroke-linecap="round"/>
<line x1="666.9" y1="1096.4" x2="678.9" y2="1096.4" stroke="#333" stroke-width="3.4" stroke-linecap="round"/>
<circle cx="672.9" cy="1084.2" r="7.3" fill="#333" stroke="none" stroke-width="0"/>
<line x1="703.1" y1="1047.1" x2="703.1" y2="1074.3" stroke="#333" stroke-width="3.4"/>
<line x1="697.1" y1="1047.1" x2="709.1" y2="1047.1" stroke="#333" stroke-width="3.4" stroke-linecap="round"/>
<line x1="697.1" y1="1074.3" x2="709.1" y2="1074.3" stroke="#333" stroke-width="3.4" stroke-linecap="round"/>
<circle cx="703.1" cy="1060.7" r="7.3" fill="#333" stroke="none" stroke-width="0"/>
<line x1="733.4" y1="1019.8" x2="733.4" y2="1051.2" stroke="#333" stroke-width="3.4"/>
<line x1="727.4" y1="1019.8" x2="739.4" y2="1019.8" stroke="#333" stroke-width="3.4" stroke-linecap="round"/>
<line x1="727.4" y1="1051.2" x2="739.4" y2="1051.2" stroke="#333" stroke-width="3.4" stroke-linecap="round"/>
<circle cx="733.4" cy="1035.5" r="7.3" fill="#333" stroke="none" stroke-width="0"/>
<line x1="763.7" y1="980" x2="763.7" y2="1032" stroke="#333" stroke-width="3.4"/>
<line x1="757.7" y1="980" x2="769.7" y2="980" stroke="#333" stroke-width="3.4" stroke-linecap="round"/>
<line x1="757.7" y1="1032" x2="769.7" y2="1032" stroke="#333" stroke-width="3.4" stroke-linecap="round"/>
<circle cx="763.7" cy="1006" r="7.3" fill="#333" stroke="none" stroke-width="0"/>
<line x1="793.9" y1="963" x2="793.9" y2="1018" stroke="#333" stroke-width="3.4"/>
<line x1="787.9" y1="963" x2="799.9" y2="963" stroke="#333" stroke-width="3.4" stroke-linecap="round"/>
<line x1="787.9" y1="1018" x2="799.9" y2="1018" stroke="#333" stroke-width="3.4" stroke-linecap="round"/>
<circle cx="793.9" cy="990.5" r="7.3" fill="#333" stroke="none" stroke-width="0"/>
<line x1="824.2" y1="928.8" x2="824.2" y2="984.8" stroke="#333" stroke-width="3.4"/>
<line x1="818.2" y1="928.8" x2="830.2" y2="928.8" stroke="#333" stroke-width="3.4" stroke-linecap="round"/>
<line x1="818.2" y1="984.8" x2="830.2" y2="984.8" stroke="#333" stroke-width="3.4" stroke-linecap="round"/>
<circle cx="824.2" cy="956.8" r="7.3" fill="#333" stroke="none" stroke-width="0"/>
<polyline points="612.4,1138.9 642.6,1131.5 672.9,1116 703.1,1103.8 733.4,1079.9 763.7,1065.4 793.9,1050.9 824.2,1046.7" fill="none" stroke="#0000ff" stroke-width="3.3" stroke-linejoin="round"/>
<circle cx="612.4" cy="1138.9" r="7.3" fill="#0000ff" stroke="none" stroke-width="0"/>
<circle cx="642.6" cy="1131.5" r="7.3" fill="#0000ff" stroke="none" stroke-width="0"/>
<circle cx="672.9" cy="1116" r="7.3" fill="#0000ff" stroke="none" stroke-width="0"/>
<line x1="703.1" y1="1096.8" x2="703.1" y2="1110.8" stroke="#0000ff" stroke-width="3.4"/>
<line x1="697.1" y1="1096.8" x2="709.1" y2="1096.8" stroke="#0000ff" stroke-width="3.4" stroke-linecap="round"/>
<line x1="697.1" y1="1110.8" x2="709.1" y2="1110.8" stroke="#0000ff" stroke-width="3.4" stroke-linecap="round"/>
<circle cx="703.1" cy="1103.8" r="7.3" fill="#0000ff" stroke="none" stroke-width="0"/>
<line x1="733.4" y1="1068.4" x2="733.4" y2="1091.4" stroke="#0000ff" stroke-width="3.4"/>
<line x1="727.4" y1="1068.4" x2="739.4" y2="1068.4" stroke="#0000ff" stroke-width="3.4" stroke-linecap="round"/>
<line x1="727.4" y1="1091.4" x2="739.4" y2="1091.4" stroke="#0000ff" stroke-width="3.4" stroke-linecap="round"/>
<circle cx="733.4" cy="1079.9" r="7.3" fill="#0000ff" stroke="none" stroke-width="0"/>
<line x1="763.7" y1="1052.4" x2="763.7" y2="1078.4" stroke="#0000ff" stroke-width="3.4"/>
<line x1="757.7" y1="1052.4" x2="769.7" y2="1052.4" stroke="#0000ff" stroke-width="3.4" stroke-linecap="round"/>
<line x1="757.7" y1="1078.4" x2="769.7" y2="1078.4" stroke="#0000ff" stroke-width="3.4" stroke-linecap="round"/>
<circle cx="763.7" cy="1065.4" r="7.3" fill="#0000ff" stroke="none" stroke-width="0"/>
<line x1="793.9" y1="1035.1" x2="793.9" y2="1066.7" stroke="#0000ff" stroke-width="3.4"/>
<line x1="787.9" y1="1035.1" x2="799.9" y2="1035.1" stroke="#0000ff" stroke-width="3.4" stroke-linecap="round"/>
<line x1="787.9" y1="1066.7" x2="799.9" y2="1066.7" stroke="#0000ff" stroke-width="3.4" stroke-linecap="round"/>
<circle cx="793.9" cy="1050.9" r="7.3" fill="#0000ff" stroke="none" stroke-width="0"/>
<line x1="824.2" y1="1029.5" x2="824.2" y2="1063.9" stroke="#0000ff" stroke-width="3.4"/>
<line x1="818.2" y1="1029.5" x2="830.2" y2="1029.5" stroke="#0000ff" stroke-width="3.4" stroke-linecap="round"/>
<line x1="818.2" y1="1063.9" x2="830.2" y2="1063.9" stroke="#0000ff" stroke-width="3.4" stroke-linecap="round"/>
<circle cx="824.2" cy="1046.7" r="7.3" fill="#0000ff" stroke="none" stroke-width="0"/>
<line x1="598.8" y1="871.2" x2="636.5" y2="871.2" stroke="#333" stroke-width="3" stroke-linecap="round"/>
<circle cx="617.9" cy="871.2" r="8.3" fill="#333" stroke="none" stroke-width="0"/>
<text x="645.2" y="878.7" font-size="30" font-weight="bold" font-style="italic" fill="#231815">Cyld<tspan font-size="20" dx="2.3" dy="-13.8">+/+</tspan></text>
<line x1="598.8" y1="913.2" x2="636.5" y2="913.2" stroke="#0000ff" stroke-width="4" stroke-linecap="round"/>
<circle cx="617.9" cy="913.2" r="8.3" fill="#0000ff" stroke="none" stroke-width="0"/>
<text x="644.2" y="924.2" font-size="30" font-weight="bold" font-style="italic" fill="#231815">Cyld<tspan font-size="20" dx="2.3" dy="-13.8">-/-</tspan></text>
<line x1="837.9" y1="960.7" x2="837.9" y2="1033.4" stroke="#000" stroke-width="3.5"/>
<text x="846.7" y="1013.6" font-size="66" font-weight="bold" fill="#000" text-anchor="start">*</text>
<text x="846.7" y="1046.4" font-size="66" font-weight="bold" fill="#000" text-anchor="start">*</text>
<text x="876.1" y="843.3" font-size="34" font-weight="bold" fill="#000" text-anchor="start">G</text>
<polyline points="904,906.9 904.6,906.9 905.2,906.9 905.8,907.1 906.4,907.1 907,907 907.6,907.1 908.2,907.1 908.8,907 909.4,907 910,906.8 910.6,907.2 911.2,907.3 911.8,907 912.4,907.1 913,907.1 913.6,907.2 914.2,907.1 914.8,907.3 915.4,907.1 916,907.5 916.6,907.4 917.2,907.2 917.8,907.3 918.4,907.3 919,907.5 919.6,907.6 920.2,907.8 920.8,907.8 921.4,907.9 922,908.3 922.6,908.9 923.2,909.7 923.8,910.7 924.4,911.7 925,913.1 925.6,914.3 926.2,916.1 926.8,917.9 927.4,921.4 928,925.4 928.6,930.3 929.2,935.7 929.8,941.6 930.4,947.6 931,953.9 931.6,960.5 932.2,968.4 932.8,977.2 933.4,986 934,994.4 934.6,1001.9 935.2,1010.1 935.8,1018.7 936.4,1026.6 937,1033.4 937.6,1037.4 938.2,1038.2 938.8,1037.7 939.4,1036.8 940,1035.8 940.6,1034.2 941.2,1032.8 941.8,1031.2 942.4,1029.5 943,1028 943.6,1026.4 944.2,1024.8 944.8,1022.8 945.4,1020.7 946,1018.5 946.6,1016.6 947.2,1014.3 947.8,1011.9 948.4,1009.7 949,1007.7 949.6,1005.6 950.2,1003.8 950.8,1001.9 951.4,999.7 952,998 952.6,996 953.2,994.4 953.8,992.3 954.4,990.5 955,988.7 955.6,986.8 956.2,985 956.8,983.3 957.4,981.6 958,980.2 958.6,978.6 959.2,977.1 959.8,975.4 960.4,974.4 961,972.6 961.6,971.5 962.2,970.3 962.8,969 963.4,967.7 964,966.9 964.6,965.5 965.2,964.3 965.8,963.3 966.4,962.3 967,960.9 967.6,960 968.2,958.9 968.8,958.2 969.4,957.3 970,956.6 970.6,955.7 971.2,955.1 971.8,953.9 972.4,952.9 973,952.3 973.6,951.8 974.2,951 974.8,950.2 975.4,949.6 976,948.9 976.6,948.3 977.2,947.3 977.8,946.9 978.4,946.1 979,945.5 979.6,945.1 980.2,944.4 980.8,943.8 981.4,943.3 982,942.5 982.6,941.9 983.2,941.4 983.8,940.8 984.4,940.2 985,939.7 985.6,939.3 986.2,938.4 986.8,937.8 987.4,937.1 988,936.6 988.6,936.2 989.2,935.7 989.8,935.3 990.4,934.7 991,934.4 991.6,934 992.2,933.2 992.8,932.8 993.4,932.3 994,931.6 994.6,931 995.2,930.8 995.8,930.4 996.4,929.7 997,929.2 997.6,928.9 998.2,928.6 998.8,928.1 999.4,927.7 1000,927.1 1000.6,926.8 1001.2,926.4 1001.8,926.2 1002.4,925.9 1003,925.4 1003.6,924.9 1004.2,924.5 1004.8,924.1 1005.4,923.7 1006,923.2 1006.6,923 1007.2,922.6 1007.8,922.3 1008.4,921.6 1009,921.5 1009.6,921.1 1010.2,920.7 1010.8,920.4 1011.4,920 1012,919.8 1012.6,919.5 1013.2,919.2 1013.8,918.9 1014.4,918.5 1015,918.3 1015.6,918 1016.2,917.7 1016.8,917.5 1017.4,917.1 1018,916.9 1018.6,916.8 1019.2,916.4 1019.8,916.5 1020.4,916.3 1021,915.8 1021.6,915.9 1022.2,915.6 1022.8,915.4 1023.4,915.2 1024,915 1024.6,914.9 1025.2,914.7 1025.8,914.5 1026.4,914.8 1027,914.8 1027.6,914.9 1028.2,915.3 1028.8,915.5 1029.4,916 1030,916.9 1030.6,919.8 1031.2,923.9 1031.8,929.2 1032.4,934.9 1033,941.3 1033.6,947.8 1034.2,953.7 1034.8,960 1035.4,966.7 1036,973.9 1036.6,981.5 1037.2,989.2 1037.8,997.3 1038.4,1005.5 1039,1013.7 1039.6,1024.5 1040.2,1036.7 1040.8,1049.2 1041.4,1059.6 1042,1066.1 1042.6,1067.4 1043.2,1067.2 1043.8,1066.4 1044.4,1064.8 1045,1063.2 1045.6,1061.1 1046.2,1059.5 1046.8,1057.1 1047.4,1054.9 1048,1053 1048.6,1051.2 1049.2,1048.9 1049.8,1046.6 1050.4,1044.1 1051,1041.4 1051.6,1038.9 1052.2,1036.4 1052.8,1033.7 1053.4,1030.9 1054,1028.1 1054.6,1025.5 1055.2,1022.5 1055.8,1019.8 1056.4,1017.4 1057,1015 1057.6,1012.5 1058.2,1010.2 1058.8,1007.7 1059.4,1005.4 1060,1003.4 1060.6,1001 1061.2,998.7 1061.8,996.7 1062.4,994.4 1063,992.3 1063.6,990.3 1064.2,988.2 1064.8,985.9 1065.4,984 1066,982 1066.6,980 1067.2,978.4 1067.8,976.6 1068.4,974.9 1069,973.5 1069.6,971.9 1070.2,970.3 1070.8,969 1071.4,967.4 1072,966 1072.6,964.7 1073.2,963.2 1073.8,961.9 1074.4,960.7 1075,959.4 1075.6,958 1076.2,956.9 1076.8,956 1077.4,954.8 1078,953.7 1078.6,952.7 1079.2,951.7 1079.8,951.1 1080.4,950 1081,949.4 1081.6,948.6 1082.2,947.9 1082.8,947.2 1083.4,946.2 1084,945.8 1084.6,945.1 1085.2,944.5 1085.8,944 1086.4,943.5 1087,942.9 1087.6,942.4 1088.2,941.8 1088.8,941.1 1089.4,940.5 1090,940 1090.6,939.5 1091.2,939.2 1091.8,938.8 1092.4,938.1 1093,937.5 1093.6,936.9 1094.2,936.6 1094.8,935.9 1095.4,935.7 1096,935.4 1096.6,934.8 1097.2,934.4 1097.8,934 1098.4,933.8 1099,933.5 1099.6,933.3 1100.2,932.9 1100.8,932.3 1101.4,932.1 1102,931.9 1102.6,931.3 1103.2,931 1103.8,930.7 1104.4,930.3 1105,930.2 1105.6,929.6 1106.2,929.5 1106.8,929.2 1107.4,928.9 1108,928.8 1108.6,928.3 1109.2,927.9 1109.8,927.7 1110.4,927.1 1111,927.1 1111.6,926.7 1112.2,926.4 1112.8,926.3 1113.4,926 1114,925.8 1114.6,925.4 1115.2,925.2 1115.8,924.9 1116.4,924.7 1117,924.5 1117.6,924.5 1118.2,924.2 1118.8,923.9 1119.4,923.7 1120,923.3 1120.6,923.3 1121.2,923.1 1121.8,923.1 1122.4,922.6 1123,922.2 1123.6,922.2 1124.2,922.1 1124.8,921.7 1125.4,921.7 1126,921.5 1126.6,921.3 1127.2,921.3 1127.8,921.1 1128.4,921 1129,920.6 1129.6,920.7 1130.2,920.6 1130.8,920.4 1131.4,920.3 1132,920.2 1132.6,919.9 1133.2,920 1133.8,919.7 1134.4,919.7 1135,919.5 1135.6,919.4 1136.2,919.3 1136.8,919.2 1137.4,919.2 1138,918.8 1138.6,919.1 1139.2,918.9 1139.8,918.8 1140.4,918.7 1141,918.5 1141.6,918.3 1142.2,918.3 1142.8,918.2 1143.4,918.3 1144,918.3 1144.6,918.2 1145.2,918 1145.8,917.8 1146.4,917.8 1147,917.8 1147.6,917.5 1148.2,917.6 1148.8,917.4 1149.4,917.1 1150,917.1 1150.6,917 1151.2,917 1151.8,916.8 1152.4,917.1 1153,916.8 1153.6,917 1154.2,916.7 1154.8,916.5 1155.4,916.8 1156,916.4 1156.6,916.3 1157.2,916.3 1157.8,916.3 1158.4,916.1 1159,916.1 1159.6,916 1160.2,916 1160.8,915.9 1161.4,915.8 1162,915.8 1162.6,915.4 1163.2,915.5 1163.8,915.3 1164.4,915.2 1165,915" fill="none" stroke="#111" stroke-width="1.5" stroke-linejoin="round"/>
<polyline points="904,912.2 904.6,912.6 905.2,913.1 905.8,912.4 906.4,912 907,912.4 907.6,912.8 908.2,913.2 908.8,912.6 909.4,912.3 910,912.6 910.6,911.6 911.2,912.4 911.8,912 912.4,912.1 913,912.6 913.6,911.7 914.2,912.5 914.8,912.7 915.4,912.5 916,912.1 916.6,912.3 917.2,912.4 917.8,912.1 918.4,911.1 919,911.7 919.6,911 920.2,911.6 920.8,911.8 921.4,910.7 922,911.8 922.6,911.9 923.2,912.6 923.8,913.4 924.4,914.4 925,916.2 925.6,918.1 926.2,920.7 926.8,923.2 927.4,925 928,927.7 928.6,929.6 929.2,932.6 929.8,936.5 930.4,939.7 931,943.1 931.6,947.1 932.2,949.7 932.8,952.4 933.4,954.6 934,957.7 934.6,958.9 935.2,960.7 935.8,963.5 936.4,963.7 937,964.7 937.6,963.5 938.2,963.1 938.8,962.9 939.4,960.9 940,960.8 940.6,960.8 941.2,960.5 941.8,959.5 942.4,958.2 943,956.3 943.6,955.2 944.2,954.6 944.8,952.7 945.4,951 946,949.4 946.6,947.9 947.2,946.3 947.8,944.9 948.4,943.9 949,943.4 949.6,942.2 950.2,941.4 950.8,940.7 951.4,939.7 952,937.7 952.6,938.2 953.2,937.4 953.8,937.1 954.4,936.9 955,935.6 955.6,934.9 956.2,934 956.8,933.6 957.4,933.2 958,932.5 958.6,933.3 959.2,932.3 959.8,932.4 960.4,930.5 961,930.2 961.6,928.5 962.2,928.5 962.8,928.7 963.4,927.9 964,927.6 964.6,927.1 965.2,926.4 965.8,927 966.4,926.7 967,926.9 967.6,925.4 968.2,925.1 968.8,924.5 969.4,924.4 970,924.8 970.6,925.2 971.2,924 971.8,923.8 972.4,923.3 973,922.9 973.6,922.4 974.2,923.1 974.8,922.8 975.4,922.6 976,922.3 976.6,921.2 977.2,921.7 977.8,921.7 978.4,920.8 979,921.2 979.6,921.1 980.2,920.2 980.8,920.4 981.4,919.8 982,919.9 982.6,919.7 983.2,918.6 983.8,918.8 984.4,918.5 985,919 985.6,919.2 986.2,918.7 986.8,917.5 987.4,917.9 988,917.2 988.6,918.5 989.2,917.7 989.8,917.8 990.4,917.4 991,918.2 991.6,916.7 992.2,917.6 992.8,916.8 993.4,916.1 994,915.7 994.6,916.5 995.2,915.5 995.8,915.8 996.4,915.5 997,915.9 997.6,915.3 998.2,915.6 998.8,915.5 999.4,915.8 1000,915.3 1000.6,914 1001.2,915.7 1001.8,914.9 1002.4,914.3 1003,914 1003.6,914.8 1004.2,914.2 1004.8,914.2 1005.4,912.9 1006,914 1006.6,913.9 1007.2,914.7 1007.8,913.9 1008.4,913.6 1009,914.1 1009.6,914.2 1010.2,913.6 1010.8,913.2 1011.4,913.5 1012,912.4 1012.6,912.5 1013.2,913.6 1013.8,913.6 1014.4,913.2 1015,912.2 1015.6,912.5 1016.2,911.4 1016.8,913.9 1017.4,912.7 1018,912.8 1018.6,912.2 1019.2,911.5 1019.8,912.1 1020.4,911.5 1021,911.3 1021.6,909.9 1022.2,909.4 1022.8,909.8 1023.4,909.1 1024,908 1024.6,909.4 1025.2,910.4 1025.8,912.3 1026.4,914.7 1027,916 1027.6,918.5 1028.2,921.5 1028.8,924.2 1029.4,928.3 1030,930.7 1030.6,934.6 1031.2,938.3 1031.8,942.3 1032.4,947.5 1033,950.1 1033.6,954.4 1034.2,959.7 1034.8,963.7 1035.4,968.5 1036,973.3 1036.6,977.5 1037.2,983.5 1037.8,989.9 1038.4,995.8 1039,1000.2 1039.6,1004.6 1040.2,1003.6 1040.8,1003.3 1041.4,1002.2 1042,1000.7 1042.6,999.9 1043.2,997.5 1043.8,996.5 1044.4,994.4 1045,993.1 1045.6,990.9 1046.2,988.9 1046.8,987.5 1047.4,985.7 1048,983.5 1048.6,981.5 1049.2,979.9 1049.8,976.9 1050.4,975.1 1051,973.6 1051.6,971.8 1052.2,969.9 1052.8,968.5 1053.4,966.5 1054,965.3 1054.6,963.3 1055.2,961.3 1055.8,960.2 1056.4,959 1057,957.2 1057.6,955.9 1058.2,954.1 1058.8,952.1 1059.4,951.5 1060,950.7 1060.6,948.8 1061.2,946.9 1061.8,946.8 1062.4,945.7 1063,943.6 1063.6,943.3 1064.2,942.4 1064.8,942 1065.4,941.5 1066,941.1 1066.6,939.9 1067.2,939.8 1067.8,938.2 1068.4,937.5 1069,936.9 1069.6,936.5 1070.2,935.4 1070.8,935.4 1071.4,935.4 1072,934.2 1072.6,933.4 1073.2,932.6 1073.8,933.1 1074.4,931.8 1075,930.9 1075.6,931.2 1076.2,930.4 1076.8,930.8 1077.4,929.7 1078,929.7 1078.6,929.1 1079.2,929.2 1079.8,927.9 1080.4,928.9 1081,928.9 1081.6,927.6 1082.2,927.4 1082.8,926.1 1083.4,927 1084,925.7 1084.6,925.9 1085.2,925.9 1085.8,925 1086.4,924.5 1087,925.2 1087.6,925.3 1088.2,924.8 1088.8,924.9 1089.4,924.7 1090,923.7 1090.6,923.5 1091.2,924.1 1091.8,923.2 1092.4,922.9 1093,922.4 1093.6,922.5 1094.2,922.2 1094.8,922.4 1095.4,922.4 1096,922.9 1096.6,921.8 1097.2,921.6 1097.8,921.6 1098.4,921.7 1099,921.2 1099.6,920.9 1100.2,920.9 1100.8,920.5 1101.4,920.7 1102,920 1102.6,920.6 1103.2,919.9 1103.8,919.7 1104.4,919.5 1105,920.2 1105.6,919.8 1106.2,919 1106.8,918.8 1107.4,919.9 1108,919.2 1108.6,919.9 1109.2,920 1109.8,918.8 1110.4,918.3 1111,919.7 1111.6,917.8 1112.2,918 1112.8,918.6 1113.4,917.7 1114,916.6 1114.6,917.4 1115.2,917.5 1115.8,917.6 1116.4,917.6 1117,917.2 1117.6,916.8 1118.2,916.5 1118.8,917.9 1119.4,917.2 1120,917.4 1120.6,916.6 1121.2,916.5 1121.8,917.5 1122.4,916.3 1123,916.2 1123.6,916.6 1124.2,915.7 1124.8,915.7 1125.4,916.6 1126,916.8 1126.6,917.8 1127.2,916.4 1127.8,916.3 1128.4,916 1129,916.1 1129.6,915.9 1130.2,916.4 1130.8,916.8 1131.4,916 1132,917 1132.6,916.3 1133.2,916.1 1133.8,916.3 1134.4,915.7 1135,916.3 1135.6,915.3 1136.2,915.7 1136.8,916.6 1137.4,916.8 1138,916.7 1138.6,915.8 1139.2,916.3 1139.8,915.9 1140.4,916.3 1141,915.5 1141.6,915.9 1142.2,914.9 1142.8,915.1 1143.4,916 1144,916.7 1144.6,915.8 1145.2,915.2 1145.8,915.8 1146.4,914.6 1147,915.9 1147.6,916.1 1148.2,915.7 1148.8,915.4 1149.4,914.6 1150,916.2 1150.6,915.7 1151.2,915.8 1151.8,915.6 1152.4,915 1153,915.3 1153.6,915.1 1154.2,915.3 1154.8,914.8 1155.4,915.5 1156,916.2 1156.6,914.9 1157.2,914.4 1157.8,915.3 1158.4,915.3 1159,915.6 1159.6,914.1 1160.2,915 1160.8,914.8 1161.4,915.6 1162,914.9 1162.6,915.5 1163.2,915.2 1163.8,915.2 1164.4,915.3 1165,915.1" fill="none" stroke="#0000ff" stroke-width="1.8" stroke-linejoin="round"/>
<line x1="919.7" y1="890.5" x2="919.7" y2="980.8" stroke="#0000ff" stroke-width="2.2"/>
<line x1="1022.4" y1="890.5" x2="1022.4" y2="980.8" stroke="#0000ff" stroke-width="2.4"/>
<path d="M1114.7,1004.2 L1114.7,1055.2 L1163,1055.2" fill="none" stroke="#000" stroke-width="3.6" stroke-linejoin="miter"/>
<text x="1104.2" y="1083.7" font-size="30.3" font-weight="bold" fill="#000" text-anchor="start" transform="rotate(-90 1104.2 1083.7)">100 pA</text>
<text x="1109.5" y="1090.4" font-size="30.5" font-weight="bold" fill="#000" text-anchor="start">25 ms</text>
<text x="1215.5" y="843.3" font-size="34" font-weight="bold" fill="#000" text-anchor="start">H</text>
<line x1="1321" y1="1179.8" x2="1321" y2="869" stroke="#000" stroke-width="3.5" stroke-linecap="butt"/>
<line x1="1309" y1="1178.1" x2="1321" y2="1178.1" stroke="#000" stroke-width="3.5"/>
<text x="1304" y="1187.6" font-size="30" font-weight="bold" fill="#000" text-anchor="end">0</text>
<line x1="1309" y1="1075.3" x2="1321" y2="1075.3" stroke="#000" stroke-width="3.5"/>
<text x="1303.5" y="1084.8" font-size="30" font-weight="bold" fill="#000" text-anchor="end">1</text>
<line x1="1309" y1="972.6" x2="1321" y2="972.6" stroke="#000" stroke-width="3.5"/>
<text x="1304" y="982.1" font-size="30" font-weight="bold" fill="#000" text-anchor="end">2</text>
<line x1="1309" y1="869.8" x2="1321" y2="869.8" stroke="#000" stroke-width="3.5"/>
<text x="1303.8" y="879.3" font-size="30" font-weight="bold" fill="#000" text-anchor="end">3</text>
<line x1="1309.5" y1="1178.1" x2="1527" y2="1178.1" stroke="#000" stroke-width="3.5"/>
<line x1="1380" y1="1178" x2="1380" y2="1191" stroke="#000" stroke-width="3.5"/>
<line x1="1467.5" y1="1178" x2="1467.5" y2="1191" stroke="#000" stroke-width="3.5"/>
<text x="1256.1" y="1130.9" font-size="29.9" font-weight="bold" fill="#000" text-anchor="start" transform="rotate(-90 1256.1 1130.9)">R2/R1 (50 ms|S|)</text>
<text x="1329.3" y="1221.8" font-size="30" font-weight="bold" font-style="italic" fill="#231815">Cyld<tspan font-size="20" dx="2.3" dy="-13.8">+/+</tspan></text>
<text x="1434.5" y="1221.8" font-size="30" font-weight="bold" font-style="italic" fill="#231815">Cyld<tspan font-size="20" dx="2.3" dy="-13.8">-/-</tspan></text>
<circle cx="1380" cy="977.7" r="5.6" fill="#fff" stroke="#a3a3a3" stroke-width="5"/>
<circle cx="1384.3" cy="1013.7" r="5.6" fill="#fff" stroke="#a3a3a3" stroke-width="5"/>
<circle cx="1380.2" cy="1016.8" r="5.6" fill="#fff" stroke="#a3a3a3" stroke-width="5"/>
<circle cx="1377" cy="1018.8" r="5.6" fill="#fff" stroke="#a3a3a3" stroke-width="5"/>
<circle cx="1373.8" cy="1021.9" r="5.6" fill="#fff" stroke="#a3a3a3" stroke-width="5"/>
<circle cx="1378.4" cy="1023.9" r="5.6" fill="#fff" stroke="#a3a3a3" stroke-width="5"/>
<circle cx="1378.7" cy="1027" r="5.6" fill="#fff" stroke="#a3a3a3" stroke-width="5"/>
<circle cx="1373.6" cy="1029.1" r="5.6" fill="#fff" stroke="#a3a3a3" stroke-width="5"/>
<circle cx="1373.7" cy="1032.2" r="5.6" fill="#fff" stroke="#a3a3a3" stroke-width="5"/>
<circle cx="1387" cy="1034.2" r="5.6" fill="#fff" stroke="#a3a3a3" stroke-width="5"/>
<circle cx="1384" cy="1036.3" r="5.6" fill="#fff" stroke="#a3a3a3" stroke-width="5"/>
<circle cx="1373.1" cy="1039.4" r="5.6" fill="#fff" stroke="#a3a3a3" stroke-width="5"/>
<circle cx="1378.3" cy="1042.4" r="5.6" fill="#fff" stroke="#a3a3a3" stroke-width="5"/>
<circle cx="1398.5" cy="1044.5" r="5.6" fill="#fff" stroke="#a3a3a3" stroke-width="5"/>
<circle cx="1395.5" cy="1046.6" r="5.6" fill="#fff" stroke="#a3a3a3" stroke-width="5"/>
<circle cx="1393.4" cy="1049.6" r="5.6" fill="#fff" stroke="#a3a3a3" stroke-width="5"/>
<circle cx="1375.8" cy="1052.7" r="5.6" fill="#fff" stroke="#a3a3a3" stroke-width="5"/>
<circle cx="1379.7" cy="1054.8" r="5.6" fill="#fff" stroke="#a3a3a3" stroke-width="5"/>
<circle cx="1386.9" cy="1054.8" r="5.6" fill="#fff" stroke="#a3a3a3" stroke-width="5"/>
<circle cx="1362.9" cy="1056.8" r="5.6" fill="#fff" stroke="#a3a3a3" stroke-width="5"/>
<circle cx="1382.2" cy="1059.9" r="5.6" fill="#fff" stroke="#a3a3a3" stroke-width="5"/>
<circle cx="1371.1" cy="1059.9" r="5.6" fill="#fff" stroke="#a3a3a3" stroke-width="5"/>
<circle cx="1394.8" cy="1063" r="5.6" fill="#fff" stroke="#a3a3a3" stroke-width="5"/>
<circle cx="1368.7" cy="1065.1" r="5.6" fill="#fff" stroke="#a3a3a3" stroke-width="5"/>
<circle cx="1384.7" cy="1065.1" r="5.6" fill="#fff" stroke="#a3a3a3" stroke-width="5"/>
<circle cx="1389.6" cy="1067.1" r="5.6" fill="#fff" stroke="#a3a3a3" stroke-width="5"/>
<circle cx="1372.9" cy="1070.2" r="5.6" fill="#fff" stroke="#a3a3a3" stroke-width="5"/>
<circle cx="1390.3" cy="1073.3" r="5.6" fill="#fff" stroke="#a3a3a3" stroke-width="5"/>
<circle cx="1389.7" cy="1075.3" r="5.6" fill="#fff" stroke="#a3a3a3" stroke-width="5"/>
<circle cx="1367.5" cy="1077.4" r="5.6" fill="#fff" stroke="#a3a3a3" stroke-width="5"/>
<circle cx="1382.9" cy="1080.5" r="5.6" fill="#fff" stroke="#a3a3a3" stroke-width="5"/>
<circle cx="1373" cy="1083.6" r="5.6" fill="#fff" stroke="#a3a3a3" stroke-width="5"/>
<circle cx="1380" cy="1085.6" r="5.6" fill="#fff" stroke="#a3a3a3" stroke-width="5"/>
<circle cx="1379.1" cy="1090.7" r="5.6" fill="#fff" stroke="#a3a3a3" stroke-width="5"/>
<circle cx="1375.8" cy="1095.9" r="5.6" fill="#fff" stroke="#a3a3a3" stroke-width="5"/>
<circle cx="1377.5" cy="1101" r="5.6" fill="#fff" stroke="#a3a3a3" stroke-width="5"/>
<circle cx="1391.9" cy="1049.6" r="5.6" fill="#fff" stroke="#a3a3a3" stroke-width="5"/>
<circle cx="1372.8" cy="1044.5" r="5.6" fill="#fff" stroke="#a3a3a3" stroke-width="5"/>
<circle cx="1366.3" cy="1056.8" r="5.6" fill="#fff" stroke="#a3a3a3" stroke-width="5"/>
<circle cx="1385.2" cy="1070.2" r="5.6" fill="#fff" stroke="#a3a3a3" stroke-width="5"/>
<circle cx="1378" cy="1063" r="5.6" fill="#fff" stroke="#a3a3a3" stroke-width="5"/>
<circle cx="1391.7" cy="1052.7" r="5.6" fill="#fff" stroke="#a3a3a3" stroke-width="5"/>
<circle cx="1373.1" cy="1039.4" r="5.6" fill="#fff" stroke="#a3a3a3" stroke-width="5"/>
<circle cx="1375.3" cy="1067.1" r="5.6" fill="#fff" stroke="#a3a3a3" stroke-width="5"/>
<circle cx="1469.3" cy="921.2" r="5.9" fill="#fff" stroke="#8b8bf2" stroke-width="3.9"/>
<circle cx="1467.5" cy="950" r="5.9" fill="#fff" stroke="#8b8bf2" stroke-width="3.9"/>
<circle cx="1467.5" cy="967.4" r="5.9" fill="#fff" stroke="#8b8bf2" stroke-width="3.9"/>
<circle cx="1465.9" cy="980.8" r="5.9" fill="#fff" stroke="#8b8bf2" stroke-width="3.9"/>
<circle cx="1464.6" cy="984.9" r="5.9" fill="#fff" stroke="#8b8bf2" stroke-width="3.9"/>
<circle cx="1470.1" cy="988" r="5.9" fill="#fff" stroke="#8b8bf2" stroke-width="3.9"/>
<circle cx="1455.9" cy="993.1" r="5.9" fill="#fff" stroke="#8b8bf2" stroke-width="3.9"/>
<circle cx="1477.2" cy="1003.4" r="5.9" fill="#fff" stroke="#8b8bf2" stroke-width="3.9"/>
<circle cx="1463.8" cy="1005.4" r="5.9" fill="#fff" stroke="#8b8bf2" stroke-width="3.9"/>
<circle cx="1480.1" cy="1008.5" r="5.9" fill="#fff" stroke="#8b8bf2" stroke-width="3.9"/>
<circle cx="1464.7" cy="1013.7" r="5.9" fill="#fff" stroke="#8b8bf2" stroke-width="3.9"/>
<circle cx="1479.7" cy="1018.8" r="5.9" fill="#fff" stroke="#8b8bf2" stroke-width="3.9"/>
<circle cx="1469.1" cy="1021.9" r="5.9" fill="#fff" stroke="#8b8bf2" stroke-width="3.9"/>
<circle cx="1460.2" cy="1023.9" r="5.9" fill="#fff" stroke="#8b8bf2" stroke-width="3.9"/>
<circle cx="1474.3" cy="1026" r="5.9" fill="#fff" stroke="#8b8bf2" stroke-width="3.9"/>
<circle cx="1472.4" cy="1029.1" r="5.9" fill="#fff" stroke="#8b8bf2" stroke-width="3.9"/>
<circle cx="1472.7" cy="1032.2" r="5.9" fill="#fff" stroke="#8b8bf2" stroke-width="3.9"/>
<circle cx="1466.5" cy="1034.2" r="5.9" fill="#fff" stroke="#8b8bf2" stroke-width="3.9"/>
<circle cx="1455.3" cy="1036.3" r="5.9" fill="#fff" stroke="#8b8bf2" stroke-width="3.9"/>
<circle cx="1473.7" cy="1039.4" r="5.9" fill="#fff" stroke="#8b8bf2" stroke-width="3.9"/>
<circle cx="1450.2" cy="1042.4" r="5.9" fill="#fff" stroke="#8b8bf2" stroke-width="3.9"/>
<circle cx="1476" cy="1044.5" r="5.9" fill="#fff" stroke="#8b8bf2" stroke-width="3.9"/>
<circle cx="1473.5" cy="1046.6" r="5.9" fill="#fff" stroke="#8b8bf2" stroke-width="3.9"/>
<circle cx="1462.1" cy="1049.6" r="5.9" fill="#fff" stroke="#8b8bf2" stroke-width="3.9"/>
<circle cx="1480.6" cy="1052.7" r="5.9" fill="#fff" stroke="#8b8bf2" stroke-width="3.9"/>
<circle cx="1454" cy="1054.8" r="5.9" fill="#fff" stroke="#8b8bf2" stroke-width="3.9"/>
<circle cx="1462.7" cy="1056.8" r="5.9" fill="#fff" stroke="#8b8bf2" stroke-width="3.9"/>
<circle cx="1480.6" cy="1059.9" r="5.9" fill="#fff" stroke="#8b8bf2" stroke-width="3.9"/>
<circle cx="1462.2" cy="1063" r="5.9" fill="#fff" stroke="#8b8bf2" stroke-width="3.9"/>
<circle cx="1476.9" cy="1065.1" r="5.9" fill="#fff" stroke="#8b8bf2" stroke-width="3.9"/>
<circle cx="1472.5" cy="1067.1" r="5.9" fill="#fff" stroke="#8b8bf2" stroke-width="3.9"/>
<circle cx="1486.9" cy="1070.2" r="5.9" fill="#fff" stroke="#8b8bf2" stroke-width="3.9"/>
<circle cx="1489.1" cy="1073.3" r="5.9" fill="#fff" stroke="#8b8bf2" stroke-width="3.9"/>
<circle cx="1477.3" cy="1075.3" r="5.9" fill="#fff" stroke="#8b8bf2" stroke-width="3.9"/>
<circle cx="1481.1" cy="1077.4" r="5.9" fill="#fff" stroke="#8b8bf2" stroke-width="3.9"/>
<circle cx="1457.8" cy="1080.5" r="5.9" fill="#fff" stroke="#8b8bf2" stroke-width="3.9"/>
<circle cx="1473.5" cy="1083.6" r="5.9" fill="#fff" stroke="#8b8bf2" stroke-width="3.9"/>
<circle cx="1477.2" cy="1085.6" r="5.9" fill="#fff" stroke="#8b8bf2" stroke-width="3.9"/>
<circle cx="1464.7" cy="1087.7" r="5.9" fill="#fff" stroke="#8b8bf2" stroke-width="3.9"/>
<circle cx="1469" cy="1090.7" r="5.9" fill="#fff" stroke="#8b8bf2" stroke-width="3.9"/>
<circle cx="1466.9" cy="1093.8" r="5.9" fill="#fff" stroke="#8b8bf2" stroke-width="3.9"/>
<circle cx="1480.3" cy="1095.9" r="5.9" fill="#fff" stroke="#8b8bf2" stroke-width="3.9"/>
<circle cx="1459.5" cy="1044.5" r="5.9" fill="#fff" stroke="#8b8bf2" stroke-width="3.9"/>
<circle cx="1463.2" cy="1049.6" r="5.9" fill="#fff" stroke="#8b8bf2" stroke-width="3.9"/>
<circle cx="1445.5" cy="1065.1" r="5.9" fill="#fff" stroke="#8b8bf2" stroke-width="3.9"/>
<circle cx="1464" cy="1075.3" r="5.9" fill="#fff" stroke="#8b8bf2" stroke-width="3.9"/>
<circle cx="1471.2" cy="1085.6" r="5.9" fill="#fff" stroke="#8b8bf2" stroke-width="3.9"/>
<circle cx="1486.6" cy="1054.8" r="5.9" fill="#fff" stroke="#8b8bf2" stroke-width="3.9"/>
<circle cx="1486.1" cy="1059.9" r="5.9" fill="#fff" stroke="#8b8bf2" stroke-width="3.9"/>
<circle cx="1459.9" cy="1070.2" r="5.9" fill="#fff" stroke="#8b8bf2" stroke-width="3.9"/>
<circle cx="1481.2" cy="1080.5" r="5.9" fill="#fff" stroke="#8b8bf2" stroke-width="3.9"/>
<circle cx="1453.8" cy="1039.4" r="5.9" fill="#fff" stroke="#8b8bf2" stroke-width="3.9"/>
<path d="M1353.7,1178.1 L1353.7,1058 L1407.1,1058 L1407.1,1178.1" fill="none" stroke="#333" stroke-width="3.4" stroke-linejoin="round"/>
<path d="M1441.1,1178.1 L1441.1,1044.1 L1494.6,1044.1 L1494.6,1178.1" fill="none" stroke="#0000ff" stroke-width="4" stroke-linejoin="round"/>
<line x1="1380.2" y1="1058" x2="1380.2" y2="1052.4" stroke="#333" stroke-width="3.4"/>
<line x1="1365.7" y1="1052.4" x2="1394.8" y2="1052.4" stroke="#333" stroke-width="3.4"/>
<line x1="1467.6" y1="1044" x2="1467.6" y2="1035.6" stroke="#0000ff" stroke-width="3.9"/>
<line x1="1453.4" y1="1035.6" x2="1481.8" y2="1035.6" stroke="#0000ff" stroke-width="3.9"/>
<line x1="1366.2" y1="889" x2="1461" y2="889" stroke="#000" stroke-width="3.9"/>
<text x="1400.2" y="893.9" font-size="64" font-weight="bold" fill="#000" text-anchor="start">*</text>
<text x="23.8" y="1306.6" font-size="34" font-weight="bold" fill="#000" text-anchor="start">I</text>
<text x="635.1" y="1282.3" font-size="40.7" font-weight="bold" fill="#231815" text-anchor="start" font-style="italic">NMDAR eEPSCs</text>
<text x="255.3" y="1363.7" font-size="30" font-weight="bold" font-style="italic" fill="#231815">Cyld<tspan font-size="20" dx="2.3" dy="-13.8">+/+</tspan></text>
<text x="759.5" y="1363.4" font-size="30" font-weight="bold" font-style="italic" fill="#231815">Cyld<tspan font-size="20" dx="2.3" dy="-13.8">-/-</tspan></text>
<polyline points="117.6,1520.5 126.8,1520.5 128,1518.4 128.6,1483.2 129.2,1442.4 129.8,1403 130.4,1368.3 131,1341.1 131.6,1330.8 132.2,1330.2 132.8,1327.1 133.4,1326.3 134,1326.2 134.6,1325.2 135.2,1325.9 135.8,1325.7 136.4,1325 137,1324.7 137.6,1325 138.2,1324.9 138.8,1324.6 139.4,1325.1 140,1326.3 140.6,1327.2 141.2,1326.8 141.8,1328.8 142.4,1328.2 143,1329 143.6,1330.5 144.2,1332 144.8,1333.3 145.4,1333.1 146,1334.2 146.6,1335.8 147.2,1335.6 147.8,1337.1 148.4,1337.3 149,1337.1 149.6,1338.3 150.2,1340.4 150.8,1339.9 151.4,1342.6 152,1343 152.6,1343.6 153.2,1346.8 153.8,1346.5 154.4,1347.6 155,1349.5 155.6,1350.3 156.2,1351.5 156.8,1352.2 157.4,1351.2 158,1354.2 158.6,1355.2 159.2,1355.5 159.8,1355.7 160.4,1354.6 161,1356.3 161.6,1355.9 162.2,1356.7 162.8,1358.5 163.4,1359.7 164,1359.5 164.6,1359.9 165.2,1361.3 165.8,1362.7 166.4,1362.6 167,1363.8 167.6,1365 168.2,1366.5 168.8,1366.2 169.4,1365.7 170,1367.1 170.6,1368.8 171.2,1369.5 171.8,1370.3 172.4,1369.8 173,1370.2 173.6,1371.6 174.2,1372 174.8,1372.8 175.4,1373.5 176,1374.3 176.6,1374.4 177.2,1375.2 177.8,1377.7 178.4,1376.8 179,1378.5 179.6,1379 180.2,1380 180.8,1380.3 181.4,1381.9 182,1381.4 182.6,1382.5 183.2,1383.4 183.8,1383.8 184.4,1385 185,1385 185.6,1385.2 186.2,1386.8 186.8,1387.7 187.4,1387.7 188,1389.4 188.6,1389.9 189.2,1389.8 189.8,1389.7 190.4,1391.6 191,1392.3 191.6,1393.2 192.2,1392.6 192.8,1394.3 193.4,1394.4 194,1395.1 194.6,1397 195.2,1396.2 195.8,1396.8 196.4,1397.6 197,1398 197.6,1399.3 198.2,1399 198.8,1399.7 199.4,1399.8 200,1401.5 200.6,1401.4 201.2,1402.3 201.8,1402.2 202.4,1402.5 203,1402.4 203.6,1402.8 204.2,1404.8 204.8,1403 205.4,1406 206,1406.5 206.6,1407.1 207.2,1408.3 207.8,1409.8 208.4,1409.6 209,1408.7 209.6,1410.4 210.2,1411.6 210.8,1410.9 211.4,1412.6 212,1412.3 212.6,1413.6 213.2,1412.8 213.8,1413.1 214.4,1413.5 215,1412.7 215.6,1414.6 216.2,1413.7 216.8,1415.4 217.4,1415 218,1415.7 218.6,1416.1 219.2,1415.7 219.8,1416 220.4,1416.7 221,1417 221.6,1417.8 222.2,1417.8 222.8,1418.2 223.4,1417.9 224,1418.5 224.6,1420.4 225.2,1420 225.8,1420.7 226.4,1421 227,1421 227.6,1422.4 228.2,1421.6 228.8,1420.5 229.4,1422.2 230,1421.8 230.6,1421.9 231.2,1422.6 231.8,1423.4 232.4,1423.4 233,1424.2 233.6,1423.6 234.2,1423.1 234.8,1424 235.4,1424.6 236,1424.6 236.6,1426.4 237.2,1425.6 237.8,1426.9 238.4,1428.7 239,1427.5 239.6,1428.3 240.2,1428.7 240.8,1427.7 241.4,1428.3 242,1429.4 242.6,1428.8 243.2,1429.1 243.8,1428.9 244.4,1427.7 245,1429.1 245.6,1429 246.2,1428.8 246.8,1428.5 247.4,1428.6 248,1428.6 248.6,1430.2 249.2,1428.5 249.8,1430.4 250.4,1430.1 251,1430.8 251.6,1430.4 252.2,1430.2 252.8,1430.9 253.4,1431 254,1431.5 254.6,1432.1 255.2,1432.2 255.8,1432.7 256.4,1432.2 257,1433.7 257.6,1433.8 258.2,1434.7 258.8,1434.1 259.4,1433.8 260,1433.5 260.6,1435.3 261.2,1434.3 261.8,1434.6 262.4,1434.9 263,1435.1 263.6,1433.8 264.2,1434.1 264.8,1435.8 265.4,1436 266,1437.2 266.6,1435.1 267.2,1434.6 267.8,1434.7 268.4,1435.2 269,1435.8 269.6,1435.9 270.2,1435.9 270.8,1436.1 271.4,1435.8 272,1436.5 272.6,1436.4 273.2,1437.3 273.8,1437.2 274.4,1437.5 275,1438.9 275.6,1439.3 276.2,1439.6 276.8,1438.7 277.4,1439.6 278,1440 278.6,1439.2 279.2,1438.4 279.8,1439.1 280.4,1439.7 281,1439.2 281.6,1439.5 282.2,1440.2 282.8,1441 283.4,1441.4 284,1439.9 284.6,1439.4 285.2,1441.4 285.8,1442.1 286.4,1441.3 287,1440.7 287.6,1442.8 288.2,1441.3 288.8,1441.2 289.4,1441.5 290,1441.5 290.6,1440.9 291.2,1441.2 291.8,1442.5 292.4,1442.3 293,1442.1 293.6,1444.5 294.2,1443.6 294.8,1443.6 295.4,1443.7 296,1443.1 296.6,1444.1 297.2,1444.6 297.8,1444.6 298.4,1444.7 299,1444.9 299.6,1445.2 300.2,1444.6 300.8,1444 301.4,1445.4 302,1444.7 302.6,1444.5 303.2,1444.5 303.8,1444.5 304.4,1444.3 305,1444.5 305.6,1445.1 306.2,1443.6 306.8,1445 307.4,1445 308,1445.9 308.6,1445.3 309.2,1445.6 309.8,1446.7 310.4,1446.6 311,1447 311.6,1446.1 312.2,1446.9 312.8,1446.8 313.4,1448 314,1447.6 314.6,1447.4 315.2,1447.7 315.8,1447.5 316.4,1447.3 317,1447.6 317.6,1447.8 318.2,1448.7 318.8,1447.4 319.4,1448.2 320,1448.9 320.6,1448.7 321.2,1448.2 321.8,1448.6 322.4,1448.1 323,1448.1 323.6,1449.2 324.2,1449.2 324.8,1449.8 325.4,1449.9 326,1449.2 326.6,1450.5 327.2,1450.9 327.8,1452.2 328.4,1451.3 329,1452.4 329.6,1451.7 330.2,1451.7 330.8,1451.7 331.4,1452.3 332,1451.3 332.6,1452.3 333.2,1450.4 333.8,1450.6 334.4,1450.8 335,1451.6 335.6,1450.7 336.2,1452.9 336.8,1451.7 337.4,1453.8 338,1453.2 338.6,1453.5 339.2,1453.4 339.8,1453.7 340.4,1453 341,1452.9 341.6,1453.9 342.2,1454.4 342.8,1453.9 343.4,1453.7 344,1454.3 344.6,1454.2 345.2,1454.3 345.8,1453.5 346.4,1453.9 347,1454.5 347.6,1454 348.2,1455 348.8,1454 349.4,1454.5 350,1454.7 350.6,1455 351.2,1454 351.8,1453.5 352.4,1454.8 353,1454.7 353.6,1456.3 354.2,1455.4 354.8,1454.8 355.4,1454.4 356,1455.3 356.6,1455 357.2,1455.5 357.8,1455.4 358.4,1457.6 359,1455.5 359.6,1455.8 360.2,1456.3 360.8,1456.5 361.4,1456.1 362,1457 362.6,1456.3 363.2,1458.2 363.8,1456.6 364.4,1457.9 365,1457.9 365.6,1459 366.2,1458.7 366.8,1459.4 367.4,1458.9 368,1459.3 368.6,1459.5 369.2,1459.8 369.8,1459.1 370.4,1458.8 371,1458.9 371.6,1460.1 372.2,1460.4 372.8,1460.6 373.4,1461 374,1461.2 374.6,1461 375.2,1460.8 375.8,1461.8 376.4,1462.5 377,1462.5 377.6,1462.2 378.2,1461.1 378.8,1461.8 379.4,1461.5 380,1463.5 380.6,1462.8 381.2,1463.7 381.8,1463.6 382.4,1462.6 383,1463.3 383.6,1463.3 384.2,1462.9 384.8,1463.9 385.4,1464.3 386,1464.2 386.6,1464.8 387.2,1463.7 387.8,1463.9 388.4,1466.1 389,1466.6 389.6,1466.3 390.2,1465.9 390.8,1466.4 391.4,1467.1 392,1467.3 392.6,1466.8 393.2,1468.3 393.8,1467.7 394.4,1467.5 395,1468.1 395.6,1468.5 396.2,1468.9 396.8,1470.7 397.4,1469.4 398,1469.6 398.6,1470.3 399.2,1470.8 399.8,1471.1 400.4,1471.1 401,1470.3 401.6,1470.3 402.2,1471.9 402.8,1471.2 403.4,1470.1 404,1470.8 404.6,1470 405.2,1469.9 405.8,1469.3 406.4,1470 407,1469.9 407.6,1471.6 408.2,1470.6 408.8,1471.1 409.4,1471.1 410,1469.9 410.6,1472 411.2,1471.9 411.8,1471.2 412.4,1472.8 413,1472.3 413.6,1472.3 414.2,1472 414.8,1471.6 415.4,1472.2 416,1472.2 416.6,1473.4 417.2,1473 417.8,1473.4 418.4,1472.7 419,1473.3 419.6,1473.7 420.2,1473.5 420.8,1473.3 421.4,1474.3 422,1473.9 422.6,1473.7 423.2,1474.9 423.8,1473.8 424.4,1474.2 425,1474.4 425.6,1475.2 426.2,1475.2 426.8,1474.8 427.4,1475.3 428,1474.9 428.6,1474.1 429.2,1474.9 429.8,1475.6 430.4,1476.5 431,1476 431.6,1474.9 432.2,1475.3 432.8,1475.3 433.4,1475.3 434,1475.8 434.6,1476.2 435.2,1477.1 435.8,1476.4 436.4,1475.9 437,1475.5 437.6,1476.1 438.2,1477.1 438.8,1476.8 439.4,1477 440,1478.2 440.6,1478.5 441.2,1478 441.8,1476.8 442.4,1477.1 443,1477.4 443.6,1477.3 444.2,1478.2 444.8,1476.9 445.4,1478.7 446,1478.3 446.6,1477.7 447.2,1478.5 447.8,1478.1 448.4,1478.5 449,1478.7 449.6,1477.5 450.2,1478.3 450.8,1477.7 451.4,1477.7 452,1478 452.6,1478.1 453.2,1479 453.8,1477.6 454.4,1479.1 455,1478.5 455.6,1479.3 456.2,1479 456.8,1479.3 457.4,1479.1 458,1479.6 458.6,1478.9 459.2,1479.2 459.8,1478.9 460.4,1479.6 461,1478.6 461.6,1478.6 462.2,1478.8 462.8,1479.4 463.4,1478.6 464,1478.9 464.6,1479.6 465.2,1478.9 465.8,1479.3 466.4,1477.6 467,1478.4 467.6,1478.6 468.2,1480.4 468.8,1478.6 469.4,1479.6 470,1479.9 470.6,1480 471.2,1478.8 471.8,1477.8 472.4,1478.4 473,1480.4 473.6,1479.6 474.2,1479.7 474.8,1479.7 475.4,1479.2 476,1479.1 476.6,1479.5 477.2,1478.6 477.8,1479.4 478.4,1480.3 479,1480.4 479.6,1479.3 480.2,1479.8 480.8,1481.9 481.4,1481.6 482,1481.1 482.6,1481.1 483.2,1481.2" fill="none" stroke="#231815" stroke-width="2.1" stroke-linejoin="round"/>
<polyline points="117.6,1520.5 126.8,1520.5 128,1520 128.6,1489.1 129.2,1455.3 129.8,1420.3 130.4,1389.9 131,1367.5 131.6,1357.8 132.2,1356.6 132.8,1354 133.4,1353.1 134,1354.1 134.6,1352.5 135.2,1352.1 135.8,1352.8 136.4,1352.2 137,1351.9 137.6,1352.2 138.2,1352.9 138.8,1353.6 139.4,1354.1 140,1355.1 140.6,1356.1 141.2,1356.4 141.8,1357.8 142.4,1358.7 143,1358.3 143.6,1359.8 144.2,1359.9 144.8,1361 145.4,1360.9 146,1362.8 146.6,1363.7 147.2,1364 147.8,1365.8 148.4,1366 149,1366.9 149.6,1368 150.2,1369.4 150.8,1371.1 151.4,1371.2 152,1372.7 152.6,1373.7 153.2,1374.9 153.8,1375.8 154.4,1376.8 155,1378 155.6,1380.1 156.2,1379.5 156.8,1380.5 157.4,1380.7 158,1379.7 158.6,1382.2 159.2,1383.3 159.8,1384.4 160.4,1384.2 161,1384.3 161.6,1384.8 162.2,1385.8 162.8,1386.1 163.4,1387.2 164,1386.2 164.6,1388.1 165.2,1389.2 165.8,1388 166.4,1388.9 167,1388.6 167.6,1388.9 168.2,1389.9 168.8,1391.2 169.4,1391.6 170,1391.6 170.6,1392.3 171.2,1392.1 171.8,1393.7 172.4,1392.1 173,1393.2 173.6,1393.8 174.2,1393.9 174.8,1395 175.4,1396.8 176,1395 176.6,1395.7 177.2,1395.7 177.8,1397.6 178.4,1398.7 179,1399.3 179.6,1397.8 180.2,1400.5 180.8,1399.5 181.4,1398.7 182,1399.9 182.6,1400.5 183.2,1400.8 183.8,1402.2 184.4,1402.3 185,1402.6 185.6,1401.6 186.2,1402.8 186.8,1403.5 187.4,1405.5 188,1406.3 188.6,1405.9 189.2,1405.8 189.8,1407.4 190.4,1407 191,1408.2 191.6,1409.6 192.2,1409.9 192.8,1409.8 193.4,1410.1 194,1409.9 194.6,1412.1 195.2,1412.1 195.8,1411.1 196.4,1411.8 197,1412.3 197.6,1413.4 198.2,1413.1 198.8,1413.3 199.4,1414.8 200,1415.4 200.6,1415.2 201.2,1416.1 201.8,1416.5 202.4,1418 203,1417.4 203.6,1417.8 204.2,1419 204.8,1418.4 205.4,1419.8 206,1419.5 206.6,1419.6 207.2,1421.3 207.8,1421.9 208.4,1421.3 209,1423.5 209.6,1423.6 210.2,1422.9 210.8,1423.9 211.4,1424.2 212,1423.9 212.6,1423.9 213.2,1425.5 213.8,1425.6 214.4,1426.4 215,1425.8 215.6,1425.9 216.2,1426.2 216.8,1426.5 217.4,1427.3 218,1425.8 218.6,1427.2 219.2,1428.6 219.8,1427.3 220.4,1428.8 221,1428.2 221.6,1428.9 222.2,1428.7 222.8,1430.1 223.4,1430.4 224,1430.7 224.6,1432.6 225.2,1429.4 225.8,1430.3 226.4,1430 227,1431 227.6,1430.8 228.2,1431 228.8,1432 229.4,1431.6 230,1433 230.6,1432.6 231.2,1433.3 231.8,1433.8 232.4,1435 233,1433.1 233.6,1433.9 234.2,1435.2 234.8,1435.5 235.4,1434.5 236,1436.4 236.6,1436.2 237.2,1435.6 237.8,1436.3 238.4,1436.7 239,1436.6 239.6,1437.7 240.2,1437.2 240.8,1436.8 241.4,1436.4 242,1438.2 242.6,1437 243.2,1438.6 243.8,1437.6 244.4,1436.2 245,1438.5 245.6,1438.1 246.2,1437.2 246.8,1439.4 247.4,1438.7 248,1439.2 248.6,1440.3 249.2,1440.3 249.8,1439.7 250.4,1440.3 251,1440.5 251.6,1440.6 252.2,1440.7 252.8,1441.3 253.4,1441.9 254,1441.8 254.6,1442.2 255.2,1442.4 255.8,1442 256.4,1443.6 257,1444.2 257.6,1443.7 258.2,1442.7 258.8,1442.4 259.4,1442.1 260,1444.3 260.6,1443.6 261.2,1443.5 261.8,1443 262.4,1444.3 263,1444.8 263.6,1444.5 264.2,1443.6 264.8,1446.5 265.4,1445 266,1444.8 266.6,1446.1 267.2,1446.6 267.8,1447.4 268.4,1447.8 269,1447.3 269.6,1448.5 270.2,1448.3 270.8,1449.2 271.4,1448.9 272,1449.7 272.6,1449.4 273.2,1449.4 273.8,1451.5 274.4,1450.1 275,1450.3 275.6,1451 276.2,1451.2 276.8,1451.2 277.4,1450 278,1451.2 278.6,1451.9 279.2,1451.6 279.8,1451.5 280.4,1450.6 281,1450.7 281.6,1451.3 282.2,1452.1 282.8,1453.1 283.4,1453.7 284,1452.5 284.6,1453.8 285.2,1454.3 285.8,1454.1 286.4,1454.9 287,1455 287.6,1455.8 288.2,1455.2 288.8,1457.5 289.4,1456.8 290,1457.8 290.6,1456.4 291.2,1456.4 291.8,1459 292.4,1457.3 293,1457.6 293.6,1458.8 294.2,1458.8 294.8,1457.7 295.4,1458.7 296,1459.2 296.6,1459.9 297.2,1459.6 297.8,1460.4 298.4,1460.9 299,1460.6 299.6,1461.2 300.2,1462.6 300.8,1462.5 301.4,1462.3 302,1462.7 302.6,1462.7 303.2,1462 303.8,1462.4 304.4,1464 305,1464.1 305.6,1464.9 306.2,1464.7 306.8,1463.1 307.4,1462.8 308,1464.2 308.6,1464.5 309.2,1463.9 309.8,1464.4 310.4,1463.8 311,1464.1 311.6,1464.3 312.2,1464.2 312.8,1465 313.4,1465.6 314,1465.9 314.6,1466.4 315.2,1466.3 315.8,1466.2 316.4,1467.2 317,1465.7 317.6,1466 318.2,1467.1 318.8,1467.8 319.4,1467.1 320,1465.9 320.6,1465.2 321.2,1466.4 321.8,1466.6 322.4,1467.2 323,1466.9 323.6,1466.9 324.2,1467.8 324.8,1468.2 325.4,1468.6 326,1468.4 326.6,1468.8 327.2,1468.7 327.8,1469.1 328.4,1467.9 329,1468.6 329.6,1467.9 330.2,1468.6 330.8,1468.8 331.4,1468.7 332,1469.8 332.6,1468.5 333.2,1468.3 333.8,1468.1 334.4,1468.4 335,1469.1 335.6,1467.8 336.2,1470.1 336.8,1470.2 337.4,1469.9 338,1469.3 338.6,1469.6 339.2,1469.6 339.8,1470.5 340.4,1468.6 341,1469.1 341.6,1470.1 342.2,1468.5 342.8,1470.7 343.4,1470.3 344,1471.2 344.6,1470.7 345.2,1469.7 345.8,1470.8 346.4,1471.5 347,1470.9 347.6,1470.6 348.2,1470.7 348.8,1472.1 349.4,1470.3 350,1470.3 350.6,1470.7 351.2,1471.3 351.8,1471 352.4,1472 353,1472.1 353.6,1470.8 354.2,1472.3 354.8,1471.3 355.4,1471.3 356,1471.9 356.6,1470.9 357.2,1471.3 357.8,1472.3 358.4,1471.7 359,1474 359.6,1472.5 360.2,1473.6 360.8,1472.8 361.4,1475.1 362,1474.9 362.6,1473.2 363.2,1474.4 363.8,1474 364.4,1474.7 365,1472.2 365.6,1473.6 366.2,1473.9 366.8,1472.7 367.4,1472.6 368,1472.2 368.6,1472.9 369.2,1473 369.8,1472.3 370.4,1473 371,1472.6 371.6,1473.6 372.2,1474.1 372.8,1474.6 373.4,1474.8 374,1474.5 374.6,1474.5 375.2,1474.9 375.8,1475.9 376.4,1474.8 377,1476.7 377.6,1476 378.2,1476.2 378.8,1475.2 379.4,1476.4 380,1475.2 380.6,1476.6 381.2,1476 381.8,1476.2 382.4,1476.3 383,1475.2 383.6,1476.4 384.2,1474.9 384.8,1476.1 385.4,1476.6 386,1476.4 386.6,1475.9 387.2,1476 387.8,1476.9 388.4,1476.7 389,1476.8 389.6,1477.2 390.2,1477.7 390.8,1477.5 391.4,1477.9 392,1478.4 392.6,1479.4 393.2,1479.1 393.8,1478.8 394.4,1478.9 395,1479.5 395.6,1478.7 396.2,1479.7 396.8,1480.9 397.4,1480.3 398,1480.3 398.6,1479.5 399.2,1479.4 399.8,1479 400.4,1479.6 401,1479.4 401.6,1479.3 402.2,1480.3 402.8,1480.1 403.4,1481.8 404,1480.8 404.6,1481.7 405.2,1480.3 405.8,1480.9 406.4,1482.5 407,1481.7 407.6,1482.8 408.2,1482.2 408.8,1482.4 409.4,1481 410,1482.3 410.6,1481.6 411.2,1482.9 411.8,1482.3 412.4,1482.8 413,1482.5 413.6,1482.2 414.2,1483.4 414.8,1482.8 415.4,1483.5 416,1482.4 416.6,1482.4 417.2,1482.9 417.8,1483.3 418.4,1483.2 419,1483 419.6,1484.2 420.2,1483.3 420.8,1484.2 421.4,1485.5 422,1484 422.6,1483.7 423.2,1485.9 423.8,1485 424.4,1484.5 425,1484.4 425.6,1485.4 426.2,1484.6 426.8,1485 427.4,1486.4 428,1486.3 428.6,1486.8 429.2,1486.1 429.8,1486.4 430.4,1485.7 431,1486.2 431.6,1486.7 432.2,1487 432.8,1487.2 433.4,1487.1 434,1485.9 434.6,1486 435.2,1486.3 435.8,1486.7 436.4,1486.4 437,1486.2 437.6,1486.3 438.2,1486.7 438.8,1487.1 439.4,1486.2 440,1485.9 440.6,1486.9 441.2,1486.6 441.8,1487.2 442.4,1487 443,1487.6 443.6,1487.8 444.2,1489 444.8,1489.2 445.4,1488.7 446,1488.6 446.6,1489.8 447.2,1489 447.8,1488.9 448.4,1490.1 449,1489.6 449.6,1491.7 450.2,1491.2 450.8,1491.2 451.4,1490.2 452,1490.6 452.6,1490.5 453.2,1490.4 453.8,1490.2 454.4,1490.4 455,1490.1 455.6,1490.8 456.2,1491.2 456.8,1490.8 457.4,1489.9 458,1490.2 458.6,1489.7 459.2,1489.8 459.8,1489.9 460.4,1489.9 461,1491.5 461.6,1490.5 462.2,1491.2 462.8,1490.5 463.4,1489.9 464,1491.5 464.6,1491.9 465.2,1492.4 465.8,1491.9 466.4,1492.5 467,1491.9 467.6,1491.7 468.2,1492.7 468.8,1492.8 469.4,1493.4 470,1493.6 470.6,1493.7 471.2,1494.1 471.8,1494.4 472.4,1494.2 473,1493.5 473.6,1493 474.2,1494.1 474.8,1494.8 475.4,1494.2 476,1495.3 476.6,1495.1 477.2,1493.6 477.8,1495.4 478.4,1494.1 479,1494.9 479.6,1494.8 480.2,1494.9 480.8,1495.8 481.4,1495.7 482,1494.6 482.6,1495.5 483.2,1494.8" fill="none" stroke="#231815" stroke-width="2.1" stroke-linejoin="round"/>
<polyline points="117.6,1520.5 126.8,1520.5 128,1520 128.6,1500.5 129.2,1479.7 129.8,1457.6 130.4,1435.9 131,1416.2 131.6,1399.4 132.2,1386.6 132.8,1379.1 133.4,1377.6 134,1375.6 134.6,1374.8 135.2,1373.4 135.8,1373.9 136.4,1374 137,1374.3 137.6,1374.5 138.2,1374.3 138.8,1374 139.4,1376.7 140,1376.2 140.6,1375.6 141.2,1377.9 141.8,1377.3 142.4,1377.9 143,1378.2 143.6,1380.3 144.2,1381 144.8,1380.3 145.4,1382.1 146,1381.4 146.6,1382.6 147.2,1383.4 147.8,1384.7 148.4,1384.5 149,1386.9 149.6,1387.8 150.2,1388 150.8,1389.3 151.4,1389.2 152,1389 152.6,1390.8 153.2,1390.1 153.8,1391.8 154.4,1392.2 155,1393.5 155.6,1394 156.2,1394.5 156.8,1396.1 157.4,1395.4 158,1396.2 158.6,1397.7 159.2,1397.7 159.8,1399.6 160.4,1399.8 161,1401.5 161.6,1402.1 162.2,1401.9 162.8,1403.2 163.4,1404.7 164,1404.2 164.6,1405.2 165.2,1405.9 165.8,1407.7 166.4,1408.6 167,1408.8 167.6,1408.7 168.2,1407.9 168.8,1409.1 169.4,1409.6 170,1411 170.6,1411 171.2,1412.1 171.8,1411.1 172.4,1412 173,1412.9 173.6,1414 174.2,1414.6 174.8,1414.5 175.4,1415.4 176,1415.1 176.6,1416.7 177.2,1417.6 177.8,1418.1 178.4,1419.8 179,1419.3 179.6,1419 180.2,1420.1 180.8,1420.9 181.4,1421 182,1422 182.6,1421.1 183.2,1422 183.8,1422.6 184.4,1423.4 185,1422.7 185.6,1424.4 186.2,1424.6 186.8,1423.7 187.4,1424.2 188,1424.6 188.6,1423.9 189.2,1426.5 189.8,1426.2 190.4,1427.3 191,1426.6 191.6,1427.5 192.2,1427.6 192.8,1429.5 193.4,1428.8 194,1430.6 194.6,1430.4 195.2,1430.7 195.8,1429.9 196.4,1430.6 197,1430.7 197.6,1431.8 198.2,1431.1 198.8,1431.4 199.4,1432.4 200,1432 200.6,1431.6 201.2,1432.5 201.8,1432.9 202.4,1432.8 203,1433.4 203.6,1434.6 204.2,1433.8 204.8,1433 205.4,1435 206,1435.5 206.6,1435.7 207.2,1435.5 207.8,1434.1 208.4,1435.6 209,1436.9 209.6,1436.9 210.2,1437.3 210.8,1436.9 211.4,1437 212,1437.5 212.6,1438.6 213.2,1439.3 213.8,1437.8 214.4,1439.2 215,1438.4 215.6,1439.2 216.2,1439.5 216.8,1439.5 217.4,1439.7 218,1439.9 218.6,1440.2 219.2,1440.5 219.8,1442 220.4,1442.8 221,1442.5 221.6,1442.3 222.2,1443.4 222.8,1443 223.4,1443.6 224,1444 224.6,1444.5 225.2,1444.6 225.8,1445.2 226.4,1445.5 227,1446.3 227.6,1445.9 228.2,1447.2 228.8,1446.9 229.4,1449 230,1447.8 230.6,1447.4 231.2,1448.3 231.8,1447.8 232.4,1447.7 233,1450 233.6,1448.8 234.2,1449.6 234.8,1449 235.4,1450.3 236,1450.7 236.6,1450.7 237.2,1451.6 237.8,1453.1 238.4,1453.4 239,1453.6 239.6,1453.2 240.2,1454.2 240.8,1454.7 241.4,1454.3 242,1456 242.6,1455.8 243.2,1456.2 243.8,1456.7 244.4,1457.4 245,1456.5 245.6,1457.8 246.2,1458.5 246.8,1458.9 247.4,1458.6 248,1458.4 248.6,1459.8 249.2,1460.9 249.8,1460.3 250.4,1459.7 251,1459.8 251.6,1461.3 252.2,1461.2 252.8,1460.8 253.4,1461.6 254,1461.8 254.6,1461.5 255.2,1461.7 255.8,1460.9 256.4,1461.7 257,1463.6 257.6,1463.5 258.2,1463.3 258.8,1463.9 259.4,1464.6 260,1465.4 260.6,1464.2 261.2,1465 261.8,1465.9 262.4,1464.2 263,1464.9 263.6,1464.2 264.2,1465.8 264.8,1465 265.4,1465.8 266,1466.2 266.6,1465.9 267.2,1465.2 267.8,1465.4 268.4,1465.9 269,1466.6 269.6,1467.2 270.2,1466.3 270.8,1467.6 271.4,1467.1 272,1466.8 272.6,1466.3 273.2,1466 273.8,1465.3 274.4,1466.7 275,1467.1 275.6,1468.2 276.2,1467.6 276.8,1466.8 277.4,1468.3 278,1467.6 278.6,1469.5 279.2,1470.3 279.8,1469.5 280.4,1469.5 281,1470.9 281.6,1470.9 282.2,1471.2 282.8,1471.4 283.4,1470.6 284,1471.3 284.6,1471.9 285.2,1471.6 285.8,1471.2 286.4,1471.5 287,1471.9 287.6,1471.7 288.2,1471.1 288.8,1470.3 289.4,1470.9 290,1470.4 290.6,1470.5 291.2,1471.2 291.8,1471.3 292.4,1469.4 293,1469.5 293.6,1470.7 294.2,1469.5 294.8,1469.1 295.4,1470.1 296,1470.3 296.6,1470.8 297.2,1471.7 297.8,1471.9 298.4,1471.8 299,1472.2 299.6,1473.2 300.2,1471 300.8,1472.6 301.4,1471.6 302,1471.6 302.6,1472.7 303.2,1472.6 303.8,1472.1 304.4,1471.3 305,1471.3 305.6,1470.7 306.2,1471.2 306.8,1472.1 307.4,1470.1 308,1471.3 308.6,1471.1 309.2,1470.5 309.8,1471.7 310.4,1472.2 311,1470.5 311.6,1471 312.2,1472.7 312.8,1472.5 313.4,1473.2 314,1472.9 314.6,1473.3 315.2,1473 315.8,1472.3 316.4,1472.7 317,1472.1 317.6,1472.6 318.2,1471.4 318.8,1472.8 319.4,1472.8 320,1473.2 320.6,1472.7 321.2,1473.5 321.8,1472.5 322.4,1472.5 323,1473.6 323.6,1473.8 324.2,1473.3 324.8,1473 325.4,1473 326,1472.7 326.6,1472.5 327.2,1473.6 327.8,1472.9 328.4,1472.7 329,1472.1 329.6,1473 330.2,1472.4 330.8,1473.6 331.4,1473.2 332,1472.9 332.6,1472.5 333.2,1472.6 333.8,1472.7 334.4,1473.1 335,1473.2 335.6,1474.3 336.2,1474.5 336.8,1474.2 337.4,1474.9 338,1473.9 338.6,1473.1 339.2,1473.8 339.8,1473.9 340.4,1473.8 341,1474.8 341.6,1475 342.2,1475.6 342.8,1475.1 343.4,1475.3 344,1475.4 344.6,1475.2 345.2,1475.7 345.8,1476.3 346.4,1476.5 347,1476.8 347.6,1475.6 348.2,1476.3 348.8,1474.5 349.4,1476.8 350,1475.2 350.6,1476 351.2,1475.2 351.8,1475.5 352.4,1475.5 353,1474.8 353.6,1474.4 354.2,1474.9 354.8,1474.3 355.4,1476 356,1474.7 356.6,1476.1 357.2,1474.6 357.8,1474.3 358.4,1476.3 359,1475.5 359.6,1474.7 360.2,1474.5 360.8,1474.6 361.4,1475.9 362,1474.5 362.6,1475 363.2,1476.2 363.8,1477 364.4,1475.3 365,1475.6 365.6,1475.8 366.2,1476.6 366.8,1476.2 367.4,1476.3 368,1476.4 368.6,1476.6 369.2,1476.5 369.8,1475.7 370.4,1475.9 371,1475.7 371.6,1476.3 372.2,1476.9 372.8,1476.7 373.4,1475.6 374,1476.4 374.6,1476 375.2,1477.7 375.8,1477.3 376.4,1477.4 377,1478.4 377.6,1478.6 378.2,1479 378.8,1478.7 379.4,1479.4 380,1479.2 380.6,1477.8 381.2,1479.9 381.8,1480.8 382.4,1480.6 383,1478.8 383.6,1481.1 384.2,1481.3 384.8,1480.7 385.4,1480.9 386,1481.1 386.6,1481.1 387.2,1481.1 387.8,1480.8 388.4,1482.8 389,1482.5 389.6,1482.5 390.2,1482.4 390.8,1483.3 391.4,1483.1 392,1483.8 392.6,1483.5 393.2,1483.6 393.8,1484.4 394.4,1485 395,1483.7 395.6,1483.8 396.2,1484.8 396.8,1484.2 397.4,1485.1 398,1485.9 398.6,1485.5 399.2,1486.4 399.8,1486.5 400.4,1486.6 401,1486.6 401.6,1487.2 402.2,1486.6 402.8,1486.6 403.4,1487.8 404,1487.1 404.6,1487.7 405.2,1487.4 405.8,1489 406.4,1489.2 407,1489.6 407.6,1488.7 408.2,1488.4 408.8,1489.8 409.4,1490.8 410,1489.3 410.6,1489.2 411.2,1489.1 411.8,1490.8 412.4,1489.4 413,1490.1 413.6,1490.2 414.2,1489.9 414.8,1490 415.4,1489.9 416,1490 416.6,1491.1 417.2,1491.4 417.8,1489.6 418.4,1489.8 419,1490.1 419.6,1490.7 420.2,1491.1 420.8,1489.9 421.4,1491.8 422,1492.8 422.6,1492.9 423.2,1492.8 423.8,1491.9 424.4,1494.1 425,1493.6 425.6,1493.6 426.2,1493.3 426.8,1494.1 427.4,1494.7 428,1493.3 428.6,1492.5 429.2,1493.3 429.8,1492.2 430.4,1492.8 431,1492.5 431.6,1492.6 432.2,1493.8 432.8,1493 433.4,1494.1 434,1492.1 434.6,1493 435.2,1492.9 435.8,1493.5 436.4,1493.4 437,1494.5 437.6,1493.6 438.2,1494.8 438.8,1494.2 439.4,1493.7 440,1494.1 440.6,1495.1 441.2,1494.9 441.8,1494.8 442.4,1495 443,1495.5 443.6,1496.3 444.2,1495.9 444.8,1495.8 445.4,1495.5 446,1495 446.6,1495.5 447.2,1495 447.8,1495.1 448.4,1496 449,1495.9 449.6,1494.3 450.2,1493.8 450.8,1495.4 451.4,1494.8 452,1496.3 452.6,1495.5 453.2,1496.8 453.8,1497.1 454.4,1496.2 455,1497.9 455.6,1497 456.2,1497.4 456.8,1497.2 457.4,1497.1 458,1497.3 458.6,1497.2 459.2,1498 459.8,1497.1 460.4,1498 461,1498 461.6,1498.2 462.2,1497.6 462.8,1498.9 463.4,1497.7 464,1497.3 464.6,1496.9 465.2,1498.3 465.8,1497.9 466.4,1497 467,1497.5 467.6,1497.7 468.2,1499 468.8,1498.8 469.4,1498.8 470,1498.2 470.6,1499.1 471.2,1499 471.8,1499.5 472.4,1498.6 473,1497.8 473.6,1498.7 474.2,1499.5 474.8,1499.9 475.4,1497.8 476,1500.2 476.6,1500.2 477.2,1499.8 477.8,1499.8 478.4,1500.4 479,1500 479.6,1501 480.2,1499.9 480.8,1501.2 481.4,1500.2 482,1500.1 482.6,1500.7 483.2,1500.5" fill="none" stroke="#231815" stroke-width="2.1" stroke-linejoin="round"/>
<polyline points="117.6,1520.5 126.8,1520.5 128,1518.9 128.6,1510.4 129.2,1498.2 129.8,1488.3 130.4,1478.6 131,1468.4 131.6,1458.5 132.2,1449.9 132.8,1443.3 133.4,1436.7 134,1432.6 134.6,1430.9 135.2,1428.6 135.8,1428.6 136.4,1428.8 137,1427.3 137.6,1428.7 138.2,1428 138.8,1429.7 139.4,1429.4 140,1431.1 140.6,1429.7 141.2,1430 141.8,1430.1 142.4,1430.5 143,1431.7 143.6,1432.4 144.2,1432.9 144.8,1435 145.4,1435.1 146,1435.4 146.6,1436 147.2,1436.2 147.8,1436.4 148.4,1439 149,1439.6 149.6,1439.8 150.2,1440.8 150.8,1441.4 151.4,1441.1 152,1442.9 152.6,1443.9 153.2,1445.7 153.8,1445.9 154.4,1446.4 155,1447.3 155.6,1446.9 156.2,1448.2 156.8,1449.3 157.4,1448.4 158,1450.2 158.6,1451.6 159.2,1450.8 159.8,1450.7 160.4,1452.5 161,1453.1 161.6,1453.1 162.2,1453.8 162.8,1453.7 163.4,1456.7 164,1455 164.6,1455.2 165.2,1456.6 165.8,1457.1 166.4,1456.8 167,1457 167.6,1458 168.2,1458.7 168.8,1458.5 169.4,1459 170,1459.5 170.6,1459.9 171.2,1460.1 171.8,1460.1 172.4,1461.6 173,1462.1 173.6,1462.5 174.2,1461.5 174.8,1462.9 175.4,1463.6 176,1463.3 176.6,1463.2 177.2,1463.8 177.8,1463.7 178.4,1463.6 179,1464.4 179.6,1465 180.2,1464.8 180.8,1466 181.4,1465.8 182,1464.6 182.6,1465.6 183.2,1466.1 183.8,1465.3 184.4,1466.1 185,1467.2 185.6,1467.1 186.2,1467 186.8,1467 187.4,1467.6 188,1467.5 188.6,1467.5 189.2,1467.6 189.8,1468.4 190.4,1469.5 191,1470 191.6,1470.8 192.2,1470.5 192.8,1470.7 193.4,1472.7 194,1472.7 194.6,1472.5 195.2,1472.8 195.8,1472.7 196.4,1473.6 197,1472.7 197.6,1474.3 198.2,1475.3 198.8,1475.1 199.4,1476 200,1475.5 200.6,1474.6 201.2,1475 201.8,1474.2 202.4,1476.6 203,1476.2 203.6,1476.6 204.2,1475.2 204.8,1475.5 205.4,1476.5 206,1476.3 206.6,1476.7 207.2,1478.1 207.8,1477.8 208.4,1478.2 209,1477.9 209.6,1478.1 210.2,1478.8 210.8,1479.1 211.4,1480.5 212,1479.4 212.6,1478 213.2,1478.6 213.8,1478.9 214.4,1480.3 215,1479.9 215.6,1479.3 216.2,1479.6 216.8,1480.6 217.4,1480.6 218,1480.6 218.6,1481 219.2,1480.7 219.8,1481.9 220.4,1482.2 221,1482.1 221.6,1482.6 222.2,1482.4 222.8,1484.1 223.4,1483.1 224,1483 224.6,1482.6 225.2,1483.5 225.8,1484.1 226.4,1483.8 227,1482.8 227.6,1483.4 228.2,1482.8 228.8,1483.3 229.4,1483.3 230,1483.4 230.6,1483.2 231.2,1483.4 231.8,1483.8 232.4,1483.5 233,1482.9 233.6,1483.7 234.2,1483.8 234.8,1484.3 235.4,1484.4 236,1485.3 236.6,1484.2 237.2,1485.9 237.8,1485.1 238.4,1485.6 239,1485.8 239.6,1486.3 240.2,1485.2 240.8,1487.8 241.4,1486.5 242,1487.3 242.6,1486.4 243.2,1487.3 243.8,1486.9 244.4,1487.4 245,1487.2 245.6,1486.4 246.2,1485.9 246.8,1487.2 247.4,1486 248,1486.7 248.6,1486.5 249.2,1486.8 249.8,1485.4 250.4,1486 251,1486.3 251.6,1486.9 252.2,1488.4 252.8,1488.5 253.4,1489.2 254,1488.9 254.6,1489.7 255.2,1489.6 255.8,1489.5 256.4,1489.1 257,1490.2 257.6,1490 258.2,1488.6 258.8,1487.7 259.4,1488.6 260,1488.2 260.6,1488.2 261.2,1487.5 261.8,1488.6 262.4,1489.1 263,1488.7 263.6,1487.6 264.2,1487.6 264.8,1488.5 265.4,1488.2 266,1488 266.6,1487.6 267.2,1490 267.8,1490 268.4,1489 269,1489.4 269.6,1490.4 270.2,1490.7 270.8,1490.8 271.4,1490 272,1489.9 272.6,1490.5 273.2,1491.3 273.8,1490.6 274.4,1490.2 275,1490.1 275.6,1491.2 276.2,1489.6 276.8,1490.1 277.4,1490.1 278,1490.3 278.6,1490.6 279.2,1489 279.8,1488.5 280.4,1490.1 281,1490.5 281.6,1490.4 282.2,1490.4 282.8,1490.6 283.4,1490.3 284,1491.8 284.6,1490 285.2,1491.4 285.8,1490.5 286.4,1490.4 287,1490.4 287.6,1490.4 288.2,1490.4 288.8,1490.2 289.4,1490.1 290,1489.8 290.6,1491.3 291.2,1490.6 291.8,1491.4 292.4,1493 293,1493 293.6,1492.6 294.2,1493.4 294.8,1492.8 295.4,1492.9 296,1492.1 296.6,1493.4 297.2,1492.9 297.8,1492.1 298.4,1491.4 299,1491.8 299.6,1491.1 300.2,1491.3 300.8,1491.6 301.4,1491.2 302,1492.3 302.6,1492 303.2,1490.2 303.8,1491.3 304.4,1489.9 305,1489.4 305.6,1489.7 306.2,1490.5 306.8,1491 307.4,1489.7 308,1490.3 308.6,1490.3 309.2,1491.2 309.8,1491.4 310.4,1492.1 311,1492 311.6,1492.5 312.2,1492.4 312.8,1492.4 313.4,1491.8 314,1492.9 314.6,1492.1 315.2,1491.9 315.8,1491.7 316.4,1491.9 317,1491 317.6,1491.9 318.2,1491 318.8,1492.4 319.4,1490.4 320,1492.4 320.6,1491.8 321.2,1491.5 321.8,1492.3 322.4,1492.2 323,1492.5 323.6,1492.1 324.2,1492.6 324.8,1493.1 325.4,1493.2 326,1493.3 326.6,1494.2 327.2,1494.8 327.8,1494.6 328.4,1494.9 329,1494.9 329.6,1495.3 330.2,1495.6 330.8,1495 331.4,1495.1 332,1494.2 332.6,1495 333.2,1494.1 333.8,1493.7 334.4,1493.7 335,1493 335.6,1493.4 336.2,1491.8 336.8,1492.7 337.4,1493.1 338,1493.2 338.6,1492.3 339.2,1492 339.8,1492.4 340.4,1493.1 341,1493.1 341.6,1493.9 342.2,1493.8 342.8,1493.4 343.4,1493.2 344,1493.5 344.6,1493.2 345.2,1493.5 345.8,1493.6 346.4,1494.5 347,1493.8 347.6,1493.5 348.2,1494.5 348.8,1494 349.4,1494.4 350,1494.2 350.6,1494.1 351.2,1494.2 351.8,1493.7 352.4,1493.7 353,1493.6 353.6,1494.6 354.2,1494.8 354.8,1493.6 355.4,1494.7 356,1494.6 356.6,1493.7 357.2,1494.5 357.8,1494.5 358.4,1494.2 359,1493.7 359.6,1494.7 360.2,1494.1 360.8,1493.7 361.4,1492.9 362,1494.2 362.6,1492.1 363.2,1493.8 363.8,1492.4 364.4,1493.4 365,1493.7 365.6,1493.6 366.2,1493.8 366.8,1494.3 367.4,1493.5 368,1494.4 368.6,1494.6 369.2,1494.1 369.8,1495.1 370.4,1494.5 371,1495.6 371.6,1494.3 372.2,1495.6 372.8,1495.8 373.4,1494.7 374,1494.6 374.6,1495.2 375.2,1495.9 375.8,1493.5 376.4,1493.2 377,1492 377.6,1492 378.2,1493.8 378.8,1492.7 379.4,1493 380,1493.2 380.6,1494.5 381.2,1493.3 381.8,1494 382.4,1494.3 383,1494.2 383.6,1494.9 384.2,1495.5 384.8,1494.2 385.4,1494.6 386,1494.9 386.6,1494.4 387.2,1493.6 387.8,1494.5 388.4,1493.9 389,1494.2 389.6,1493.3 390.2,1494.6 390.8,1495.5 391.4,1493.9 392,1494.8 392.6,1495.9 393.2,1494.4 393.8,1495.4 394.4,1494.8 395,1494.5 395.6,1494.3 396.2,1495.5 396.8,1494.2 397.4,1495.5 398,1493.1 398.6,1494.9 399.2,1494.8 399.8,1494.9 400.4,1493.8 401,1495.1 401.6,1494.1 402.2,1495.2 402.8,1495.7 403.4,1495.8 404,1495.3 404.6,1495.9 405.2,1495.9 405.8,1494.8 406.4,1494.2 407,1494.9 407.6,1493.8 408.2,1495 408.8,1496.8 409.4,1496.2 410,1494.9 410.6,1495.7 411.2,1496.1 411.8,1495.3 412.4,1494.3 413,1494.3 413.6,1496.3 414.2,1495.9 414.8,1495.9 415.4,1495.6 416,1495.6 416.6,1495.9 417.2,1495.7 417.8,1496.3 418.4,1496.2 419,1495.4 419.6,1497.4 420.2,1496.9 420.8,1497.9 421.4,1496.9 422,1497.1 422.6,1497 423.2,1496.4 423.8,1496.5 424.4,1498.1 425,1497 425.6,1497.9 426.2,1497.2 426.8,1496.8 427.4,1495.6 428,1496.5 428.6,1495.9 429.2,1496.3 429.8,1495.7 430.4,1496 431,1496.7 431.6,1497.3 432.2,1496.4 432.8,1497.2 433.4,1497.9 434,1498.5 434.6,1498 435.2,1497.6 435.8,1497.9 436.4,1497.3 437,1498.5 437.6,1497.9 438.2,1498.6 438.8,1499.4 439.4,1499.2 440,1498.9 440.6,1498.8 441.2,1498.6 441.8,1498.7 442.4,1499.3 443,1500.2 443.6,1499.8 444.2,1499.1 444.8,1500.2 445.4,1499.4 446,1499.9 446.6,1500.5 447.2,1500.7 447.8,1501.6 448.4,1500.4 449,1501.5 449.6,1501.2 450.2,1500.8 450.8,1500.9 451.4,1500 452,1500.5 452.6,1499.8 453.2,1500.6 453.8,1499.7 454.4,1500.7 455,1500.4 455.6,1500.2 456.2,1500.5 456.8,1500.3 457.4,1501.5 458,1501.1 458.6,1500.8 459.2,1500.7 459.8,1500.9 460.4,1501.4 461,1501.1 461.6,1500.9 462.2,1500.8 462.8,1501 463.4,1502.4 464,1501.8 464.6,1502.4 465.2,1503.1 465.8,1502.5 466.4,1502.2 467,1502.2 467.6,1503.1 468.2,1501.7 468.8,1502.8 469.4,1504.1 470,1503.6 470.6,1502.9 471.2,1502.9 471.8,1502.8 472.4,1502.6 473,1504.1 473.6,1504.2 474.2,1503.4 474.8,1504.4 475.4,1504.6 476,1504.5 476.6,1505 477.2,1504.2 477.8,1504.2 478.4,1504.5 479,1505.1 479.6,1504.4 480.2,1505.4 480.8,1503.3 481.4,1503.8 482,1505 482.6,1503.4 483.2,1504.2" fill="none" stroke="#231815" stroke-width="2.1" stroke-linejoin="round"/>
<polyline points="117.6,1520.5 126.8,1520.5 128,1518.9 128.6,1516 129.2,1512.4 129.8,1508.8 130.4,1504.5 131,1499.7 131.6,1496.3 132.2,1492.6 132.8,1489 133.4,1487.4 134,1482.8 134.6,1481.6 135.2,1479 135.8,1477.5 136.4,1475.9 137,1474.6 137.6,1474.1 138.2,1474.3 138.8,1473.4 139.4,1474.9 140,1473.7 140.6,1475.1 141.2,1474.6 141.8,1475.4 142.4,1475.7 143,1476.1 143.6,1476.1 144.2,1475.1 144.8,1473.7 145.4,1475 146,1475 146.6,1476.7 147.2,1477.1 147.8,1475.5 148.4,1477.3 149,1476.6 149.6,1476.5 150.2,1477.5 150.8,1477 151.4,1478.3 152,1478.2 152.6,1479.4 153.2,1479 153.8,1478.4 154.4,1480.2 155,1480 155.6,1480.9 156.2,1480.5 156.8,1480.6 157.4,1481.2 158,1482.6 158.6,1483.3 159.2,1483.4 159.8,1482.8 160.4,1484 161,1483.3 161.6,1482.8 162.2,1484 162.8,1483.2 163.4,1485.2 164,1484.8 164.6,1485 165.2,1486 165.8,1485.3 166.4,1486.8 167,1485.7 167.6,1486.5 168.2,1486.5 168.8,1487.1 169.4,1485.9 170,1487 170.6,1487.5 171.2,1487.3 171.8,1488.4 172.4,1488.9 173,1488.4 173.6,1488.6 174.2,1488.7 174.8,1488.3 175.4,1488.9 176,1489 176.6,1489.3 177.2,1489 177.8,1488.6 178.4,1489.5 179,1488.7 179.6,1489.6 180.2,1487.9 180.8,1488.8 181.4,1489.5 182,1490.1 182.6,1490.8 183.2,1492.3 183.8,1490.7 184.4,1491.3 185,1490.6 185.6,1491 186.2,1491.7 186.8,1493.2 187.4,1492.5 188,1492.7 188.6,1492.2 189.2,1492.4 189.8,1494.1 190.4,1492.4 191,1492.7 191.6,1493.7 192.2,1493.1 192.8,1492.6 193.4,1492.2 194,1493.5 194.6,1493.6 195.2,1494 195.8,1494.8 196.4,1495.4 197,1495.3 197.6,1495.4 198.2,1494.2 198.8,1495.9 199.4,1495.5 200,1496 200.6,1497.4 201.2,1496.4 201.8,1497.1 202.4,1497.2 203,1496.9 203.6,1495.6 204.2,1497 204.8,1497.8 205.4,1497.7 206,1497.7 206.6,1497.2 207.2,1498.6 207.8,1497.6 208.4,1498.8 209,1498.2 209.6,1499.5 210.2,1500.1 210.8,1499.6 211.4,1498.4 212,1499.8 212.6,1499.3 213.2,1499.2 213.8,1499.1 214.4,1498.6 215,1499.1 215.6,1497.4 216.2,1498.2 216.8,1498 217.4,1497.9 218,1498.6 218.6,1498.2 219.2,1498.6 219.8,1499.7 220.4,1499.8 221,1500.9 221.6,1500.1 222.2,1501.2 222.8,1501.2 223.4,1501.3 224,1501.6 224.6,1502.4 225.2,1501.8 225.8,1501.3 226.4,1501.2 227,1501.2 227.6,1499.8 228.2,1501.7 228.8,1502 229.4,1501.5 230,1500.9 230.6,1499.5 231.2,1499.7 231.8,1500 232.4,1499.7 233,1499.3 233.6,1500 234.2,1499.3 234.8,1499.6 235.4,1500.7 236,1500.6 236.6,1500.3 237.2,1500.8 237.8,1501 238.4,1501.5 239,1501.6 239.6,1501.9 240.2,1501.8 240.8,1502 241.4,1503.4 242,1501.8 242.6,1501.2 243.2,1501.9 243.8,1501 244.4,1502.6 245,1502.9 245.6,1502.5 246.2,1500.2 246.8,1502.2 247.4,1502.6 248,1502.1 248.6,1503.8 249.2,1501.9 249.8,1502.7 250.4,1503.2 251,1503 251.6,1504 252.2,1504.1 252.8,1504.3 253.4,1503.6 254,1503.6 254.6,1503.6 255.2,1504.2 255.8,1504 256.4,1502.2 257,1503.9 257.6,1503.1 258.2,1502.5 258.8,1503.8 259.4,1502.1 260,1502.2 260.6,1502.5 261.2,1502.4 261.8,1503.2 262.4,1503.2 263,1503.2 263.6,1503.9 264.2,1504.1 264.8,1503.5 265.4,1502.2 266,1502.8 266.6,1503.4 267.2,1504.7 267.8,1503.7 268.4,1503.7 269,1503.1 269.6,1504 270.2,1504.8 270.8,1503.2 271.4,1503 272,1503.6 272.6,1503.9 273.2,1503 273.8,1502.7 274.4,1501.9 275,1502.2 275.6,1501.9 276.2,1501.5 276.8,1501.2 277.4,1503.2 278,1502.3 278.6,1502.5 279.2,1501.1 279.8,1501.9 280.4,1501.4 281,1502.3 281.6,1501.6 282.2,1501 282.8,1500.8 283.4,1500.1 284,1499.8 284.6,1498.5 285.2,1498 285.8,1499.6 286.4,1499.7 287,1499.3 287.6,1499.6 288.2,1498.5 288.8,1498 289.4,1498.1 290,1497.8 290.6,1497.8 291.2,1497.9 291.8,1497.5 292.4,1498.1 293,1497 293.6,1497.2 294.2,1497.3 294.8,1498.3 295.4,1498.1 296,1497 296.6,1498.2 297.2,1497.8 297.8,1497.7 298.4,1497.6 299,1496.5 299.6,1496.9 300.2,1496.6 300.8,1496.6 301.4,1496.8 302,1496.5 302.6,1495.3 303.2,1496.6 303.8,1495.7 304.4,1494.5 305,1496.9 305.6,1497.2 306.2,1497.2 306.8,1495.8 307.4,1495.3 308,1495.4 308.6,1496.7 309.2,1496.6 309.8,1497.2 310.4,1497.2 311,1496.4 311.6,1496.7 312.2,1496.7 312.8,1496.2 313.4,1497.6 314,1495.4 314.6,1496.6 315.2,1495.9 315.8,1496.5 316.4,1496.5 317,1496.5 317.6,1496.5 318.2,1496.2 318.8,1495.3 319.4,1496.5 320,1496.3 320.6,1495.5 321.2,1496.5 321.8,1496.2 322.4,1496.1 323,1495.7 323.6,1494.8 324.2,1496.2 324.8,1495.4 325.4,1497.8 326,1496.6 326.6,1497 327.2,1497.7 327.8,1497.1 328.4,1497.9 329,1498.8 329.6,1498.1 330.2,1498.1 330.8,1497.7 331.4,1498.2 332,1498 332.6,1498.7 333.2,1496.5 333.8,1497.7 334.4,1498.2 335,1497.5 335.6,1498.5 336.2,1498.3 336.8,1496.9 337.4,1498.6 338,1497.4 338.6,1497.5 339.2,1498 339.8,1498 340.4,1498.5 341,1498.6 341.6,1498.5 342.2,1499.1 342.8,1499.6 343.4,1499 344,1499.1 344.6,1499.3 345.2,1499.6 345.8,1499.5 346.4,1499 347,1499.6 347.6,1499.3 348.2,1499.4 348.8,1500.1 349.4,1500.2 350,1499.2 350.6,1499.3 351.2,1498.8 351.8,1498 352.4,1498.6 353,1499.4 353.6,1499.7 354.2,1499.4 354.8,1499.2 355.4,1499.4 356,1499.7 356.6,1500.4 357.2,1500.8 357.8,1500.3 358.4,1498.9 359,1501.3 359.6,1501.1 360.2,1501.2 360.8,1501.3 361.4,1501.6 362,1501.5 362.6,1500.6 363.2,1500.6 363.8,1500.7 364.4,1500.6 365,1501.1 365.6,1502 366.2,1501.2 366.8,1502.1 367.4,1502.1 368,1501.2 368.6,1500.8 369.2,1500.5 369.8,1500.3 370.4,1501.8 371,1501.8 371.6,1502.3 372.2,1501.9 372.8,1501.3 373.4,1502 374,1500.4 374.6,1501.2 375.2,1501.4 375.8,1501.6 376.4,1502.6 377,1502.5 377.6,1501.3 378.2,1501.2 378.8,1501.3 379.4,1501.4 380,1503 380.6,1501.4 381.2,1501.7 381.8,1502.1 382.4,1501 383,1501 383.6,1501.3 384.2,1501.6 384.8,1502 385.4,1501 386,1501.1 386.6,1499.9 387.2,1499.8 387.8,1500.4 388.4,1500.3 389,1500.9 389.6,1500.4 390.2,1499.4 390.8,1499.4 391.4,1500 392,1499.5 392.6,1500.5 393.2,1501.4 393.8,1499.7 394.4,1499.9 395,1500.3 395.6,1500.4 396.2,1500.1 396.8,1500.5 397.4,1500.1 398,1500.4 398.6,1500.6 399.2,1500.6 399.8,1499.5 400.4,1499.6 401,1500.8 401.6,1501.3 402.2,1502.2 402.8,1501.9 403.4,1502.1 404,1502 404.6,1503.5 405.2,1501.8 405.8,1501.4 406.4,1501.1 407,1502.2 407.6,1503.3 408.2,1502.5 408.8,1502 409.4,1502.1 410,1502.1 410.6,1501.9 411.2,1502.1 411.8,1502.1 412.4,1502 413,1502.9 413.6,1501.3 414.2,1501.2 414.8,1500.5 415.4,1500.7 416,1501 416.6,1501.5 417.2,1500.3 417.8,1500.5 418.4,1500.5 419,1499.9 419.6,1500 420.2,1499.3 420.8,1500.9 421.4,1500.9 422,1501.3 422.6,1501.2 423.2,1501 423.8,1501.5 424.4,1501.3 425,1501.1 425.6,1501.6 426.2,1501.8 426.8,1501.6 427.4,1500 428,1500.4 428.6,1500.9 429.2,1500.5 429.8,1500.9 430.4,1501 431,1500.8 431.6,1501.7 432.2,1502.4 432.8,1502.5 433.4,1502.5 434,1502.4 434.6,1499.7 435.2,1501.9 435.8,1501.8 436.4,1500.4 437,1500.8 437.6,1501 438.2,1500.7 438.8,1501.9 439.4,1501.9 440,1503.4 440.6,1503.9 441.2,1502.6 441.8,1503.6 442.4,1504.7 443,1504.4 443.6,1504.3 444.2,1504.5 444.8,1504.6 445.4,1504.7 446,1505.5 446.6,1505.5 447.2,1504.6 447.8,1504.4 448.4,1505.4 449,1505 449.6,1504 450.2,1505.3 450.8,1504.3 451.4,1505.4 452,1505.4 452.6,1505.8 453.2,1504.6 453.8,1506.1 454.4,1505 455,1505.8 455.6,1504.8 456.2,1505 456.8,1505.5 457.4,1507.3 458,1506.9 458.6,1506.3 459.2,1506.4 459.8,1506.2 460.4,1506.3 461,1507.1 461.6,1506.7 462.2,1507.2 462.8,1507.6 463.4,1506.7 464,1507 464.6,1507.5 465.2,1508.3 465.8,1507.3 466.4,1507.3 467,1507.7 467.6,1506.8 468.2,1507.1 468.8,1507.3 469.4,1506.7 470,1506.5 470.6,1506.8 471.2,1507.2 471.8,1507.4 472.4,1508.4 473,1508.5 473.6,1507.6 474.2,1508.2 474.8,1508.4 475.4,1509.7 476,1510 476.6,1509.3 477.2,1509.1 477.8,1509.4 478.4,1509.9 479,1510 479.6,1509.3 480.2,1509.4 480.8,1509.7 481.4,1510.5 482,1509.6 482.6,1510.6 483.2,1510.1" fill="none" stroke="#231815" stroke-width="2.1" stroke-linejoin="round"/>
<polyline points="117.6,1520.5 126.8,1520.5 128,1520.4 128.6,1517.7 129.2,1518.7 129.8,1518.2 130.4,1517.2 131,1516.9 131.6,1515.7 132.2,1513.1 132.8,1511.1 133.4,1510.2 134,1509.5 134.6,1509 135.2,1509 135.8,1509.3 136.4,1507.5 137,1507.5 137.6,1507.5 138.2,1507.6 138.8,1507.4 139.4,1507.6 140,1508.1 140.6,1507.8 141.2,1508.9 141.8,1509.3 142.4,1509.8 143,1510.2 143.6,1509.6 144.2,1511.3 144.8,1510.5 145.4,1510.9 146,1511.2 146.6,1511.2 147.2,1511.8 147.8,1512.5 148.4,1511.7 149,1512.7 149.6,1512.1 150.2,1512 150.8,1512.1 151.4,1512.4 152,1512.3 152.6,1513.3 153.2,1513 153.8,1513.3 154.4,1513.3 155,1513 155.6,1512.6 156.2,1513.3 156.8,1512.9 157.4,1514.6 158,1513.9 158.6,1515.2 159.2,1513.9 159.8,1514.9 160.4,1513.4 161,1514.9 161.6,1514.7 162.2,1515.3 162.8,1513.9 163.4,1515.6 164,1514.4 164.6,1514.6 165.2,1513.7 165.8,1514.3 166.4,1515.5 167,1516.4 167.6,1516.2 168.2,1515.9 168.8,1516.9 169.4,1516.1 170,1517.3 170.6,1516.9 171.2,1518.3 171.8,1517 172.4,1517.6 173,1517.9 173.6,1517.9 174.2,1516.4 174.8,1516.9 175.4,1515.4 176,1516.4 176.6,1515.9 177.2,1516.5 177.8,1516.3 178.4,1517.5 179,1516.2 179.6,1516.2 180.2,1517.2 180.8,1516.7 181.4,1516.1 182,1515.9 182.6,1516.9 183.2,1516.9 183.8,1516.7 184.4,1517.1 185,1517.6 185.6,1517.4 186.2,1517.9 186.8,1517.8 187.4,1517.8 188,1519.3 188.6,1519.6 189.2,1518.7 189.8,1518.7 190.4,1519.5 191,1518.8 191.6,1517.3 192.2,1517.6 192.8,1518.6 193.4,1517.8 194,1518.8 194.6,1518.3 195.2,1518.8 195.8,1518.6 196.4,1519.2 197,1519 197.6,1518.9 198.2,1519.4 198.8,1521.1 199.4,1520.1 200,1520.3 200.6,1521.6 201.2,1520.3 201.8,1521.1 202.4,1519.5 203,1520.2 203.6,1520.1 204.2,1520.2 204.8,1520.9 205.4,1519.5 206,1520.1 206.6,1519.5 207.2,1520.6 207.8,1519 208.4,1519.9 209,1519.9 209.6,1519 210.2,1522 210.8,1520.1 211.4,1519.9 212,1520 212.6,1520 213.2,1519.9 213.8,1518.8 214.4,1520.4 215,1520.8 215.6,1520.8 216.2,1520.8 216.8,1520.6 217.4,1520.5 218,1521 218.6,1521.5 219.2,1521.1 219.8,1521.4 220.4,1520.9 221,1521.6 221.6,1522 222.2,1521.6 222.8,1520.6 223.4,1521.3 224,1521.1 224.6,1521 225.2,1522.1 225.8,1521.7 226.4,1520.8 227,1520.6 227.6,1521.6 228.2,1521 228.8,1522.2 229.4,1521.9 230,1521.4 230.6,1521.7 231.2,1522 231.8,1522.2 232.4,1521.7 233,1522.9 233.6,1521.9 234.2,1521.6 234.8,1520.7 235.4,1519.6 236,1520.7 236.6,1520.2 237.2,1520.9 237.8,1520.7 238.4,1520 239,1520.1 239.6,1520.1 240.2,1519.9 240.8,1520.5 241.4,1521 242,1520.8 242.6,1521.4 243.2,1520.9 243.8,1521.5 244.4,1521.6 245,1521.4 245.6,1522.8 246.2,1520.6 246.8,1520.2 247.4,1520.8 248,1520 248.6,1520.1 249.2,1519.9 249.8,1520.3 250.4,1519.4 251,1519.4 251.6,1520.4 252.2,1519.7 252.8,1519.5 253.4,1520.6 254,1521.7 254.6,1521.2 255.2,1520.6 255.8,1521.4 256.4,1521.8 257,1521.5 257.6,1521.8 258.2,1521.4 258.8,1522.9 259.4,1522.7 260,1521.3 260.6,1521.5 261.2,1522.2 261.8,1521.9 262.4,1522 263,1521.2 263.6,1521.1 264.2,1520.6 264.8,1520.9 265.4,1521 266,1521.2 266.6,1523 267.2,1521.5 267.8,1521.2 268.4,1521.3 269,1522 269.6,1522.3 270.2,1521.6 270.8,1521.9 271.4,1522.4 272,1522.7 272.6,1522.5 273.2,1522.8 273.8,1522.6 274.4,1521.4 275,1520.8 275.6,1520.5 276.2,1520.5 276.8,1520.4 277.4,1520.8 278,1519.3 278.6,1520.7 279.2,1520.9 279.8,1519.2 280.4,1519.3 281,1521.3 281.6,1520.2 282.2,1520.7 282.8,1523.1 283.4,1521.3 284,1521 284.6,1519.8 285.2,1521.3 285.8,1521.4 286.4,1520.9 287,1522.5 287.6,1520.9 288.2,1522.4 288.8,1522.1 289.4,1521.4 290,1522.2 290.6,1522.7 291.2,1522.7 291.8,1521.1 292.4,1522.5 293,1521.7 293.6,1522.5 294.2,1522.3 294.8,1521.7 295.4,1522.2 296,1521.6 296.6,1522.5 297.2,1521.5 297.8,1521.6 298.4,1521.2 299,1520.5 299.6,1521 300.2,1519.3 300.8,1520.2 301.4,1519 302,1519 302.6,1519.2 303.2,1518.8 303.8,1519.3 304.4,1518.6 305,1517.6 305.6,1519.1 306.2,1518.9 306.8,1520.3 307.4,1520 308,1520.4 308.6,1519.7 309.2,1520.5 309.8,1520 310.4,1520 311,1519.9 311.6,1520.5 312.2,1521.6 312.8,1521 313.4,1521 314,1520.4 314.6,1520.2 315.2,1521.2 315.8,1520.8 316.4,1520.5 317,1520.9 317.6,1520 318.2,1519.9 318.8,1519.2 319.4,1520 320,1519.7 320.6,1520.3 321.2,1520.4 321.8,1519.7 322.4,1519.7 323,1520 323.6,1519.3 324.2,1519.8 324.8,1520.7 325.4,1519.5 326,1520.9 326.6,1520 327.2,1520.2 327.8,1519.4 328.4,1520.8 329,1521.3 329.6,1520.9 330.2,1520.4 330.8,1521 331.4,1519.2 332,1520.4 332.6,1520.4 333.2,1520.3 333.8,1520.5 334.4,1519.9 335,1520.4 335.6,1520.5 336.2,1520.3 336.8,1519.5 337.4,1520.2 338,1519.9 338.6,1520.2 339.2,1520 339.8,1520.4 340.4,1520.3 341,1520.5 341.6,1519.2 342.2,1519.7 342.8,1519.5 343.4,1521 344,1519.1 344.6,1518.2 345.2,1520.5 345.8,1519.1 346.4,1519.6 347,1520.1 347.6,1520.5 348.2,1521.9 348.8,1522.3 349.4,1521.9 350,1521.1 350.6,1521.4 351.2,1521.3 351.8,1521.1 352.4,1520.8 353,1520.3 353.6,1520.9 354.2,1520.6 354.8,1520 355.4,1520.2 356,1520.3 356.6,1519.6 357.2,1521.3 357.8,1519.1 358.4,1519.9 359,1520.2 359.6,1519.7 360.2,1520.4 360.8,1519.1 361.4,1519.3 362,1521.1 362.6,1520.2 363.2,1520.9 363.8,1521.1 364.4,1521.4 365,1520.9 365.6,1520.1 366.2,1521.3 366.8,1521.1 367.4,1521.7 368,1521.9 368.6,1520.7 369.2,1521.6 369.8,1521.3 370.4,1520.9 371,1520.4 371.6,1520.7 372.2,1521.1 372.8,1520.6 373.4,1521.1 374,1521 374.6,1521.4 375.2,1520 375.8,1520 376.4,1520.3 377,1521.2 377.6,1519.9 378.2,1521.3 378.8,1521.1 379.4,1520.4 380,1520 380.6,1520.7 381.2,1520.7 381.8,1520.6 382.4,1519.9 383,1520.3 383.6,1520.1 384.2,1520.4 384.8,1520.7 385.4,1520.4 386,1520.5 386.6,1521.6 387.2,1520.8 387.8,1521.2 388.4,1520.6 389,1519.8 389.6,1520.6 390.2,1520.5 390.8,1520.1 391.4,1520.5 392,1519.6 392.6,1519.7 393.2,1520.1 393.8,1518.5 394.4,1520.3 395,1519.7 395.6,1519.2 396.2,1520 396.8,1519.2 397.4,1520.1 398,1519.7 398.6,1519.8 399.2,1519.1 399.8,1519.1 400.4,1519 401,1518.1 401.6,1519.2 402.2,1519.7 402.8,1518.8 403.4,1520.2 404,1518.9 404.6,1519.4 405.2,1520.8 405.8,1520 406.4,1521 407,1520.7 407.6,1520.5 408.2,1520.2 408.8,1520.8 409.4,1520.8 410,1521.1 410.6,1519.7 411.2,1518.9 411.8,1519.9 412.4,1520 413,1520.4 413.6,1520.9 414.2,1520.1 414.8,1520.1 415.4,1520.1 416,1521.4 416.6,1521.2 417.2,1522.1 417.8,1521.2 418.4,1521 419,1520.8 419.6,1520.2 420.2,1519.9 420.8,1520.6 421.4,1520.4 422,1520 422.6,1520 423.2,1519.8 423.8,1519.5 424.4,1520.3 425,1520.2 425.6,1519.8 426.2,1521.7 426.8,1522.2 427.4,1520.6 428,1522.5 428.6,1522.5 429.2,1522 429.8,1521.7 430.4,1522.3 431,1521.9 431.6,1521.9 432.2,1522.1 432.8,1522.5 433.4,1521 434,1521.6 434.6,1521.6 435.2,1521.5 435.8,1522 436.4,1522.5 437,1522.4 437.6,1521.6 438.2,1523 438.8,1523.1 439.4,1522.5 440,1523.5 440.6,1522.3 441.2,1522.7 441.8,1522.3 442.4,1521.9 443,1523.7 443.6,1522.3 444.2,1522.5 444.8,1522.7 445.4,1522.3 446,1521.6 446.6,1522.2 447.2,1523.6 447.8,1522.9 448.4,1522.9 449,1522.5 449.6,1524.1 450.2,1524.4 450.8,1523.1 451.4,1523.3 452,1523.7 452.6,1523.9 453.2,1524.4 453.8,1523.8 454.4,1523.8 455,1523.2 455.6,1522.8 456.2,1523.1 456.8,1523.1 457.4,1522.1 458,1521.7 458.6,1522.4 459.2,1523.4 459.8,1522 460.4,1522.2 461,1521.4 461.6,1521.4 462.2,1522.6 462.8,1522 463.4,1521.8 464,1522.2 464.6,1522.1 465.2,1521.9 465.8,1521.5 466.4,1520.1 467,1521.1 467.6,1520.2 468.2,1520.4 468.8,1519.3 469.4,1519.2 470,1520.3 470.6,1520.3 471.2,1519.8 471.8,1520.8 472.4,1521 473,1522.3 473.6,1523.2 474.2,1522.7 474.8,1523 475.4,1523.2 476,1523.9 476.6,1523.2 477.2,1523.4 477.8,1524.4 478.4,1523.8 479,1523.6 479.6,1524.1 480.2,1523.1 480.8,1523.9 481.4,1523.7 482,1523.8 482.6,1523.1 483.2,1523.1" fill="none" stroke="#231815" stroke-width="2.1" stroke-linejoin="round"/>
<line x1="126.5" y1="1297.6" x2="126.5" y2="1540.3" stroke="#231815" stroke-width="1.6"/>
<line x1="117.6" y1="1520.3" x2="127" y2="1520.3" stroke="#231815" stroke-width="4"/>
<path d="M521,1404 L521,1445.5 L585.1,1445.5" fill="none" stroke="#000" stroke-width="3.6" stroke-linejoin="miter"/>
<text x="508.8" y="1456.3" font-size="30.4" font-weight="bold" fill="#000" text-anchor="start" transform="rotate(-90 508.8 1456.3)">100 pA</text>
<text x="512.7" y="1481.7" font-size="30.4" font-weight="bold" fill="#000" text-anchor="start">100 ms</text>
<polyline points="630.2,1528 638.5,1528 639.6,1525.5 640.2,1486 640.8,1441.8 641.4,1397.3 642,1360.9 642.6,1339.1 643.2,1333.2 643.8,1332.7 644.4,1330.4 645,1330.3 645.6,1329.4 646.2,1329.2 646.8,1328.1 647.4,1330.7 648,1330.7 648.6,1330.8 649.2,1332 649.8,1331.3 650.4,1332.3 651,1332 651.6,1333.5 652.2,1334.2 652.8,1336.8 653.4,1336.1 654,1336.9 654.6,1338.5 655.2,1337.6 655.8,1339.6 656.4,1339.5 657,1340.4 657.6,1340.4 658.2,1342.1 658.8,1342.9 659.4,1344.3 660,1343.9 660.6,1344.5 661.2,1345.5 661.8,1347 662.4,1347.6 663,1348.6 663.6,1351.8 664.2,1353.4 664.8,1352.7 665.4,1353.4 666,1355.6 666.6,1357.3 667.2,1358.4 667.8,1359.6 668.4,1359.8 669,1360.1 669.6,1360.9 670.2,1360 670.8,1361.7 671.4,1361.4 672,1361.6 672.6,1362.2 673.2,1363.6 673.8,1363.5 674.4,1364.6 675,1365 675.6,1365.8 676.2,1366.7 676.8,1365.7 677.4,1367.6 678,1369 678.6,1367.8 679.2,1369 679.8,1369.9 680.4,1371.2 681,1371.9 681.6,1371.7 682.2,1373.6 682.8,1373.4 683.4,1374 684,1374.9 684.6,1374.4 685.2,1376.6 685.8,1376.7 686.4,1377.5 687,1379.2 687.6,1378.3 688.2,1380 688.8,1378.9 689.4,1380.3 690,1382.1 690.6,1381.1 691.2,1381.5 691.8,1382.4 692.4,1381.9 693,1383.5 693.6,1383 694.2,1384.6 694.8,1385.9 695.4,1385.2 696,1385.5 696.6,1386 697.2,1387.1 697.8,1387.7 698.4,1387.3 699,1387.4 699.6,1388.9 700.2,1388.9 700.8,1389.1 701.4,1389.1 702,1390.5 702.6,1391.2 703.2,1391.7 703.8,1391.5 704.4,1391.1 705,1391.8 705.6,1392.2 706.2,1393.5 706.8,1393.8 707.4,1394.2 708,1394.7 708.6,1393.3 709.2,1394.5 709.8,1394.5 710.4,1395.6 711,1395.8 711.6,1397 712.2,1396.6 712.8,1396.9 713.4,1397.8 714,1398.7 714.6,1399.2 715.2,1400 715.8,1400.1 716.4,1399.6 717,1400.6 717.6,1399.6 718.2,1399.9 718.8,1401 719.4,1401.8 720,1402.6 720.6,1402.5 721.2,1402.5 721.8,1403.3 722.4,1403.1 723,1404.8 723.6,1404.9 724.2,1402.5 724.8,1404 725.4,1404.8 726,1405.5 726.6,1404.1 727.2,1406.1 727.8,1405.9 728.4,1407.3 729,1407.7 729.6,1407.5 730.2,1407.9 730.8,1408.2 731.4,1409.5 732,1409.4 732.6,1408.8 733.2,1411.4 733.8,1411.4 734.4,1410.9 735,1412.1 735.6,1412.3 736.2,1413.6 736.8,1414 737.4,1414.1 738,1413.7 738.6,1414.2 739.2,1414.5 739.8,1415.7 740.4,1414.6 741,1415 741.6,1415.6 742.2,1416.7 742.8,1415.3 743.4,1416.3 744,1417.4 744.6,1416.6 745.2,1416.7 745.8,1417.5 746.4,1418.2 747,1418.3 747.6,1418.9 748.2,1418.5 748.8,1418.5 749.4,1418.9 750,1419.7 750.6,1419.5 751.2,1420.8 751.8,1420.3 752.4,1421 753,1420.3 753.6,1422.6 754.2,1421.4 754.8,1423 755.4,1422.1 756,1423.1 756.6,1423.6 757.2,1424.3 757.8,1423.8 758.4,1424.4 759,1424.8 759.6,1424.6 760.2,1424.1 760.8,1424 761.4,1423.9 762,1424.6 762.6,1424.7 763.2,1424.9 763.8,1425 764.4,1425.8 765,1426.4 765.6,1426.7 766.2,1426.5 766.8,1426.2 767.4,1426.2 768,1427.1 768.6,1428.5 769.2,1428 769.8,1426.5 770.4,1427.7 771,1427.7 771.6,1427.7 772.2,1428.3 772.8,1428.7 773.4,1427.6 774,1429 774.6,1429.5 775.2,1428.3 775.8,1429.7 776.4,1430.3 777,1430.1 777.6,1429.3 778.2,1429.3 778.8,1429.3 779.4,1429.6 780,1429.9 780.6,1429.3 781.2,1430.6 781.8,1429.9 782.4,1430.4 783,1428.3 783.6,1430.1 784.2,1430.1 784.8,1431.1 785.4,1430.6 786,1430.5 786.6,1431.4 787.2,1430.6 787.8,1433.3 788.4,1432.2 789,1432.3 789.6,1433.2 790.2,1433.4 790.8,1433.5 791.4,1433 792,1432.6 792.6,1433.4 793.2,1433.5 793.8,1433.5 794.4,1434.1 795,1433.4 795.6,1433.8 796.2,1434 796.8,1433.8 797.4,1433.7 798,1433.5 798.6,1434.4 799.2,1435.5 799.8,1433.7 800.4,1435 801,1433.3 801.6,1434.3 802.2,1433.5 802.8,1433.8 803.4,1434.8 804,1435.1 804.6,1435.1 805.2,1435.7 805.8,1436.8 806.4,1435.9 807,1436.3 807.6,1437.9 808.2,1437.7 808.8,1438.9 809.4,1440 810,1437.3 810.6,1438.9 811.2,1438.9 811.8,1440.2 812.4,1439.3 813,1438.7 813.6,1439 814.2,1440.3 814.8,1439.3 815.4,1438.8 816,1438.9 816.6,1439.7 817.2,1439.1 817.8,1440.7 818.4,1441 819,1440.3 819.6,1441.6 820.2,1440.3 820.8,1441 821.4,1441.4 822,1441.8 822.6,1441.6 823.2,1441.7 823.8,1441.3 824.4,1441.6 825,1443 825.6,1441.5 826.2,1442.7 826.8,1442.4 827.4,1443.1 828,1443.8 828.6,1444.6 829.2,1443.4 829.8,1444.9 830.4,1445.2 831,1444.5 831.6,1446 832.2,1444.9 832.8,1445.4 833.4,1445.6 834,1445.3 834.6,1445.4 835.2,1446.8 835.8,1446.2 836.4,1446.3 837,1446.8 837.6,1446.3 838.2,1445.8 838.8,1448.1 839.4,1447.1 840,1447.9 840.6,1446.7 841.2,1446.3 841.8,1447 842.4,1448.3 843,1449 843.6,1447.9 844.2,1448.3 844.8,1448.5 845.4,1449.1 846,1447.3 846.6,1448.7 847.2,1449 847.8,1448.5 848.4,1448.5 849,1448.7 849.6,1449.5 850.2,1450.3 850.8,1450.2 851.4,1450.8 852,1451.1 852.6,1452 853.2,1451.8 853.8,1452.2 854.4,1452.6 855,1452.8 855.6,1452.8 856.2,1453.6 856.8,1452.9 857.4,1453.1 858,1453.6 858.6,1453.6 859.2,1453.3 859.8,1453.9 860.4,1454.4 861,1453.9 861.6,1454.4 862.2,1454.9 862.8,1455.7 863.4,1455.4 864,1455.2 864.6,1455.3 865.2,1455.5 865.8,1455.9 866.4,1456.6 867,1457.4 867.6,1457.9 868.2,1457.7 868.8,1457.5 869.4,1458.8 870,1458.4 870.6,1458.1 871.2,1458.7 871.8,1458.3 872.4,1458.2 873,1459.5 873.6,1458.8 874.2,1457 874.8,1456.7 875.4,1458.4 876,1458.2 876.6,1458 877.2,1459.2 877.8,1458.9 878.4,1459.2 879,1460.4 879.6,1460.7 880.2,1460.2 880.8,1461.6 881.4,1462.7 882,1461.2 882.6,1462.3 883.2,1462.9 883.8,1462.5 884.4,1462.6 885,1463.2 885.6,1462.6 886.2,1463.5 886.8,1463.5 887.4,1463.3 888,1463.6 888.6,1465 889.2,1464.6 889.8,1464.8 890.4,1463.6 891,1464.6 891.6,1464.5 892.2,1464.8 892.8,1464.4 893.4,1465.4 894,1465.1 894.6,1466.7 895.2,1465.2 895.8,1465.2 896.4,1466.2 897,1466.9 897.6,1467.6 898.2,1467.4 898.8,1467.1 899.4,1467.8 900,1467.5 900.6,1467.8 901.2,1469 901.8,1469.2 902.4,1468.5 903,1468.8 903.6,1468.9 904.2,1469.7 904.8,1469.9 905.4,1471 906,1470 906.6,1469.1 907.2,1469.7 907.8,1470.1 908.4,1469.5 909,1471.1 909.6,1470.3 910.2,1471 910.8,1471.3 911.4,1470.1 912,1471 912.6,1471.1 913.2,1470.6 913.8,1472.5 914.4,1471.4 915,1472.6 915.6,1470.8 916.2,1470.9 916.8,1470.2 917.4,1470.3 918,1471 918.6,1470.5 919.2,1470.3 919.8,1469.6 920.4,1470.4 921,1469.8 921.6,1470.3 922.2,1470.2 922.8,1471 923.4,1470.6 924,1471.4 924.6,1471.3 925.2,1471.4 925.8,1471.6 926.4,1471.2 927,1472.6 927.6,1470.5 928.2,1471.8 928.8,1472.3 929.4,1472.3 930,1472.4 930.6,1472.3 931.2,1473 931.8,1472.4 932.4,1472.9 933,1473 933.6,1473.7 934.2,1473.3 934.8,1473 935.4,1473.6 936,1473.3 936.6,1473.4 937.2,1473 937.8,1473.5 938.4,1472.6 939,1472.9 939.6,1474 940.2,1473.5 940.8,1472.9 941.4,1472.9 942,1473.2 942.6,1474.6 943.2,1475.8 943.8,1474 944.4,1474.6 945,1473.9 945.6,1473.4 946.2,1474.5 946.8,1473.5 947.4,1473.9 948,1473.7 948.6,1474.7 949.2,1474 949.8,1473.6 950.4,1474.1 951,1474.9 951.6,1475.6 952.2,1475.1 952.8,1477.3 953.4,1476.1 954,1475.7 954.6,1476.6 955.2,1475.9 955.8,1475.9 956.4,1476.7 957,1476.5 957.6,1475.3 958.2,1475.7 958.8,1475.3 959.4,1475.5 960,1477.3 960.6,1476.4 961.2,1476.9 961.8,1476.9 962.4,1478.1 963,1475.4 963.6,1477 964.2,1478.4 964.8,1478 965.4,1477.5 966,1478.6 966.6,1478.6 967.2,1477.8 967.8,1478.8 968.4,1478.8 969,1477.6 969.6,1478.7 970.2,1479.4 970.8,1479.9 971.4,1478.3 972,1479.7 972.6,1478.9 973.2,1477.3 973.8,1478.3 974.4,1479.1 975,1479.3 975.6,1480.9 976.2,1480.2 976.8,1479.8 977.4,1479.4 978,1480 978.6,1480 979.2,1479.5 979.8,1480.3 980.4,1480.9 981,1480.6 981.6,1480.9 982.2,1480.9 982.8,1482.5 983.4,1482.1 984,1483.6 984.6,1483.4 985.2,1483.3 985.8,1483.8 986.4,1484 987,1484.3 987.6,1484.9 988.2,1484 988.8,1484.2 989.4,1484.6 990,1483.6 990.6,1483.5 991.2,1482.8 991.8,1482.9 992.4,1483.9 993,1482.8 993.6,1482.7 994.2,1482.8 994.8,1482.6 995.4,1482.8 996,1483.8" fill="none" stroke="#0000ff" stroke-width="2.1" stroke-linejoin="round"/>
<polyline points="630.2,1528 638.5,1528 639.6,1526.3 640.2,1487.8 640.8,1446.2 641.4,1404.7 642,1371.2 642.6,1349.4 643.2,1345.6 643.8,1343.2 644.4,1341.7 645,1341 645.6,1341.8 646.2,1340.5 646.8,1340.6 647.4,1341.2 648,1341.8 648.6,1341.7 649.2,1341.7 649.8,1341.1 650.4,1341.5 651,1341.7 651.6,1341.9 652.2,1342.4 652.8,1342.5 653.4,1343.5 654,1344.2 654.6,1346.8 655.2,1346.1 655.8,1346.9 656.4,1347.8 657,1349.7 657.6,1349.4 658.2,1350.8 658.8,1351.1 659.4,1352.9 660,1352.6 660.6,1352.5 661.2,1354.1 661.8,1354.4 662.4,1354.5 663,1356.2 663.6,1356.5 664.2,1359.2 664.8,1359.6 665.4,1360 666,1360.7 666.6,1361.3 667.2,1361.4 667.8,1362.8 668.4,1364.1 669,1364 669.6,1364.7 670.2,1365.1 670.8,1364.9 671.4,1367.7 672,1367.5 672.6,1368.3 673.2,1368.5 673.8,1370.3 674.4,1370.8 675,1371.6 675.6,1372.5 676.2,1373 676.8,1373.6 677.4,1373.9 678,1374.6 678.6,1374.5 679.2,1374.9 679.8,1376.4 680.4,1377.3 681,1377.6 681.6,1378.2 682.2,1378.8 682.8,1379 683.4,1380.2 684,1380.9 684.6,1380.4 685.2,1380.8 685.8,1380.9 686.4,1382.2 687,1383.7 687.6,1384.2 688.2,1383.8 688.8,1383.8 689.4,1384.7 690,1386.4 690.6,1386.9 691.2,1388.2 691.8,1387.6 692.4,1388.6 693,1390.5 693.6,1389.9 694.2,1391.1 694.8,1391.5 695.4,1392.1 696,1392.5 696.6,1391.7 697.2,1392.1 697.8,1392.4 698.4,1393.7 699,1394.7 699.6,1394.5 700.2,1395.1 700.8,1395.4 701.4,1394.6 702,1395.9 702.6,1396.4 703.2,1397.2 703.8,1398.8 704.4,1398.5 705,1398.6 705.6,1399.9 706.2,1399.5 706.8,1400.2 707.4,1400.6 708,1401 708.6,1402.6 709.2,1402.8 709.8,1403.6 710.4,1405.2 711,1404.2 711.6,1404.9 712.2,1404.8 712.8,1406.1 713.4,1406 714,1405.9 714.6,1407.3 715.2,1408.8 715.8,1407.6 716.4,1408 717,1409.1 717.6,1408.6 718.2,1410.6 718.8,1409.7 719.4,1409.8 720,1410.6 720.6,1410.6 721.2,1409.1 721.8,1409.5 722.4,1410.5 723,1410.4 723.6,1411 724.2,1411.2 724.8,1412.9 725.4,1412.4 726,1412.4 726.6,1412.8 727.2,1414.1 727.8,1413.7 728.4,1414.1 729,1414.9 729.6,1416.7 730.2,1416 730.8,1416.9 731.4,1417.1 732,1418.4 732.6,1419.9 733.2,1420.1 733.8,1420.4 734.4,1420 735,1420 735.6,1420.8 736.2,1420.7 736.8,1421.8 737.4,1421.8 738,1420.7 738.6,1422 739.2,1421.3 739.8,1421.1 740.4,1421.8 741,1421.5 741.6,1422 742.2,1421.7 742.8,1422.3 743.4,1423 744,1424.7 744.6,1422.7 745.2,1423.6 745.8,1423.2 746.4,1423.8 747,1424.3 747.6,1423.9 748.2,1423.7 748.8,1424.1 749.4,1426 750,1425.1 750.6,1424.7 751.2,1424.8 751.8,1426.8 752.4,1427.3 753,1427.3 753.6,1427.1 754.2,1429 754.8,1427.9 755.4,1429.2 756,1427.9 756.6,1429.1 757.2,1430.2 757.8,1430.2 758.4,1429.4 759,1428.4 759.6,1429.3 760.2,1430.5 760.8,1430.5 761.4,1429.2 762,1429.6 762.6,1429.7 763.2,1429.9 763.8,1430.6 764.4,1430 765,1431.5 765.6,1432 766.2,1431 766.8,1431.7 767.4,1431.8 768,1431.7 768.6,1432.9 769.2,1432.4 769.8,1431.6 770.4,1432.5 771,1431.8 771.6,1432.8 772.2,1433 772.8,1433 773.4,1432.7 774,1431.4 774.6,1431.5 775.2,1432.3 775.8,1432.2 776.4,1433 777,1432.2 777.6,1433.5 778.2,1432.9 778.8,1432.5 779.4,1432.8 780,1433.7 780.6,1433.1 781.2,1433.6 781.8,1434.2 782.4,1433.5 783,1434.5 783.6,1434.6 784.2,1434.4 784.8,1434.4 785.4,1434.1 786,1436.9 786.6,1436.4 787.2,1434.9 787.8,1435.1 788.4,1435.3 789,1436.7 789.6,1434.5 790.2,1435.5 790.8,1434.3 791.4,1435.6 792,1436.2 792.6,1435.3 793.2,1436 793.8,1435.4 794.4,1437.2 795,1437.2 795.6,1436.1 796.2,1436.4 796.8,1436.7 797.4,1436.8 798,1439 798.6,1438.2 799.2,1439 799.8,1438 800.4,1437.5 801,1438.8 801.6,1438 802.2,1438.3 802.8,1439.1 803.4,1439.5 804,1440 804.6,1439.3 805.2,1440.2 805.8,1439.4 806.4,1439.3 807,1440.1 807.6,1439.3 808.2,1441.1 808.8,1441.3 809.4,1441.5 810,1441 810.6,1440.7 811.2,1441.8 811.8,1441.5 812.4,1442.4 813,1442.8 813.6,1442.7 814.2,1441.9 814.8,1442.4 815.4,1442.1 816,1443.1 816.6,1443.9 817.2,1443.3 817.8,1441.2 818.4,1443.7 819,1443.5 819.6,1443.6 820.2,1443.8 820.8,1444.4 821.4,1444.2 822,1444.7 822.6,1445 823.2,1443.1 823.8,1444.7 824.4,1445.1 825,1444.1 825.6,1445.4 826.2,1445.2 826.8,1443.9 827.4,1445.1 828,1444.5 828.6,1445.6 829.2,1445.1 829.8,1445.9 830.4,1445.8 831,1445.9 831.6,1446.2 832.2,1445.9 832.8,1446.9 833.4,1446.7 834,1447.3 834.6,1447.2 835.2,1446.3 835.8,1446.9 836.4,1446.8 837,1445.9 837.6,1447.6 838.2,1447.4 838.8,1448 839.4,1448.6 840,1447.8 840.6,1448.5 841.2,1448.6 841.8,1449.1 842.4,1449.6 843,1448.9 843.6,1449.3 844.2,1448.3 844.8,1449.4 845.4,1450.1 846,1449.2 846.6,1449.1 847.2,1449.4 847.8,1450.2 848.4,1450.4 849,1449.9 849.6,1450.9 850.2,1451.2 850.8,1451.4 851.4,1450.9 852,1450.6 852.6,1450.3 853.2,1451.5 853.8,1449.9 854.4,1451.9 855,1451.9 855.6,1450.5 856.2,1450.9 856.8,1451.1 857.4,1450.7 858,1453 858.6,1453.6 859.2,1453.1 859.8,1453.7 860.4,1453.7 861,1454.8 861.6,1453.8 862.2,1454.5 862.8,1454.6 863.4,1454.7 864,1455.1 864.6,1455.1 865.2,1454.6 865.8,1455.3 866.4,1455.1 867,1455.3 867.6,1456.8 868.2,1456.6 868.8,1456.4 869.4,1455.6 870,1455.7 870.6,1455.2 871.2,1455.9 871.8,1454.9 872.4,1456.5 873,1456.4 873.6,1457.8 874.2,1457.4 874.8,1458.4 875.4,1456.8 876,1458.1 876.6,1458.8 877.2,1459.1 877.8,1460.3 878.4,1460.2 879,1461.1 879.6,1461.3 880.2,1460.8 880.8,1461.3 881.4,1461.1 882,1459.8 882.6,1461.2 883.2,1459.9 883.8,1460.8 884.4,1460.7 885,1460.2 885.6,1460.5 886.2,1459.8 886.8,1460.2 887.4,1460.1 888,1461.7 888.6,1462 889.2,1461.6 889.8,1462.8 890.4,1462.7 891,1461.3 891.6,1463 892.2,1463.4 892.8,1462.6 893.4,1463.8 894,1464.3 894.6,1465.9 895.2,1465.3 895.8,1465.9 896.4,1465.6 897,1465.3 897.6,1465.9 898.2,1465 898.8,1464.3 899.4,1465 900,1465 900.6,1465.3 901.2,1466.4 901.8,1466.6 902.4,1467.2 903,1466.2 903.6,1466.2 904.2,1466.2 904.8,1466.4 905.4,1466.1 906,1467.1 906.6,1467 907.2,1465.2 907.8,1465.6 908.4,1466.6 909,1467 909.6,1467.8 910.2,1467.6 910.8,1467.6 911.4,1468.6 912,1467.7 912.6,1467.7 913.2,1466.8 913.8,1468.4 914.4,1467.9 915,1468.7 915.6,1467.9 916.2,1469 916.8,1468.4 917.4,1469.2 918,1468.5 918.6,1468.7 919.2,1469.2 919.8,1469 920.4,1469.9 921,1470 921.6,1471 922.2,1471.1 922.8,1471.6 923.4,1472.4 924,1471.8 924.6,1471.8 925.2,1472.2 925.8,1472 926.4,1471.7 927,1472.7 927.6,1471.8 928.2,1471.2 928.8,1472 929.4,1471.9 930,1472.1 930.6,1472.8 931.2,1473.5 931.8,1472.2 932.4,1472.8 933,1472 933.6,1472.6 934.2,1472.1 934.8,1472.8 935.4,1474 936,1473.3 936.6,1474.4 937.2,1473.5 937.8,1475 938.4,1476.8 939,1475 939.6,1475.7 940.2,1475.6 940.8,1476.6 941.4,1477.4 942,1476.6 942.6,1477 943.2,1476.6 943.8,1476.6 944.4,1476.4 945,1477 945.6,1476.4 946.2,1477.6 946.8,1477 947.4,1477.6 948,1477.8 948.6,1477.7 949.2,1477.9 949.8,1477.6 950.4,1478.6 951,1477.7 951.6,1478.2 952.2,1478.3 952.8,1479.1 953.4,1478.8 954,1478.6 954.6,1479.4 955.2,1480.3 955.8,1478.7 956.4,1480.2 957,1478.8 957.6,1479.2 958.2,1479.4 958.8,1480.1 959.4,1479.1 960,1478.6 960.6,1479.2 961.2,1478.4 961.8,1477.6 962.4,1479 963,1478.6 963.6,1480.5 964.2,1478.7 964.8,1479 965.4,1479.1 966,1479.9 966.6,1480.4 967.2,1479.5 967.8,1480.9 968.4,1480.2 969,1480.7 969.6,1480.7 970.2,1481.6 970.8,1481.6 971.4,1480.7 972,1482.1 972.6,1481.7 973.2,1482.2 973.8,1482.4 974.4,1482.1 975,1481.7 975.6,1482.5 976.2,1483.1 976.8,1482.3 977.4,1482.6 978,1482.9 978.6,1482.8 979.2,1482.5 979.8,1482.3 980.4,1482.8 981,1482.4 981.6,1481.7 982.2,1483.1 982.8,1481.4 983.4,1482.3 984,1483.7 984.6,1484.3 985.2,1483.3 985.8,1484.7 986.4,1484.7 987,1484.7 987.6,1484.9 988.2,1485.7 988.8,1484.7 989.4,1484.4 990,1483.8 990.6,1485.8 991.2,1485 991.8,1484.6 992.4,1484.1 993,1484.8 993.6,1484.8 994.2,1485.9 994.8,1485 995.4,1484.7 996,1486.3" fill="none" stroke="#0000ff" stroke-width="2.1" stroke-linejoin="round"/>
<polyline points="630.2,1528 638.5,1528 639.6,1525.9 640.2,1512.4 640.8,1498.7 641.4,1484.3 642,1467.4 642.6,1451.9 643.2,1436.7 643.8,1422.1 644.4,1409.8 645,1398.2 645.6,1390.4 646.2,1384.8 646.8,1382.8 647.4,1379 648,1378.1 648.6,1376.3 649.2,1376.8 649.8,1377.2 650.4,1376.8 651,1377.7 651.6,1378.1 652.2,1377.5 652.8,1377.4 653.4,1378 654,1378.7 654.6,1378.7 655.2,1379.5 655.8,1380.3 656.4,1380.3 657,1380.4 657.6,1381.8 658.2,1382.8 658.8,1382.8 659.4,1385.1 660,1385 660.6,1386.1 661.2,1386 661.8,1387.9 662.4,1387.6 663,1388.5 663.6,1390.7 664.2,1392.1 664.8,1391.8 665.4,1392.1 666,1393.4 666.6,1394.4 667.2,1393.9 667.8,1396.2 668.4,1395.6 669,1395.9 669.6,1398.1 670.2,1398.9 670.8,1399.8 671.4,1400.8 672,1402.1 672.6,1400.5 673.2,1401.3 673.8,1402 674.4,1402.1 675,1402.4 675.6,1402.6 676.2,1403.1 676.8,1403.3 677.4,1403.4 678,1402.7 678.6,1405.1 679.2,1405.7 679.8,1405.6 680.4,1406.9 681,1407.1 681.6,1408.4 682.2,1408.3 682.8,1408.5 683.4,1410.2 684,1410.2 684.6,1410.8 685.2,1412.1 685.8,1411.1 686.4,1412.1 687,1412.7 687.6,1414.8 688.2,1414.3 688.8,1415.3 689.4,1415.3 690,1415.1 690.6,1416 691.2,1417 691.8,1415.8 692.4,1417 693,1417.1 693.6,1417 694.2,1417.2 694.8,1416.8 695.4,1418.5 696,1418 696.6,1417.8 697.2,1418.8 697.8,1418.3 698.4,1420.5 699,1420.6 699.6,1421.1 700.2,1422.2 700.8,1421.9 701.4,1421.7 702,1423.6 702.6,1424.3 703.2,1424.5 703.8,1422.7 704.4,1424.2 705,1424.7 705.6,1424.8 706.2,1425.6 706.8,1426.4 707.4,1427 708,1427.8 708.6,1427.2 709.2,1428.5 709.8,1428.3 710.4,1429.5 711,1430.3 711.6,1430.1 712.2,1430 712.8,1430.4 713.4,1431.8 714,1431.9 714.6,1431.5 715.2,1432.1 715.8,1431.8 716.4,1432.3 717,1432.4 717.6,1433.4 718.2,1433.5 718.8,1433.2 719.4,1432.8 720,1433.4 720.6,1434.8 721.2,1435.5 721.8,1435.9 722.4,1435.5 723,1436.5 723.6,1436.7 724.2,1438.4 724.8,1439.5 725.4,1439.6 726,1439.5 726.6,1440.2 727.2,1440.1 727.8,1439.5 728.4,1441 729,1440.2 729.6,1440.9 730.2,1440.8 730.8,1441.4 731.4,1440.7 732,1440.9 732.6,1441.2 733.2,1439.8 733.8,1439.8 734.4,1441 735,1441.8 735.6,1442 736.2,1443 736.8,1441.6 737.4,1442.7 738,1443 738.6,1442.7 739.2,1443.4 739.8,1443.8 740.4,1446.1 741,1445.4 741.6,1444.5 742.2,1445 742.8,1446.3 743.4,1445 744,1447.2 744.6,1446.3 745.2,1447.8 745.8,1447.3 746.4,1447.9 747,1447.1 747.6,1447.3 748.2,1448.1 748.8,1449.2 749.4,1448.5 750,1449.7 750.6,1449.3 751.2,1449.3 751.8,1449.2 752.4,1449.4 753,1448.5 753.6,1449.3 754.2,1448.5 754.8,1450 755.4,1449.7 756,1450.4 756.6,1451.6 757.2,1450.9 757.8,1452.6 758.4,1452.1 759,1453.2 759.6,1453.5 760.2,1453 760.8,1453.6 761.4,1454.7 762,1454.7 762.6,1455.5 763.2,1456.6 763.8,1455.8 764.4,1454.9 765,1456.1 765.6,1456.3 766.2,1456.2 766.8,1456 767.4,1456.2 768,1455.8 768.6,1456.6 769.2,1456.5 769.8,1456.4 770.4,1456.3 771,1456.4 771.6,1455.7 772.2,1457.3 772.8,1458 773.4,1456.5 774,1457.7 774.6,1459.1 775.2,1458.2 775.8,1458.2 776.4,1458.8 777,1459.3 777.6,1458.1 778.2,1459.6 778.8,1461 779.4,1462.5 780,1462.1 780.6,1462 781.2,1460.3 781.8,1461.7 782.4,1462.6 783,1464.1 783.6,1463.4 784.2,1463.5 784.8,1463.4 785.4,1463.8 786,1462.8 786.6,1463.5 787.2,1463.3 787.8,1463.9 788.4,1464.2 789,1463 789.6,1462.1 790.2,1463.2 790.8,1462.8 791.4,1462.8 792,1464.3 792.6,1465 793.2,1463.4 793.8,1463.9 794.4,1465.5 795,1463.9 795.6,1464.9 796.2,1465.9 796.8,1464.3 797.4,1465.7 798,1467.2 798.6,1466.9 799.2,1466.8 799.8,1467.6 800.4,1468.8 801,1468.6 801.6,1469.1 802.2,1469.6 802.8,1468.7 803.4,1469.4 804,1468.5 804.6,1467.8 805.2,1468.8 805.8,1468.2 806.4,1469.2 807,1468.8 807.6,1469.2 808.2,1470.4 808.8,1469.3 809.4,1470.7 810,1471.4 810.6,1472.2 811.2,1472.5 811.8,1473.1 812.4,1472.4 813,1472.8 813.6,1472.9 814.2,1473.5 814.8,1473.4 815.4,1472.8 816,1474.4 816.6,1472.9 817.2,1473.2 817.8,1472.2 818.4,1472.1 819,1472.8 819.6,1472.9 820.2,1473.8 820.8,1473.9 821.4,1473.8 822,1473.8 822.6,1472.9 823.2,1474.2 823.8,1475.1 824.4,1476.4 825,1476.9 825.6,1476.4 826.2,1477.3 826.8,1475.3 827.4,1477 828,1476.7 828.6,1475.9 829.2,1476 829.8,1475.5 830.4,1475 831,1475.5 831.6,1476.3 832.2,1475.9 832.8,1477.3 833.4,1476.3 834,1477.6 834.6,1476.9 835.2,1476.3 835.8,1477 836.4,1478.1 837,1478.2 837.6,1477.4 838.2,1478.3 838.8,1479 839.4,1479.4 840,1479.4 840.6,1478.7 841.2,1480 841.8,1480.7 842.4,1480.1 843,1479 843.6,1480 844.2,1480.1 844.8,1480.1 845.4,1479.5 846,1479.6 846.6,1480.5 847.2,1480.3 847.8,1479.2 848.4,1479.6 849,1478.7 849.6,1479.3 850.2,1479.6 850.8,1479.7 851.4,1480 852,1479.1 852.6,1478.5 853.2,1479.5 853.8,1480.2 854.4,1478.3 855,1478.7 855.6,1478.7 856.2,1478.1 856.8,1479.2 857.4,1478.8 858,1479.2 858.6,1479.9 859.2,1479.8 859.8,1479 860.4,1480.1 861,1479 861.6,1480.1 862.2,1480 862.8,1479.9 863.4,1479.3 864,1480.9 864.6,1480.9 865.2,1480.8 865.8,1480.8 866.4,1481.8 867,1480.4 867.6,1481.7 868.2,1480.9 868.8,1481.9 869.4,1482.1 870,1482.6 870.6,1482.2 871.2,1483.3 871.8,1482.2 872.4,1482.4 873,1482 873.6,1481.8 874.2,1482.1 874.8,1482 875.4,1482.4 876,1482.6 876.6,1481.7 877.2,1482.9 877.8,1482.4 878.4,1483.2 879,1484.4 879.6,1484.3 880.2,1485.2 880.8,1484.2 881.4,1484.4 882,1485.2 882.6,1484.4 883.2,1485.6 883.8,1484 884.4,1484.8 885,1484.3 885.6,1483.6 886.2,1484.4 886.8,1484 887.4,1483.2 888,1483.6 888.6,1484.4 889.2,1483.7 889.8,1483.8 890.4,1485.2 891,1486.3 891.6,1485 892.2,1485.7 892.8,1486.3 893.4,1485.6 894,1487.1 894.6,1486.3 895.2,1486.4 895.8,1486.8 896.4,1486.8 897,1486.1 897.6,1485.4 898.2,1485.2 898.8,1484.8 899.4,1485.1 900,1484.9 900.6,1484.8 901.2,1485.7 901.8,1485.5 902.4,1485.9 903,1485.8 903.6,1485.6 904.2,1487.1 904.8,1486.9 905.4,1488.3 906,1487.6 906.6,1488.2 907.2,1488.9 907.8,1487.8 908.4,1487.2 909,1487 909.6,1487.7 910.2,1487.5 910.8,1486.1 911.4,1486.6 912,1485.8 912.6,1486.8 913.2,1486.4 913.8,1487.4 914.4,1487.1 915,1488.8 915.6,1488.3 916.2,1490.3 916.8,1489.1 917.4,1489.4 918,1489.2 918.6,1488.8 919.2,1489.1 919.8,1489.4 920.4,1489.7 921,1488.6 921.6,1489.7 922.2,1489.3 922.8,1489 923.4,1489.3 924,1488.9 924.6,1489.6 925.2,1488.7 925.8,1489.5 926.4,1490.7 927,1490.8 927.6,1490.8 928.2,1491.5 928.8,1491.9 929.4,1491.1 930,1491.4 930.6,1492 931.2,1492.5 931.8,1491.6 932.4,1492.4 933,1492.3 933.6,1491.4 934.2,1492.6 934.8,1491.8 935.4,1492 936,1492.8 936.6,1492.8 937.2,1492.4 937.8,1491.5 938.4,1492 939,1491.9 939.6,1492.3 940.2,1493 940.8,1492.5 941.4,1493.3 942,1493.6 942.6,1493.8 943.2,1493.8 943.8,1492.8 944.4,1493.5 945,1494.4 945.6,1493.2 946.2,1493.5 946.8,1494.1 947.4,1493.1 948,1493.5 948.6,1492.6 949.2,1493.8 949.8,1494 950.4,1494.8 951,1494.2 951.6,1494.9 952.2,1493 952.8,1494.7 953.4,1494.6 954,1494.3 954.6,1495.6 955.2,1494.8 955.8,1495.3 956.4,1495.6 957,1495.2 957.6,1495.2 958.2,1493.5 958.8,1494.5 959.4,1495.1 960,1494.3 960.6,1495.4 961.2,1494.8 961.8,1495.3 962.4,1495.2 963,1495.6 963.6,1494.8 964.2,1495.6 964.8,1496.6 965.4,1495.1 966,1496.8 966.6,1495.9 967.2,1495.8 967.8,1495.5 968.4,1496.1 969,1496.2 969.6,1494.7 970.2,1496 970.8,1495.4 971.4,1495.4 972,1494.7 972.6,1496 973.2,1497.1 973.8,1496.7 974.4,1497 975,1496.5 975.6,1497.3 976.2,1496.8 976.8,1497.4 977.4,1497.9 978,1497.3 978.6,1497.8 979.2,1496.4 979.8,1495.4 980.4,1497.1 981,1496.3 981.6,1495.8 982.2,1496.9 982.8,1497.1 983.4,1496.3 984,1496.9 984.6,1497.3 985.2,1498.4 985.8,1497.2 986.4,1498.4 987,1498 987.6,1497.6 988.2,1496.9 988.8,1497.7 989.4,1497.7 990,1497.8 990.6,1497.1 991.2,1497.8 991.8,1497.9 992.4,1498.4 993,1496.7 993.6,1496.9 994.2,1497.5 994.8,1498.1 995.4,1498.8 996,1496.9" fill="none" stroke="#0000ff" stroke-width="2.1" stroke-linejoin="round"/>
<polyline points="630.2,1528 638.5,1528 639.6,1527.2 640.2,1515.7 640.8,1504.1 641.4,1491.7 642,1479.4 642.6,1465.6 643.2,1452.7 643.8,1441.1 644.4,1431 645,1421.3 645.6,1416.2 646.2,1410.7 646.8,1407.1 647.4,1404.9 648,1403.8 648.6,1403.8 649.2,1404.7 649.8,1402.8 650.4,1403.6 651,1403.7 651.6,1405 652.2,1405.1 652.8,1404.1 653.4,1405.2 654,1406.1 654.6,1406.5 655.2,1406.9 655.8,1407.3 656.4,1407.6 657,1409.4 657.6,1409.9 658.2,1411.6 658.8,1411.7 659.4,1413.9 660,1414.5 660.6,1415 661.2,1416.1 661.8,1416.6 662.4,1417.6 663,1420.8 663.6,1421.2 664.2,1421.5 664.8,1422.1 665.4,1423.2 666,1423.2 666.6,1424.7 667.2,1425.2 667.8,1426.8 668.4,1426.9 669,1428.1 669.6,1427.6 670.2,1427.8 670.8,1428.6 671.4,1428.5 672,1429.7 672.6,1430.5 673.2,1430.9 673.8,1430.9 674.4,1432.4 675,1432.3 675.6,1433.2 676.2,1433.5 676.8,1433.4 677.4,1435.7 678,1435.1 678.6,1435.4 679.2,1436.4 679.8,1436.8 680.4,1437 681,1436.4 681.6,1438.7 682.2,1438.7 682.8,1439 683.4,1439.5 684,1440.2 684.6,1439.7 685.2,1438.7 685.8,1438.9 686.4,1440.1 687,1440.4 687.6,1441.1 688.2,1441.1 688.8,1441.5 689.4,1440 690,1441.4 690.6,1443.3 691.2,1445.2 691.8,1444.9 692.4,1445 693,1444.5 693.6,1445.9 694.2,1446.2 694.8,1446.9 695.4,1447.9 696,1449.8 696.6,1448 697.2,1448 697.8,1448.2 698.4,1447.6 699,1448.6 699.6,1449.5 700.2,1449.7 700.8,1449.8 701.4,1449.8 702,1449.6 702.6,1450.2 703.2,1451.2 703.8,1450.8 704.4,1451.9 705,1451.9 705.6,1453.6 706.2,1452.5 706.8,1453.2 707.4,1453.3 708,1454 708.6,1453.8 709.2,1453.9 709.8,1455 710.4,1453.7 711,1454.8 711.6,1455.1 712.2,1455.4 712.8,1454.9 713.4,1456 714,1453.6 714.6,1454.9 715.2,1455.2 715.8,1455 716.4,1456.7 717,1457.1 717.6,1455.8 718.2,1456.7 718.8,1457.4 719.4,1457.1 720,1457.3 720.6,1457 721.2,1458.8 721.8,1456.6 722.4,1457 723,1458.5 723.6,1458.2 724.2,1458 724.8,1459.2 725.4,1459.1 726,1459.5 726.6,1460.3 727.2,1459.4 727.8,1459 728.4,1460.2 729,1461 729.6,1462 730.2,1462.3 730.8,1462 731.4,1462.6 732,1462.9 732.6,1463.4 733.2,1464.2 733.8,1464.5 734.4,1463.9 735,1463.9 735.6,1463.7 736.2,1464.1 736.8,1463.3 737.4,1465.1 738,1464.5 738.6,1464 739.2,1464 739.8,1464.4 740.4,1464.8 741,1464.3 741.6,1466.1 742.2,1464.5 742.8,1464 743.4,1464.7 744,1464.7 744.6,1465.6 745.2,1465.3 745.8,1465.9 746.4,1466.4 747,1466.4 747.6,1466.8 748.2,1467.1 748.8,1466.8 749.4,1467.2 750,1468 750.6,1467 751.2,1467.5 751.8,1467.7 752.4,1467.5 753,1466.9 753.6,1467.6 754.2,1467.7 754.8,1468.5 755.4,1468.3 756,1468.7 756.6,1469.1 757.2,1469.3 757.8,1469.5 758.4,1469.9 759,1470.8 759.6,1470.7 760.2,1469.8 760.8,1469.4 761.4,1470.4 762,1470.6 762.6,1468.5 763.2,1470.5 763.8,1469.5 764.4,1471.2 765,1471.3 765.6,1471.5 766.2,1472 766.8,1471 767.4,1471.3 768,1472.1 768.6,1472 769.2,1472.5 769.8,1471.6 770.4,1470.6 771,1470.4 771.6,1471.9 772.2,1471.5 772.8,1471.1 773.4,1470.6 774,1470.9 774.6,1471.8 775.2,1471.3 775.8,1472.6 776.4,1472.3 777,1473 777.6,1473.1 778.2,1473.3 778.8,1472.7 779.4,1473.7 780,1473.3 780.6,1473.8 781.2,1473.9 781.8,1476.9 782.4,1474.2 783,1475.5 783.6,1475 784.2,1475.7 784.8,1476.8 785.4,1476.8 786,1476.8 786.6,1477.7 787.2,1478.4 787.8,1476.9 788.4,1476.5 789,1477.7 789.6,1477.9 790.2,1477.8 790.8,1478.2 791.4,1478.1 792,1479.3 792.6,1478.2 793.2,1478.8 793.8,1477.1 794.4,1478.2 795,1477.7 795.6,1478.9 796.2,1480.7 796.8,1480.5 797.4,1479.3 798,1480.1 798.6,1481.3 799.2,1480.7 799.8,1481 800.4,1482.4 801,1482 801.6,1481.9 802.2,1481.2 802.8,1482.7 803.4,1482.1 804,1483.2 804.6,1483 805.2,1482.1 805.8,1481.6 806.4,1483.2 807,1484.1 807.6,1483.5 808.2,1483.5 808.8,1483.7 809.4,1482.4 810,1483.1 810.6,1481.9 811.2,1482.3 811.8,1483.2 812.4,1483.2 813,1483.4 813.6,1482.1 814.2,1483.4 814.8,1482.7 815.4,1483.1 816,1484.3 816.6,1484.1 817.2,1485.1 817.8,1484.3 818.4,1484 819,1484.7 819.6,1484 820.2,1484.7 820.8,1485 821.4,1486.2 822,1485.9 822.6,1485.7 823.2,1485 823.8,1485.3 824.4,1486.1 825,1485.5 825.6,1485.2 826.2,1485.4 826.8,1485.1 827.4,1485.9 828,1484.7 828.6,1485.1 829.2,1485.3 829.8,1486.5 830.4,1486 831,1486.5 831.6,1487.2 832.2,1487.3 832.8,1487.1 833.4,1486.3 834,1487.4 834.6,1487.5 835.2,1489.3 835.8,1489.1 836.4,1488 837,1489.5 837.6,1488.6 838.2,1488.9 838.8,1489.1 839.4,1487.9 840,1489 840.6,1490.1 841.2,1488.8 841.8,1489 842.4,1489 843,1489 843.6,1489.4 844.2,1489.2 844.8,1489.5 845.4,1489.4 846,1488.9 846.6,1489.5 847.2,1489.7 847.8,1489 848.4,1490.4 849,1489.2 849.6,1488.9 850.2,1489.7 850.8,1489.9 851.4,1489 852,1489.1 852.6,1489.8 853.2,1490.2 853.8,1489.9 854.4,1491.3 855,1490.4 855.6,1489.3 856.2,1488.2 856.8,1489.5 857.4,1489.6 858,1488.4 858.6,1488.9 859.2,1489.8 859.8,1489.2 860.4,1490.3 861,1490.8 861.6,1490.5 862.2,1491 862.8,1492.2 863.4,1491.4 864,1490.6 864.6,1491.5 865.2,1490 865.8,1491.9 866.4,1491.5 867,1492.5 867.6,1492.3 868.2,1491.7 868.8,1491.3 869.4,1492.3 870,1492.5 870.6,1492.2 871.2,1492.6 871.8,1492 872.4,1492.1 873,1491.2 873.6,1492.9 874.2,1492.1 874.8,1491.8 875.4,1492.5 876,1493.2 876.6,1493.2 877.2,1493.5 877.8,1494.3 878.4,1494.4 879,1493.6 879.6,1493.6 880.2,1493.7 880.8,1493.5 881.4,1494.5 882,1494.3 882.6,1495.2 883.2,1496.5 883.8,1496 884.4,1494 885,1494.9 885.6,1494.8 886.2,1495.5 886.8,1496.3 887.4,1495.4 888,1495.6 888.6,1493.9 889.2,1494.9 889.8,1494.9 890.4,1494.3 891,1494.5 891.6,1495.1 892.2,1496 892.8,1495.5 893.4,1495.1 894,1496.3 894.6,1495.9 895.2,1494.3 895.8,1494.7 896.4,1494.4 897,1495.5 897.6,1495.8 898.2,1495.6 898.8,1495.3 899.4,1496.5 900,1495.6 900.6,1496.6 901.2,1497.9 901.8,1497.8 902.4,1497.4 903,1498.3 903.6,1498.2 904.2,1498.4 904.8,1497.7 905.4,1497.2 906,1497.9 906.6,1498 907.2,1497.6 907.8,1496.3 908.4,1497.1 909,1497.9 909.6,1497.6 910.2,1497.9 910.8,1497.7 911.4,1497.9 912,1498.8 912.6,1499.9 913.2,1500.2 913.8,1498.9 914.4,1500.6 915,1500.1 915.6,1498.2 916.2,1499.9 916.8,1500 917.4,1500.6 918,1501.7 918.6,1501.4 919.2,1499.9 919.8,1500.4 920.4,1499.9 921,1499.7 921.6,1501.7 922.2,1501 922.8,1501.6 923.4,1500.9 924,1501.5 924.6,1501.5 925.2,1501.4 925.8,1501.2 926.4,1501.3 927,1500.6 927.6,1501.6 928.2,1502 928.8,1500.6 929.4,1500.6 930,1501.6 930.6,1500.6 931.2,1501.8 931.8,1501 932.4,1502.9 933,1502.1 933.6,1502 934.2,1501.5 934.8,1502 935.4,1503.2 936,1503.6 936.6,1503.2 937.2,1502.9 937.8,1502.8 938.4,1503.7 939,1504 939.6,1504 940.2,1503.3 940.8,1502.3 941.4,1503.5 942,1501.7 942.6,1502.4 943.2,1503.4 943.8,1504.3 944.4,1502.9 945,1502.5 945.6,1502.4 946.2,1502.3 946.8,1503.1 947.4,1503.3 948,1502.8 948.6,1503 949.2,1503.3 949.8,1502.1 950.4,1502.6 951,1502.8 951.6,1503.5 952.2,1503.7 952.8,1504.1 953.4,1504.1 954,1505 954.6,1503.7 955.2,1503.6 955.8,1505.1 956.4,1505.2 957,1504 957.6,1504.1 958.2,1505.1 958.8,1504.8 959.4,1505.3 960,1503.8 960.6,1504.7 961.2,1505.1 961.8,1505.1 962.4,1505.9 963,1504.2 963.6,1504.5 964.2,1506 964.8,1504.1 965.4,1505 966,1505.5 966.6,1505.4 967.2,1505.6 967.8,1506.2 968.4,1504.6 969,1506.4 969.6,1506.6 970.2,1506.2 970.8,1506.4 971.4,1507.3 972,1507.2 972.6,1506.4 973.2,1507.3 973.8,1507.4 974.4,1506.2 975,1506.6 975.6,1506.6 976.2,1506.9 976.8,1507.1 977.4,1507.8 978,1507.5 978.6,1506.7 979.2,1507.9 979.8,1507.5 980.4,1508.2 981,1506.5 981.6,1506.8 982.2,1507 982.8,1506.1 983.4,1507.7 984,1506.8 984.6,1507.1 985.2,1508 985.8,1506.8 986.4,1506.3 987,1507.6 987.6,1507.2 988.2,1507 988.8,1507.1 989.4,1507.5 990,1508.3 990.6,1508.7 991.2,1508.2 991.8,1508 992.4,1508.6 993,1508 993.6,1509.6 994.2,1509.7 994.8,1509.8 995.4,1509 996,1509.3" fill="none" stroke="#0000ff" stroke-width="2.1" stroke-linejoin="round"/>
<polyline points="630.2,1528 638.5,1528 639.6,1526.1 640.2,1521.5 640.8,1516.2 641.4,1509.7 642,1505.1 642.6,1498.4 643.2,1492.2 643.8,1485.4 644.4,1480.2 645,1475.8 645.6,1471.6 646.2,1466.4 646.8,1463.5 647.4,1460.9 648,1458.9 648.6,1457.3 649.2,1455.9 649.8,1455.5 650.4,1454.9 651,1453.6 651.6,1455.1 652.2,1454.3 652.8,1454.9 653.4,1455 654,1455 654.6,1455.8 655.2,1456.9 655.8,1457.4 656.4,1456.7 657,1457.2 657.6,1458.4 658.2,1457 658.8,1458.1 659.4,1458.3 660,1459.5 660.6,1459.7 661.2,1460.5 661.8,1462.2 662.4,1462.3 663,1463.3 663.6,1465.5 664.2,1465.6 664.8,1466.7 665.4,1467.3 666,1468.6 666.6,1469.1 667.2,1469.2 667.8,1469.8 668.4,1471.1 669,1471.7 669.6,1471.8 670.2,1472.5 670.8,1472.9 671.4,1472.8 672,1474.5 672.6,1475.4 673.2,1475.5 673.8,1475.5 674.4,1476.1 675,1475.7 675.6,1476 676.2,1476.6 676.8,1477.7 677.4,1477.5 678,1476.4 678.6,1477.5 679.2,1478.1 679.8,1479 680.4,1478.7 681,1479.4 681.6,1478.7 682.2,1478.7 682.8,1480.6 683.4,1479.9 684,1480.7 684.6,1481 685.2,1481.3 685.8,1481.5 686.4,1481.4 687,1481.8 687.6,1482.1 688.2,1482.8 688.8,1482 689.4,1483.3 690,1484.3 690.6,1484.9 691.2,1484.6 691.8,1483.9 692.4,1485.2 693,1485.3 693.6,1484.7 694.2,1485.6 694.8,1484.8 695.4,1485.9 696,1485.4 696.6,1486.1 697.2,1486.7 697.8,1486.9 698.4,1487 699,1486.1 699.6,1485.8 700.2,1487.2 700.8,1487.6 701.4,1487.3 702,1487.9 702.6,1488.3 703.2,1487.8 703.8,1488.2 704.4,1488.6 705,1488.3 705.6,1488.2 706.2,1488.9 706.8,1489.3 707.4,1489.7 708,1489.5 708.6,1490.8 709.2,1490.4 709.8,1491.1 710.4,1490.8 711,1491.1 711.6,1490.4 712.2,1490.5 712.8,1491 713.4,1490.6 714,1490.7 714.6,1490.5 715.2,1490.3 715.8,1491.3 716.4,1492.2 717,1491.1 717.6,1491.5 718.2,1491.5 718.8,1492.2 719.4,1493.6 720,1492.8 720.6,1492.1 721.2,1493.2 721.8,1492.8 722.4,1492.4 723,1493.5 723.6,1492.7 724.2,1491.1 724.8,1492.5 725.4,1493 726,1491.7 726.6,1491.6 727.2,1490.9 727.8,1492.8 728.4,1492.9 729,1492.5 729.6,1493.4 730.2,1492.3 730.8,1493.4 731.4,1494 732,1494.6 732.6,1494.6 733.2,1494.5 733.8,1494 734.4,1495 735,1496 735.6,1495.8 736.2,1495.9 736.8,1496.2 737.4,1495.6 738,1496.9 738.6,1496.9 739.2,1496.2 739.8,1496.6 740.4,1496.3 741,1496 741.6,1495.6 742.2,1496 742.8,1496.4 743.4,1496.9 744,1496.7 744.6,1496.5 745.2,1497.7 745.8,1497.8 746.4,1496.9 747,1497.1 747.6,1498.2 748.2,1497.5 748.8,1498.1 749.4,1498.9 750,1498.7 750.6,1498.9 751.2,1500.3 751.8,1500 752.4,1500.5 753,1499.8 753.6,1499.7 754.2,1499.8 754.8,1499.9 755.4,1500.8 756,1499.6 756.6,1499.4 757.2,1499.2 757.8,1498.8 758.4,1498.7 759,1499 759.6,1499.5 760.2,1499.8 760.8,1498.7 761.4,1497.8 762,1500 762.6,1499 763.2,1499.8 763.8,1500.7 764.4,1500.7 765,1500.5 765.6,1500.8 766.2,1501.3 766.8,1501.3 767.4,1501.5 768,1501.9 768.6,1500.6 769.2,1502.3 769.8,1501.2 770.4,1501.3 771,1500.7 771.6,1500.4 772.2,1500.6 772.8,1500.3 773.4,1500.1 774,1500.5 774.6,1501 775.2,1500.9 775.8,1499.6 776.4,1500.7 777,1501.3 777.6,1503.4 778.2,1502.2 778.8,1502.1 779.4,1501.7 780,1501.8 780.6,1501.1 781.2,1502.8 781.8,1502.7 782.4,1503.1 783,1502.2 783.6,1503 784.2,1502.7 784.8,1503.1 785.4,1503.8 786,1504.1 786.6,1504 787.2,1504.8 787.8,1503 788.4,1503.4 789,1503.7 789.6,1503.7 790.2,1503.2 790.8,1502.2 791.4,1503.2 792,1503.2 792.6,1503.6 793.2,1504.3 793.8,1502.8 794.4,1502.8 795,1503.4 795.6,1503.3 796.2,1503.5 796.8,1502.6 797.4,1502.5 798,1502.8 798.6,1502.7 799.2,1501.8 799.8,1501.9 800.4,1503 801,1501.8 801.6,1502.9 802.2,1502.4 802.8,1502.1 803.4,1503.8 804,1503.9 804.6,1503.3 805.2,1503.5 805.8,1503 806.4,1503.6 807,1502.3 807.6,1502.6 808.2,1502.5 808.8,1501.7 809.4,1501.4 810,1502.1 810.6,1501.7 811.2,1502.4 811.8,1501.9 812.4,1500.5 813,1501 813.6,1500.8 814.2,1500.8 814.8,1500.5 815.4,1499.8 816,1499.9 816.6,1500 817.2,1499.7 817.8,1499.7 818.4,1499.9 819,1499.7 819.6,1499.5 820.2,1498.4 820.8,1498.8 821.4,1498.5 822,1498.6 822.6,1499 823.2,1497.4 823.8,1497.3 824.4,1496.3 825,1496.9 825.6,1495.8 826.2,1495.8 826.8,1497.2 827.4,1496.2 828,1496 828.6,1496.1 829.2,1497.2 829.8,1495.8 830.4,1495.1 831,1496.2 831.6,1494.5 832.2,1495.1 832.8,1494.5 833.4,1494.9 834,1493.8 834.6,1493.4 835.2,1492.4 835.8,1493.1 836.4,1493.8 837,1493 837.6,1493.4 838.2,1493.8 838.8,1494.3 839.4,1493.9 840,1494 840.6,1493 841.2,1493.1 841.8,1494.4 842.4,1493.7 843,1493.8 843.6,1493.4 844.2,1492.9 844.8,1492.9 845.4,1493.9 846,1494.2 846.6,1494.1 847.2,1494 847.8,1494.9 848.4,1495.4 849,1495.9 849.6,1496.8 850.2,1496 850.8,1496.8 851.4,1496.6 852,1497.3 852.6,1498 853.2,1498.4 853.8,1498.9 854.4,1498.8 855,1500.1 855.6,1501.2 856.2,1500.9 856.8,1501.2 857.4,1501.3 858,1502.6 858.6,1503.2 859.2,1503.8 859.8,1503.9 860.4,1503.3 861,1503.9 861.6,1502 862.2,1501.5 862.8,1501 863.4,1502.1 864,1502.7 864.6,1502.5 865.2,1502 865.8,1503 866.4,1502.5 867,1503.2 867.6,1502.9 868.2,1503.9 868.8,1502.9 869.4,1503.7 870,1503.8 870.6,1503.4 871.2,1503.1 871.8,1502.6 872.4,1502.3 873,1503.2 873.6,1502.8 874.2,1503.7 874.8,1505 875.4,1503.7 876,1504.6 876.6,1504 877.2,1504.6 877.8,1504.4 878.4,1504.4 879,1504.8 879.6,1505.1 880.2,1505.1 880.8,1504.5 881.4,1504.5 882,1506.7 882.6,1505.7 883.2,1505.5 883.8,1504.7 884.4,1505.5 885,1505.2 885.6,1505.4 886.2,1506.3 886.8,1505.6 887.4,1505.4 888,1504.9 888.6,1503.8 889.2,1505.3 889.8,1504.3 890.4,1505.4 891,1504.5 891.6,1504.9 892.2,1505.3 892.8,1504.9 893.4,1504.9 894,1503.9 894.6,1505 895.2,1505.1 895.8,1504.7 896.4,1505 897,1505.7 897.6,1506.1 898.2,1505.3 898.8,1506.5 899.4,1505 900,1506 900.6,1505.5 901.2,1505.8 901.8,1505.2 902.4,1505.7 903,1504.9 903.6,1505.8 904.2,1505.7 904.8,1505.2 905.4,1506.1 906,1505.7 906.6,1505 907.2,1504.1 907.8,1505.3 908.4,1504.9 909,1506.2 909.6,1505.2 910.2,1503.6 910.8,1504.8 911.4,1504.2 912,1504.5 912.6,1504.5 913.2,1504 913.8,1505.2 914.4,1504 915,1504.8 915.6,1505 916.2,1505.5 916.8,1505.9 917.4,1504.7 918,1504.6 918.6,1505 919.2,1505.1 919.8,1505.1 920.4,1505.8 921,1505.7 921.6,1505.1 922.2,1505.4 922.8,1505.8 923.4,1505.5 924,1505.7 924.6,1507.2 925.2,1507.5 925.8,1504.9 926.4,1505.5 927,1506 927.6,1505.9 928.2,1504.6 928.8,1506.5 929.4,1505.9 930,1505.5 930.6,1505 931.2,1505.3 931.8,1505.4 932.4,1505.6 933,1504.9 933.6,1504.6 934.2,1505.4 934.8,1505.5 935.4,1504.9 936,1505.2 936.6,1505.4 937.2,1505.7 937.8,1507.7 938.4,1507.2 939,1506.3 939.6,1506.4 940.2,1506.9 940.8,1506.4 941.4,1506 942,1506.1 942.6,1506.7 943.2,1506.3 943.8,1506 944.4,1505.4 945,1506.2 945.6,1505.7 946.2,1506.7 946.8,1507.8 947.4,1505.6 948,1505.2 948.6,1505.7 949.2,1505.6 949.8,1506.2 950.4,1507.1 951,1506.9 951.6,1507.8 952.2,1505.9 952.8,1508 953.4,1506.2 954,1506.3 954.6,1507.1 955.2,1506.3 955.8,1506.5 956.4,1506.3 957,1505.8 957.6,1505.8 958.2,1507.2 958.8,1506.8 959.4,1506.5 960,1507.4 960.6,1508.9 961.2,1508.4 961.8,1508.7 962.4,1508.4 963,1508.2 963.6,1507.8 964.2,1507.3 964.8,1507.3 965.4,1507.2 966,1507.3 966.6,1505.3 967.2,1506.2 967.8,1506.2 968.4,1506.4 969,1505.7 969.6,1506.8 970.2,1507.1 970.8,1506.4 971.4,1506.4 972,1506.1 972.6,1507.6 973.2,1507.3 973.8,1507.6 974.4,1506.9 975,1507.1 975.6,1507 976.2,1506.7 976.8,1506.8 977.4,1506.8 978,1506.7 978.6,1505.4 979.2,1506.5 979.8,1506.7 980.4,1506 981,1505.9 981.6,1505.6 982.2,1506.2 982.8,1507.3 983.4,1505.8 984,1506.1 984.6,1506.8 985.2,1505.5 985.8,1507 986.4,1507.4 987,1506.9 987.6,1506.8 988.2,1506.4 988.8,1507.4 989.4,1507.9 990,1507 990.6,1507.9 991.2,1506.8 991.8,1507.5 992.4,1506.4 993,1506.8 993.6,1505.7 994.2,1505.9 994.8,1506.7 995.4,1506 996,1506.3" fill="none" stroke="#0000ff" stroke-width="2.1" stroke-linejoin="round"/>
<polyline points="630.2,1528 638.5,1528 639.6,1526.9 640.2,1526.1 640.8,1525.9 641.4,1526.5 642,1525.6 642.6,1525.3 643.2,1525.4 643.8,1523.6 644.4,1522.9 645,1522.2 645.6,1521.8 646.2,1522.2 646.8,1521.8 647.4,1519.6 648,1518.3 648.6,1516.7 649.2,1515.4 649.8,1513.6 650.4,1514.1 651,1513 651.6,1512 652.2,1511 652.8,1512.3 653.4,1512.7 654,1512.2 654.6,1512.4 655.2,1511.2 655.8,1512.2 656.4,1511.9 657,1511.2 657.6,1511.9 658.2,1512.6 658.8,1512.5 659.4,1512.8 660,1513.5 660.6,1513.3 661.2,1512.7 661.8,1514.1 662.4,1513.3 663,1513.7 663.6,1512.7 664.2,1515 664.8,1514.4 665.4,1512.8 666,1514.2 666.6,1514 667.2,1513.5 667.8,1513.5 668.4,1513.3 669,1515.1 669.6,1513.6 670.2,1514.7 670.8,1515.2 671.4,1514.9 672,1515 672.6,1514.9 673.2,1515.2 673.8,1514.6 674.4,1515.9 675,1515.5 675.6,1515.5 676.2,1515.4 676.8,1516.5 677.4,1515.9 678,1515.9 678.6,1515.4 679.2,1515.6 679.8,1516.6 680.4,1515.5 681,1514.8 681.6,1515.5 682.2,1515.9 682.8,1515.8 683.4,1515.8 684,1515.4 684.6,1515.2 685.2,1514.7 685.8,1516.1 686.4,1515.9 687,1516.1 687.6,1516.2 688.2,1516.9 688.8,1517.7 689.4,1516.5 690,1517.2 690.6,1516.5 691.2,1515.9 691.8,1517.3 692.4,1516.4 693,1515.6 693.6,1517 694.2,1516.9 694.8,1516.7 695.4,1516.7 696,1514.9 696.6,1517.1 697.2,1517.8 697.8,1518.1 698.4,1516.3 699,1518.1 699.6,1518 700.2,1518.9 700.8,1519.2 701.4,1519.9 702,1519.4 702.6,1519 703.2,1518.7 703.8,1518.4 704.4,1518.9 705,1518.8 705.6,1518.2 706.2,1517.1 706.8,1518.6 707.4,1518.6 708,1517.2 708.6,1518 709.2,1517.3 709.8,1517.7 710.4,1518.1 711,1517.9 711.6,1518.3 712.2,1518.1 712.8,1517.8 713.4,1517.4 714,1517.1 714.6,1517.8 715.2,1517.2 715.8,1517.6 716.4,1516.7 717,1518.9 717.6,1517.6 718.2,1517.9 718.8,1517.6 719.4,1519.1 720,1519.1 720.6,1518.3 721.2,1519.4 721.8,1519.7 722.4,1518.3 723,1518.9 723.6,1519.8 724.2,1516.7 724.8,1518 725.4,1516.8 726,1517.5 726.6,1518.7 727.2,1518.2 727.8,1518 728.4,1518.1 729,1518.6 729.6,1518.2 730.2,1518.5 730.8,1518.8 731.4,1519.1 732,1519.2 732.6,1519 733.2,1519.3 733.8,1518.2 734.4,1518.5 735,1518.6 735.6,1519.7 736.2,1519.7 736.8,1519.3 737.4,1518.5 738,1519.7 738.6,1520 739.2,1520.9 739.8,1519.9 740.4,1519.5 741,1520 741.6,1520.2 742.2,1519.8 742.8,1520.8 743.4,1519.5 744,1520.5 744.6,1519.9 745.2,1519.5 745.8,1520.5 746.4,1520.3 747,1520.2 747.6,1520.5 748.2,1520 748.8,1520.4 749.4,1520.7 750,1520.6 750.6,1520.2 751.2,1520.9 751.8,1522 752.4,1521.6 753,1522.2 753.6,1521.4 754.2,1521.1 754.8,1522.3 755.4,1520.9 756,1521.6 756.6,1522.9 757.2,1522.6 757.8,1520.5 758.4,1520.6 759,1521.1 759.6,1521.8 760.2,1520.8 760.8,1521.1 761.4,1521.2 762,1520.5 762.6,1520.4 763.2,1520.7 763.8,1520.3 764.4,1519.7 765,1519 765.6,1519.9 766.2,1519.9 766.8,1521.3 767.4,1520.4 768,1521.3 768.6,1521 769.2,1520.5 769.8,1521.6 770.4,1522.1 771,1522.3 771.6,1521.7 772.2,1521.7 772.8,1521.2 773.4,1521.2 774,1522.5 774.6,1522.7 775.2,1521.6 775.8,1522.2 776.4,1522.3 777,1522 777.6,1521.7 778.2,1522.4 778.8,1522.5 779.4,1522.1 780,1521.8 780.6,1523.3 781.2,1521.9 781.8,1522.9 782.4,1522 783,1523.3 783.6,1522.8 784.2,1524.1 784.8,1522.7 785.4,1523.6 786,1522.1 786.6,1522.5 787.2,1522.1 787.8,1521.1 788.4,1522 789,1521.6 789.6,1521.7 790.2,1521.2 790.8,1521.7 791.4,1520.6 792,1520.7 792.6,1521.2 793.2,1521.7 793.8,1519.8 794.4,1520.1 795,1521.8 795.6,1521.5 796.2,1520.4 796.8,1520.3 797.4,1521.3 798,1521.6 798.6,1520.7 799.2,1520.9 799.8,1521.7 800.4,1521.5 801,1521.4 801.6,1522.4 802.2,1521.7 802.8,1522.4 803.4,1522.1 804,1523.6 804.6,1522.4 805.2,1522.7 805.8,1522.3 806.4,1521.7 807,1523.4 807.6,1523.5 808.2,1522.7 808.8,1521.6 809.4,1521.8 810,1523 810.6,1522.5 811.2,1523.2 811.8,1523.4 812.4,1523.3 813,1523.3 813.6,1523.1 814.2,1523.2 814.8,1522 815.4,1524.1 816,1523.1 816.6,1522.9 817.2,1522.7 817.8,1521.8 818.4,1521.9 819,1522 819.6,1520.9 820.2,1524.1 820.8,1522.2 821.4,1522.1 822,1521.9 822.6,1521.3 823.2,1521.4 823.8,1522.7 824.4,1523.1 825,1522.4 825.6,1522.3 826.2,1523 826.8,1523.8 827.4,1521.9 828,1523 828.6,1523.5 829.2,1522.3 829.8,1524.5 830.4,1523.6 831,1523.5 831.6,1522.8 832.2,1523.4 832.8,1523 833.4,1522.1 834,1522.5 834.6,1523.3 835.2,1523.3 835.8,1523.4 836.4,1523.4 837,1523.3 837.6,1522.8 838.2,1523.1 838.8,1522.7 839.4,1523.5 840,1522.9 840.6,1523.3 841.2,1524 841.8,1523.8 842.4,1523.5 843,1522.8 843.6,1523.3 844.2,1522.6 844.8,1522.8 845.4,1522.5 846,1522.6 846.6,1523.7 847.2,1524.4 847.8,1523.3 848.4,1522.4 849,1522.5 849.6,1524 850.2,1524.7 850.8,1524.7 851.4,1524.5 852,1525.9 852.6,1524.9 853.2,1523.5 853.8,1524.3 854.4,1523.4 855,1525.3 855.6,1525.5 856.2,1525.6 856.8,1523.4 857.4,1523.7 858,1524.4 858.6,1524.9 859.2,1524.5 859.8,1523.2 860.4,1524.3 861,1524.6 861.6,1524.1 862.2,1523.8 862.8,1525.1 863.4,1524.6 864,1526 864.6,1525.4 865.2,1525.7 865.8,1525.8 866.4,1526.7 867,1526 867.6,1525.7 868.2,1526.5 868.8,1525.5 869.4,1526.5 870,1526.2 870.6,1526.5 871.2,1526.6 871.8,1525.2 872.4,1526.2 873,1524.3 873.6,1525.3 874.2,1525.4 874.8,1525.6 875.4,1526 876,1523.7 876.6,1524.4 877.2,1523.5 877.8,1524.8 878.4,1524.5 879,1524.9 879.6,1526.1 880.2,1525.4 880.8,1524.7 881.4,1524.2 882,1523.9 882.6,1524.7 883.2,1524.8 883.8,1523.7 884.4,1525.4 885,1525.3 885.6,1524.4 886.2,1523.5 886.8,1523.5 887.4,1525.6 888,1525.2 888.6,1526.2 889.2,1525.7 889.8,1526.3 890.4,1526.8 891,1524.7 891.6,1526.1 892.2,1526.1 892.8,1525.6 893.4,1525 894,1525.3 894.6,1525.4 895.2,1525.6 895.8,1524.5 896.4,1523.5 897,1523.9 897.6,1524.3 898.2,1522.8 898.8,1525 899.4,1524.6 900,1524.4 900.6,1525.1 901.2,1524.8 901.8,1524.8 902.4,1524.4 903,1524.4 903.6,1524.4 904.2,1524.2 904.8,1524.3 905.4,1525.1 906,1524.8 906.6,1523.6 907.2,1523.6 907.8,1523.7 908.4,1522.9 909,1524 909.6,1523.8 910.2,1524.4 910.8,1524.8 911.4,1524.8 912,1524.6 912.6,1524 913.2,1525 913.8,1524.7 914.4,1525.2 915,1524.8 915.6,1525.5 916.2,1525.3 916.8,1524.8 917.4,1524.9 918,1525.2 918.6,1526.4 919.2,1526 919.8,1527.1 920.4,1525.6 921,1525.5 921.6,1527.1 922.2,1526.4 922.8,1526.3 923.4,1526 924,1525.4 924.6,1525.8 925.2,1525.9 925.8,1525.1 926.4,1525.5 927,1527.2 927.6,1526.5 928.2,1526.5 928.8,1527.4 929.4,1527.4 930,1525.9 930.6,1528.3 931.2,1528.5 931.8,1527.4 932.4,1527 933,1527 933.6,1525.5 934.2,1525.6 934.8,1524.9 935.4,1526.2 936,1526.7 936.6,1526.5 937.2,1526.2 937.8,1525.7 938.4,1525.6 939,1525.6 939.6,1526.7 940.2,1526.2 940.8,1527.1 941.4,1525.7 942,1526.7 942.6,1525.9 943.2,1526.6 943.8,1526.9 944.4,1525.8 945,1526.5 945.6,1526.1 946.2,1525.7 946.8,1524.7 947.4,1526.3 948,1526.4 948.6,1526.6 949.2,1526.3 949.8,1524.5 950.4,1525.5 951,1524 951.6,1524.9 952.2,1525.1 952.8,1525.6 953.4,1526.3 954,1526.4 954.6,1526.2 955.2,1525.2 955.8,1526.2 956.4,1527.1 957,1527 957.6,1526.4 958.2,1527 958.8,1527.1 959.4,1527.7 960,1526.4 960.6,1527.6 961.2,1526.5 961.8,1527.4 962.4,1526.6 963,1525.5 963.6,1525.9 964.2,1526.9 964.8,1526.3 965.4,1526.9 966,1526.8 966.6,1527 967.2,1527.4 967.8,1528 968.4,1527.4 969,1525.4 969.6,1526.5 970.2,1525.9 970.8,1527.2 971.4,1527.6 972,1527.5 972.6,1526.5 973.2,1527.6 973.8,1527.1 974.4,1526 975,1525.6 975.6,1525.9 976.2,1526.2 976.8,1527 977.4,1527.1 978,1526.2 978.6,1525.1 979.2,1524.2 979.8,1525.6 980.4,1526.2 981,1525.6 981.6,1526.9 982.2,1526.9 982.8,1525.7 983.4,1526.4 984,1525.8 984.6,1527.1 985.2,1526.9 985.8,1527.4 986.4,1526.1 987,1527.1 987.6,1526.9 988.2,1526.3 988.8,1527.2 989.4,1526.7 990,1526.8 990.6,1526.6 991.2,1526.6 991.8,1525.3 992.4,1527 993,1527.6 993.6,1527.5 994.2,1527.1 994.8,1527.9 995.4,1526 996,1527.6" fill="none" stroke="#0000ff" stroke-width="2.1" stroke-linejoin="round"/>
<line x1="638.3" y1="1321.4" x2="638.3" y2="1538.7" stroke="#0000ff" stroke-width="2.2"/>
<rect x="628.5" y="1523.5" width="9" height="9" fill="#0000ff" stroke="none" stroke-width="0"/>
<text x="1067.4" y="1275.5" font-size="34" font-weight="bold" fill="#000" text-anchor="start">J</text>
<line x1="1206.9" y1="1566.8" x2="1206.9" y2="1290" stroke="#000" stroke-width="3.5" stroke-linecap="butt"/>
<line x1="1195.2" y1="1565" x2="1206.9" y2="1565" stroke="#000" stroke-width="3.5"/>
<text x="1186.7" y="1573" font-size="30" font-weight="bold" fill="#000" text-anchor="end">0</text>
<line x1="1195.2" y1="1510.2" x2="1206.9" y2="1510.2" stroke="#000" stroke-width="3.5"/>
<text x="1186.7" y="1518.2" font-size="30" font-weight="bold" fill="#000" text-anchor="end">50</text>
<line x1="1195.2" y1="1455.5" x2="1206.9" y2="1455.5" stroke="#000" stroke-width="3.5"/>
<text x="1186.8" y="1463.5" font-size="30" font-weight="bold" fill="#000" text-anchor="end">100</text>
<line x1="1195.2" y1="1400.7" x2="1206.9" y2="1400.7" stroke="#000" stroke-width="3.5"/>
<text x="1186.8" y="1408.7" font-size="30" font-weight="bold" fill="#000" text-anchor="end">150</text>
<line x1="1195.2" y1="1345.9" x2="1206.9" y2="1345.9" stroke="#000" stroke-width="3.5"/>
<text x="1186.8" y="1353.9" font-size="30" font-weight="bold" fill="#000" text-anchor="end">200</text>
<line x1="1195.2" y1="1291.1" x2="1206.9" y2="1291.1" stroke="#000" stroke-width="3.5"/>
<text x="1186.8" y="1299.1" font-size="30" font-weight="bold" fill="#000" text-anchor="end">250</text>
<line x1="1195.2" y1="1565" x2="1457.6" y2="1565" stroke="#000" stroke-width="3.5"/>
<line x1="1206.9" y1="1565" x2="1206.9" y2="1577.6" stroke="#000" stroke-width="3.5"/>
<text x="1206.9" y="1606" font-size="30" font-weight="bold" fill="#000" text-anchor="middle">0.0</text>
<line x1="1282.8" y1="1565" x2="1282.8" y2="1577.6" stroke="#000" stroke-width="3.5"/>
<text x="1282.8" y="1606" font-size="30" font-weight="bold" fill="#000" text-anchor="middle">0.2</text>
<line x1="1358.7" y1="1565" x2="1358.7" y2="1577.6" stroke="#000" stroke-width="3.5"/>
<text x="1358.7" y="1606" font-size="30" font-weight="bold" fill="#000" text-anchor="middle">0.4</text>
<line x1="1434.6" y1="1565" x2="1434.6" y2="1577.6" stroke="#000" stroke-width="3.5"/>
<text x="1434.6" y="1606" font-size="30" font-weight="bold" fill="#000" text-anchor="middle">0.6</text>
<text x="1118.8" y="1556.8" font-size="30.6" font-weight="bold" fill="#000" text-anchor="start" transform="rotate(-90 1118.8 1556.8)">Amplitude (pA)</text>
<text x="1136.8" y="1644.7" font-size="30.1" font-weight="bold" fill="#000" text-anchor="start">Stimulus intensity (mA)</text>
<line x1="1282.8" y1="1510.5" x2="1282.8" y2="1540.4" stroke="#0000ff" stroke-width="3.5"/>
<line x1="1276.3" y1="1510.5" x2="1289.3" y2="1510.5" stroke="#0000ff" stroke-width="3.8" stroke-linecap="round"/>
<line x1="1276.3" y1="1540.4" x2="1289.3" y2="1540.4" stroke="#0000ff" stroke-width="3.8" stroke-linecap="round"/>
<line x1="1320.8" y1="1463.2" x2="1320.8" y2="1514.9" stroke="#0000ff" stroke-width="3.5"/>
<line x1="1314.2" y1="1463.2" x2="1327.2" y2="1463.2" stroke="#0000ff" stroke-width="3.8" stroke-linecap="round"/>
<line x1="1314.2" y1="1514.9" x2="1327.2" y2="1514.9" stroke="#0000ff" stroke-width="3.8" stroke-linecap="round"/>
<line x1="1358.7" y1="1425.5" x2="1358.7" y2="1494.8" stroke="#0000ff" stroke-width="3.5"/>
<line x1="1352.2" y1="1425.5" x2="1365.2" y2="1425.5" stroke="#0000ff" stroke-width="3.8" stroke-linecap="round"/>
<line x1="1352.2" y1="1494.8" x2="1365.2" y2="1494.8" stroke="#0000ff" stroke-width="3.8" stroke-linecap="round"/>
<line x1="1396.7" y1="1372.9" x2="1396.7" y2="1459.7" stroke="#0000ff" stroke-width="3.5"/>
<line x1="1390.2" y1="1372.9" x2="1403.2" y2="1372.9" stroke="#0000ff" stroke-width="3.8" stroke-linecap="round"/>
<line x1="1390.2" y1="1459.7" x2="1403.2" y2="1459.7" stroke="#0000ff" stroke-width="3.8" stroke-linecap="round"/>
<line x1="1434.6" y1="1330.8" x2="1434.6" y2="1436" stroke="#0000ff" stroke-width="3.5"/>
<line x1="1428.1" y1="1330.8" x2="1441.1" y2="1330.8" stroke="#0000ff" stroke-width="3.8" stroke-linecap="round"/>
<line x1="1428.1" y1="1436" x2="1441.1" y2="1436" stroke="#0000ff" stroke-width="3.8" stroke-linecap="round"/>
<polyline points="1244.9,1554 1282.8,1525.4 1320.8,1488.6 1358.7,1459.7 1396.7,1416.7 1434.6,1384.3" fill="none" stroke="#0000ff" stroke-width="3.8" stroke-linejoin="round"/>
<circle cx="1244.9" cy="1554" r="7.3" fill="#0000ff" stroke="none" stroke-width="0"/>
<circle cx="1282.8" cy="1525.4" r="7.3" fill="#0000ff" stroke="none" stroke-width="0"/>
<circle cx="1320.8" cy="1488.6" r="7.3" fill="#0000ff" stroke="none" stroke-width="0"/>
<circle cx="1358.7" cy="1459.7" r="7.3" fill="#0000ff" stroke="none" stroke-width="0"/>
<circle cx="1396.7" cy="1416.7" r="7.3" fill="#0000ff" stroke="none" stroke-width="0"/>
<circle cx="1434.6" cy="1384.3" r="7.3" fill="#0000ff" stroke="none" stroke-width="0"/>
<line x1="1282.8" y1="1535.1" x2="1282.8" y2="1552.6" stroke="#333" stroke-width="3.5"/>
<line x1="1276.3" y1="1535.1" x2="1289.3" y2="1535.1" stroke="#333" stroke-width="3.8" stroke-linecap="round"/>
<line x1="1276.3" y1="1552.6" x2="1289.3" y2="1552.6" stroke="#333" stroke-width="3.8" stroke-linecap="round"/>
<line x1="1320.8" y1="1493" x2="1320.8" y2="1529" stroke="#333" stroke-width="3.5"/>
<line x1="1314.2" y1="1493" x2="1327.2" y2="1493" stroke="#333" stroke-width="3.8" stroke-linecap="round"/>
<line x1="1314.2" y1="1529" x2="1327.2" y2="1529" stroke="#333" stroke-width="3.8" stroke-linecap="round"/>
<line x1="1358.7" y1="1455.3" x2="1358.7" y2="1507.9" stroke="#333" stroke-width="3.5"/>
<line x1="1352.2" y1="1455.3" x2="1365.2" y2="1455.3" stroke="#333" stroke-width="3.8" stroke-linecap="round"/>
<line x1="1352.2" y1="1507.9" x2="1365.2" y2="1507.9" stroke="#333" stroke-width="3.8" stroke-linecap="round"/>
<line x1="1396.7" y1="1410.6" x2="1396.7" y2="1471.1" stroke="#333" stroke-width="3.5"/>
<line x1="1390.2" y1="1410.6" x2="1403.2" y2="1410.6" stroke="#333" stroke-width="3.8" stroke-linecap="round"/>
<line x1="1390.2" y1="1471.1" x2="1403.2" y2="1471.1" stroke="#333" stroke-width="3.8" stroke-linecap="round"/>
<line x1="1434.6" y1="1373.8" x2="1434.6" y2="1445.7" stroke="#333" stroke-width="3.5"/>
<line x1="1428.1" y1="1373.8" x2="1441.1" y2="1373.8" stroke="#333" stroke-width="3.8" stroke-linecap="round"/>
<line x1="1428.1" y1="1445.7" x2="1441.1" y2="1445.7" stroke="#333" stroke-width="3.8" stroke-linecap="round"/>
<polyline points="1244.9,1559.6 1282.8,1544.7 1320.8,1512.3 1358.7,1481.6 1396.7,1441.3 1434.6,1409.7" fill="none" stroke="#333" stroke-width="3.8" stroke-linejoin="round"/>
<circle cx="1244.9" cy="1559.6" r="7.3" fill="#333" stroke="none" stroke-width="0"/>
<circle cx="1282.8" cy="1544.7" r="7.3" fill="#333" stroke="none" stroke-width="0"/>
<circle cx="1320.8" cy="1512.3" r="7.3" fill="#333" stroke="none" stroke-width="0"/>
<circle cx="1358.7" cy="1481.6" r="7.3" fill="#333" stroke="none" stroke-width="0"/>
<circle cx="1396.7" cy="1441.3" r="7.3" fill="#333" stroke="none" stroke-width="0"/>
<circle cx="1434.6" cy="1409.7" r="7.3" fill="#333" stroke="none" stroke-width="0"/>
<line x1="1222.5" y1="1298.8" x2="1259.5" y2="1298.8" stroke="#333" stroke-width="3.5" stroke-linecap="round"/>
<circle cx="1241.1" cy="1298.8" r="8.8" fill="#333" stroke="none" stroke-width="0"/>
<text x="1268.7" y="1306.3" font-size="30" font-weight="bold" font-style="italic" fill="#231815">Cyld<tspan font-size="20" dx="2.3" dy="-13.8">+/+</tspan></text>
<line x1="1222.5" y1="1341" x2="1259.5" y2="1341" stroke="#0000ff" stroke-width="4" stroke-linecap="round"/>
<circle cx="1241.1" cy="1341" r="8.8" fill="#0000ff" stroke="none" stroke-width="0"/>
<text x="1267.8" y="1351" font-size="30" font-weight="bold" font-style="italic" fill="#231815">Cyld<tspan font-size="20" dx="2.3" dy="-13.8">-/-</tspan></text>
<text x="17.8" y="1647.6" font-size="34" font-weight="bold" fill="#000" text-anchor="start">K</text>
<line x1="235.1" y1="1695.5" x2="235.1" y2="2127.4" stroke="#8fd1ef" stroke-width="2.2" stroke-dasharray="11,6"/>
<line x1="336.7" y1="1695.5" x2="336.7" y2="2127.4" stroke="#8fd1ef" stroke-width="2.2" stroke-dasharray="11,6"/>
<line x1="196.2" y1="1902.3" x2="295.5" y2="1902.3" stroke="#8fd1ef" stroke-width="2.2" stroke-dasharray="12,6"/>
<line x1="244.1" y1="1684.6" x2="327.7" y2="1684.6" stroke="#8fd1ef" stroke-width="2.4" stroke-dasharray="12,5"/>
<path d="M247.6,1673.6 L235.1,1684.6 L247.6,1695.6 L244.6,1684.6 Z" fill="#8fd1ef" stroke="none" stroke-width="0"/>
<path d="M324.2,1673.6 L336.7,1684.6 L324.2,1695.6 L327.2,1684.6 Z" fill="#8fd1ef" stroke="none" stroke-width="0"/>
<text x="245.1" y="1672" font-size="30.3" font-weight="bold" fill="#000" text-anchor="start">50 ms</text>
<line x1="646" y1="1695.5" x2="646" y2="2127.4" stroke="#8fd1ef" stroke-width="2.2" stroke-dasharray="11,6"/>
<line x1="752.9" y1="1695.5" x2="752.9" y2="2127.4" stroke="#8fd1ef" stroke-width="2.2" stroke-dasharray="11,6"/>
<line x1="605.9" y1="1909.4" x2="704.4" y2="1909.4" stroke="#8fd1ef" stroke-width="2.2" stroke-dasharray="12,6"/>
<line x1="655" y1="1689.4" x2="743.9" y2="1689.4" stroke="#8fd1ef" stroke-width="2.4" stroke-dasharray="12,5"/>
<path d="M658.5,1678.4 L646,1689.4 L658.5,1700.4 L655.5,1689.4 Z" fill="#8fd1ef" stroke="none" stroke-width="0"/>
<path d="M740.4,1678.4 L752.9,1689.4 L740.4,1700.4 L743.4,1689.4 Z" fill="#8fd1ef" stroke="none" stroke-width="0"/>
<text x="654.2" y="1672.2" font-size="30.3" font-weight="bold" fill="#000" text-anchor="start">50 ms</text>
<line x1="240.8" y1="1703.1" x2="242.5" y2="2126.3" stroke="#111" stroke-width="1.6"/>
<line x1="240.6" y1="1860" x2="240.6" y2="2023" stroke="#111" stroke-width="2.4"/>
<polyline points="226.3,1903.3 232,1903.8 238,1902.8 244,1902.2 245,1901 245.5,1891.4 246,1883 246.5,1873.4 247,1863.4 247.5,1855.4 248,1845.7 248.5,1837.2 249,1828.5 249.5,1819.9 250,1811.8 250.5,1803.6 251,1794.2 251.5,1786.2 252,1778.7 252.5,1771.2 253,1764.3 253.5,1758.1 254,1754.3 254.5,1751.8 255,1749.3 255.5,1746.8 256,1745 256.5,1743.1 257,1741.3 257.5,1739.9 258,1738.7 258.5,1737.6 259,1737 259.5,1736.4 260,1736.1 260.5,1735.8 261,1735.2 261.5,1734.3 262,1734.6 262.5,1734 263,1734.3 263.5,1733.4 264,1733.8 264.5,1733.2 265,1733.3 265.5,1732.9 266,1732.8 266.5,1732.5 267,1732.7 267.5,1733.1 268,1733.7 268.5,1733.4 269,1734.3 269.5,1734.3 270,1735 270.5,1735 271,1735.7 271.5,1735.5 272,1736.1 272.5,1736.5 273,1736.6 273.5,1737.2 274,1737.6 274.5,1738.1 275,1737.9 275.5,1738.8 276,1739.2 276.5,1739.5 277,1740 277.5,1741.1 278,1741.4 278.5,1742 279,1742.5 279.5,1742.3 280,1742.8 280.5,1742.8 281,1743.8 281.5,1743.7 282,1744.4 282.5,1745 283,1745.3 283.5,1745.4 284,1745.9 284.5,1746.9 285,1747 285.5,1747.2 286,1747.8 286.5,1748.2 287,1748.4 287.5,1749 288,1749 288.5,1750 289,1750.3 289.5,1751.1 290,1751.5 290.5,1751.6 291,1752.6 291.5,1752.5 292,1753.5 292.5,1753.6 293,1754 293.5,1754.3 294,1755 294.5,1756 295,1755.9 295.5,1756.3 296,1756.4 296.5,1757.1 297,1757.7 297.5,1758.1 298,1758.8 298.5,1758.9 299,1759.4 299.5,1760.1 300,1760.4 300.5,1760.3 301,1761.1 301.5,1761.4 302,1761.3 302.5,1761.7 303,1762.2 303.5,1762.7 304,1763 304.5,1763.5 305,1764.2 305.5,1764.2 306,1764.1 306.5,1764.3 307,1765.2 307.5,1765.2 308,1765.5 308.5,1765.9 309,1766.4 309.5,1766.6 310,1767.1 310.5,1766.6 311,1767.3 311.5,1767.4 312,1767.8 312.5,1768 313,1768.2 313.5,1769.2 314,1769.2 314.5,1769.3 315,1769.5 315.5,1769.9 316,1770.1 316.5,1770.2 317,1771 317.5,1770.9 318,1771.6 318.5,1771.6 319,1772.3 319.5,1772.4 320,1772.3 320.5,1772.7 321,1773 321.5,1773.6 322,1773.9 322.5,1773.8 323,1774 323.5,1774 324,1774.9 324.5,1774.8 325,1774.8 325.5,1775 326,1775.8 326.5,1776.4 327,1776.2 327.5,1776.2 328,1776.4 328.5,1776.6 329,1776.3 329.5,1777.2 330,1777 330.5,1776.8 331,1776.7 331.5,1777.7 332,1777.9 332.5,1778.5 333,1778.6 333.5,1778.7 334,1778.5 334.5,1779.2 335,1779.3 335.5,1779.8 336,1779.6 336.5,1780 337,1780.3 337.5,1780.1 338,1780.2 338.5,1780.2 339,1781.1 339.5,1781.5 340,1781.4 340.5,1781.1 341,1782 341.5,1781.8 342,1782.6 342.5,1783.1 343,1783.1 343.5,1782.6 344,1783.7 344.5,1783.7 345,1784.1 345.5,1784 346,1784.1 346.5,1783.8 347,1784.7 347.5,1784.2 348,1784.3 348.5,1785 349,1785.4 349.5,1785.9 350,1786 350.5,1785.9 351,1786.1 351.5,1786.5 352,1786.5 352.5,1786.7 353,1786.3 353.5,1786.8 354,1787 354.5,1787.4 355,1787.4 355.5,1788 356,1788.1 356.5,1787.9 357,1788.3 357.5,1788.7 358,1788.5 358.5,1788.4 359,1789.1 359.5,1789.4 360,1789.6 360.5,1790 361,1790 361.5,1790.5 362,1790.1 362.5,1790.8 363,1790.5 363.5,1791 364,1790.6 364.5,1791.2 365,1791.9 365.5,1791.9 366,1792.1 366.5,1792 367,1792.6 367.5,1792.4 368,1793.2 368.5,1793.1 369,1793 369.5,1793.2 370,1793.4 370.5,1794 371,1794.2 371.5,1793.8 372,1794.6 372.5,1794.5 373,1795.5 373.5,1794.5 374,1795.5 374.5,1795.2 375,1795.7 375.5,1796.2 376,1796.2 376.5,1796 377,1796.1 377.5,1797.4 378,1796.9 378.5,1797.5 379,1797.9 379.5,1797.3 380,1798.5 380.5,1798.2 381,1798.3 381.5,1798.3 382,1798.8 382.5,1799 383,1799.3 383.5,1799.5 384,1799.7 384.5,1799.6 385,1799.8 385.5,1800.1 386,1800.2 386.5,1800.7 387,1800.6 387.5,1800.5 388,1800.5 388.5,1800.3 389,1800.8 389.5,1800.9 390,1800.5 390.5,1801.2 391,1801.5 391.5,1801.7 392,1801.3 392.5,1801.6 393,1801.7 393.5,1802.4 394,1802.5 394.5,1803 395,1802.4 395.5,1803 396,1802.9 396.5,1803 397,1803.4 397.5,1802.9 398,1803.2 398.5,1804.1 399,1804.1 399.5,1804.5 400,1804.3 400.5,1804.1 401,1804.6 401.5,1804.5 402,1804.7 402.5,1805 403,1804.9 403.5,1805.8 404,1805.6 404.5,1805.7 405,1805.9 405.5,1805.7 406,1805.9 406.5,1806.1 407,1806.4 407.5,1805.7 408,1806.6 408.5,1805.8 409,1806.2 409.5,1806.1 410,1806.6 410.5,1806.3 411,1807 411.5,1807.2 412,1807.5 412.5,1807.6 413,1807.5 413.5,1807.7 414,1807.5 414.5,1807.7 415,1808.1 415.5,1807.7 416,1808.1 416.5,1808.3 417,1808.5 417.5,1808.4 418,1808.3 418.5,1808.5 419,1808.8 419.5,1808.6 420,1808.4 420.5,1808.5 421,1808.4 421.5,1808.9 422,1809.2 422.5,1809.5 423,1809.3 423.5,1809.4 424,1809.6 424.5,1809.6 425,1809.8 425.5,1809.8 426,1809.5 426.5,1809.7 427,1809.4 427.5,1809.9 428,1810.1 428.5,1809.9 429,1809.7 429.5,1810.9 430,1810.2 430.5,1810.6 431,1810.1 431.5,1810.4 432,1810.6 432.5,1810.7 433,1810.7 433.5,1810.7 434,1810.5 434.5,1810.4 435,1810.6 435.5,1810.7 436,1810.6 436.5,1810.9 437,1811 437.5,1810.8 438,1811.3 438.5,1811.2 439,1811.3 439.5,1811.6 440,1811.7 440.5,1811.3 441,1811.9 441.5,1811.4 442,1811.6 442.5,1811.8 443,1811.9 443.5,1811.6 444,1811.6 444.5,1812 445,1812.3 445.5,1812.5 446,1812.3 446.5,1812.5 447,1812 447.5,1812 448,1812.4 448.5,1812.5 449,1812.1 449.5,1812.8 450,1812.3 450.5,1812.5 451,1812.5 451.5,1812.7 452,1813.2 452.5,1812.7 453,1812.9 453.5,1813.2 454,1813.4 454.5,1813.7 455,1813 455.5,1813.4 456,1812.9 456.5,1813.2 457,1812.8 457.5,1813.7 458,1813.4 458.5,1814.1 459,1813.9 459.5,1814 460,1814.2 460.5,1814.2 461,1814.4 461.5,1814.1 462,1814.6 462.5,1814.8 463,1814.2 463.5,1814.2 464,1814.4 464.5,1814.6 465,1815.3 465.5,1815 466,1814.5 466.5,1815.5 467,1815.1 467.5,1814.8 468,1814.7 468.5,1815.4 469,1815.1 469.5,1815.7 470,1816.1 470.5,1815.7 471,1815.8 471.5,1815.8 472,1816.3 472.5,1815.9 473,1816 473.5,1816.1 474,1815.8 474.5,1815.7 475,1816.2 475.5,1816.4 476,1816.3 476.5,1816.5 477,1816.3 477.5,1816.9 478,1817 478.5,1816.9 479,1816.9 479.5,1817.2 480,1817 480.5,1817.3 481,1817.1 481.5,1817.3 482,1817.3 482.5,1817.1 483,1817.7 483.5,1817.6 484,1818 484.5,1817.7 485,1817.8 485.5,1817.6 486,1818.2 486.5,1818.2 487,1818.8 487.5,1818.3 488,1818.9 488.5,1818.5 489,1818.9 489.5,1819.4 490,1819.2 490.5,1819.3 491,1819.2 491.5,1818.9 492,1819.9 492.5,1819 493,1819.3 493.5,1819.4 494,1819.5 494.5,1819.8 495,1820 495.5,1819.5 496,1819.9 496.5,1819.5 497,1820.2 497.5,1820 498,1820.1 498.5,1819.7 499,1820 499.5,1820.5 500,1820.7 500.5,1820.6 501,1820.7 501.5,1820.9 502,1821.1 502.5,1821.3 503,1822.1 503.5,1821.6 504,1821.1 504.5,1821.4 505,1821.5 505.5,1821.9 506,1822.6 506.5,1822.3 507,1822.2 507.5,1822.5 508,1822.4 508.5,1822.3 509,1822.3 509.5,1822.9 510,1822.3 510.5,1823.2 511,1823.5 511.5,1823 512,1823.4 512.5,1823.3 513,1823.4 513.5,1822.9 514,1823.4 514.5,1824.1 515,1823.9 515.5,1824.1 516,1824.7 516.5,1824.3 517,1823.9 517.5,1824.6 518,1825.2 518.5,1825.2 519,1824.9 519.5,1825.1 520,1825 520.5,1825.8 521,1825.6 521.5,1825.9 522,1825.8 522.5,1826.2 523,1826.2 523.5,1826.2 524,1826.2" fill="none" stroke="#111" stroke-width="1.8" stroke-linejoin="round"/>
<polyline points="245,1903.2 245.5,1907.7 246,1911.7 246.5,1915.8 247,1919.4 247.5,1923.3 248,1927 248.5,1931.6 249,1937.1 249.5,1943.5 250,1950.9 250.5,1958.4 251,1967 251.5,1976.6 252,1986.3 252.5,1995.8 253,2005.3 253.5,2014.7 254,2023.7 254.5,2033.6 255,2044 255.5,2053.5 256,2063.2 256.5,2072.1 257,2081 257.5,2087.7 258,2095.5 258.5,2102.8 259,2109.7 259.5,2115.8 260,2120.3 260.5,2121.7 261,2121.7 261.5,2119.9 262,2117 262.5,2114.2 263,2111.4 263.5,2107.9 264,2104.9 264.5,2101.7 265,2098.4 265.5,2094 266,2090.2 266.5,2086.1 267,2082.1 267.5,2078.3 268,2074.3 268.5,2071 269,2067.8 269.5,2063.5 270,2059.1 270.5,2055.1 271,2050.8 271.5,2047.2 272,2043.1 272.5,2039.1 273,2034.9 273.5,2032 274,2028.2 274.5,2024.2 275,2021.1 275.5,2017.8 276,2014.1 276.5,2011.6 277,2007.7 277.5,2005.7 278,2002.5 278.5,2000.2 279,1997.1 279.5,1995.1 280,1992.9 280.5,1990.6 281,1988.1 281.5,1985.8 282,1983.2 282.5,1981 283,1979 283.5,1976.5 284,1974.7 284.5,1972.3 285,1970.3 285.5,1968.5 286,1966.3 286.5,1964.2 287,1962.5 287.5,1960.5 288,1958.8 288.5,1957.2 289,1955.4 289.5,1954.2 290,1952.3 290.5,1951.2 291,1950.1 291.5,1948.8 292,1947.7 292.5,1946.9 293,1945.4 293.5,1944.3 294,1943.5 294.5,1941.8 295,1941.2 295.5,1940.5 296,1939.5 296.5,1938.3 297,1937.8 297.5,1937 298,1936.2 298.5,1935.7 299,1934.3 299.5,1934.1 300,1933.3 300.5,1932.7 301,1931.7 301.5,1932 302,1930.3 302.5,1930.4 303,1929.8 303.5,1929.7 304,1928.5 304.5,1928.1 305,1927.7 305.5,1927.5 306,1927.1 306.5,1926.7 307,1925.7 307.5,1925.8 308,1925.7 308.5,1925.2 309,1924.9 309.5,1924.2 310,1923.9 310.5,1923.7 311,1923.6 311.5,1923.4 312,1922.8 312.5,1923 313,1922.4 313.5,1922.2 314,1921.5 314.5,1921.1 315,1921.3 315.5,1920.6 316,1921 316.5,1920.8 317,1919.9 317.5,1919.8 318,1919.7 318.5,1919.5 319,1918.9 319.5,1919.4 320,1919 320.5,1918.5 321,1918.7 321.5,1918.7 322,1919.2 322.5,1918.5 323,1918.2 323.5,1918.2 324,1917.5 324.5,1918 325,1917.7 325.5,1917.8 326,1917.7 326.5,1918.1 327,1917.9 327.5,1917.1 328,1917.3 328.5,1917.2 329,1917.1 329.5,1916.8 330,1916.8 330.5,1916.6 331,1916.7 331.5,1916.4 332,1916.5 332.5,1916.7 333,1916.5 333.5,1916.1 334,1915.9 334.5,1916.1 335,1915.8 335.5,1916.1 336,1915.8 336.5,1915.5 337,1915.8 337.5,1915.5 338,1915.8 338.5,1915.6 339,1915.6 339.5,1915 340,1915.3 340.5,1915.3 341,1916 341.5,1915.5 342,1915.4 342.5,1915.6 343,1915.2 343.5,1915.2 344,1914.9 344.5,1915 345,1914.3 345.5,1914.4 346,1915 346.5,1915 347,1914.8 347.5,1914.5 348,1915 348.5,1914.9 349,1914.3 349.5,1914.6 350,1914.8 350.5,1914.3 351,1913.8 351.5,1914.1 352,1914.3 352.5,1914.2 353,1913.9 353.5,1914.1 354,1913.9 354.5,1914 355,1913.5 355.5,1913.6 356,1913.9 356.5,1913.9 357,1913.6 357.5,1913.8 358,1913.5 358.5,1913.3 359,1913.9 359.5,1913.3 360,1913.1 360.5,1913.3 361,1913.4 361.5,1913.4 362,1913.1 362.5,1912.8 363,1913.2 363.5,1913.2 364,1912.9 364.5,1913.1 365,1913.5 365.5,1913.2 366,1912.2 366.5,1912.6 367,1913.1 367.5,1912.5 368,1911.9 368.5,1912 369,1912.5 369.5,1912 370,1912.5 370.5,1912.1 371,1912.6 371.5,1912.3 372,1912.5 372.5,1912.5 373,1912.3 373.5,1911.7 374,1912.5 374.5,1912.4 375,1912.3 375.5,1912.3 376,1911.8 376.5,1911.9 377,1911.4 377.5,1911.3 378,1911.6 378.5,1911 379,1911.5 379.5,1911.2 380,1911.3 380.5,1911.1 381,1911.4 381.5,1911.7 382,1911.3 382.5,1911.5 383,1911.8 383.5,1911.4 384,1912 384.5,1911.6 385,1911.7 385.5,1911.9 386,1911.9 386.5,1911.3 387,1912.1 387.5,1911.5 388,1911.3 388.5,1911.7 389,1911.6 389.5,1911.9 390,1911.1 390.5,1910.8 391,1910.7 391.5,1911.1 392,1911.2 392.5,1911.3 393,1911.4 393.5,1911.6 394,1911.3 394.5,1911.2 395,1912.1 395.5,1912 396,1911.1 396.5,1911.3 397,1911 397.5,1911.5 398,1911.5 398.5,1910.6 399,1911 399.5,1910.8 400,1911.2 400.5,1911 401,1911.2 401.5,1910.9 402,1911.4 402.5,1911.1 403,1911.5 403.5,1911 404,1911.4 404.5,1911.3 405,1911.2 405.5,1911.1 406,1910.8 406.5,1910.9 407,1910.6 407.5,1911.2 408,1911.1 408.5,1911.1 409,1911 409.5,1910.5 410,1910.5 410.5,1910.5 411,1910.5 411.5,1910.2 412,1910.2 412.5,1910.6 413,1911.3 413.5,1910.9 414,1911 414.5,1910.9 415,1910.6 415.5,1911.1 416,1911 416.5,1911 417,1911 417.5,1911.6 418,1910.8 418.5,1911 419,1911 419.5,1911 420,1911.4 420.5,1911.3 421,1910.8 421.5,1910.2 422,1910.6 422.5,1910.4 423,1909.9 423.5,1910.5 424,1910.3 424.5,1910.4 425,1910.6 425.5,1911 426,1910.4 426.5,1910.6 427,1910.6 427.5,1910.4 428,1910.3 428.5,1910.7 429,1910.1 429.5,1910.2 430,1910.8 430.5,1910.4 431,1910.7 431.5,1911.3 432,1910.8 432.5,1910.7 433,1910.7 433.5,1911.6 434,1911.8 434.5,1911.9 435,1912.5 435.5,1912.7 436,1912.7 436.5,1912.8 437,1912.8 437.5,1913.2 438,1913.4 438.5,1913.7 439,1913.1 439.5,1913.3 440,1913 440.5,1913.3 441,1913.5 441.5,1913.5 442,1913.2 442.5,1912.9 443,1913.3 443.5,1912.9 444,1912.9 444.5,1913.6 445,1912.5 445.5,1912.8 446,1912.4 446.5,1912.5 447,1911.8 447.5,1911.8 448,1912 448.5,1911.3 449,1911.2 449.5,1911.2 450,1911 450.5,1910.8 451,1911.4 451.5,1910.9 452,1910.9 452.5,1911.4 453,1911.3 453.5,1910.9 454,1911.3 454.5,1911.2 455,1911 455.5,1911.6 456,1911 456.5,1911.1 457,1911.1 457.5,1911.1 458,1911.2 458.5,1911 459,1911 459.5,1911.2 460,1910.8 460.5,1910.7 461,1910.9 461.5,1910.7 462,1910.3 462.5,1910.2 463,1910.7 463.5,1909.9 464,1910.5 464.5,1910.5 465,1910.1 465.5,1910.2 466,1910.8 466.5,1910.4 467,1910 467.5,1910.1 468,1910.1 468.5,1909.6 469,1910.3 469.5,1909.5 470,1910.1 470.5,1909.9 471,1909.9 471.5,1910.1 472,1909.9 472.5,1910.4 473,1910.3 473.5,1910.2 474,1909.9 474.5,1909.6 475,1909.9 475.5,1909.3 476,1910.1 476.5,1909.7 477,1909.5 477.5,1908.9 478,1909.8 478.5,1909.2 479,1909.2 479.5,1908.9 480,1908.4 480.5,1909.1 481,1909.2 481.5,1908.8 482,1909.1 482.5,1909.3 483,1908.9 483.5,1909.3 484,1908.8 484.5,1908.9 485,1909 485.5,1909.1 486,1909.6 486.5,1909.2 487,1909 487.5,1909.2 488,1908.7 488.5,1908.7 489,1909.2 489.5,1909.3 490,1909.1 490.5,1908.5 491,1908.7 491.5,1908.8 492,1909 492.5,1909 493,1908.5 493.5,1908.2 494,1908.7 494.5,1908.3 495,1909 495.5,1908.7 496,1909.1 496.5,1908.7 497,1908.4 497.5,1908.4 498,1907.9 498.5,1908.6 499,1909 499.5,1908.2 500,1908.3 500.5,1908 501,1908 501.5,1908.4 502,1908.6 502.5,1908.1 503,1908.4 503.5,1907.6 504,1908.1 504.5,1908.3 505,1908.8 505.5,1908.3 506,1908.9 506.5,1908.3 507,1908.2 507.5,1908.3 508,1908.3 508.5,1908 509,1908.3 509.5,1908.4 510,1908.5 510.5,1908.3 511,1908.1 511.5,1908.4 512,1907.6 512.5,1907.8 513,1908 513.5,1907.8 514,1907.8 514.5,1907.5 515,1907.3 515.5,1907.8 516,1908.1 516.5,1907.8 517,1907.8 517.5,1908 518,1907.5 518.5,1908 519,1907.8 519.5,1907.4 520,1907.8 520.5,1907.8 521,1907.5 521.5,1907.8 522,1907.5 522.5,1907.8 523,1907.4 523.5,1907.4 524,1907.3" fill="none" stroke="#111" stroke-width="1.8" stroke-linejoin="round"/>
<circle cx="337.5" cy="1780.5" r="8.2" fill="none" stroke="#f3a51f" stroke-width="2.9"/>
<circle cx="260.6" cy="2123.3" r="8.2" fill="none" stroke="#f3a51f" stroke-width="2.9"/>
<text x="377.4" y="1787.9" font-size="30.8" font-weight="bold" fill="#000" text-anchor="start">NMDA</text>
<text x="234.2" y="2162" font-size="31.8" font-weight="bold" fill="#000" text-anchor="start">AMPA</text>
<text x="132" y="1732.2" font-size="30" font-weight="bold" font-style="italic" fill="#231815">Cyld<tspan font-size="20" dx="2.3" dy="-13.8">+/+</tspan></text>
<text x="119.7" y="1873.7" font-size="30.5" font-weight="bold" fill="#000" text-anchor="start">+40 mV</text>
<text x="128.9" y="1946.7" font-size="30.4" font-weight="bold" fill="#000" text-anchor="start">-70 mV</text>
<line x1="650.9" y1="1703.3" x2="650.9" y2="2124.1" stroke="#0000ff" stroke-width="1.7"/>
<line x1="650.9" y1="1703.3" x2="650.9" y2="1910" stroke="#0000ff" stroke-width="2.6"/>
<polyline points="629.9,1908.2 640,1907.5 648,1909 655,1909.3 656.5,1908.6 657,1900.1 657.5,1891.2 658,1881.9 658.5,1871.9 659,1862.4 659.5,1853.8 660,1845.4 660.5,1837.8 661,1832 661.5,1825.5 662,1818.8 662.5,1812.3 663,1807 663.5,1801.4 664,1796.2 664.5,1790.8 665,1787 665.5,1782.8 666,1780.1 666.5,1776.5 667,1775.2 667.5,1772.3 668,1770.7 668.5,1768.2 669,1766.8 669.5,1764.5 670,1762.5 670.5,1760.8 671,1760 671.5,1757.9 672,1756.8 672.5,1755.7 673,1754 673.5,1753.2 674,1752.2 674.5,1752.2 675,1751 675.5,1751 676,1750.1 676.5,1749.7 677,1749.8 677.5,1749.4 678,1749.2 678.5,1747.9 679,1749 679.5,1748.4 680,1748 680.5,1748.2 681,1747.5 681.5,1746.8 682,1746.2 682.5,1746.3 683,1746.4 683.5,1745.3 684,1745.8 684.5,1745.4 685,1745.2 685.5,1745.7 686,1745.4 686.5,1745 687,1745.3 687.5,1745.9 688,1746.1 688.5,1745.2 689,1745.5 689.5,1745.9 690,1746.3 690.5,1746.3 691,1746.3 691.5,1747.1 692,1746.9 692.5,1747.6 693,1747.6 693.5,1748.3 694,1748.7 694.5,1749.2 695,1749.3 695.5,1749.7 696,1750.3 696.5,1751.1 697,1750.8 697.5,1751.3 698,1751.7 698.5,1751.6 699,1752.6 699.5,1752.8 700,1753.1 700.5,1753.1 701,1753.5 701.5,1753.7 702,1753.6 702.5,1754.3 703,1754.9 703.5,1754.9 704,1754.7 704.5,1755.3 705,1755.1 705.5,1755.5 706,1755.8 706.5,1756.1 707,1756.8 707.5,1756.6 708,1756.8 708.5,1757.3 709,1757 709.5,1758.2 710,1758.6 710.5,1758.4 711,1758.6 711.5,1758.9 712,1759.3 712.5,1759.2 713,1759.3 713.5,1759.9 714,1759.9 714.5,1760.8 715,1760.5 715.5,1760.5 716,1760.9 716.5,1760.7 717,1760.9 717.5,1761.9 718,1762 718.5,1761.3 719,1761.8 719.5,1761.9 720,1762.6 720.5,1762.6 721,1762.4 721.5,1763.2 722,1762.9 722.5,1763.4 723,1764.1 723.5,1764.1 724,1764.2 724.5,1764.9 725,1764.4 725.5,1765 726,1764.9 726.5,1764.8 727,1765.6 727.5,1766 728,1765.3 728.5,1765.5 729,1766.4 729.5,1766.7 730,1766.8 730.5,1767.5 731,1768.4 731.5,1767.6 732,1768 732.5,1768.3 733,1769 733.5,1768.2 734,1769.5 734.5,1769 735,1770 735.5,1770.2 736,1770.1 736.5,1770.7 737,1771.4 737.5,1771.1 738,1771.5 738.5,1771.2 739,1771.5 739.5,1771.4 740,1772.5 740.5,1772.1 741,1772.7 741.5,1772.8 742,1772.8 742.5,1773.2 743,1773.6 743.5,1774 744,1772.9 744.5,1774.6 745,1775 745.5,1774.8 746,1775 746.5,1775.6 747,1776.2 747.5,1775.6 748,1776.9 748.5,1776.5 749,1777.8 749.5,1777.6 750,1778.1 750.5,1778 751,1777.9 751.5,1778.3 752,1778.7 752.5,1779.3 753,1779 753.5,1779.3 754,1779.4 754.5,1779.3 755,1779.8 755.5,1780.5 756,1780.7 756.5,1781.5 757,1780.5 757.5,1780.3 758,1780.8 758.5,1780.7 759,1781.4 759.5,1782 760,1781.9 760.5,1782.1 761,1781.7 761.5,1782.5 762,1782.4 762.5,1783 763,1783.1 763.5,1782.8 764,1783.1 764.5,1783.2 765,1783.8 765.5,1784.3 766,1783.8 766.5,1784.1 767,1784.7 767.5,1784.3 768,1784.6 768.5,1784.8 769,1785.1 769.5,1785.7 770,1785.8 770.5,1785.6 771,1786.9 771.5,1786.5 772,1786.7 772.5,1787.3 773,1786.8 773.5,1786.8 774,1787.2 774.5,1787.6 775,1788 775.5,1788.2 776,1788 776.5,1787.7 777,1788.6 777.5,1788.1 778,1788.8 778.5,1789.3 779,1789.1 779.5,1789.4 780,1789.2 780.5,1789.4 781,1789.8 781.5,1790.4 782,1790.2 782.5,1790.3 783,1791 783.5,1791.3 784,1791.3 784.5,1791.1 785,1791 785.5,1791.3 786,1791.4 786.5,1791.5 787,1791.7 787.5,1792.2 788,1791.9 788.5,1791.8 789,1792.2 789.5,1792 790,1792 790.5,1792.3 791,1792.2 791.5,1792.8 792,1792.4 792.5,1792.6 793,1792.6 793.5,1793.1 794,1793.2 794.5,1793.2 795,1792.8 795.5,1793.2 796,1792.3 796.5,1793.4 797,1793.7 797.5,1793.5 798,1794.4 798.5,1794.1 799,1794.5 799.5,1794.5 800,1795.4 800.5,1795.3 801,1795.2 801.5,1795.3 802,1796.2 802.5,1795.9 803,1796 803.5,1795.1 804,1796.1 804.5,1795.8 805,1795.6 805.5,1795.8 806,1796 806.5,1795.8 807,1795.6 807.5,1796.1 808,1796.2 808.5,1795.8 809,1796.7 809.5,1796.5 810,1796.1 810.5,1796.7 811,1796.8 811.5,1797 812,1796.9 812.5,1796.8 813,1797.2 813.5,1798.2 814,1798.5 814.5,1797.9 815,1797.5 815.5,1798 816,1798.4 816.5,1798.9 817,1798.9 817.5,1799.1 818,1799 818.5,1798.9 819,1798.9 819.5,1798.8 820,1798.8 820.5,1799.1 821,1799.4 821.5,1800 822,1799.5 822.5,1800.4 823,1799.7 823.5,1800.8 824,1800.2 824.5,1800.9 825,1801.1 825.5,1801.4 826,1801.1 826.5,1801.6 827,1801.5 827.5,1801.9 828,1801.8 828.5,1801.9 829,1801.7 829.5,1802.5 830,1802.2 830.5,1802.9 831,1802.8 831.5,1803.1 832,1802.4 832.5,1803.3 833,1803.1 833.5,1803.4 834,1803.4 834.5,1803.7 835,1804.1 835.5,1803.6 836,1803.7 836.5,1803.5 837,1803.8 837.5,1804.2 838,1804 838.5,1804.2 839,1804.7 839.5,1804.5 840,1804.3 840.5,1804.6 841,1804.4 841.5,1804.8 842,1804.9 842.5,1805.6 843,1805.8 843.5,1805.5 844,1806.4 844.5,1806.5 845,1806.2 845.5,1806.4 846,1806.4 846.5,1806.8 847,1807.1 847.5,1807.3 848,1807.6 848.5,1806.9 849,1807.4 849.5,1806.7 850,1807.4 850.5,1807.8 851,1808.1 851.5,1807.5 852,1808.3 852.5,1808 853,1807.7 853.5,1808.5 854,1808.3 854.5,1808.5 855,1808.5 855.5,1808.8 856,1809.2 856.5,1809.1 857,1808.8 857.5,1809.6 858,1809.4 858.5,1809.8 859,1809 859.5,1809.9 860,1809.6 860.5,1809.2 861,1810 861.5,1810 862,1810.2 862.5,1810 863,1809.9 863.5,1810.7 864,1810.4 864.5,1810.6 865,1810.5 865.5,1810.6 866,1810.5 866.5,1810.8 867,1810.8 867.5,1810.7 868,1810.9 868.5,1811.1 869,1811.2 869.5,1811.1 870,1810.9 870.5,1811.4 871,1811.2 871.5,1810.8 872,1811 872.5,1811.8 873,1811.7 873.5,1812 874,1812.2 874.5,1812.6 875,1812.3 875.5,1811.2 876,1812.2 876.5,1812 877,1812.8 877.5,1813 878,1813.4 878.5,1813.5 879,1813.5 879.5,1813 880,1812.8 880.5,1813.2 881,1813.1 881.5,1813.3 882,1814 882.5,1813.7 883,1813.7 883.5,1813.9 884,1813.8 884.5,1814 885,1814.2 885.5,1813.9 886,1814.5 886.5,1814.6 887,1814.6 887.5,1814.2 888,1815.2 888.5,1814.5 889,1814.4 889.5,1814 890,1814.9 890.5,1814.4 891,1814.3 891.5,1814.4 892,1814.6 892.5,1814.2 893,1814.6 893.5,1814.8 894,1814.9 894.5,1814.9 895,1814.9 895.5,1815.2 896,1815.7 896.5,1814.9 897,1815.3 897.5,1815.2 898,1815.2 898.5,1814.7 899,1815.2 899.5,1815.6 900,1814.8 900.5,1814.9 901,1815.4 901.5,1815.4 902,1815.5 902.5,1815.6 903,1815.2 903.5,1815.6 904,1815.3 904.5,1815.2 905,1815.4 905.5,1815.8 906,1814.9 906.5,1815.4 907,1816.3 907.5,1816.2 908,1815.7 908.5,1816.4 909,1815.6 909.5,1816 910,1816.4 910.5,1815.9 911,1816.2 911.5,1816.3 912,1815.8 912.5,1815.7 913,1816.4 913.5,1815.9 914,1816.3 914.5,1816.1 915,1816.1 915.5,1816 916,1815.6 916.5,1815.9 917,1815.6 917.5,1816 918,1816.1 918.5,1815.2 919,1815.3 919.5,1815.2 920,1815.8 920.5,1815.6 921,1815.4 921.5,1815.1 922,1815.7 922.5,1815 923,1815.6 923.5,1815.8 924,1815.8 924.5,1815.7 925,1815.1 925.5,1816.4 926,1815.7 926.5,1816.2 927,1816.1 927.5,1816.4 928,1816 928.5,1816.3 929,1816 929.5,1816.3 930,1816.4 930.5,1815.6 931,1816.5 931.5,1816.2 932,1816.2 932.5,1816.3 933,1816.3" fill="none" stroke="#0000ff" stroke-width="1.9" stroke-linejoin="round"/>
<polyline points="656.5,1909.1 657,1912.1 657.5,1915 658,1917.9 658.5,1920.8 659,1924 659.5,1927.3 660,1930.5 660.5,1933.7 661,1936.6 661.5,1940.3 662,1943.9 662.5,1947.3 663,1951.2 663.5,1955.7 664,1959.8 664.5,1963.6 665,1968.1 665.5,1972 666,1975.2 666.5,1978.6 667,1981.4 667.5,1985.7 668,1988.9 668.5,1991.4 669,1993.9 669.5,1994.3 670,1994.8 670.5,1994.7 671,1993.7 671.5,1993.5 672,1992.9 672.5,1990.8 673,1989.9 673.5,1989.3 674,1988.9 674.5,1987.1 675,1986.3 675.5,1985.8 676,1983.8 676.5,1983 677,1982.3 677.5,1981.2 678,1980.8 678.5,1979.7 679,1978.3 679.5,1978.1 680,1976.6 680.5,1976.2 681,1974.7 681.5,1973.7 682,1973.1 682.5,1972.4 683,1971.2 683.5,1969.7 684,1969.3 684.5,1967.9 685,1967.4 685.5,1966 686,1965.9 686.5,1964.7 687,1963.7 687.5,1963.5 688,1962.6 688.5,1961.3 689,1961 689.5,1959.4 690,1958.8 690.5,1958.1 691,1957 691.5,1956.5 692,1955.2 692.5,1954.4 693,1954.2 693.5,1952.6 694,1951.4 694.5,1951.7 695,1951.3 695.5,1949.7 696,1948.4 696.5,1948.1 697,1947.3 697.5,1946.5 698,1945.6 698.5,1945.4 699,1944.7 699.5,1943.4 700,1943.3 700.5,1943 701,1941.7 701.5,1940.7 702,1940.1 702.5,1939.5 703,1938.2 703.5,1938.1 704,1937.2 704.5,1937.3 705,1935.9 705.5,1935.9 706,1934.4 706.5,1934.3 707,1933.7 707.5,1932.9 708,1932.8 708.5,1932.6 709,1931.6 709.5,1930.8 710,1930.8 710.5,1929.8 711,1929.6 711.5,1929.1 712,1928.3 712.5,1928 713,1928.4 713.5,1927.7 714,1926.6 714.5,1927.3 715,1926.8 715.5,1926.2 716,1925.8 716.5,1926.2 717,1925.9 717.5,1926.1 718,1925.1 718.5,1924.7 719,1924 719.5,1923.9 720,1923.7 720.5,1923.6 721,1922.6 721.5,1922.2 722,1921.9 722.5,1922 723,1922.1 723.5,1921.6 724,1921.5 724.5,1921.5 725,1921 725.5,1921.3 726,1920.1 726.5,1920.3 727,1920.2 727.5,1919.7 728,1920 728.5,1919.8 729,1919.6 729.5,1919.5 730,1918.8 730.5,1918.5 731,1918.8 731.5,1919.1 732,1918.4 732.5,1918.4 733,1918.8 733.5,1918.3 734,1918.3 734.5,1917.9 735,1918.2 735.5,1917.5 736,1917.9 736.5,1917.7 737,1917.4 737.5,1917 738,1917.6 738.5,1917.1 739,1916.7 739.5,1917 740,1917.3 740.5,1916.2 741,1916 741.5,1916.1 742,1916.8 742.5,1916.4 743,1916.4 743.5,1915.7 744,1915.7 744.5,1916.1 745,1915.8 745.5,1915.9 746,1915.6 746.5,1915.9 747,1915.8 747.5,1915.8 748,1915.4 748.5,1914.7 749,1914.5 749.5,1915.3 750,1915.1 750.5,1914.4 751,1914 751.5,1914.3 752,1914.5 752.5,1914.5 753,1914 753.5,1913.8 754,1913.7 754.5,1913.9 755,1913.7 755.5,1913.5 756,1914.3 756.5,1914 757,1913.9 757.5,1913.2 758,1913.6 758.5,1913.5 759,1913.5 759.5,1913.6 760,1913.4 760.5,1913.3 761,1913.2 761.5,1913.1 762,1912.7 762.5,1913.3 763,1913.2 763.5,1913 764,1913.9 764.5,1914 765,1913.8 765.5,1913.5 766,1913.8 766.5,1913.5 767,1913.8 767.5,1913.4 768,1913.7 768.5,1913.5 769,1913 769.5,1913.3 770,1913.4 770.5,1914 771,1913.6 771.5,1913.4 772,1913.3 772.5,1913.2 773,1912.8 773.5,1912.3 774,1912.6 774.5,1912.4 775,1912.2 775.5,1912.7 776,1912.8 776.5,1911.9 777,1912.4 777.5,1912.9 778,1913.4 778.5,1913.3 779,1913 779.5,1912.8 780,1913 780.5,1913.3 781,1913.4 781.5,1913.9 782,1913.7 782.5,1913.4 783,1913.1 783.5,1913.1 784,1913 784.5,1913 785,1912.9 785.5,1913.1 786,1912.7 786.5,1912.9 787,1913.2 787.5,1912.9 788,1913.1 788.5,1913.1 789,1912.6 789.5,1913 790,1913.6 790.5,1913 791,1912.8 791.5,1913 792,1913.4 792.5,1913.2 793,1913.3 793.5,1913.7 794,1912.5 794.5,1913.3 795,1913.8 795.5,1913 796,1913.1 796.5,1912.8 797,1912.6 797.5,1912.8 798,1913.3 798.5,1913.5 799,1912.7 799.5,1913.4 800,1912.9 800.5,1913.4 801,1912.7 801.5,1912.7 802,1912.9 802.5,1913.8 803,1912.9 803.5,1912.4 804,1913.1 804.5,1912.6 805,1912.6 805.5,1913 806,1912.6 806.5,1912.8 807,1912.7 807.5,1912.9 808,1912.9 808.5,1912.4 809,1913.4 809.5,1913 810,1912.8 810.5,1913.4 811,1913.4 811.5,1913.2 812,1913.6 812.5,1913 813,1913.4 813.5,1913.1 814,1913.3 814.5,1913.2 815,1912.8 815.5,1913.3 816,1913.1 816.5,1912.6 817,1912.3 817.5,1912.9 818,1912.7 818.5,1912.8 819,1912.8 819.5,1913.1 820,1913.1 820.5,1912.4 821,1912.3 821.5,1912.1 822,1912.3 822.5,1912.6 823,1912.3 823.5,1911.7 824,1911.8 824.5,1912.1 825,1912 825.5,1912 826,1912.3 826.5,1912.1 827,1912.4 827.5,1912 828,1911.9 828.5,1912.3 829,1911.6 829.5,1912.2 830,1912.2 830.5,1912.1 831,1912.7 831.5,1912 832,1912.6 832.5,1912.1 833,1911.7 833.5,1912 834,1911.7 834.5,1911.7 835,1912.1 835.5,1911.9 836,1911.5 836.5,1912 837,1911.9 837.5,1911.8 838,1911.5 838.5,1911.8 839,1910.8 839.5,1911.4 840,1911.2 840.5,1911.5 841,1911.2 841.5,1911.6 842,1912.2 842.5,1911.2 843,1911.6 843.5,1911.4 844,1911.4 844.5,1911.4 845,1911.3 845.5,1911.3 846,1911.2 846.5,1910.6 847,1910.7 847.5,1909.9 848,1910.3 848.5,1910.6 849,1910.2 849.5,1910 850,1910.2 850.5,1910 851,1910.4 851.5,1910.2 852,1910.2 852.5,1910.5 853,1909.5 853.5,1910.4 854,1909.1 854.5,1909.8 855,1910.8 855.5,1910.7 856,1910.3 856.5,1910.4 857,1910.9 857.5,1910.5 858,1911 858.5,1910.2 859,1910.2 859.5,1910.4 860,1909.9 860.5,1909.6 861,1909.8 861.5,1909.9 862,1909.5 862.5,1910 863,1909.9 863.5,1910.4 864,1910.3 864.5,1910.3 865,1910.4 865.5,1910.6 866,1910.7 866.5,1910.1 867,1910.2 867.5,1911 868,1910.3 868.5,1910 869,1910.4 869.5,1910.4 870,1909.8 870.5,1910.2 871,1910.5 871.5,1910.5 872,1910.6 872.5,1909.9 873,1910.3 873.5,1910.1 874,1910.1 874.5,1910.5 875,1910.8 875.5,1911 876,1910.9 876.5,1910.5 877,1910.6 877.5,1910.8 878,1910.8 878.5,1910.9 879,1911.2 879.5,1910.9 880,1910.9 880.5,1911.1 881,1911.4 881.5,1911.2 882,1911.4 882.5,1911.6 883,1911.2 883.5,1911.6 884,1911.4 884.5,1910.8 885,1911.5 885.5,1910.7 886,1910.1 886.5,1910.1 887,1910.1 887.5,1910.6 888,1910.5 888.5,1910.5 889,1910.8 889.5,1910.7 890,1910.7 890.5,1910.8 891,1911.1 891.5,1910.4 892,1911.1 892.5,1910.5 893,1911.2 893.5,1911.3 894,1911.6 894.5,1911.8 895,1911.5 895.5,1911.4 896,1911.7 896.5,1911.4 897,1911.5 897.5,1911.8 898,1911.2 898.5,1911.8 899,1911.9 899.5,1911.2 900,1911.8 900.5,1911.6 901,1911.4 901.5,1911.2 902,1911 902.5,1911.1 903,1911.4 903.5,1910.8 904,1911.4 904.5,1910.9 905,1911.1 905.5,1911 906,1911.5 906.5,1910.3 907,1911.4 907.5,1911 908,1911.2 908.5,1911.2 909,1911.3 909.5,1911.3 910,1911.7 910.5,1911 911,1911.6 911.5,1911.3 912,1911.8 912.5,1911.5 913,1911.8 913.5,1912.2 914,1911.8 914.5,1911.6 915,1911.6 915.5,1911.9 916,1911.6 916.5,1911.8 917,1912.2 917.5,1912.6 918,1913 918.5,1912.2 919,1912.7 919.5,1912.1 920,1912.1 920.5,1912.4 921,1912 921.5,1912.1 922,1911.8 922.5,1911.7 923,1911.3 923.5,1911.9 924,1911.5 924.5,1911.2 925,1911.4 925.5,1911.7 926,1911.6 926.5,1911.3 927,1912 927.5,1912 928,1911.8 928.5,1911.9 929,1912.2 929.5,1912.3 930,1912.4 930.5,1912.6 931,1912.6 931.5,1912.1 932,1912.7 932.5,1912.1 933,1912.3" fill="none" stroke="#0000ff" stroke-width="1.9" stroke-linejoin="round"/>
<circle cx="752.9" cy="1777.7" r="8.2" fill="none" stroke="#f3a51f" stroke-width="2.9"/>
<circle cx="669.5" cy="1991.3" r="8.2" fill="none" stroke="#f3a51f" stroke-width="2.9"/>
<text x="804.5" y="1786" font-size="30.8" font-weight="bold" fill="#000" text-anchor="start">NMDA</text>
<text x="654.2" y="2054.2" font-size="31.4" font-weight="bold" fill="#000" text-anchor="start">AMPA</text>
<text x="543.5" y="1731.3" font-size="30" font-weight="bold" font-style="italic" fill="#231815">Cyld<tspan font-size="20" dx="2.3" dy="-13.8">-/-</tspan></text>
<path d="M521.1,1952 L521.1,2023.6 L578.1,2023.6" fill="none" stroke="#000" stroke-width="3.6" stroke-linejoin="miter"/>
<text x="507.4" y="2027.8" font-size="30.5" font-weight="bold" fill="#000" text-anchor="start" transform="rotate(-90 507.4 2027.8)">100 pA</text>
<text x="512.7" y="2055.5" font-size="30.6" font-weight="bold" fill="#000" text-anchor="start">25 ms</text>
<text x="1063.7" y="1734.5" font-size="34" font-weight="bold" fill="#000" text-anchor="start">L</text>
<line x1="1207.2" y1="2073.2" x2="1207.2" y2="1769.5" stroke="#000" stroke-width="3.5" stroke-linecap="butt"/>
<line x1="1193.2" y1="2071.4" x2="1207.2" y2="2071.4" stroke="#000" stroke-width="3.5"/>
<text x="1186" y="2079.4" font-size="30" font-weight="bold" fill="#000" text-anchor="end">0</text>
<line x1="1193.2" y1="1996.4" x2="1207.2" y2="1996.4" stroke="#000" stroke-width="3.5"/>
<text x="1186" y="2004.4" font-size="30" font-weight="bold" fill="#000" text-anchor="end">2</text>
<line x1="1193.2" y1="1921.4" x2="1207.2" y2="1921.4" stroke="#000" stroke-width="3.5"/>
<text x="1184.9" y="1929.4" font-size="30" font-weight="bold" fill="#000" text-anchor="end">4</text>
<line x1="1193.2" y1="1846.5" x2="1207.2" y2="1846.5" stroke="#000" stroke-width="3.5"/>
<text x="1185.8" y="1854.5" font-size="30" font-weight="bold" fill="#000" text-anchor="end">6</text>
<line x1="1193.2" y1="1771.5" x2="1207.2" y2="1771.5" stroke="#000" stroke-width="3.5"/>
<text x="1185.7" y="1779.5" font-size="30" font-weight="bold" fill="#000" text-anchor="end">8</text>
<line x1="1193.2" y1="2071.4" x2="1409.3" y2="2071.4" stroke="#000" stroke-width="3.6"/>
<line x1="1263.1" y1="2071" x2="1263.1" y2="2084.3" stroke="#000" stroke-width="3.6"/>
<line x1="1350.1" y1="2071" x2="1350.1" y2="2084.3" stroke="#000" stroke-width="3.6"/>
<text x="1120.1" y="2071.1" font-size="30.1" font-weight="bold" fill="#000" text-anchor="start" transform="rotate(-90 1120.1 2071.1)">AMPAR/NMDAR ratio</text>
<text x="1218.6" y="2115.5" font-size="30" font-weight="bold" font-style="italic" fill="#231815">Cyld<tspan font-size="20" dx="2.3" dy="-13.8">+/+</tspan></text>
<text x="1323.9" y="2115.5" font-size="30" font-weight="bold" font-style="italic" fill="#231815">Cyld<tspan font-size="20" dx="2.3" dy="-13.8">-/-</tspan></text>
<circle cx="1268.4" cy="1859.6" r="6.1" fill="#fff" stroke="#8c8c8c" stroke-width="3.2"/>
<circle cx="1259.8" cy="1882.2" r="6.1" fill="#fff" stroke="#8c8c8c" stroke-width="3.2"/>
<circle cx="1259.8" cy="1914.5" r="6.1" fill="#fff" stroke="#8c8c8c" stroke-width="3.2"/>
<circle cx="1268.4" cy="1918.8" r="6.1" fill="#fff" stroke="#8c8c8c" stroke-width="3.2"/>
<circle cx="1249.1" cy="1940.3" r="6.1" fill="#fff" stroke="#8c8c8c" stroke-width="3.2"/>
<circle cx="1259.8" cy="1940.3" r="6.1" fill="#fff" stroke="#8c8c8c" stroke-width="3.2"/>
<circle cx="1268.4" cy="1940.3" r="6.1" fill="#fff" stroke="#8c8c8c" stroke-width="3.2"/>
<circle cx="1259.8" cy="1960.7" r="6.1" fill="#fff" stroke="#8c8c8c" stroke-width="3.2"/>
<circle cx="1268.4" cy="1969.3" r="6.1" fill="#fff" stroke="#8c8c8c" stroke-width="3.2"/>
<circle cx="1240.5" cy="1989.7" r="6.1" fill="#fff" stroke="#8c8c8c" stroke-width="3.2"/>
<circle cx="1250.2" cy="1986.5" r="6.1" fill="#fff" stroke="#8c8c8c" stroke-width="3.2"/>
<circle cx="1259.8" cy="1982.2" r="6.1" fill="#fff" stroke="#8c8c8c" stroke-width="3.2"/>
<circle cx="1268.4" cy="1981.1" r="6.1" fill="#fff" stroke="#8c8c8c" stroke-width="3.2"/>
<circle cx="1277" cy="1980" r="6.1" fill="#fff" stroke="#8c8c8c" stroke-width="3.2"/>
<circle cx="1286.7" cy="1989.7" r="6.1" fill="#fff" stroke="#8c8c8c" stroke-width="3.2"/>
<circle cx="1259.8" cy="1995.1" r="6.1" fill="#fff" stroke="#8c8c8c" stroke-width="3.2"/>
<circle cx="1268.4" cy="2003.7" r="6.1" fill="#fff" stroke="#8c8c8c" stroke-width="3.2"/>
<circle cx="1259.8" cy="2010.1" r="6.1" fill="#fff" stroke="#8c8c8c" stroke-width="3.2"/>
<circle cx="1259.8" cy="2029.5" r="6.1" fill="#fff" stroke="#8c8c8c" stroke-width="3.2"/>
<circle cx="1349.1" cy="1942.4" r="6.1" fill="#fff" stroke="#7f7ff2" stroke-width="3.2"/>
<circle cx="1338.3" cy="1953.2" r="6.1" fill="#fff" stroke="#7f7ff2" stroke-width="3.2"/>
<circle cx="1349.1" cy="1962.8" r="6.1" fill="#fff" stroke="#7f7ff2" stroke-width="3.2"/>
<circle cx="1359.8" cy="1967.1" r="6.1" fill="#fff" stroke="#7f7ff2" stroke-width="3.2"/>
<circle cx="1338.3" cy="1971.4" r="6.1" fill="#fff" stroke="#7f7ff2" stroke-width="3.2"/>
<circle cx="1349.1" cy="1984.3" r="6.1" fill="#fff" stroke="#7f7ff2" stroke-width="3.2"/>
<circle cx="1371.6" cy="1987.6" r="6.1" fill="#fff" stroke="#7f7ff2" stroke-width="3.2"/>
<circle cx="1327.6" cy="1995.1" r="6.1" fill="#fff" stroke="#7f7ff2" stroke-width="3.2"/>
<circle cx="1338.3" cy="1994" r="6.1" fill="#fff" stroke="#7f7ff2" stroke-width="3.2"/>
<circle cx="1359.8" cy="1994" r="6.1" fill="#fff" stroke="#7f7ff2" stroke-width="3.2"/>
<circle cx="1349.1" cy="1998.3" r="6.1" fill="#fff" stroke="#7f7ff2" stroke-width="3.2"/>
<circle cx="1359.8" cy="2006.9" r="6.1" fill="#fff" stroke="#7f7ff2" stroke-width="3.2"/>
<circle cx="1349.1" cy="2016.6" r="6.1" fill="#fff" stroke="#7f7ff2" stroke-width="3.2"/>
<circle cx="1359.8" cy="2022" r="6.1" fill="#fff" stroke="#7f7ff2" stroke-width="3.2"/>
<circle cx="1338.3" cy="2029.5" r="6.1" fill="#fff" stroke="#7f7ff2" stroke-width="3.2"/>
<path d="M1238,2071.4 L1238,1964.5 L1290.3,1964.5 L1290.3,2071.4" fill="none" stroke="#3a3a3a" stroke-width="3.5" stroke-linejoin="round"/>
<path d="M1324.1,2071.4 L1324.1,1991.6 L1375.1,1991.6 L1375.1,2071.4" fill="none" stroke="#0000ff" stroke-width="3.8" stroke-linejoin="round"/>
<line x1="1264.2" y1="1964" x2="1264.2" y2="1952.1" stroke="#3a3a3a" stroke-width="3.5"/>
<line x1="1248" y1="1952.1" x2="1280.4" y2="1952.1" stroke="#3a3a3a" stroke-width="3.5"/>
<line x1="1349.6" y1="1991" x2="1349.6" y2="1982.2" stroke="#0000ff" stroke-width="3.8"/>
<line x1="1334" y1="1982.2" x2="1365.2" y2="1982.2" stroke="#0000ff" stroke-width="3.8"/>
<line x1="1271.7" y1="1827.4" x2="1369.5" y2="1827.4" stroke="#000" stroke-width="4"/>
<text x="1310.9" y="1831.5" font-size="62" font-weight="bold" fill="#000" text-anchor="start">*</text>
</svg>
</body></html>
